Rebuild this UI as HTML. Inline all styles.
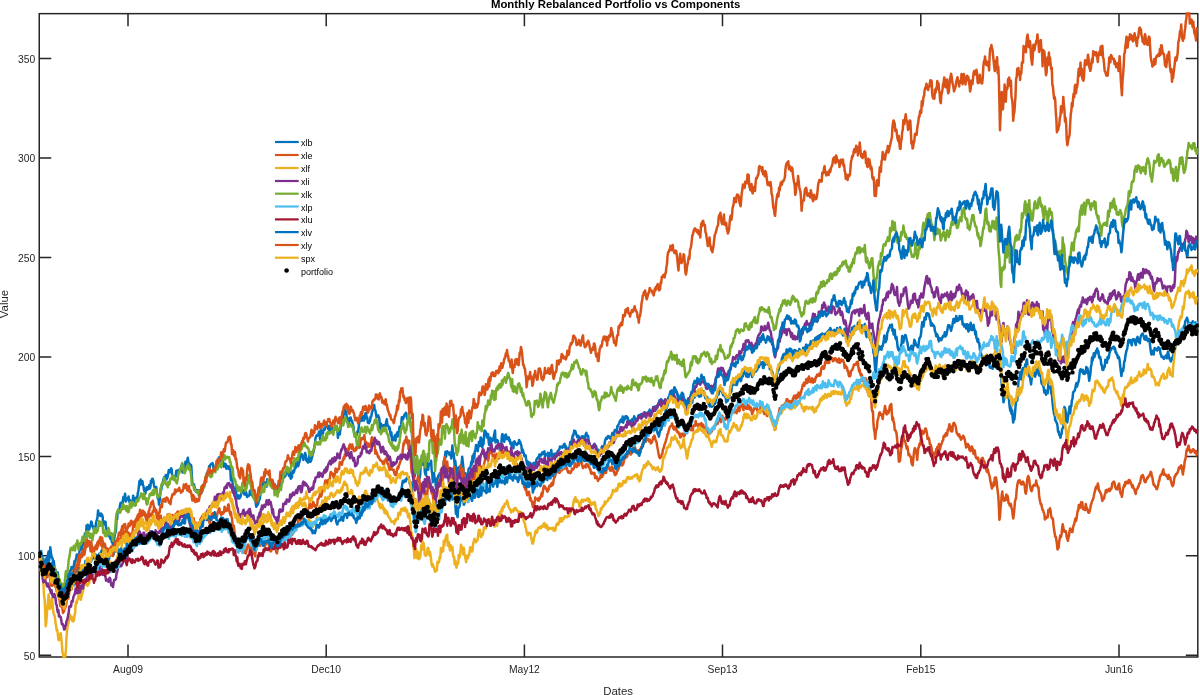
<!DOCTYPE html>
<html><head><meta charset="utf-8"><title>Monthly Rebalanced Portfolio vs Components</title>
<style>
html,body{margin:0;padding:0;background:#fff;}
body{width:1200px;height:695px;overflow:hidden;position:relative;font-family:"Liberation Sans",sans-serif;}
svg{position:absolute;left:0;top:0;}
text{font-family:"Liberation Sans",sans-serif;fill:#262626;}
</style></head><body>
<svg width="1200" height="695" viewBox="0 0 1200 695">
<rect width="1200" height="695" fill="#fff"/>
<defs><clipPath id="c"><rect x="38.3" y="12.3" width="1160.4" height="646.2"/></clipPath></defs>
<!--BOX-->
<rect x="39.25" y="13.65" width="1158.55" height="643.35" fill="none" stroke="#262626" stroke-width="1.5"/>
<path d="M128.0,657v-12.5M128.0,13.65v12.5M326.2,657v-12.5M326.2,13.65v12.5M524.4,657v-12.5M524.4,13.65v12.5M722.5,657v-12.5M722.5,13.65v12.5M920.8,657v-12.5M920.8,13.65v12.5M1119.0,657v-12.5M1119.0,13.65v12.5M39.25,58.4h12M1197.8,58.4h-12M39.25,158.0h12M1197.8,158.0h-12M39.25,257.5h12M1197.8,257.5h-12M39.25,357.0h12M1197.8,357.0h-12M39.25,456.4h12M1197.8,456.4h-12M39.25,555.8h12M1197.8,555.8h-12M39.25,655.2h12M1197.8,655.2h-12" stroke="#262626" stroke-width="1.5" fill="none"/>
<g clip-path="url(#c)">
<path d="M39.4,556.0 40.0,557.9 40.6,558.9 41.1,557.0 41.7,560.4 42.3,562.5 42.9,566.9 43.4,560.4 44.0,565.8 44.6,567.4 45.2,561.6 45.7,563.1 46.3,558.7 46.9,557.6 47.5,557.5 48.0,554.5 48.6,551.5 49.2,560.6 49.8,554.6 50.3,547.3 50.9,552.6 51.5,556.5 52.1,557.6 52.6,558.7 53.2,562.6 53.8,560.9 54.4,567.2 54.9,572.3 55.5,569.8 56.1,575.3 56.7,578.5 57.2,573.2 57.8,572.4 58.4,578.5 59.0,584.8 59.5,584.7 60.1,586.4 60.7,585.6 61.3,586.8 61.8,588.7 62.4,594.4 63.0,590.6 63.6,596.4 64.1,592.7 64.7,592.9 65.3,589.1 65.9,585.5 66.4,584.8 67.0,580.0 67.6,580.7 68.2,580.9 68.7,574.0 69.3,574.1 69.9,571.0 70.5,571.1 71.0,569.2 71.6,566.9 72.2,569.1 72.8,567.2 73.3,569.2 73.9,565.2 74.5,561.2 75.1,562.3 75.6,560.4 76.2,557.7 76.8,554.4 77.4,554.4 77.9,558.3 78.5,559.1 79.1,555.2 79.7,548.8 80.2,547.8 80.8,546.6 81.4,546.0 82.0,550.0 82.5,544.0 83.1,545.1 83.7,538.6 84.3,542.3 84.8,533.5 85.4,535.6 86.0,535.7 86.6,525.4 87.1,526.8 87.7,524.7 88.3,530.3 88.9,529.0 89.4,529.2 90.0,525.4 90.6,525.3 91.2,521.5 91.7,522.2 92.3,526.5 92.9,526.1 93.5,528.8 94.0,527.9 94.6,530.3 95.2,529.5 95.8,524.4 96.3,521.4 96.9,519.9 97.5,517.4 98.1,510.4 98.6,513.5 99.2,515.1 99.8,513.9 100.4,516.0 100.9,513.4 101.5,514.5 102.1,514.9 102.7,517.1 103.2,525.3 103.8,521.3 104.4,521.4 105.0,522.3 105.5,521.8 106.1,528.4 106.7,529.2 107.3,529.3 107.9,532.4 108.4,531.0 109.0,535.1 109.6,536.9 110.2,538.6 110.7,536.1 111.3,538.4 111.9,542.4 112.5,541.8 113.0,545.9 113.6,545.8 114.2,540.0 114.8,533.3 115.3,533.2 115.9,531.0 116.5,519.3 117.1,519.1 117.6,511.9 118.2,509.9 118.8,510.4 119.4,509.5 119.9,506.1 120.5,502.9 121.1,502.7 121.7,504.5 122.2,507.3 122.8,500.9 123.4,496.9 124.0,500.0 124.5,497.7 125.1,493.8 125.7,501.6 126.3,499.8 126.8,499.1 127.4,498.2 128.0,499.2 128.6,496.5 129.1,501.7 129.7,499.9 130.3,501.5 130.9,501.4 131.4,500.9 132.0,501.0 132.6,501.5 133.2,495.7 133.7,503.4 134.3,497.9 134.9,499.7 135.5,504.3 136.0,498.2 136.6,497.0 137.2,498.5 137.8,493.1 138.3,491.3 138.9,486.2 139.5,481.1 140.1,484.8 140.6,479.5 141.2,483.1 141.8,484.2 142.4,481.2 142.9,485.0 143.5,486.1 144.1,490.5 144.7,488.6 145.2,494.0 145.8,490.7 146.4,488.0 147.0,487.1 147.5,489.7 148.1,488.6 148.7,488.8 149.3,485.0 149.8,488.6 150.4,486.8 151.0,480.7 151.6,482.3 152.1,479.0 152.7,478.8 153.3,480.6 153.9,484.8 154.4,487.0 155.0,487.2 155.6,488.6 156.2,487.0 156.7,490.9 157.3,495.2 157.9,498.9 158.5,497.5 159.0,504.7 159.6,500.8 160.2,494.6 160.8,488.7 161.3,489.8 161.9,484.7 162.5,485.2 163.1,480.6 163.6,478.7 164.2,477.2 164.8,476.7 165.4,476.8 165.9,475.0 166.5,479.5 167.1,478.2 167.7,476.6 168.2,473.7 168.8,470.0 169.4,470.9 170.0,472.1 170.5,470.3 171.1,468.3 171.7,469.3 172.3,477.2 172.8,478.4 173.4,479.4 174.0,476.4 174.6,476.2 175.1,477.2 175.7,476.5 176.3,470.7 176.9,472.2 177.5,470.5 178.0,474.2 178.6,471.9 179.2,469.7 179.8,469.3 180.3,469.4 180.9,468.2 181.5,465.4 182.1,471.2 182.6,472.5 183.2,472.4 183.8,470.6 184.4,470.1 184.9,464.5 185.5,461.8 186.1,461.6 186.7,464.2 187.2,460.4 187.8,457.7 188.4,462.1 189.0,463.7 189.5,463.6 190.1,465.5 190.7,464.7 191.3,465.8 191.8,475.2 192.4,483.0 193.0,484.3 193.6,485.4 194.1,484.6 194.7,488.1 195.3,489.5 195.9,491.8 196.4,491.1 197.0,490.1 197.6,492.7 198.2,490.2 198.7,491.8 199.3,491.1 199.9,494.2 200.5,490.0 201.0,493.8 201.6,492.2 202.2,490.6 202.8,489.0 203.3,487.3 203.9,484.7 204.5,483.4 205.1,480.4 205.6,479.1 206.2,477.7 206.8,473.3 207.4,474.8 207.9,471.5 208.5,474.3 209.1,466.2 209.7,467.8 210.2,465.1 210.8,464.5 211.4,463.9 212.0,463.3 212.5,463.1 213.1,464.6 213.7,470.2 214.3,468.7 214.8,467.9 215.4,469.3 216.0,466.6 216.6,468.0 217.1,463.8 217.7,460.5 218.3,461.8 218.9,457.5 219.4,460.8 220.0,457.4 220.6,459.6 221.2,460.5 221.7,462.3 222.3,460.4 222.9,460.2 223.5,464.2 224.0,466.7 224.6,464.4 225.2,463.7 225.8,464.4 226.3,468.7 226.9,466.0 227.5,465.9 228.1,467.0 228.6,468.9 229.2,466.5 229.8,467.5 230.4,470.1 230.9,480.2 231.5,479.2 232.1,478.0 232.7,484.1 233.2,487.7 233.8,491.5 234.4,487.5 235.0,487.8 235.5,488.0 236.1,491.7 236.7,497.9 237.3,498.4 237.8,496.5 238.4,495.4 239.0,498.5 239.6,498.4 240.1,497.1 240.7,496.4 241.3,491.9 241.9,491.0 242.4,490.2 243.0,492.4 243.6,490.3 244.2,494.4 244.8,492.7 245.3,494.7 245.9,491.6 246.5,493.7 247.1,497.0 247.6,496.6 248.2,495.6 248.8,495.7 249.4,495.4 249.9,490.8 250.5,494.6 251.1,490.9 251.7,489.6 252.2,492.0 252.8,496.8 253.4,496.6 254.0,498.1 254.5,497.9 255.1,500.7 255.7,502.7 256.3,506.7 256.8,506.0 257.4,502.4 258.0,504.5 258.6,501.4 259.1,497.0 259.7,499.6 260.3,494.1 260.9,493.1 261.4,487.9 262.0,488.5 262.6,483.6 263.2,482.0 263.7,483.7 264.3,483.7 264.9,482.3 265.5,485.1 266.0,485.1 266.6,486.6 267.2,479.2 267.8,480.6 268.3,482.8 268.9,481.1 269.5,482.6 270.1,482.2 270.6,482.4 271.2,484.3 271.8,484.6 272.4,485.6 272.9,481.3 273.5,485.3 274.1,485.1 274.7,484.2 275.2,486.0 275.8,485.7 276.4,491.6 277.0,490.1 277.5,489.6 278.1,489.3 278.7,489.4 279.3,486.3 279.8,487.8 280.4,484.1 281.0,481.4 281.6,479.0 282.1,474.6 282.7,477.1 283.3,478.2 283.9,477.5 284.4,477.2 285.0,476.0 285.6,475.5 286.2,472.8 286.7,473.5 287.3,471.7 287.9,469.1 288.5,473.5 289.0,475.9 289.6,471.5 290.2,475.5 290.8,478.7 291.3,476.7 291.9,477.3 292.5,471.0 293.1,470.9 293.6,472.6 294.2,471.0 294.8,468.5 295.4,466.4 295.9,467.6 296.5,461.1 297.1,462.7 297.7,463.1 298.2,466.2 298.8,463.7 299.4,462.0 300.0,459.2 300.5,455.0 301.1,454.4 301.7,454.1 302.3,455.5 302.8,457.6 303.4,459.9 304.0,457.1 304.6,456.2 305.1,452.9 305.7,455.1 306.3,460.6 306.9,459.1 307.4,461.9 308.0,462.5 308.6,461.1 309.2,455.8 309.7,459.7 310.3,461.8 310.9,461.2 311.5,459.1 312.1,457.0 312.6,454.3 313.2,452.9 313.8,450.4 314.4,447.2 314.9,443.8 315.5,438.1 316.1,436.6 316.7,435.2 317.2,435.7 317.8,435.2 318.4,434.3 319.0,431.7 319.5,433.8 320.1,439.6 320.7,430.1 321.3,431.4 321.8,433.5 322.4,434.5 323.0,433.4 323.6,428.8 324.1,429.9 324.7,429.7 325.3,427.9 325.9,423.5 326.4,423.0 327.0,425.4 327.6,425.5 328.2,429.1 328.7,426.1 329.3,431.7 329.9,426.5 330.5,430.8 331.0,431.3 331.6,431.3 332.2,431.2 332.8,428.2 333.3,428.3 333.9,428.2 334.5,427.2 335.1,426.0 335.6,428.6 336.2,429.8 336.8,429.1 337.4,431.0 337.9,437.9 338.5,430.8 339.1,429.1 339.7,434.5 340.2,430.9 340.8,426.9 341.4,421.7 342.0,425.0 342.5,417.5 343.1,418.7 343.7,411.9 344.3,410.6 344.8,409.1 345.4,414.0 346.0,411.1 346.6,415.7 347.1,422.0 347.7,422.2 348.3,426.7 348.9,423.8 349.4,417.9 350.0,420.2 350.6,417.4 351.2,420.6 351.7,420.2 352.3,422.0 352.9,424.6 353.5,426.6 354.0,432.1 354.6,433.4 355.2,436.2 355.8,436.9 356.3,436.0 356.9,433.7 357.5,431.3 358.1,431.9 358.6,428.5 359.2,422.4 359.8,420.4 360.4,421.3 360.9,417.3 361.5,418.3 362.1,420.6 362.7,418.0 363.2,416.3 363.8,420.6 364.4,419.5 365.0,415.1 365.5,413.2 366.1,412.9 366.7,418.4 367.3,417.6 367.8,422.7 368.4,422.0 369.0,423.1 369.6,422.0 370.1,420.5 370.7,416.5 371.3,416.6 371.9,412.6 372.4,411.0 373.0,409.9 373.6,408.4 374.2,405.0 374.7,409.6 375.3,410.2 375.9,413.3 376.5,417.2 377.0,417.2 377.6,416.5 378.2,415.3 378.8,417.5 379.3,418.4 379.9,429.0 380.5,426.1 381.1,423.8 381.7,427.0 382.2,425.7 382.8,427.4 383.4,425.3 384.0,427.9 384.5,425.0 385.1,427.0 385.7,424.9 386.3,421.1 386.8,419.2 387.4,425.6 388.0,425.4 388.6,426.4 389.1,428.9 389.7,427.5 390.3,432.3 390.9,435.7 391.4,432.6 392.0,440.2 392.6,437.9 393.2,440.4 393.7,438.2 394.3,437.1 394.9,435.3 395.5,440.7 396.0,435.0 396.6,434.3 397.2,432.4 397.8,436.5 398.3,434.9 398.9,431.6 399.5,426.8 400.1,428.9 400.6,427.6 401.2,424.7 401.8,417.2 402.4,417.5 402.9,419.6 403.5,417.6 404.1,415.6 404.7,414.4 405.2,415.3 405.8,412.8 406.4,414.7 407.0,418.5 407.5,418.7 408.1,418.8 408.7,420.4 409.3,420.5 409.8,418.1 410.4,425.9 411.0,425.4 411.6,430.6 412.1,435.6 412.7,449.2 413.3,452.7 413.9,463.3 414.4,477.1 415.0,475.3 415.6,464.4 416.2,461.6 416.7,460.3 417.3,467.5 417.9,472.6 418.5,475.7 419.0,479.6 419.6,478.2 420.2,475.0 420.8,459.7 421.3,462.7 421.9,455.8 422.5,464.7 423.1,460.1 423.6,460.6 424.2,453.6 424.8,471.9 425.4,474.1 425.9,475.2 426.5,462.3 427.1,463.8 427.7,463.4 428.2,469.7 428.8,464.4 429.4,464.8 430.0,463.2 430.5,464.3 431.1,460.7 431.7,471.0 432.3,474.1 432.8,482.2 433.4,474.6 434.0,473.0 434.6,479.0 435.1,478.2 435.7,485.3 436.3,489.2 436.9,488.1 437.4,478.9 438.0,476.8 438.6,475.2 439.2,474.9 439.7,473.3 440.3,475.2 440.9,473.2 441.5,480.3 442.0,476.3 442.6,471.1 443.2,470.2 443.8,461.3 444.3,459.6 444.9,457.2 445.5,451.7 446.1,456.7 446.6,452.0 447.2,451.2 447.8,453.0 448.4,452.4 449.0,453.3 449.5,455.0 450.1,452.4 450.7,453.6 451.3,458.5 451.8,453.4 452.4,445.4 453.0,453.4 453.6,453.1 454.1,458.0 454.7,465.8 455.3,460.8 455.9,466.9 456.4,475.1 457.0,467.9 457.6,467.9 458.2,472.7 458.7,472.1 459.3,467.0 459.9,467.6 460.5,466.0 461.0,467.0 461.6,463.8 462.2,456.7 462.8,462.2 463.3,467.4 463.9,475.6 464.5,473.4 465.1,478.6 465.6,473.3 466.2,477.6 466.8,478.4 467.4,478.9 467.9,480.2 468.5,469.5 469.1,468.1 469.7,467.9 470.2,467.7 470.8,465.4 471.4,461.4 472.0,463.9 472.5,456.1 473.1,461.9 473.7,453.9 474.3,458.3 474.8,451.1 475.4,450.6 476.0,445.1 476.6,448.2 477.1,448.9 477.7,451.2 478.3,446.8 478.9,442.0 479.4,443.7 480.0,446.0 480.6,437.4 481.2,438.1 481.7,443.2 482.3,447.6 482.9,444.3 483.5,444.1 484.0,436.3 484.6,430.4 485.2,431.5 485.8,431.9 486.3,433.4 486.9,437.5 487.5,433.9 488.1,434.1 488.6,441.1 489.2,445.1 489.8,444.0 490.4,437.8 490.9,442.5 491.5,439.8 492.1,441.3 492.7,438.8 493.2,440.4 493.8,436.4 494.4,433.5 495.0,430.4 495.5,442.4 496.1,440.8 496.7,442.0 497.3,440.1 497.8,440.9 498.4,445.0 499.0,444.5 499.6,449.3 500.1,446.3 500.7,446.0 501.3,444.4 501.9,435.7 502.4,434.1 503.0,435.5 503.6,438.5 504.2,441.8 504.7,435.5 505.3,439.3 505.9,434.6 506.5,437.2 507.0,439.0 507.6,438.8 508.2,439.4 508.8,437.4 509.3,441.0 509.9,439.9 510.5,444.0 511.1,442.9 511.6,445.5 512.2,446.5 512.8,442.7 513.4,448.4 513.9,442.2 514.5,441.3 515.1,443.0 515.7,444.1 516.3,443.8 516.8,445.0 517.4,443.6 518.0,443.8 518.6,443.5 519.1,439.9 519.7,441.5 520.3,442.1 520.9,444.5 521.4,445.8 522.0,452.5 522.6,449.4 523.2,451.8 523.7,452.6 524.3,456.1 524.9,455.4 525.5,455.3 526.0,458.4 526.6,461.6 527.2,464.6 527.8,461.7 528.3,466.4 528.9,462.6 529.5,464.2 530.1,462.9 530.6,463.9 531.2,465.1 531.8,464.6 532.4,465.7 532.9,468.7 533.5,462.9 534.1,464.9 534.7,464.0 535.2,462.6 535.8,464.3 536.4,460.0 537.0,458.4 537.5,458.2 538.1,457.3 538.7,457.9 539.3,454.6 539.8,456.7 540.4,454.6 541.0,455.5 541.6,454.5 542.1,452.7 542.7,452.2 543.3,453.7 543.9,451.8 544.4,451.2 545.0,456.8 545.6,454.2 546.2,454.3 546.7,454.3 547.3,455.5 547.9,452.7 548.5,458.6 549.0,453.4 549.6,456.2 550.2,453.8 550.8,452.4 551.3,450.0 551.9,456.3 552.5,456.9 553.1,457.3 553.6,454.5 554.2,453.9 554.8,454.3 555.4,453.5 555.9,457.2 556.5,456.4 557.1,453.9 557.7,451.2 558.2,451.0 558.8,449.8 559.4,449.2 560.0,446.6 560.5,446.9 561.1,446.6 561.7,446.6 562.3,447.8 562.8,447.5 563.4,446.1 564.0,444.1 564.6,443.9 565.1,447.5 565.7,445.9 566.3,447.2 566.9,451.6 567.4,450.1 568.0,451.6 568.6,448.5 569.2,447.4 569.7,446.6 570.3,441.9 570.9,442.8 571.5,441.2 572.0,439.2 572.6,435.6 573.2,436.1 573.8,433.0 574.3,430.6 574.9,433.2 575.5,431.4 576.1,434.1 576.6,434.7 577.2,437.3 577.8,436.4 578.4,435.8 578.9,437.4 579.5,441.5 580.1,441.7 580.7,442.5 581.2,437.5 581.8,436.4 582.4,436.3 583.0,436.3 583.5,438.1 584.1,439.0 584.7,439.9 585.3,435.8 585.9,433.8 586.4,432.9 587.0,436.1 587.6,435.5 588.2,436.3 588.7,441.4 589.3,443.6 589.9,446.6 590.5,447.0 591.0,447.9 591.6,446.3 592.2,447.9 592.8,448.2 593.3,447.5 593.9,444.7 594.5,443.7 595.1,445.9 595.6,445.5 596.2,446.2 596.8,449.6 597.4,450.9 597.9,450.7 598.5,449.8 599.1,452.8 599.7,455.2 600.2,452.2 600.8,451.5 601.4,448.1 602.0,446.4 602.5,448.5 603.1,446.2 603.7,446.5 604.3,445.5 604.8,442.1 605.4,439.7 606.0,438.1 606.6,437.7 607.1,438.8 607.7,436.4 608.3,436.1 608.9,436.4 609.4,437.4 610.0,438.4 610.6,437.7 611.2,436.6 611.7,435.8 612.3,432.9 612.9,434.7 613.5,432.4 614.0,435.5 614.6,430.5 615.2,429.9 615.8,431.3 616.3,429.9 616.9,430.5 617.5,426.0 618.1,426.0 618.6,424.2 619.2,423.4 619.8,421.2 620.4,421.3 620.9,419.6 621.5,421.7 622.1,420.1 622.7,416.6 623.2,422.7 623.8,419.7 624.4,419.9 625.0,418.3 625.5,416.2 626.1,418.3 626.7,416.4 627.3,418.5 627.8,417.6 628.4,422.9 629.0,421.5 629.6,420.8 630.1,420.6 630.7,422.9 631.3,420.5 631.9,421.1 632.4,418.9 633.0,421.8 633.6,418.8 634.2,416.3 634.7,417.8 635.3,418.5 635.9,419.3 636.5,420.7 637.0,419.4 637.6,418.8 638.2,416.0 638.8,415.1 639.3,416.2 639.9,417.7 640.5,414.6 641.1,414.1 641.6,417.3 642.2,417.2 642.8,416.7 643.4,413.7 643.9,413.8 644.5,412.2 645.1,416.2 645.7,413.6 646.2,413.1 646.8,413.0 647.4,414.3 648.0,413.1 648.5,411.6 649.1,411.4 649.7,409.6 650.3,412.9 650.8,413.4 651.4,412.3 652.0,412.3 652.6,410.3 653.2,407.8 653.7,407.2 654.3,409.0 654.9,406.5 655.5,409.7 656.0,409.6 656.6,406.1 657.2,407.3 657.8,406.4 658.3,403.6 658.9,402.4 659.5,400.3 660.1,401.6 660.6,401.5 661.2,399.1 661.8,404.0 662.4,402.2 662.9,400.7 663.5,404.8 664.1,405.6 664.7,406.8 665.2,404.6 665.8,403.6 666.4,403.9 667.0,405.3 667.5,401.6 668.1,398.7 668.7,396.9 669.3,397.7 669.8,397.1 670.4,391.5 671.0,392.3 671.6,390.5 672.1,391.1 672.7,392.2 673.3,392.4 673.9,389.0 674.4,387.4 675.0,390.2 675.6,392.2 676.2,390.5 676.7,392.7 677.3,393.7 677.9,395.9 678.5,395.8 679.0,397.9 679.6,398.9 680.2,397.7 680.8,398.0 681.3,395.9 681.9,392.8 682.5,397.0 683.1,399.2 683.6,401.9 684.2,399.2 684.8,400.6 685.4,402.2 685.9,403.3 686.5,400.7 687.1,401.5 687.7,402.5 688.2,398.4 688.8,398.3 689.4,398.2 690.0,400.7 690.5,401.0 691.1,403.7 691.7,402.7 692.3,402.7 692.8,398.5 693.4,397.6 694.0,395.8 694.6,397.6 695.1,395.3 695.7,391.9 696.3,393.5 696.9,395.3 697.4,393.4 698.0,393.4 698.6,392.6 699.2,396.7 699.7,395.4 700.3,395.6 700.9,396.3 701.5,391.9 702.0,392.3 702.6,391.8 703.2,393.4 703.8,391.4 704.3,393.6 704.9,396.6 705.5,398.4 706.1,398.9 706.6,398.1 707.2,397.1 707.8,399.7 708.4,403.9 708.9,402.9 709.5,406.3 710.1,406.5 710.7,405.1 711.2,404.4 711.8,406.8 712.4,405.4 713.0,406.1 713.5,405.6 714.1,403.4 714.7,404.1 715.3,403.1 715.8,400.1 716.4,398.0 717.0,396.0 717.6,391.6 718.1,393.2 718.7,394.4 719.3,388.8 719.9,389.5 720.4,388.9 721.0,390.9 721.6,388.2 722.2,392.4 722.8,393.9 723.3,395.2 723.9,394.7 724.5,395.9 725.1,397.0 725.6,396.8 726.2,402.4 726.8,400.8 727.4,401.2 727.9,400.5 728.5,398.1 729.1,395.6 729.7,395.5 730.2,393.3 730.8,390.1 731.4,391.5 732.0,384.8 732.5,384.6 733.1,384.6 733.7,384.9 734.3,382.0 734.8,380.9 735.4,381.6 736.0,385.1 736.6,385.1 737.1,384.2 737.7,381.5 738.3,378.4 738.9,377.2 739.4,378.0 740.0,378.8 740.6,381.3 741.2,380.5 741.7,376.1 742.3,376.6 742.9,376.3 743.5,373.6 744.0,370.5 744.6,370.2 745.2,373.9 745.8,373.0 746.3,376.6 746.9,371.6 747.5,373.8 748.1,376.9 748.6,376.9 749.2,373.0 749.8,373.2 750.4,370.7 750.9,371.7 751.5,374.1 752.1,377.0 752.7,372.6 753.2,375.1 753.8,373.3 754.4,370.4 755.0,371.1 755.5,371.6 756.1,371.6 756.7,368.7 757.3,369.6 757.8,367.3 758.4,367.4 759.0,367.0 759.6,361.3 760.1,364.4 760.7,364.4 761.3,362.8 761.9,362.9 762.4,362.1 763.0,367.9 763.6,368.0 764.2,362.3 764.7,363.8 765.3,364.8 765.9,360.9 766.5,362.7 767.0,361.1 767.6,361.9 768.2,364.6 768.8,365.0 769.3,366.1 769.9,369.3 770.5,368.2 771.1,370.2 771.6,370.5 772.2,371.8 772.8,374.2 773.4,377.9 773.9,384.3 774.5,385.1 775.1,384.4 775.7,382.2 776.2,382.3 776.8,375.0 777.4,373.4 778.0,368.9 778.5,370.6 779.1,367.4 779.7,365.7 780.3,362.9 780.8,362.5 781.4,362.2 782.0,357.6 782.6,358.9 783.1,354.7 783.7,357.1 784.3,353.7 784.9,354.5 785.4,358.0 786.0,355.2 786.6,349.4 787.2,355.8 787.7,353.5 788.3,351.9 788.9,349.5 789.5,348.8 790.1,348.6 790.6,351.5 791.2,349.3 791.8,350.8 792.4,352.5 792.9,356.3 793.5,353.4 794.1,350.6 794.7,350.0 795.2,352.9 795.8,351.5 796.4,350.9 797.0,353.5 797.5,354.6 798.1,352.3 798.7,352.9 799.3,349.0 799.8,350.5 800.4,353.1 801.0,352.0 801.6,354.1 802.1,353.2 802.7,350.3 803.3,347.8 803.9,348.7 804.4,349.9 805.0,351.6 805.6,346.6 806.2,344.6 806.7,348.5 807.3,345.5 807.9,347.7 808.5,345.9 809.0,346.8 809.6,344.5 810.2,344.5 810.8,341.3 811.3,343.2 811.9,342.1 812.5,343.4 813.1,340.5 813.6,343.1 814.2,345.5 814.8,341.0 815.4,337.7 815.9,341.2 816.5,339.8 817.1,337.0 817.7,336.3 818.2,338.2 818.8,339.1 819.4,335.2 820.0,337.4 820.5,335.6 821.1,334.3 821.7,333.9 822.3,333.5 822.8,335.1 823.4,334.7 824.0,336.6 824.6,334.1 825.1,334.9 825.7,333.6 826.3,334.0 826.9,332.2 827.4,332.8 828.0,331.2 828.6,332.5 829.2,329.7 829.7,331.3 830.3,328.1 830.9,329.4 831.5,332.0 832.0,330.8 832.6,331.5 833.2,331.6 833.8,330.5 834.3,329.8 834.9,330.5 835.5,331.4 836.1,331.6 836.6,331.5 837.2,328.0 837.8,330.2 838.4,329.7 838.9,332.2 839.5,330.6 840.1,327.3 840.7,330.7 841.2,331.2 841.8,333.3 842.4,332.5 843.0,335.5 843.5,334.3 844.1,330.4 844.7,328.7 845.3,329.0 845.8,333.0 846.4,336.6 847.0,341.3 847.6,339.8 848.1,338.7 848.7,339.7 849.3,341.0 849.9,336.2 850.4,338.3 851.0,334.4 851.6,330.3 852.2,327.4 852.7,327.4 853.3,330.9 853.9,328.3 854.5,325.9 855.0,328.0 855.6,330.1 856.2,327.3 856.8,327.4 857.4,327.9 857.9,322.8 858.5,322.4 859.1,327.0 859.7,327.7 860.2,329.5 860.8,327.5 861.4,325.3 862.0,327.8 862.5,325.8 863.1,327.6 863.7,331.0 864.3,327.8 864.8,324.1 865.4,329.4 866.0,334.8 866.6,337.0 867.1,335.5 867.7,331.6 868.3,329.7 868.9,332.1 869.4,333.3 870.0,337.1 870.6,340.5 871.2,333.5 871.7,342.6 872.3,345.0 872.9,346.2 873.5,353.5 874.0,352.9 874.6,362.1 875.2,370.1 875.8,372.2 876.3,365.9 876.9,357.4 877.5,352.3 878.1,350.6 878.6,345.7 879.2,349.6 879.8,347.7 880.4,348.6 880.9,346.9 881.5,349.8 882.1,346.0 882.7,346.2 883.2,343.6 883.8,339.9 884.4,335.4 885.0,338.8 885.5,342.3 886.1,340.8 886.7,339.3 887.3,332.8 887.8,331.8 888.4,329.9 889.0,327.7 889.6,327.4 890.1,325.1 890.7,327.3 891.3,327.4 891.9,324.5 892.4,330.9 893.0,328.9 893.6,334.5 894.2,334.3 894.7,330.0 895.3,337.2 895.9,339.2 896.5,337.0 897.0,341.0 897.6,346.8 898.2,349.4 898.8,350.4 899.3,349.0 899.9,351.5 900.5,352.8 901.1,344.7 901.6,344.0 902.2,336.0 902.8,340.0 903.4,342.5 903.9,338.0 904.5,336.7 905.1,335.1 905.7,335.2 906.2,337.3 906.8,340.9 907.4,342.3 908.0,346.3 908.5,349.8 909.1,347.9 909.7,348.2 910.3,350.8 910.8,351.1 911.4,345.8 912.0,347.0 912.6,351.8 913.1,347.2 913.7,345.8 914.3,339.8 914.9,341.1 915.4,342.3 916.0,345.1 916.6,345.5 917.2,345.2 917.7,347.2 918.3,347.2 918.9,341.5 919.5,338.0 920.0,337.6 920.6,336.6 921.2,332.3 921.8,325.6 922.3,322.1 922.9,326.6 923.5,326.6 924.1,322.2 924.6,317.5 925.2,318.4 925.8,319.5 926.4,313.4 927.0,313.3 927.5,313.3 928.1,315.1 928.7,313.8 929.3,316.0 929.8,319.1 930.4,320.5 931.0,325.5 931.6,323.7 932.1,323.4 932.7,325.6 933.3,325.1 933.9,326.0 934.4,327.1 935.0,331.6 935.6,332.3 936.2,336.2 936.7,336.4 937.3,334.5 937.9,337.1 938.5,340.0 939.0,341.4 939.6,338.0 940.2,339.0 940.8,339.7 941.3,340.1 941.9,338.8 942.5,337.3 943.1,335.8 943.6,336.0 944.2,336.4 944.8,332.2 945.4,336.4 945.9,335.8 946.5,334.7 947.1,331.3 947.7,327.9 948.2,325.2 948.8,325.3 949.4,325.2 950.0,326.7 950.5,328.8 951.1,330.8 951.7,327.8 952.3,325.8 952.8,322.6 953.4,319.1 954.0,322.7 954.6,322.6 955.1,318.6 955.7,321.0 956.3,316.0 956.9,318.5 957.4,321.1 958.0,319.9 958.6,320.2 959.2,318.5 959.7,315.9 960.3,318.8 960.9,319.1 961.5,316.7 962.0,316.1 962.6,324.5 963.2,323.6 963.8,325.0 964.3,326.5 964.9,324.5 965.5,324.6 966.1,328.6 966.6,326.7 967.2,324.2 967.8,328.9 968.4,331.5 968.9,330.0 969.5,324.7 970.1,325.3 970.7,322.8 971.2,330.0 971.8,326.7 972.4,329.9 973.0,326.9 973.5,324.7 974.1,328.4 974.7,330.3 975.3,334.6 975.8,331.4 976.4,337.8 977.0,339.3 977.6,341.8 978.1,339.0 978.7,342.9 979.3,343.5 979.9,349.5 980.4,352.6 981.0,353.4 981.6,355.8 982.2,358.3 982.7,362.2 983.3,363.8 983.9,363.3 984.5,362.4 985.0,361.1 985.6,362.4 986.2,365.4 986.8,363.8 987.3,364.5 987.9,361.1 988.5,364.7 989.1,362.9 989.6,367.0 990.2,367.7 990.8,367.2 991.4,367.7 991.9,367.2 992.5,368.8 993.1,367.0 993.7,360.6 994.3,361.4 994.8,359.4 995.4,364.8 996.0,367.5 996.6,360.0 997.1,365.3 997.7,368.5 998.3,366.8 998.9,368.0 999.4,355.0 1000.0,364.3 1000.6,369.4 1001.2,374.2 1001.7,384.5 1002.3,387.8 1002.9,394.5 1003.5,402.3 1004.0,400.3 1004.6,394.7 1005.2,388.6 1005.8,397.0 1006.3,394.3 1006.9,393.1 1007.5,397.2 1008.1,395.4 1008.6,393.7 1009.2,402.2 1009.8,408.1 1010.4,410.9 1010.9,406.3 1011.5,414.0 1012.1,410.3 1012.7,417.9 1013.2,422.5 1013.8,418.1 1014.4,419.5 1015.0,413.4 1015.5,406.8 1016.1,400.3 1016.7,401.1 1017.3,400.6 1017.8,394.2 1018.4,382.4 1019.0,377.9 1019.6,378.9 1020.1,372.2 1020.7,378.4 1021.3,379.5 1021.9,369.4 1022.4,373.4 1023.0,368.0 1023.6,368.6 1024.2,369.5 1024.7,368.1 1025.3,364.3 1025.9,367.7 1026.5,360.0 1027.0,359.4 1027.6,367.6 1028.2,369.7 1028.8,376.1 1029.3,376.3 1029.9,376.8 1030.5,380.5 1031.1,384.4 1031.6,379.6 1032.2,376.6 1032.8,375.3 1033.4,371.3 1033.9,374.7 1034.5,368.9 1035.1,376.7 1035.7,373.8 1036.2,374.3 1036.8,368.6 1037.4,369.0 1038.0,369.8 1038.5,366.8 1039.1,375.4 1039.7,374.1 1040.3,372.8 1040.8,375.1 1041.4,382.5 1042.0,384.2 1042.6,380.1 1043.1,385.7 1043.7,387.9 1044.3,392.5 1044.9,390.8 1045.4,390.3 1046.0,394.7 1046.6,391.8 1047.2,391.5 1047.7,393.2 1048.3,384.6 1048.9,380.4 1049.5,385.0 1050.0,388.3 1050.6,383.6 1051.2,393.3 1051.8,392.4 1052.3,399.6 1052.9,406.1 1053.5,410.0 1054.1,414.6 1054.6,413.1 1055.2,420.4 1055.8,420.4 1056.4,422.4 1056.9,423.0 1057.5,425.8 1058.1,431.8 1058.7,431.4 1059.2,434.9 1059.8,434.5 1060.4,437.7 1061.0,435.0 1061.6,433.5 1062.1,429.1 1062.7,428.2 1063.3,427.3 1063.9,414.0 1064.4,407.1 1065.0,408.1 1065.6,410.8 1066.2,421.6 1066.7,416.8 1067.3,422.4 1067.9,418.1 1068.5,412.9 1069.0,410.7 1069.6,406.4 1070.2,413.5 1070.8,406.5 1071.3,406.5 1071.9,400.2 1072.5,399.0 1073.1,392.5 1073.6,391.7 1074.2,391.4 1074.8,390.2 1075.4,388.2 1075.9,385.0 1076.5,383.0 1077.1,386.4 1077.7,383.4 1078.2,382.6 1078.8,380.6 1079.4,375.5 1080.0,370.2 1080.5,369.2 1081.1,371.8 1081.7,370.8 1082.3,370.7 1082.8,369.9 1083.4,373.7 1084.0,373.7 1084.6,373.9 1085.1,371.3 1085.7,373.0 1086.3,367.0 1086.9,369.9 1087.4,368.1 1088.0,371.3 1088.6,375.5 1089.2,380.8 1089.7,377.5 1090.3,374.8 1090.9,367.1 1091.5,364.4 1092.0,357.6 1092.6,360.4 1093.2,357.6 1093.8,353.2 1094.3,357.3 1094.9,355.3 1095.5,353.5 1096.1,350.7 1096.6,352.3 1097.2,348.4 1097.8,352.6 1098.4,351.2 1098.9,356.2 1099.5,358.2 1100.1,356.9 1100.7,359.2 1101.2,364.5 1101.8,365.0 1102.4,369.6 1103.0,370.0 1103.5,369.5 1104.1,366.5 1104.7,366.9 1105.3,359.7 1105.8,361.0 1106.4,361.0 1107.0,362.6 1107.6,356.9 1108.1,357.0 1108.7,358.4 1109.3,353.9 1109.9,352.0 1110.4,349.7 1111.0,349.8 1111.6,347.9 1112.2,347.8 1112.7,348.0 1113.3,346.7 1113.9,346.7 1114.5,349.4 1115.0,348.1 1115.6,352.5 1116.2,352.2 1116.8,354.6 1117.3,354.6 1117.9,358.1 1118.5,356.6 1119.1,358.0 1119.6,360.1 1120.2,366.0 1120.8,371.0 1121.4,376.0 1121.9,372.2 1122.5,369.3 1123.1,371.1 1123.7,367.1 1124.2,361.5 1124.8,360.9 1125.4,355.9 1126.0,352.7 1126.5,350.6 1127.1,349.1 1127.7,345.6 1128.3,340.4 1128.8,339.9 1129.4,342.4 1130.0,339.9 1130.6,340.4 1131.2,343.0 1131.7,345.3 1132.3,341.0 1132.9,339.2 1133.5,339.2 1134.0,339.4 1134.6,340.6 1135.2,342.8 1135.8,345.1 1136.3,339.8 1136.9,338.2 1137.5,336.9 1138.1,339.0 1138.6,341.7 1139.2,340.7 1139.8,343.3 1140.4,338.2 1140.9,336.2 1141.5,334.8 1142.1,334.1 1142.7,333.5 1143.2,334.9 1143.8,336.3 1144.4,339.2 1145.0,338.2 1145.5,339.7 1146.1,336.0 1146.7,337.7 1147.3,339.6 1147.8,341.1 1148.4,339.4 1149.0,338.7 1149.6,340.9 1150.1,345.7 1150.7,350.6 1151.3,354.4 1151.9,351.8 1152.4,350.8 1153.0,353.8 1153.6,354.5 1154.2,350.5 1154.7,348.1 1155.3,348.6 1155.9,348.7 1156.5,349.5 1157.0,350.5 1157.6,350.3 1158.2,347.3 1158.8,347.6 1159.3,349.0 1159.9,348.5 1160.5,353.9 1161.1,355.0 1161.6,357.0 1162.2,356.2 1162.8,356.9 1163.4,357.8 1163.9,358.9 1164.5,357.2 1165.1,357.1 1165.7,355.6 1166.2,356.2 1166.8,358.3 1167.4,353.9 1168.0,351.6 1168.5,353.9 1169.1,357.4 1169.7,359.4 1170.3,358.5 1170.8,361.5 1171.4,360.4 1172.0,357.7 1172.6,358.9 1173.1,355.1 1173.7,354.5 1174.3,351.7 1174.9,349.3 1175.4,346.6 1176.0,342.8 1176.6,342.0 1177.2,343.6 1177.7,342.3 1178.3,340.8 1178.9,335.7 1179.5,338.1 1180.0,337.1 1180.6,334.9 1181.2,336.9 1181.8,333.4 1182.3,332.7 1182.9,331.2 1183.5,328.2 1184.1,325.8 1184.6,328.1 1185.2,321.7 1185.8,320.1 1186.4,319.9 1186.9,317.8 1187.5,319.4 1188.1,321.4 1188.7,326.6 1189.2,326.1 1189.8,328.0 1190.4,322.9 1191.0,326.6 1191.5,323.9 1192.1,323.7 1192.7,321.2 1193.3,323.8 1193.8,325.9 1194.4,325.0 1195.0,322.5 1195.6,325.1 1196.1,325.8 1196.7,325.2 1197.3,325.7" stroke="#0072BD" stroke-width="2.5" stroke-linejoin="round" fill="none"/>
<path d="M39.4,556.0 40.0,556.1 40.6,559.8 41.1,565.7 41.7,565.6 42.3,562.6 42.9,564.3 43.4,571.3 44.0,564.9 44.6,568.7 45.2,574.0 45.7,570.5 46.3,571.2 46.9,567.7 47.5,564.0 48.0,572.0 48.6,565.4 49.2,569.5 49.8,577.2 50.3,579.1 50.9,577.7 51.5,580.7 52.1,576.8 52.6,573.3 53.2,574.2 53.8,571.8 54.4,574.0 54.9,577.3 55.5,581.0 56.1,581.3 56.7,585.3 57.2,582.5 57.8,586.8 58.4,587.0 59.0,589.6 59.5,593.3 60.1,597.1 60.7,597.7 61.3,596.4 61.8,602.3 62.4,602.8 63.0,602.8 63.6,602.7 64.1,598.5 64.7,598.0 65.3,595.3 65.9,591.6 66.4,589.5 67.0,591.3 67.6,588.0 68.2,583.7 68.7,581.6 69.3,582.6 69.9,582.4 70.5,579.4 71.0,582.2 71.6,575.1 72.2,576.3 72.8,572.3 73.3,575.3 73.9,569.4 74.5,570.3 75.1,570.1 75.6,568.0 76.2,564.6 76.8,567.7 77.4,567.7 77.9,568.3 78.5,566.6 79.1,563.2 79.7,561.5 80.2,557.6 80.8,555.0 81.4,557.2 82.0,556.9 82.5,552.8 83.1,552.5 83.7,555.2 84.3,554.8 84.8,552.2 85.4,548.3 86.0,547.2 86.6,544.8 87.1,546.6 87.7,544.3 88.3,542.1 88.9,541.3 89.4,543.0 90.0,547.3 90.6,546.0 91.2,541.4 91.7,545.5 92.3,550.1 92.9,550.7 93.5,547.8 94.0,552.5 94.6,547.7 95.2,547.2 95.8,548.8 96.3,549.1 96.9,549.2 97.5,546.4 98.1,546.4 98.6,541.2 99.2,543.0 99.8,538.9 100.4,537.0 100.9,540.3 101.5,538.9 102.1,537.7 102.7,541.5 103.2,545.6 103.8,543.2 104.4,545.8 105.0,544.0 105.5,547.6 106.1,551.0 106.7,548.5 107.3,552.2 107.9,548.9 108.4,552.4 109.0,549.0 109.6,554.5 110.2,551.7 110.7,547.4 111.3,546.5 111.9,546.8 112.5,546.4 113.0,546.3 113.6,547.9 114.2,548.7 114.8,549.1 115.3,549.0 115.9,549.1 116.5,549.8 117.1,545.2 117.6,543.4 118.2,539.2 118.8,539.9 119.4,538.9 119.9,540.5 120.5,540.9 121.1,537.5 121.7,536.6 122.2,537.0 122.8,533.5 123.4,532.0 124.0,534.3 124.5,531.6 125.1,535.7 125.7,531.8 126.3,529.3 126.8,531.6 127.4,534.2 128.0,532.3 128.6,532.7 129.1,534.6 129.7,536.7 130.3,534.9 130.9,533.7 131.4,534.8 132.0,534.5 132.6,531.9 133.2,525.6 133.7,524.2 134.3,521.7 134.9,520.8 135.5,520.1 136.0,522.2 136.6,518.1 137.2,517.2 137.8,519.7 138.3,522.3 138.9,518.5 139.5,521.8 140.1,517.2 140.6,515.9 141.2,513.6 141.8,516.0 142.4,512.8 142.9,510.9 143.5,512.6 144.1,515.0 144.7,514.1 145.2,516.3 145.8,516.9 146.4,521.2 147.0,524.8 147.5,522.2 148.1,520.5 148.7,518.7 149.3,516.4 149.8,513.5 150.4,514.9 151.0,514.6 151.6,515.9 152.1,514.5 152.7,511.1 153.3,512.0 153.9,508.7 154.4,508.4 155.0,509.1 155.6,511.1 156.2,512.2 156.7,515.8 157.3,518.5 157.9,514.7 158.5,516.2 159.0,523.5 159.6,520.0 160.2,515.9 160.8,515.5 161.3,521.9 161.9,518.9 162.5,519.7 163.1,520.8 163.6,520.8 164.2,521.2 164.8,519.9 165.4,518.8 165.9,518.0 166.5,520.7 167.1,518.6 167.7,514.4 168.2,517.4 168.8,518.1 169.4,514.0 170.0,519.3 170.5,519.9 171.1,520.8 171.7,518.4 172.3,514.9 172.8,515.4 173.4,517.4 174.0,517.3 174.6,516.8 175.1,517.0 175.7,513.8 176.3,516.0 176.9,514.2 177.5,511.7 178.0,511.5 178.6,513.8 179.2,517.3 179.8,515.3 180.3,514.6 180.9,513.7 181.5,510.7 182.1,515.6 182.6,514.0 183.2,513.8 183.8,511.3 184.4,511.3 184.9,513.8 185.5,514.9 186.1,516.0 186.7,517.9 187.2,516.2 187.8,514.7 188.4,515.9 189.0,516.0 189.5,512.6 190.1,513.1 190.7,515.1 191.3,521.5 191.8,521.0 192.4,519.0 193.0,520.2 193.6,518.1 194.1,521.1 194.7,522.5 195.3,522.5 195.9,524.1 196.4,525.9 197.0,523.9 197.6,525.9 198.2,525.9 198.7,525.5 199.3,524.2 199.9,521.7 200.5,519.4 201.0,518.2 201.6,517.7 202.2,515.9 202.8,515.3 203.3,516.2 203.9,514.5 204.5,516.0 205.1,515.7 205.6,515.3 206.2,514.4 206.8,514.2 207.4,514.5 207.9,514.9 208.5,517.3 209.1,521.7 209.7,523.7 210.2,519.2 210.8,518.5 211.4,515.3 212.0,514.1 212.5,513.6 213.1,513.0 213.7,513.5 214.3,514.6 214.8,513.6 215.4,515.2 216.0,517.9 216.6,517.3 217.1,515.3 217.7,512.3 218.3,510.7 218.9,508.7 219.4,508.4 220.0,512.8 220.6,513.3 221.2,515.0 221.7,512.3 222.3,512.4 222.9,513.7 223.5,513.2 224.0,511.3 224.6,506.7 225.2,508.6 225.8,510.5 226.3,511.1 226.9,508.6 227.5,510.4 228.1,504.8 228.6,504.3 229.2,509.0 229.8,512.7 230.4,514.9 230.9,512.3 231.5,516.2 232.1,519.2 232.7,526.8 233.2,527.9 233.8,525.7 234.4,530.6 235.0,536.2 235.5,538.8 236.1,539.5 236.7,545.9 237.3,546.6 237.8,548.9 238.4,550.2 239.0,547.7 239.6,549.5 240.1,550.6 240.7,547.8 241.3,546.6 241.9,550.5 242.4,550.3 243.0,547.9 243.6,548.4 244.2,552.9 244.8,549.4 245.3,551.5 245.9,553.5 246.5,550.3 247.1,547.8 247.6,545.7 248.2,544.6 248.8,546.4 249.4,546.8 249.9,549.4 250.5,549.1 251.1,548.8 251.7,547.1 252.2,547.4 252.8,550.1 253.4,553.8 254.0,552.5 254.5,553.4 255.1,556.3 255.7,550.1 256.3,549.2 256.8,545.9 257.4,546.0 258.0,545.7 258.6,544.4 259.1,545.5 259.7,543.9 260.3,545.8 260.9,541.8 261.4,543.7 262.0,539.4 262.6,541.5 263.2,545.0 263.7,544.0 264.3,543.9 264.9,546.3 265.5,544.1 266.0,544.2 266.6,541.3 267.2,540.5 267.8,541.2 268.3,543.0 268.9,544.7 269.5,550.0 270.1,547.9 270.6,551.4 271.2,551.0 271.8,549.2 272.4,547.4 272.9,544.6 273.5,545.3 274.1,542.3 274.7,544.8 275.2,549.3 275.8,549.4 276.4,552.4 277.0,553.2 277.5,549.6 278.1,549.1 278.7,545.7 279.3,544.7 279.8,546.0 280.4,547.8 281.0,546.2 281.6,545.4 282.1,543.1 282.7,539.9 283.3,540.8 283.9,540.9 284.4,537.1 285.0,536.8 285.6,537.3 286.2,539.6 286.7,537.2 287.3,536.9 287.9,535.2 288.5,532.2 289.0,535.1 289.6,534.1 290.2,533.9 290.8,532.4 291.3,535.4 291.9,534.9 292.5,534.1 293.1,532.4 293.6,532.5 294.2,531.0 294.8,530.9 295.4,528.3 295.9,526.9 296.5,526.5 297.1,524.9 297.7,524.6 298.2,520.4 298.8,519.4 299.4,517.5 300.0,516.7 300.5,520.5 301.1,518.1 301.7,518.9 302.3,518.0 302.8,515.6 303.4,513.0 304.0,512.3 304.6,511.2 305.1,511.0 305.7,508.2 306.3,510.9 306.9,511.8 307.4,511.3 308.0,508.7 308.6,508.5 309.2,506.9 309.7,502.4 310.3,507.7 310.9,507.3 311.5,504.4 312.1,507.4 312.6,506.0 313.2,501.9 313.8,503.5 314.4,505.1 314.9,506.3 315.5,507.4 316.1,505.8 316.7,505.6 317.2,504.0 317.8,499.0 318.4,498.9 319.0,497.6 319.5,496.0 320.1,493.2 320.7,496.4 321.3,496.4 321.8,493.6 322.4,491.1 323.0,488.6 323.6,489.1 324.1,490.0 324.7,483.9 325.3,480.6 325.9,485.1 326.4,480.7 327.0,481.7 327.6,484.1 328.2,480.0 328.7,480.9 329.3,481.7 329.9,478.0 330.5,472.3 331.0,472.0 331.6,474.1 332.2,473.2 332.8,474.6 333.3,476.2 333.9,478.3 334.5,475.5 335.1,472.2 335.6,468.4 336.2,470.6 336.8,472.2 337.4,470.6 337.9,468.9 338.5,468.9 339.1,469.0 339.7,462.3 340.2,463.1 340.8,462.2 341.4,462.8 342.0,464.7 342.5,460.6 343.1,460.6 343.7,457.3 344.3,458.6 344.8,454.4 345.4,456.2 346.0,455.7 346.6,453.6 347.1,448.7 347.7,449.8 348.3,451.2 348.9,449.5 349.4,445.5 350.0,444.4 350.6,447.1 351.2,446.7 351.7,448.7 352.3,444.4 352.9,448.5 353.5,450.0 354.0,451.1 354.6,450.3 355.2,450.6 355.8,447.6 356.3,449.8 356.9,447.9 357.5,446.4 358.1,441.9 358.6,446.0 359.2,447.9 359.8,447.3 360.4,442.4 360.9,438.2 361.5,439.9 362.1,438.0 362.7,438.6 363.2,437.5 363.8,438.8 364.4,435.1 365.0,442.1 365.5,443.2 366.1,441.8 366.7,443.3 367.3,444.4 367.8,447.1 368.4,443.6 369.0,444.7 369.6,446.5 370.1,446.4 370.7,445.0 371.3,440.3 371.9,437.3 372.4,438.6 373.0,442.6 373.6,439.9 374.2,443.2 374.7,444.6 375.3,453.6 375.9,450.3 376.5,452.6 377.0,453.0 377.6,455.5 378.2,457.4 378.8,456.6 379.3,458.1 379.9,459.7 380.5,460.5 381.1,460.4 381.7,461.3 382.2,461.5 382.8,463.7 383.4,462.0 384.0,464.8 384.5,460.7 385.1,461.4 385.7,459.1 386.3,458.4 386.8,459.2 387.4,463.7 388.0,463.2 388.6,465.6 389.1,468.2 389.7,470.0 390.3,467.3 390.9,467.4 391.4,467.7 392.0,469.6 392.6,470.1 393.2,470.0 393.7,469.8 394.3,473.3 394.9,474.8 395.5,472.5 396.0,475.3 396.6,473.0 397.2,468.8 397.8,466.8 398.3,468.5 398.9,465.5 399.5,464.3 400.1,462.0 400.6,461.1 401.2,455.1 401.8,456.0 402.4,453.5 402.9,449.5 403.5,443.3 404.1,444.7 404.7,440.5 405.2,440.9 405.8,439.5 406.4,436.6 407.0,442.9 407.5,439.9 408.1,443.0 408.7,449.6 409.3,440.7 409.8,451.3 410.4,455.7 411.0,462.4 411.6,472.4 412.1,467.9 412.7,475.9 413.3,478.8 413.9,475.0 414.4,487.4 415.0,490.4 415.6,485.7 416.2,488.7 416.7,485.2 417.3,480.2 417.9,477.0 418.5,475.8 419.0,478.6 419.6,481.8 420.2,491.4 420.8,489.0 421.3,492.8 421.9,484.5 422.5,484.8 423.1,486.2 423.6,483.3 424.2,494.2 424.8,493.7 425.4,494.7 425.9,491.5 426.5,492.9 427.1,496.2 427.7,488.4 428.2,481.4 428.8,483.1 429.4,484.0 430.0,486.0 430.5,486.3 431.1,489.9 431.7,493.5 432.3,487.0 432.8,494.7 433.4,501.0 434.0,503.8 434.6,502.0 435.1,507.2 435.7,497.4 436.3,491.8 436.9,495.9 437.4,493.2 438.0,487.0 438.6,484.2 439.2,483.9 439.7,479.2 440.3,483.2 440.9,469.7 441.5,486.1 442.0,483.7 442.6,479.6 443.2,472.9 443.8,461.0 444.3,462.7 444.9,457.0 445.5,465.0 446.1,469.9 446.6,465.3 447.2,461.7 447.8,468.5 448.4,467.3 449.0,471.3 449.5,469.9 450.1,471.4 450.7,478.9 451.3,475.5 451.8,478.0 452.4,481.5 453.0,475.9 453.6,471.1 454.1,466.8 454.7,471.7 455.3,485.0 455.9,481.4 456.4,487.9 457.0,480.8 457.6,476.3 458.2,477.2 458.7,471.7 459.3,474.9 459.9,470.9 460.5,465.4 461.0,478.7 461.6,468.7 462.2,469.8 462.8,473.7 463.3,468.6 463.9,486.4 464.5,475.0 465.1,483.4 465.6,483.1 466.2,489.5 466.8,484.1 467.4,481.3 467.9,480.6 468.5,490.4 469.1,486.8 469.7,482.6 470.2,472.3 470.8,477.4 471.4,480.1 472.0,481.0 472.5,476.3 473.1,469.7 473.7,471.3 474.3,479.0 474.8,472.9 475.4,477.3 476.0,468.0 476.6,464.3 477.1,472.4 477.7,466.3 478.3,466.5 478.9,463.6 479.4,460.9 480.0,466.4 480.6,466.3 481.2,470.6 481.7,468.4 482.3,467.2 482.9,470.7 483.5,467.5 484.0,464.2 484.6,461.7 485.2,458.6 485.8,453.9 486.3,453.1 486.9,452.3 487.5,458.3 488.1,460.7 488.6,458.4 489.2,453.6 489.8,453.1 490.4,449.1 490.9,452.9 491.5,449.4 492.1,452.4 492.7,455.8 493.2,458.1 493.8,459.0 494.4,460.8 495.0,454.7 495.5,458.7 496.1,456.1 496.7,453.9 497.3,458.6 497.8,458.3 498.4,458.7 499.0,457.8 499.6,454.6 500.1,450.1 500.7,451.8 501.3,448.7 501.9,448.9 502.4,453.1 503.0,452.3 503.6,451.0 504.2,453.4 504.7,454.4 505.3,452.6 505.9,452.8 506.5,455.3 507.0,454.8 507.6,450.7 508.2,453.2 508.8,456.6 509.3,454.5 509.9,455.2 510.5,455.6 511.1,455.0 511.6,458.2 512.2,459.6 512.8,457.9 513.4,457.9 513.9,459.5 514.5,457.0 515.1,458.7 515.7,462.6 516.3,465.7 516.8,463.9 517.4,465.1 518.0,472.1 518.6,473.2 519.1,471.1 519.7,473.3 520.3,476.5 520.9,472.2 521.4,474.0 522.0,476.0 522.6,481.4 523.2,483.8 523.7,483.5 524.3,487.3 524.9,488.1 525.5,489.7 526.0,487.7 526.6,492.3 527.2,495.2 527.8,493.0 528.3,493.5 528.9,491.7 529.5,494.8 530.1,499.9 530.6,498.0 531.2,501.0 531.8,501.3 532.4,504.4 532.9,507.1 533.5,502.3 534.1,504.4 534.7,502.5 535.2,497.5 535.8,499.5 536.4,499.2 537.0,499.1 537.5,498.6 538.1,500.7 538.7,500.7 539.3,497.7 539.8,499.0 540.4,497.2 541.0,495.9 541.6,493.1 542.1,496.3 542.7,493.0 543.3,488.1 543.9,485.7 544.4,488.0 545.0,486.7 545.6,488.7 546.2,488.2 546.7,490.1 547.3,491.6 547.9,491.0 548.5,489.7 549.0,486.8 549.6,485.5 550.2,485.5 550.8,486.2 551.3,483.9 551.9,482.8 552.5,485.3 553.1,484.3 553.6,480.1 554.2,477.9 554.8,477.0 555.4,475.3 555.9,472.2 556.5,471.3 557.1,472.2 557.7,469.6 558.2,468.7 558.8,470.3 559.4,472.9 560.0,472.3 560.5,470.7 561.1,470.1 561.7,469.7 562.3,470.1 562.8,465.6 563.4,465.8 564.0,466.3 564.6,468.7 565.1,466.8 565.7,466.0 566.3,468.2 566.9,467.6 567.4,470.5 568.0,472.3 568.6,471.1 569.2,472.8 569.7,472.7 570.3,473.1 570.9,472.2 571.5,470.6 572.0,468.6 572.6,469.9 573.2,469.3 573.8,468.4 574.3,467.0 574.9,462.9 575.5,465.6 576.1,466.5 576.6,467.0 577.2,466.5 577.8,462.9 578.4,461.8 578.9,465.3 579.5,462.1 580.1,462.2 580.7,462.1 581.2,461.4 581.8,462.8 582.4,466.2 583.0,468.0 583.5,466.5 584.1,466.8 584.7,467.0 585.3,465.3 585.9,467.4 586.4,464.0 587.0,466.1 587.6,464.6 588.2,464.9 588.7,467.3 589.3,466.9 589.9,469.6 590.5,469.7 591.0,473.2 591.6,473.7 592.2,473.1 592.8,472.6 593.3,474.0 593.9,474.1 594.5,473.0 595.1,478.2 595.6,477.9 596.2,476.4 596.8,476.9 597.4,478.5 597.9,481.0 598.5,479.6 599.1,479.4 599.7,478.7 600.2,477.5 600.8,474.8 601.4,476.4 602.0,477.1 602.5,475.1 603.1,475.2 603.7,472.7 604.3,471.4 604.8,471.7 605.4,472.7 606.0,472.9 606.6,469.5 607.1,467.2 607.7,466.6 608.3,466.3 608.9,468.5 609.4,467.8 610.0,470.4 610.6,468.5 611.2,470.6 611.7,466.5 612.3,467.7 612.9,468.7 613.5,471.5 614.0,471.1 614.6,474.5 615.2,475.1 615.8,474.1 616.3,474.1 616.9,471.6 617.5,471.0 618.1,469.3 618.6,469.1 619.2,465.9 619.8,465.6 620.4,463.4 620.9,462.0 621.5,463.4 622.1,465.5 622.7,464.7 623.2,464.3 623.8,461.6 624.4,458.0 625.0,458.6 625.5,457.7 626.1,455.2 626.7,457.3 627.3,456.1 627.8,454.0 628.4,452.3 629.0,453.1 629.6,451.6 630.1,453.1 630.7,454.6 631.3,453.5 631.9,453.0 632.4,449.1 633.0,447.2 633.6,449.5 634.2,447.8 634.7,445.9 635.3,449.3 635.9,450.6 636.5,451.5 637.0,452.0 637.6,452.6 638.2,450.3 638.8,450.2 639.3,451.8 639.9,452.8 640.5,452.5 641.1,446.9 641.6,448.5 642.2,444.7 642.8,442.8 643.4,443.9 643.9,440.3 644.5,440.0 645.1,439.2 645.7,441.8 646.2,439.8 646.8,438.1 647.4,439.3 648.0,440.1 648.5,439.2 649.1,441.5 649.7,439.6 650.3,440.6 650.8,443.5 651.4,442.8 652.0,442.3 652.6,439.7 653.2,437.1 653.7,439.1 654.3,435.6 654.9,437.0 655.5,439.5 656.0,441.2 656.6,442.2 657.2,446.3 657.8,449.4 658.3,452.4 658.9,455.9 659.5,457.7 660.1,458.1 660.6,457.3 661.2,456.8 661.8,454.0 662.4,453.6 662.9,449.6 663.5,448.8 664.1,446.2 664.7,444.2 665.2,443.0 665.8,441.1 666.4,438.8 667.0,436.8 667.5,434.2 668.1,433.6 668.7,430.5 669.3,429.0 669.8,427.0 670.4,426.2 671.0,426.1 671.6,425.6 672.1,423.4 672.7,426.6 673.3,428.2 673.9,429.5 674.4,426.7 675.0,429.4 675.6,428.9 676.2,427.5 676.7,431.1 677.3,432.1 677.9,431.8 678.5,432.3 679.0,434.2 679.6,434.9 680.2,437.6 680.8,433.7 681.3,436.7 681.9,434.5 682.5,433.5 683.1,434.4 683.6,434.7 684.2,436.3 684.8,435.0 685.4,433.1 685.9,431.0 686.5,429.4 687.1,428.7 687.7,426.1 688.2,426.4 688.8,427.7 689.4,427.3 690.0,429.7 690.5,428.8 691.1,430.2 691.7,429.0 692.3,427.5 692.8,430.6 693.4,425.6 694.0,425.2 694.6,425.5 695.1,425.7 695.7,421.1 696.3,424.5 696.9,424.0 697.4,425.5 698.0,425.8 698.6,427.7 699.2,424.1 699.7,427.3 700.3,425.8 700.9,425.1 701.5,423.1 702.0,426.4 702.6,427.0 703.2,424.8 703.8,427.3 704.3,430.0 704.9,429.8 705.5,427.1 706.1,427.7 706.6,428.6 707.2,428.9 707.8,432.2 708.4,433.3 708.9,430.6 709.5,432.7 710.1,433.5 710.7,431.7 711.2,430.6 711.8,431.4 712.4,428.7 713.0,427.6 713.5,427.9 714.1,427.7 714.7,425.3 715.3,424.8 715.8,425.1 716.4,422.4 717.0,424.1 717.6,423.8 718.1,421.9 718.7,420.8 719.3,418.2 719.9,419.2 720.4,420.8 721.0,422.1 721.6,418.9 722.2,415.7 722.8,418.5 723.3,417.6 723.9,418.7 724.5,418.6 725.1,419.7 725.6,418.9 726.2,419.0 726.8,418.4 727.4,418.5 727.9,420.5 728.5,420.7 729.1,416.6 729.7,416.1 730.2,413.7 730.8,415.0 731.4,410.7 732.0,412.4 732.5,411.0 733.1,411.7 733.7,412.4 734.3,412.3 734.8,410.5 735.4,411.4 736.0,412.0 736.6,413.3 737.1,409.8 737.7,410.7 738.3,406.5 738.9,408.2 739.4,411.2 740.0,408.1 740.6,405.9 741.2,405.9 741.7,406.0 742.3,404.4 742.9,407.6 743.5,410.1 744.0,406.3 744.6,404.2 745.2,403.6 745.8,408.1 746.3,408.7 746.9,403.6 747.5,407.0 748.1,408.6 748.6,405.5 749.2,405.5 749.8,409.6 750.4,407.7 750.9,407.5 751.5,410.9 752.1,414.2 752.7,412.4 753.2,411.5 753.8,409.4 754.4,407.7 755.0,407.4 755.5,408.6 756.1,406.8 756.7,407.7 757.3,409.9 757.8,412.1 758.4,410.8 759.0,412.3 759.6,410.6 760.1,408.6 760.7,405.6 761.3,409.0 761.9,408.2 762.4,408.7 763.0,410.8 763.6,411.7 764.2,414.0 764.7,414.1 765.3,413.8 765.9,413.5 766.5,413.7 767.0,416.1 767.6,412.9 768.2,411.9 768.8,409.5 769.3,409.9 769.9,411.0 770.5,412.3 771.1,415.6 771.6,419.9 772.2,421.3 772.8,420.0 773.4,422.8 773.9,425.6 774.5,427.3 775.1,429.7 775.7,427.5 776.2,424.0 776.8,420.7 777.4,419.7 778.0,416.1 778.5,415.6 779.1,412.1 779.7,408.2 780.3,411.1 780.8,408.0 781.4,407.8 782.0,405.5 782.6,407.6 783.1,405.5 783.7,407.4 784.3,408.6 784.9,403.2 785.4,404.3 786.0,402.4 786.6,399.4 787.2,399.0 787.7,400.0 788.3,403.8 788.9,403.6 789.5,401.0 790.1,404.1 790.6,403.3 791.2,403.5 791.8,400.7 792.4,401.7 792.9,399.0 793.5,397.6 794.1,395.7 794.7,397.2 795.2,396.0 795.8,399.2 796.4,395.0 797.0,395.9 797.5,397.9 798.1,394.3 798.7,392.5 799.3,396.4 799.8,397.4 800.4,394.4 801.0,392.7 801.6,389.6 802.1,388.6 802.7,384.7 803.3,385.6 803.9,382.7 804.4,385.8 805.0,382.6 805.6,383.4 806.2,379.2 806.7,380.7 807.3,383.0 807.9,378.3 808.5,381.6 809.0,376.4 809.6,381.1 810.2,381.6 810.8,382.1 811.3,380.8 811.9,378.3 812.5,381.2 813.1,382.7 813.6,381.7 814.2,379.3 814.8,381.7 815.4,379.2 815.9,376.7 816.5,377.1 817.1,374.6 817.7,375.9 818.2,375.6 818.8,374.4 819.4,373.6 820.0,375.6 820.5,374.6 821.1,369.7 821.7,367.2 822.3,368.1 822.8,366.4 823.4,368.7 824.0,368.6 824.6,366.3 825.1,362.1 825.7,361.2 826.3,360.6 826.9,362.3 827.4,363.0 828.0,361.6 828.6,358.0 829.2,363.0 829.7,356.0 830.3,358.1 830.9,358.9 831.5,357.8 832.0,357.9 832.6,360.4 833.2,361.3 833.8,359.7 834.3,358.4 834.9,358.4 835.5,358.3 836.1,360.3 836.6,361.3 837.2,359.7 837.8,362.2 838.4,361.6 838.9,358.6 839.5,362.8 840.1,362.8 840.7,361.3 841.2,359.6 841.8,359.8 842.4,361.0 843.0,360.1 843.5,361.5 844.1,363.0 844.7,368.0 845.3,365.3 845.8,366.2 846.4,367.0 847.0,367.6 847.6,371.3 848.1,370.9 848.7,375.2 849.3,376.3 849.9,376.3 850.4,375.6 851.0,371.1 851.6,370.5 852.2,370.0 852.7,368.5 853.3,366.8 853.9,364.5 854.5,364.6 855.0,364.8 855.6,364.5 856.2,363.9 856.8,362.1 857.4,365.1 857.9,361.8 858.5,367.8 859.1,371.6 859.7,369.5 860.2,373.7 860.8,375.4 861.4,373.9 862.0,375.6 862.5,380.5 863.1,380.9 863.7,379.6 864.3,380.4 864.8,382.2 865.4,377.9 866.0,380.2 866.6,379.8 867.1,387.1 867.7,392.4 868.3,389.4 868.9,389.4 869.4,387.4 870.0,388.2 870.6,397.1 871.2,397.5 871.7,407.6 872.3,411.5 872.9,411.2 873.5,424.2 874.0,429.3 874.6,432.0 875.2,438.9 875.8,431.8 876.3,429.2 876.9,428.4 877.5,420.5 878.1,418.8 878.6,416.4 879.2,413.0 879.8,412.2 880.4,415.0 880.9,413.8 881.5,414.5 882.1,415.7 882.7,419.0 883.2,414.4 883.8,412.6 884.4,409.7 885.0,406.1 885.5,408.4 886.1,413.4 886.7,414.5 887.3,410.9 887.8,412.5 888.4,413.1 889.0,411.1 889.6,407.1 890.1,405.4 890.7,405.8 891.3,404.0 891.9,414.3 892.4,420.0 893.0,417.4 893.6,422.0 894.2,423.4 894.7,429.8 895.3,429.9 895.9,431.5 896.5,433.1 897.0,438.1 897.6,444.3 898.2,451.4 898.8,461.4 899.3,461.7 899.9,461.0 900.5,456.5 901.1,449.1 901.6,447.5 902.2,444.1 902.8,438.5 903.4,435.6 903.9,439.7 904.5,440.7 905.1,440.9 905.7,443.7 906.2,446.2 906.8,448.7 907.4,446.4 908.0,450.1 908.5,455.1 909.1,453.8 909.7,456.0 910.3,456.4 910.8,456.4 911.4,462.1 912.0,464.5 912.6,465.4 913.1,461.7 913.7,454.7 914.3,450.1 914.9,448.1 915.4,448.9 916.0,452.8 916.6,454.0 917.2,460.0 917.7,453.6 918.3,448.0 918.9,447.0 919.5,443.8 920.0,445.1 920.6,441.6 921.2,436.9 921.8,431.8 922.3,430.8 922.9,433.7 923.5,433.7 924.1,432.0 924.6,431.7 925.2,428.7 925.8,428.5 926.4,430.7 927.0,433.7 927.5,438.8 928.1,439.0 928.7,437.9 929.3,439.9 929.8,444.1 930.4,444.4 931.0,445.4 931.6,448.4 932.1,452.5 932.7,452.1 933.3,455.8 933.9,458.4 934.4,454.9 935.0,452.8 935.6,453.5 936.2,449.1 936.7,450.2 937.3,447.1 937.9,447.2 938.5,446.3 939.0,444.0 939.6,449.8 940.2,448.7 940.8,445.4 941.3,444.6 941.9,442.8 942.5,440.9 943.1,440.4 943.6,436.4 944.2,435.8 944.8,434.8 945.4,436.4 945.9,433.3 946.5,434.3 947.1,435.2 947.7,429.7 948.2,430.7 948.8,427.5 949.4,424.2 950.0,427.6 950.5,426.3 951.1,431.2 951.7,431.4 952.3,431.4 952.8,425.6 953.4,423.3 954.0,422.9 954.6,423.8 955.1,424.9 955.7,426.5 956.3,430.5 956.9,433.6 957.4,433.6 958.0,435.2 958.6,435.8 959.2,434.3 959.7,437.2 960.3,436.4 960.9,439.7 961.5,438.2 962.0,438.5 962.6,437.4 963.2,435.7 963.8,436.8 964.3,438.0 964.9,440.2 965.5,443.8 966.1,447.5 966.6,444.5 967.2,446.8 967.8,444.0 968.4,445.0 968.9,445.8 969.5,450.0 970.1,450.5 970.7,451.1 971.2,447.9 971.8,446.5 972.4,448.0 973.0,449.3 973.5,453.9 974.1,453.0 974.7,450.4 975.3,454.4 975.8,457.1 976.4,458.3 977.0,458.7 977.6,458.8 978.1,457.6 978.7,462.1 979.3,461.5 979.9,462.9 980.4,461.9 981.0,461.8 981.6,458.4 982.2,458.9 982.7,457.8 983.3,459.9 983.9,461.2 984.5,461.9 985.0,466.7 985.6,468.6 986.2,469.5 986.8,471.8 987.3,470.9 987.9,469.4 988.5,473.0 989.1,474.6 989.6,476.1 990.2,480.1 990.8,482.9 991.4,486.1 991.9,488.6 992.5,485.2 993.1,486.6 993.7,482.1 994.3,485.5 994.8,477.7 995.4,481.9 996.0,477.4 996.6,481.1 997.1,486.3 997.7,491.1 998.3,496.4 998.9,506.5 999.4,519.8 1000.0,516.4 1000.6,507.6 1001.2,501.9 1001.7,495.2 1002.3,491.6 1002.9,498.1 1003.5,497.6 1004.0,500.8 1004.6,500.6 1005.2,498.1 1005.8,497.1 1006.3,494.4 1006.9,500.1 1007.5,495.7 1008.1,498.8 1008.6,503.4 1009.2,503.7 1009.8,505.6 1010.4,505.1 1010.9,503.8 1011.5,508.2 1012.1,509.3 1012.7,515.4 1013.2,518.6 1013.8,514.8 1014.4,508.6 1015.0,501.2 1015.5,499.7 1016.1,497.7 1016.7,489.7 1017.3,485.3 1017.8,482.7 1018.4,480.7 1019.0,482.4 1019.6,480.1 1020.1,482.7 1020.7,481.8 1021.3,484.6 1021.9,484.1 1022.4,484.1 1023.0,481.6 1023.6,483.0 1024.2,484.7 1024.7,485.8 1025.3,492.5 1025.9,493.6 1026.5,489.9 1027.0,481.5 1027.6,477.7 1028.2,476.0 1028.8,477.6 1029.3,480.3 1029.9,485.2 1030.5,488.1 1031.1,490.2 1031.6,491.2 1032.2,489.3 1032.8,486.3 1033.4,485.8 1033.9,484.9 1034.5,485.4 1035.1,485.6 1035.7,484.3 1036.2,480.6 1036.8,484.5 1037.4,485.5 1038.0,487.6 1038.5,487.4 1039.1,495.6 1039.7,499.6 1040.3,502.3 1040.8,504.5 1041.4,504.1 1042.0,507.9 1042.6,510.1 1043.1,510.2 1043.7,512.6 1044.3,513.9 1044.9,519.5 1045.4,518.8 1046.0,518.3 1046.6,516.7 1047.2,517.5 1047.7,517.5 1048.3,510.0 1048.9,510.0 1049.5,511.6 1050.0,508.2 1050.6,510.9 1051.2,516.3 1051.8,518.2 1052.3,518.0 1052.9,518.7 1053.5,525.2 1054.1,529.8 1054.6,532.7 1055.2,536.6 1055.8,536.7 1056.4,540.0 1056.9,543.5 1057.5,549.4 1058.1,548.6 1058.7,547.4 1059.2,541.8 1059.8,538.0 1060.4,535.3 1061.0,537.0 1061.6,533.9 1062.1,528.5 1062.7,524.2 1063.3,527.2 1063.9,531.2 1064.4,531.8 1065.0,530.9 1065.6,530.9 1066.2,532.5 1066.7,537.2 1067.3,538.7 1067.9,540.8 1068.5,537.0 1069.0,535.8 1069.6,530.7 1070.2,528.5 1070.8,530.1 1071.3,529.6 1071.9,532.0 1072.5,532.1 1073.1,527.3 1073.6,525.3 1074.2,524.1 1074.8,521.2 1075.4,518.5 1075.9,521.1 1076.5,519.2 1077.1,514.6 1077.7,510.6 1078.2,510.7 1078.8,504.9 1079.4,508.1 1080.0,507.8 1080.5,505.7 1081.1,502.3 1081.7,503.7 1082.3,502.4 1082.8,508.9 1083.4,509.3 1084.0,507.8 1084.6,509.6 1085.1,510.1 1085.7,504.1 1086.3,506.9 1086.9,508.0 1087.4,509.2 1088.0,511.8 1088.6,512.7 1089.2,512.5 1089.7,511.1 1090.3,508.2 1090.9,504.7 1091.5,503.1 1092.0,501.2 1092.6,500.2 1093.2,498.8 1093.8,496.2 1094.3,493.3 1094.9,491.5 1095.5,488.5 1096.1,486.5 1096.6,488.4 1097.2,487.7 1097.8,483.6 1098.4,486.3 1098.9,490.6 1099.5,490.6 1100.1,492.4 1100.7,493.4 1101.2,494.6 1101.8,498.0 1102.4,501.0 1103.0,498.8 1103.5,498.3 1104.1,498.5 1104.7,494.8 1105.3,493.5 1105.8,490.4 1106.4,489.8 1107.0,492.0 1107.6,491.1 1108.1,490.2 1108.7,489.0 1109.3,488.7 1109.9,491.1 1110.4,488.8 1111.0,489.4 1111.6,488.2 1112.2,483.5 1112.7,483.0 1113.3,482.0 1113.9,481.6 1114.5,482.6 1115.0,485.9 1115.6,488.0 1116.2,489.0 1116.8,488.2 1117.3,489.4 1117.9,486.5 1118.5,484.6 1119.1,483.5 1119.6,487.4 1120.2,492.0 1120.8,494.1 1121.4,494.5 1121.9,496.9 1122.5,493.0 1123.1,488.6 1123.7,486.6 1124.2,484.8 1124.8,486.2 1125.4,482.0 1126.0,483.1 1126.5,483.4 1127.1,481.6 1127.7,482.9 1128.3,483.3 1128.8,480.0 1129.4,480.2 1130.0,480.5 1130.6,482.6 1131.2,483.6 1131.7,485.6 1132.3,487.2 1132.9,485.5 1133.5,488.3 1134.0,488.4 1134.6,490.1 1135.2,492.6 1135.8,493.9 1136.3,489.9 1136.9,489.2 1137.5,488.8 1138.1,486.4 1138.6,486.6 1139.2,483.7 1139.8,483.6 1140.4,481.3 1140.9,478.4 1141.5,475.9 1142.1,477.0 1142.7,475.0 1143.2,475.8 1143.8,478.2 1144.4,481.0 1145.0,482.1 1145.5,482.3 1146.1,480.2 1146.7,479.3 1147.3,477.6 1147.8,478.1 1148.4,476.5 1149.0,475.4 1149.6,475.4 1150.1,474.0 1150.7,471.9 1151.3,472.5 1151.9,477.0 1152.4,477.2 1153.0,481.2 1153.6,484.9 1154.2,484.3 1154.7,485.8 1155.3,486.7 1155.9,487.2 1156.5,489.1 1157.0,489.2 1157.6,486.9 1158.2,485.1 1158.8,480.8 1159.3,481.0 1159.9,476.9 1160.5,475.5 1161.1,475.3 1161.6,474.1 1162.2,472.7 1162.8,470.9 1163.4,469.4 1163.9,474.8 1164.5,473.7 1165.1,474.4 1165.7,474.7 1166.2,475.8 1166.8,476.6 1167.4,476.6 1168.0,479.0 1168.5,474.8 1169.1,476.9 1169.7,476.9 1170.3,477.7 1170.8,480.7 1171.4,482.7 1172.0,485.0 1172.6,486.2 1173.1,485.4 1173.7,482.9 1174.3,478.4 1174.9,476.1 1175.4,476.2 1176.0,474.1 1176.6,474.3 1177.2,473.0 1177.7,472.5 1178.3,470.1 1178.9,467.4 1179.5,468.6 1180.0,468.3 1180.6,466.0 1181.2,465.3 1181.8,467.0 1182.3,470.9 1182.9,474.5 1183.5,469.8 1184.1,467.4 1184.6,461.8 1185.2,459.7 1185.8,457.0 1186.4,451.6 1186.9,449.2 1187.5,450.7 1188.1,446.3 1188.7,445.7 1189.2,450.3 1189.8,449.6 1190.4,452.4 1191.0,452.4 1191.5,451.0 1192.1,451.2 1192.7,449.5 1193.3,449.3 1193.8,449.9 1194.4,451.7 1195.0,452.9 1195.6,452.6 1196.1,451.0 1196.7,455.2 1197.3,455.1" stroke="#D95319" stroke-width="2.5" stroke-linejoin="round" fill="none"/>
<path d="M39.4,556.0 40.0,560.2 40.6,569.3 41.1,571.8 41.7,572.5 42.3,578.4 42.9,580.1 43.4,583.9 44.0,595.3 44.6,598.7 45.2,612.3 45.7,626.2 46.3,622.1 46.9,613.4 47.5,605.7 48.0,601.6 48.6,594.6 49.2,600.3 49.8,608.9 50.3,606.2 50.9,607.7 51.5,603.3 52.1,597.4 52.6,604.3 53.2,611.0 53.8,614.1 54.4,615.5 54.9,616.8 55.5,623.0 56.1,625.6 56.7,630.5 57.2,629.6 57.8,633.8 58.4,639.6 59.0,640.3 59.5,639.3 60.1,635.1 60.7,633.2 61.3,638.8 61.8,643.1 62.4,651.9 63.0,653.9 63.6,657.6 64.1,656.0 64.7,657.4 65.3,655.8 65.9,650.5 66.4,639.7 67.0,630.7 67.6,626.8 68.2,623.8 68.7,622.4 69.3,616.3 69.9,614.6 70.5,616.2 71.0,619.0 71.6,616.6 72.2,620.9 72.8,618.2 73.3,621.4 73.9,620.0 74.5,615.0 75.1,613.1 75.6,605.0 76.2,601.5 76.8,603.3 77.4,599.4 77.9,599.7 78.5,595.4 79.1,587.7 79.7,591.6 80.2,596.0 80.8,599.8 81.4,596.9 82.0,593.7 82.5,593.5 83.1,590.5 83.7,584.6 84.3,584.8 84.8,584.1 85.4,581.5 86.0,581.9 86.6,585.2 87.1,584.4 87.7,585.7 88.3,584.0 88.9,583.3 89.4,582.0 90.0,577.2 90.6,574.5 91.2,577.1 91.7,571.1 92.3,569.7 92.9,573.8 93.5,570.3 94.0,572.5 94.6,571.6 95.2,565.9 95.8,567.4 96.3,564.7 96.9,562.3 97.5,564.2 98.1,569.2 98.6,565.5 99.2,566.1 99.8,561.9 100.4,563.6 100.9,565.8 101.5,557.3 102.1,557.6 102.7,558.7 103.2,561.2 103.8,557.2 104.4,559.6 105.0,557.1 105.5,556.9 106.1,559.7 106.7,562.1 107.3,563.0 107.9,561.9 108.4,562.3 109.0,564.0 109.6,561.5 110.2,562.1 110.7,562.4 111.3,567.4 111.9,564.6 112.5,568.1 113.0,567.7 113.6,565.2 114.2,563.4 114.8,562.0 115.3,563.2 115.9,563.3 116.5,561.6 117.1,558.2 117.6,555.6 118.2,554.8 118.8,556.0 119.4,556.2 119.9,554.6 120.5,549.0 121.1,549.9 121.7,545.3 122.2,540.5 122.8,538.8 123.4,536.1 124.0,538.2 124.5,540.1 125.1,543.3 125.7,542.0 126.3,541.1 126.8,536.9 127.4,541.8 128.0,538.1 128.6,541.7 129.1,539.5 129.7,542.1 130.3,541.1 130.9,541.7 131.4,542.2 132.0,538.0 132.6,534.2 133.2,535.8 133.7,538.0 134.3,533.8 134.9,531.4 135.5,531.3 136.0,531.7 136.6,528.8 137.2,526.2 137.8,527.0 138.3,530.5 138.9,529.1 139.5,524.8 140.1,524.4 140.6,522.1 141.2,526.1 141.8,522.2 142.4,524.7 142.9,525.3 143.5,526.7 144.1,528.8 144.7,528.3 145.2,527.3 145.8,529.8 146.4,531.0 147.0,530.5 147.5,528.7 148.1,527.0 148.7,529.5 149.3,526.7 149.8,525.3 150.4,524.3 151.0,524.6 151.6,521.1 152.1,519.9 152.7,517.1 153.3,518.5 153.9,520.5 154.4,521.2 155.0,521.8 155.6,525.1 156.2,524.3 156.7,524.7 157.3,525.5 157.9,525.3 158.5,528.4 159.0,528.1 159.6,528.3 160.2,524.2 160.8,523.7 161.3,526.0 161.9,525.2 162.5,519.7 163.1,521.7 163.6,520.2 164.2,523.2 164.8,520.0 165.4,519.3 165.9,518.5 166.5,521.4 167.1,520.6 167.7,520.2 168.2,520.0 168.8,518.7 169.4,519.4 170.0,522.2 170.5,524.5 171.1,523.8 171.7,520.0 172.3,520.9 172.8,521.5 173.4,520.7 174.0,522.2 174.6,520.2 175.1,520.6 175.7,519.0 176.3,516.4 176.9,514.8 177.5,518.3 178.0,515.8 178.6,516.4 179.2,516.0 179.8,512.9 180.3,512.2 180.9,515.9 181.5,514.2 182.1,514.4 182.6,513.8 183.2,512.0 183.8,512.8 184.4,512.9 184.9,509.9 185.5,512.2 186.1,513.2 186.7,511.2 187.2,509.7 187.8,509.0 188.4,509.6 189.0,510.6 189.5,509.3 190.1,513.1 190.7,512.8 191.3,515.6 191.8,516.9 192.4,522.7 193.0,520.5 193.6,523.5 194.1,522.2 194.7,523.2 195.3,524.5 195.9,526.1 196.4,529.8 197.0,530.5 197.6,525.1 198.2,522.9 198.7,522.7 199.3,523.4 199.9,521.9 200.5,522.9 201.0,525.2 201.6,525.5 202.2,522.5 202.8,520.5 203.3,520.7 203.9,517.1 204.5,516.5 205.1,513.4 205.6,512.3 206.2,514.8 206.8,516.7 207.4,515.0 207.9,513.5 208.5,511.4 209.1,508.8 209.7,512.2 210.2,512.6 210.8,509.4 211.4,506.2 212.0,506.7 212.5,507.0 213.1,504.9 213.7,506.0 214.3,506.6 214.8,506.9 215.4,505.3 216.0,506.0 216.6,504.8 217.1,501.6 217.7,504.6 218.3,502.7 218.9,500.2 219.4,500.4 220.0,501.1 220.6,500.3 221.2,499.8 221.7,498.5 222.3,498.9 222.9,496.1 223.5,493.9 224.0,492.9 224.6,493.0 225.2,495.9 225.8,493.3 226.3,495.0 226.9,495.0 227.5,494.7 228.1,494.9 228.6,496.0 229.2,497.5 229.8,497.0 230.4,499.8 230.9,501.6 231.5,501.3 232.1,503.7 232.7,503.3 233.2,507.1 233.8,510.3 234.4,513.7 235.0,512.6 235.5,513.5 236.1,516.7 236.7,517.4 237.3,520.1 237.8,521.9 238.4,519.9 239.0,519.6 239.6,519.4 240.1,523.2 240.7,519.9 241.3,520.8 241.9,524.2 242.4,522.8 243.0,522.3 243.6,520.0 244.2,520.7 244.8,520.4 245.3,524.2 245.9,520.0 246.5,521.6 247.1,521.0 247.6,518.9 248.2,519.2 248.8,517.6 249.4,521.0 249.9,519.1 250.5,521.8 251.1,526.0 251.7,527.2 252.2,526.5 252.8,525.9 253.4,529.2 254.0,528.7 254.5,533.4 255.1,533.3 255.7,527.2 256.3,530.5 256.8,523.7 257.4,527.0 258.0,522.5 258.6,524.2 259.1,527.3 259.7,524.9 260.3,523.8 260.9,520.7 261.4,525.5 262.0,525.3 262.6,524.0 263.2,523.5 263.7,521.9 264.3,518.9 264.9,514.8 265.5,514.9 266.0,520.5 266.6,522.2 267.2,521.8 267.8,521.4 268.3,520.1 268.9,515.5 269.5,514.4 270.1,518.7 270.6,515.6 271.2,523.3 271.8,525.5 272.4,524.4 272.9,523.4 273.5,525.9 274.1,527.5 274.7,525.0 275.2,527.9 275.8,529.1 276.4,528.5 277.0,528.3 277.5,529.8 278.1,528.6 278.7,524.6 279.3,523.9 279.8,525.4 280.4,520.8 281.0,524.6 281.6,520.6 282.1,522.1 282.7,520.0 283.3,517.3 283.9,519.6 284.4,522.7 285.0,521.1 285.6,517.1 286.2,517.1 286.7,515.5 287.3,515.7 287.9,515.6 288.5,515.4 289.0,514.4 289.6,512.4 290.2,516.3 290.8,513.7 291.3,508.6 291.9,510.0 292.5,511.5 293.1,513.1 293.6,507.8 294.2,506.1 294.8,504.7 295.4,506.9 295.9,503.5 296.5,506.5 297.1,506.4 297.7,504.4 298.2,507.7 298.8,505.4 299.4,502.3 300.0,504.8 300.5,502.7 301.1,501.7 301.7,503.0 302.3,505.6 302.8,506.0 303.4,503.4 304.0,505.2 304.6,502.6 305.1,503.0 305.7,505.2 306.3,509.2 306.9,512.1 307.4,513.3 308.0,513.6 308.6,514.1 309.2,520.4 309.7,523.6 310.3,521.1 310.9,522.2 311.5,522.2 312.1,525.2 312.6,527.2 313.2,526.0 313.8,524.1 314.4,521.9 314.9,522.9 315.5,524.2 316.1,522.2 316.7,518.5 317.2,515.6 317.8,513.9 318.4,512.7 319.0,510.3 319.5,506.0 320.1,506.0 320.7,505.7 321.3,505.0 321.8,503.3 322.4,500.6 323.0,504.4 323.6,504.3 324.1,503.3 324.7,500.7 325.3,497.2 325.9,499.1 326.4,501.9 327.0,498.6 327.6,498.9 328.2,496.9 328.7,498.9 329.3,497.8 329.9,496.6 330.5,493.7 331.0,492.9 331.6,493.7 332.2,493.5 332.8,495.9 333.3,497.0 333.9,495.5 334.5,495.0 335.1,495.3 335.6,492.7 336.2,492.9 336.8,491.1 337.4,490.4 337.9,492.3 338.5,490.6 339.1,492.0 339.7,492.8 340.2,491.6 340.8,491.5 341.4,488.1 342.0,490.3 342.5,488.8 343.1,484.7 343.7,483.5 344.3,481.8 344.8,481.7 345.4,485.2 346.0,483.6 346.6,484.3 347.1,485.3 347.7,490.2 348.3,494.0 348.9,492.4 349.4,493.4 350.0,491.7 350.6,493.2 351.2,490.0 351.7,490.4 352.3,491.2 352.9,496.0 353.5,500.2 354.0,496.0 354.6,500.5 355.2,502.8 355.8,500.4 356.3,500.5 356.9,501.0 357.5,502.5 358.1,502.2 358.6,497.9 359.2,496.6 359.8,500.7 360.4,498.1 360.9,497.8 361.5,498.5 362.1,497.8 362.7,496.1 363.2,498.0 363.8,498.0 364.4,494.0 365.0,491.6 365.5,490.7 366.1,490.9 366.7,495.1 367.3,494.0 367.8,496.3 368.4,500.6 369.0,498.2 369.6,497.6 370.1,501.3 370.7,500.8 371.3,503.9 371.9,504.1 372.4,503.2 373.0,502.8 373.6,498.5 374.2,497.5 374.7,497.9 375.3,499.6 375.9,497.7 376.5,498.9 377.0,498.3 377.6,500.3 378.2,502.1 378.8,503.3 379.3,506.4 379.9,503.7 380.5,508.3 381.1,507.4 381.7,506.4 382.2,504.6 382.8,506.8 383.4,509.8 384.0,508.2 384.5,512.9 385.1,509.6 385.7,513.6 386.3,511.9 386.8,511.4 387.4,512.8 388.0,515.9 388.6,516.5 389.1,517.9 389.7,518.2 390.3,518.8 390.9,521.1 391.4,522.0 392.0,522.1 392.6,521.6 393.2,521.1 393.7,522.2 394.3,524.0 394.9,522.2 395.5,519.3 396.0,520.6 396.6,518.6 397.2,518.4 397.8,518.9 398.3,512.9 398.9,512.7 399.5,513.0 400.1,514.9 400.6,512.2 401.2,509.2 401.8,509.0 402.4,510.2 402.9,508.4 403.5,510.7 404.1,511.0 404.7,509.5 405.2,507.6 405.8,509.2 406.4,512.0 407.0,510.3 407.5,513.4 408.1,517.3 408.7,515.8 409.3,513.7 409.8,519.2 410.4,521.7 411.0,532.6 411.6,532.1 412.1,538.0 412.7,536.0 413.3,546.7 413.9,549.8 414.4,558.0 415.0,557.1 415.6,551.9 416.2,549.0 416.7,556.4 417.3,558.3 417.9,551.9 418.5,554.9 419.0,559.2 419.6,558.2 420.2,556.7 420.8,551.6 421.3,545.2 421.9,549.8 422.5,541.3 423.1,543.9 423.6,543.0 424.2,547.1 424.8,555.2 425.4,554.5 425.9,555.9 426.5,554.6 427.1,553.6 427.7,547.9 428.2,547.8 428.8,551.3 429.4,555.2 430.0,552.0 430.5,555.4 431.1,559.2 431.7,564.8 432.3,566.4 432.8,564.3 433.4,566.5 434.0,567.6 434.6,570.5 435.1,571.8 435.7,571.0 436.3,570.3 436.9,570.5 437.4,561.7 438.0,563.5 438.6,562.4 439.2,561.7 439.7,557.0 440.3,557.9 440.9,547.9 441.5,551.1 442.0,552.0 442.6,550.2 443.2,550.8 443.8,540.8 444.3,545.6 444.9,541.8 445.5,538.8 446.1,536.4 446.6,535.2 447.2,534.6 447.8,545.6 448.4,545.5 449.0,542.3 449.5,547.8 450.1,550.5 450.7,545.3 451.3,548.6 451.8,547.4 452.4,547.0 453.0,555.1 453.6,557.1 454.1,556.9 454.7,564.4 455.3,560.4 455.9,562.7 456.4,567.7 457.0,565.3 457.6,564.1 458.2,563.3 458.7,555.1 459.3,557.7 459.9,556.8 460.5,550.9 461.0,544.7 461.6,548.5 462.2,547.2 462.8,550.9 463.3,554.5 463.9,548.0 464.5,554.8 465.1,555.5 465.6,559.5 466.2,562.1 466.8,555.7 467.4,558.5 467.9,558.2 468.5,554.6 469.1,555.5 469.7,550.8 470.2,547.3 470.8,547.4 471.4,550.4 472.0,551.6 472.5,550.4 473.1,544.1 473.7,541.6 474.3,539.1 474.8,538.8 475.4,542.0 476.0,542.2 476.6,541.1 477.1,540.8 477.7,539.7 478.3,533.5 478.9,530.0 479.4,530.6 480.0,530.0 480.6,536.4 481.2,537.1 481.7,535.8 482.3,533.8 482.9,534.6 483.5,530.7 484.0,527.3 484.6,528.4 485.2,528.2 485.8,528.4 486.3,523.5 486.9,522.3 487.5,523.2 488.1,520.8 488.6,521.0 489.2,520.1 489.8,520.8 490.4,519.4 490.9,519.0 491.5,520.6 492.1,523.9 492.7,524.0 493.2,523.3 493.8,523.6 494.4,526.6 495.0,523.8 495.5,526.2 496.1,524.3 496.7,524.2 497.3,525.5 497.8,520.1 498.4,518.0 499.0,514.3 499.6,516.3 500.1,511.7 500.7,512.3 501.3,512.9 501.9,508.3 502.4,510.7 503.0,506.6 503.6,506.8 504.2,507.3 504.7,503.8 505.3,504.0 505.9,503.6 506.5,503.4 507.0,500.6 507.6,502.1 508.2,505.8 508.8,506.8 509.3,508.3 509.9,509.3 510.5,509.7 511.1,512.6 511.6,511.1 512.2,510.0 512.8,510.7 513.4,511.3 513.9,508.7 514.5,509.9 515.1,507.9 515.7,508.3 516.3,509.1 516.8,510.5 517.4,510.5 518.0,511.8 518.6,512.4 519.1,514.3 519.7,511.8 520.3,512.7 520.9,512.0 521.4,514.3 522.0,513.4 522.6,516.3 523.2,517.6 523.7,521.3 524.3,522.3 524.9,523.5 525.5,527.3 526.0,528.4 526.6,532.0 527.2,534.3 527.8,535.5 528.3,532.8 528.9,533.6 529.5,532.7 530.1,534.0 530.6,533.2 531.2,537.7 531.8,540.6 532.4,543.5 532.9,543.6 533.5,541.2 534.1,537.4 534.7,535.9 535.2,532.5 535.8,530.7 536.4,530.8 537.0,532.8 537.5,530.7 538.1,528.1 538.7,528.1 539.3,527.2 539.8,527.4 540.4,526.9 541.0,528.4 541.6,525.8 542.1,526.4 542.7,526.8 543.3,525.9 543.9,523.4 544.4,523.0 545.0,526.7 545.6,527.6 546.2,525.9 546.7,524.8 547.3,527.3 547.9,529.9 548.5,528.2 549.0,527.6 549.6,528.8 550.2,528.6 550.8,528.9 551.3,527.9 551.9,528.0 552.5,528.1 553.1,527.6 553.6,530.8 554.2,530.8 554.8,530.2 555.4,530.2 555.9,526.9 556.5,524.2 557.1,523.8 557.7,523.2 558.2,524.8 558.8,523.2 559.4,521.5 560.0,518.3 560.5,521.8 561.1,519.4 561.7,518.0 562.3,521.3 562.8,518.8 563.4,519.0 564.0,518.5 564.6,516.3 565.1,516.0 565.7,516.3 566.3,517.3 566.9,517.3 567.4,516.9 568.0,515.7 568.6,515.7 569.2,516.2 569.7,513.2 570.3,512.8 570.9,512.0 571.5,510.4 572.0,508.6 572.6,507.8 573.2,503.7 573.8,500.7 574.3,499.3 574.9,498.8 575.5,497.1 576.1,502.0 576.6,500.2 577.2,500.1 577.8,501.1 578.4,502.2 578.9,502.8 579.5,506.9 580.1,506.3 580.7,503.8 581.2,500.8 581.8,500.5 582.4,499.5 583.0,501.8 583.5,501.0 584.1,500.2 584.7,499.8 585.3,499.9 585.9,500.6 586.4,499.5 587.0,499.6 587.6,498.2 588.2,499.3 588.7,501.8 589.3,499.3 589.9,502.2 590.5,504.3 591.0,505.0 591.6,502.6 592.2,502.7 592.8,504.2 593.3,504.2 593.9,503.7 594.5,502.0 595.1,503.2 595.6,507.9 596.2,509.0 596.8,510.6 597.4,512.2 597.9,513.8 598.5,515.9 599.1,515.5 599.7,512.7 600.2,513.2 600.8,508.6 601.4,509.6 602.0,507.3 602.5,507.5 603.1,505.6 603.7,506.0 604.3,505.1 604.8,501.5 605.4,504.1 606.0,502.3 606.6,501.5 607.1,501.4 607.7,501.0 608.3,499.3 608.9,498.1 609.4,498.6 610.0,498.0 610.6,498.0 611.2,495.9 611.7,494.2 612.3,494.3 612.9,489.9 613.5,489.9 614.0,491.5 614.6,491.3 615.2,491.2 615.8,490.5 616.3,488.4 616.9,490.9 617.5,489.3 618.1,486.5 618.6,483.8 619.2,484.6 619.8,483.5 620.4,486.6 620.9,486.1 621.5,484.2 622.1,485.5 622.7,483.6 623.2,480.9 623.8,480.9 624.4,481.8 625.0,482.7 625.5,480.5 626.1,482.0 626.7,479.3 627.3,477.4 627.8,477.1 628.4,476.9 629.0,478.6 629.6,479.2 630.1,477.7 630.7,478.4 631.3,477.2 631.9,478.5 632.4,477.7 633.0,476.7 633.6,476.4 634.2,476.4 634.7,475.2 635.3,474.9 635.9,475.0 636.5,476.0 637.0,474.2 637.6,478.6 638.2,476.0 638.8,480.0 639.3,481.3 639.9,480.6 640.5,478.9 641.1,474.8 641.6,473.0 642.2,470.7 642.8,469.1 643.4,468.4 643.9,465.2 644.5,465.8 645.1,467.6 645.7,465.4 646.2,463.5 646.8,465.3 647.4,463.3 648.0,461.4 648.5,461.7 649.1,464.0 649.7,463.7 650.3,464.8 650.8,464.8 651.4,466.4 652.0,466.8 652.6,469.2 653.2,467.0 653.7,467.1 654.3,468.1 654.9,468.4 655.5,470.2 656.0,468.5 656.6,469.5 657.2,468.4 657.8,467.0 658.3,468.6 658.9,470.7 659.5,469.6 660.1,471.8 660.6,471.1 661.2,470.6 661.8,469.3 662.4,465.3 662.9,460.8 663.5,456.4 664.1,458.0 664.7,455.8 665.2,454.5 665.8,453.6 666.4,451.0 667.0,447.7 667.5,447.1 668.1,447.5 668.7,446.0 669.3,444.5 669.8,446.6 670.4,444.7 671.0,441.3 671.6,437.6 672.1,438.0 672.7,437.7 673.3,439.7 673.9,437.7 674.4,437.9 675.0,435.6 675.6,438.6 676.2,439.8 676.7,438.4 677.3,441.8 677.9,443.1 678.5,441.4 679.0,442.9 679.6,445.8 680.2,446.0 680.8,448.3 681.3,445.7 681.9,447.2 682.5,444.6 683.1,441.9 683.6,438.5 684.2,443.5 684.8,447.9 685.4,448.7 685.9,451.1 686.5,455.8 687.1,458.6 687.7,455.0 688.2,452.1 688.8,447.9 689.4,447.1 690.0,446.2 690.5,444.4 691.1,442.4 691.7,439.5 692.3,439.6 692.8,438.2 693.4,433.2 694.0,433.6 694.6,431.7 695.1,432.3 695.7,432.0 696.3,431.0 696.9,429.9 697.4,431.7 698.0,431.0 698.6,430.4 699.2,426.9 699.7,427.1 700.3,428.2 700.9,430.3 701.5,429.8 702.0,431.2 702.6,431.5 703.2,429.6 703.8,433.0 704.3,429.7 704.9,431.9 705.5,434.5 706.1,436.1 706.6,436.9 707.2,436.8 707.8,434.9 708.4,435.3 708.9,437.9 709.5,440.4 710.1,440.5 710.7,442.6 711.2,444.0 711.8,446.9 712.4,443.4 713.0,442.8 713.5,440.7 714.1,442.3 714.7,440.8 715.3,442.3 715.8,442.2 716.4,441.9 717.0,438.0 717.6,436.2 718.1,435.5 718.7,430.8 719.3,431.6 719.9,430.0 720.4,429.0 721.0,434.2 721.6,435.6 722.2,435.6 722.8,435.8 723.3,437.7 723.9,438.8 724.5,441.1 725.1,441.6 725.6,441.5 726.2,440.8 726.8,440.6 727.4,441.5 727.9,437.2 728.5,434.4 729.1,430.7 729.7,431.6 730.2,432.4 730.8,430.4 731.4,429.7 732.0,426.9 732.5,427.6 733.1,425.7 733.7,423.0 734.3,424.4 734.8,425.5 735.4,426.8 736.0,427.7 736.6,425.3 737.1,426.9 737.7,430.5 738.3,429.8 738.9,430.4 739.4,430.4 740.0,428.9 740.6,427.2 741.2,424.9 741.7,425.7 742.3,422.6 742.9,421.9 743.5,416.8 744.0,415.5 744.6,413.6 745.2,415.4 745.8,418.0 746.3,413.8 746.9,414.9 747.5,417.9 748.1,414.6 748.6,415.9 749.2,415.8 749.8,418.3 750.4,418.2 750.9,420.3 751.5,419.5 752.1,420.1 752.7,416.4 753.2,418.1 753.8,418.3 754.4,415.5 755.0,416.6 755.5,419.1 756.1,417.7 756.7,417.1 757.3,414.5 757.8,412.4 758.4,412.0 759.0,411.3 759.6,410.6 760.1,413.0 760.7,412.4 761.3,410.0 761.9,409.3 762.4,406.4 763.0,406.4 763.6,409.7 764.2,409.8 764.7,409.9 765.3,410.1 765.9,412.2 766.5,411.7 767.0,408.8 767.6,413.8 768.2,411.9 768.8,414.7 769.3,414.1 769.9,417.3 770.5,418.0 771.1,417.3 771.6,417.4 772.2,422.5 772.8,425.0 773.4,422.9 773.9,426.0 774.5,430.1 775.1,429.6 775.7,426.9 776.2,421.2 776.8,421.2 777.4,420.7 778.0,419.1 778.5,416.1 779.1,414.5 779.7,413.1 780.3,413.9 780.8,412.6 781.4,413.5 782.0,412.1 782.6,409.5 783.1,410.2 783.7,407.9 784.3,409.1 784.9,408.3 785.4,405.9 786.0,402.9 786.6,403.5 787.2,404.5 787.7,404.2 788.3,403.8 788.9,408.0 789.5,405.5 790.1,408.9 790.6,409.3 791.2,407.2 791.8,408.8 792.4,405.3 792.9,405.5 793.5,404.7 794.1,406.2 794.7,408.1 795.2,404.0 795.8,405.1 796.4,406.3 797.0,403.8 797.5,401.5 798.1,402.1 798.7,402.7 799.3,401.6 799.8,402.6 800.4,404.1 801.0,404.1 801.6,405.4 802.1,408.1 802.7,407.5 803.3,408.5 803.9,411.5 804.4,411.2 805.0,406.7 805.6,409.5 806.2,407.4 806.7,406.8 807.3,407.7 807.9,407.8 808.5,408.9 809.0,407.6 809.6,407.5 810.2,407.4 810.8,408.5 811.3,408.0 811.9,407.0 812.5,410.3 813.1,407.1 813.6,410.0 814.2,412.5 814.8,409.8 815.4,409.9 815.9,411.3 816.5,407.2 817.1,407.5 817.7,406.9 818.2,405.9 818.8,404.9 819.4,404.3 820.0,400.0 820.5,398.9 821.1,398.4 821.7,400.5 822.3,399.6 822.8,396.2 823.4,397.1 824.0,398.6 824.6,395.8 825.1,394.0 825.7,397.3 826.3,397.4 826.9,397.8 827.4,395.9 828.0,394.1 828.6,393.9 829.2,396.2 829.7,396.4 830.3,394.8 830.9,395.9 831.5,391.7 832.0,393.1 832.6,391.9 833.2,394.0 833.8,391.0 834.3,393.9 834.9,392.1 835.5,391.4 836.1,392.8 836.6,392.1 837.2,393.9 837.8,391.9 838.4,394.0 838.9,392.0 839.5,394.0 840.1,394.1 840.7,393.0 841.2,394.5 841.8,391.1 842.4,389.9 843.0,390.8 843.5,392.5 844.1,396.2 844.7,398.3 845.3,402.4 845.8,402.8 846.4,405.6 847.0,405.4 847.6,403.1 848.1,403.6 848.7,402.0 849.3,403.3 849.9,400.3 850.4,398.3 851.0,399.1 851.6,394.5 852.2,393.7 852.7,390.5 853.3,389.0 853.9,389.1 854.5,387.7 855.0,389.1 855.6,387.1 856.2,389.1 856.8,384.4 857.4,382.6 857.9,385.4 858.5,390.7 859.1,386.8 859.7,386.0 860.2,386.1 860.8,387.5 861.4,385.6 862.0,385.8 862.5,384.5 863.1,384.6 863.7,384.6 864.3,387.0 864.8,383.0 865.4,386.9 866.0,389.4 866.6,385.9 867.1,386.0 867.7,390.7 868.3,395.4 868.9,396.3 869.4,390.9 870.0,392.2 870.6,391.7 871.2,398.3 871.7,397.7 872.3,400.8 872.9,393.8 873.5,396.8 874.0,401.2 874.6,406.4 875.2,407.4 875.8,399.0 876.3,397.4 876.9,393.5 877.5,395.3 878.1,392.7 878.6,386.4 879.2,383.1 879.8,381.1 880.4,376.5 880.9,374.6 881.5,379.3 882.1,376.2 882.7,372.9 883.2,374.2 883.8,369.0 884.4,369.9 885.0,368.1 885.5,372.7 886.1,373.5 886.7,369.7 887.3,369.2 887.8,364.8 888.4,365.2 889.0,366.3 889.6,366.9 890.1,366.5 890.7,366.9 891.3,368.8 891.9,369.2 892.4,371.7 893.0,371.0 893.6,369.5 894.2,366.4 894.7,363.3 895.3,361.2 895.9,366.9 896.5,366.5 897.0,366.3 897.6,370.5 898.2,368.1 898.8,372.4 899.3,368.7 899.9,374.5 900.5,376.5 901.1,369.3 901.6,370.1 902.2,366.3 902.8,365.5 903.4,361.2 903.9,361.6 904.5,361.0 905.1,367.3 905.7,367.0 906.2,365.7 906.8,367.2 907.4,367.2 908.0,367.4 908.5,370.7 909.1,370.7 909.7,374.1 910.3,373.7 910.8,375.2 911.4,380.0 912.0,378.0 912.6,380.5 913.1,381.5 913.7,386.0 914.3,384.9 914.9,386.0 915.4,384.0 916.0,385.0 916.6,386.1 917.2,388.7 917.7,388.3 918.3,387.4 918.9,389.9 919.5,384.2 920.0,379.4 920.6,381.3 921.2,380.2 921.8,376.3 922.3,375.3 922.9,377.1 923.5,373.4 924.1,369.2 924.6,371.0 925.2,371.8 925.8,368.5 926.4,370.3 927.0,366.4 927.5,365.9 928.1,367.3 928.7,366.5 929.3,368.5 929.8,369.9 930.4,369.1 931.0,368.8 931.6,371.2 932.1,369.8 932.7,370.4 933.3,372.6 933.9,373.1 934.4,369.7 935.0,370.7 935.6,365.5 936.2,366.6 936.7,368.7 937.3,371.5 937.9,369.1 938.5,366.6 939.0,368.0 939.6,364.4 940.2,366.4 940.8,369.5 941.3,372.6 941.9,368.4 942.5,369.3 943.1,366.5 943.6,371.1 944.2,369.1 944.8,368.3 945.4,364.9 945.9,368.0 946.5,368.9 947.1,367.1 947.7,368.7 948.2,366.2 948.8,365.5 949.4,370.3 950.0,367.5 950.5,365.7 951.1,366.9 951.7,369.9 952.3,365.5 952.8,369.4 953.4,369.8 954.0,369.7 954.6,369.0 955.1,367.0 955.7,369.1 956.3,369.5 956.9,364.8 957.4,365.8 958.0,363.8 958.6,362.9 959.2,362.1 959.7,364.4 960.3,361.1 960.9,362.6 961.5,360.3 962.0,362.2 962.6,366.8 963.2,367.5 963.8,365.2 964.3,364.2 964.9,366.3 965.5,365.5 966.1,368.0 966.6,370.5 967.2,366.8 967.8,368.9 968.4,368.8 968.9,366.2 969.5,370.6 970.1,364.5 970.7,366.1 971.2,361.8 971.8,361.6 972.4,361.5 973.0,361.1 973.5,363.5 974.1,363.5 974.7,365.1 975.3,366.4 975.8,366.2 976.4,365.9 977.0,369.4 977.6,370.7 978.1,369.7 978.7,366.2 979.3,365.9 979.9,364.4 980.4,364.5 981.0,367.5 981.6,365.4 982.2,361.3 982.7,361.6 983.3,358.3 983.9,356.3 984.5,357.6 985.0,357.2 985.6,355.7 986.2,356.6 986.8,354.5 987.3,360.1 987.9,359.7 988.5,356.3 989.1,358.6 989.6,360.5 990.2,356.4 990.8,357.6 991.4,358.2 991.9,357.5 992.5,355.1 993.1,355.6 993.7,354.1 994.3,353.7 994.8,353.8 995.4,349.4 996.0,361.0 996.6,354.3 997.1,356.0 997.7,353.7 998.3,354.9 998.9,359.4 999.4,354.8 1000.0,349.4 1000.6,364.9 1001.2,368.0 1001.7,375.9 1002.3,381.1 1002.9,386.1 1003.5,381.8 1004.0,390.5 1004.6,386.9 1005.2,391.3 1005.8,398.2 1006.3,397.4 1006.9,392.7 1007.5,383.1 1008.1,391.0 1008.6,392.8 1009.2,394.3 1009.8,398.3 1010.4,398.3 1010.9,399.6 1011.5,396.5 1012.1,406.0 1012.7,404.2 1013.2,399.4 1013.8,403.0 1014.4,401.3 1015.0,399.8 1015.5,398.6 1016.1,400.3 1016.7,393.8 1017.3,390.9 1017.8,388.2 1018.4,388.8 1019.0,395.7 1019.6,394.7 1020.1,387.9 1020.7,392.5 1021.3,392.0 1021.9,386.7 1022.4,388.1 1023.0,380.1 1023.6,378.2 1024.2,373.6 1024.7,371.4 1025.3,368.6 1025.9,370.7 1026.5,372.7 1027.0,374.8 1027.6,368.3 1028.2,366.2 1028.8,369.4 1029.3,367.0 1029.9,373.0 1030.5,372.9 1031.1,374.6 1031.6,375.4 1032.2,376.6 1032.8,368.2 1033.4,366.9 1033.9,368.4 1034.5,370.6 1035.1,367.3 1035.7,364.6 1036.2,361.5 1036.8,367.7 1037.4,362.8 1038.0,365.0 1038.5,364.0 1039.1,361.4 1039.7,369.2 1040.3,368.4 1040.8,371.6 1041.4,373.4 1042.0,372.6 1042.6,379.6 1043.1,378.6 1043.7,384.7 1044.3,384.8 1044.9,385.1 1045.4,382.8 1046.0,379.2 1046.6,382.4 1047.2,375.6 1047.7,373.2 1048.3,369.9 1048.9,370.2 1049.5,379.5 1050.0,384.6 1050.6,379.3 1051.2,381.4 1051.8,381.7 1052.3,384.5 1052.9,387.2 1053.5,395.1 1054.1,399.8 1054.6,402.9 1055.2,410.7 1055.8,415.3 1056.4,409.8 1056.9,412.7 1057.5,414.6 1058.1,418.0 1058.7,418.7 1059.2,416.2 1059.8,414.5 1060.4,422.2 1061.0,423.6 1061.6,421.6 1062.1,423.0 1062.7,418.7 1063.3,409.4 1063.9,422.0 1064.4,424.8 1065.0,422.6 1065.6,428.1 1066.2,432.7 1066.7,441.7 1067.3,445.6 1067.9,436.2 1068.5,431.8 1069.0,428.3 1069.6,426.0 1070.2,425.8 1070.8,422.7 1071.3,420.7 1071.9,415.7 1072.5,414.9 1073.1,414.7 1073.6,414.1 1074.2,409.9 1074.8,407.0 1075.4,405.8 1075.9,404.0 1076.5,408.6 1077.1,402.1 1077.7,402.7 1078.2,403.5 1078.8,401.0 1079.4,399.8 1080.0,400.9 1080.5,400.6 1081.1,399.1 1081.7,395.1 1082.3,394.3 1082.8,396.8 1083.4,395.1 1084.0,400.8 1084.6,399.6 1085.1,398.5 1085.7,396.8 1086.3,395.5 1086.9,396.5 1087.4,400.2 1088.0,397.8 1088.6,401.0 1089.2,405.9 1089.7,402.9 1090.3,403.4 1090.9,402.5 1091.5,397.6 1092.0,393.3 1092.6,389.8 1093.2,390.1 1093.8,391.4 1094.3,390.4 1094.9,387.8 1095.5,381.2 1096.1,382.6 1096.6,382.4 1097.2,380.6 1097.8,382.3 1098.4,383.6 1098.9,382.9 1099.5,385.7 1100.1,384.7 1100.7,386.7 1101.2,388.2 1101.8,388.0 1102.4,387.3 1103.0,391.0 1103.5,391.3 1104.1,392.5 1104.7,392.9 1105.3,390.2 1105.8,388.2 1106.4,388.6 1107.0,386.5 1107.6,386.1 1108.1,386.4 1108.7,380.4 1109.3,379.7 1109.9,380.9 1110.4,379.8 1111.0,378.6 1111.6,379.6 1112.2,377.5 1112.7,380.4 1113.3,380.6 1113.9,385.8 1114.5,389.6 1115.0,389.6 1115.6,391.0 1116.2,392.5 1116.8,393.2 1117.3,391.4 1117.9,395.7 1118.5,395.7 1119.1,398.7 1119.6,398.9 1120.2,397.9 1120.8,403.6 1121.4,405.7 1121.9,404.2 1122.5,399.5 1123.1,394.5 1123.7,397.5 1124.2,391.5 1124.8,388.7 1125.4,387.1 1126.0,386.8 1126.5,387.8 1127.1,386.7 1127.7,386.3 1128.3,383.6 1128.8,385.4 1129.4,384.9 1130.0,380.8 1130.6,380.3 1131.2,377.5 1131.7,383.3 1132.3,383.2 1132.9,381.2 1133.5,382.4 1134.0,381.4 1134.6,379.8 1135.2,378.0 1135.8,381.3 1136.3,379.4 1136.9,380.1 1137.5,375.9 1138.1,375.2 1138.6,374.7 1139.2,371.7 1139.8,374.0 1140.4,376.7 1140.9,376.3 1141.5,374.7 1142.1,375.4 1142.7,373.4 1143.2,375.1 1143.8,369.5 1144.4,371.3 1145.0,373.3 1145.5,372.6 1146.1,373.0 1146.7,369.0 1147.3,367.8 1147.8,363.9 1148.4,369.7 1149.0,370.0 1149.6,368.5 1150.1,368.4 1150.7,369.4 1151.3,370.4 1151.9,376.7 1152.4,374.6 1153.0,377.0 1153.6,377.1 1154.2,378.2 1154.7,380.0 1155.3,381.5 1155.9,385.3 1156.5,383.9 1157.0,383.9 1157.6,383.1 1158.2,383.2 1158.8,385.4 1159.3,382.7 1159.9,380.9 1160.5,379.2 1161.1,379.0 1161.6,375.9 1162.2,375.9 1162.8,374.7 1163.4,373.6 1163.9,376.3 1164.5,378.9 1165.1,377.9 1165.7,378.2 1166.2,376.6 1166.8,377.9 1167.4,373.0 1168.0,369.9 1168.5,370.1 1169.1,367.9 1169.7,369.6 1170.3,375.1 1170.8,373.2 1171.4,372.7 1172.0,375.1 1172.6,376.6 1173.1,367.3 1173.7,362.5 1174.3,356.5 1174.9,351.7 1175.4,344.2 1176.0,337.8 1176.6,336.2 1177.2,333.7 1177.7,331.5 1178.3,326.7 1178.9,323.4 1179.5,319.9 1180.0,320.2 1180.6,316.4 1181.2,318.4 1181.8,316.4 1182.3,311.7 1182.9,306.4 1183.5,309.3 1184.1,305.1 1184.6,300.4 1185.2,295.6 1185.8,292.4 1186.4,293.2 1186.9,292.1 1187.5,291.5 1188.1,293.5 1188.7,290.7 1189.2,294.3 1189.8,297.7 1190.4,293.3 1191.0,294.8 1191.5,294.7 1192.1,294.4 1192.7,297.3 1193.3,292.3 1193.8,293.7 1194.4,298.3 1195.0,300.1 1195.6,303.6 1196.1,301.5 1196.7,297.1 1197.3,296.7" stroke="#EDB120" stroke-width="2.5" stroke-linejoin="round" fill="none"/>
<path d="M39.4,556.0 40.0,558.8 40.6,560.4 41.1,564.6 41.7,568.0 42.3,571.6 42.9,578.5 43.4,582.3 44.0,577.4 44.6,577.3 45.2,580.0 45.7,582.0 46.3,583.1 46.9,586.0 47.5,586.5 48.0,583.6 48.6,585.3 49.2,587.5 49.8,589.3 50.3,590.4 50.9,592.9 51.5,590.2 52.1,594.3 52.6,595.6 53.2,597.1 53.8,597.0 54.4,594.0 54.9,596.0 55.5,598.2 56.1,604.5 56.7,604.8 57.2,609.2 57.8,612.2 58.4,610.0 59.0,616.6 59.5,615.4 60.1,616.8 60.7,616.9 61.3,620.2 61.8,624.2 62.4,624.1 63.0,624.2 63.6,626.7 64.1,629.5 64.7,629.3 65.3,626.1 65.9,625.4 66.4,621.6 67.0,620.4 67.6,618.5 68.2,614.8 68.7,612.6 69.3,606.6 69.9,606.8 70.5,605.9 71.0,606.6 71.6,601.3 72.2,602.2 72.8,601.2 73.3,597.2 73.9,595.9 74.5,594.6 75.1,592.6 75.6,588.6 76.2,589.2 76.8,593.3 77.4,590.4 77.9,592.2 78.5,592.8 79.1,591.0 79.7,585.4 80.2,592.3 80.8,588.7 81.4,588.0 82.0,585.3 82.5,588.2 83.1,588.5 83.7,582.4 84.3,579.7 84.8,579.6 85.4,581.6 86.0,581.3 86.6,578.2 87.1,576.3 87.7,579.2 88.3,578.8 88.9,578.1 89.4,576.1 90.0,576.6 90.6,573.5 91.2,570.7 91.7,574.5 92.3,576.6 92.9,572.0 93.5,572.8 94.0,567.8 94.6,567.8 95.2,566.1 95.8,568.9 96.3,570.6 96.9,566.6 97.5,564.8 98.1,565.4 98.6,564.2 99.2,570.3 99.8,572.9 100.4,568.4 100.9,566.8 101.5,568.9 102.1,569.3 102.7,574.9 103.2,574.2 103.8,574.0 104.4,572.9 105.0,575.4 105.5,576.7 106.1,580.8 106.7,580.1 107.3,580.2 107.9,579.6 108.4,581.8 109.0,580.4 109.6,577.8 110.2,578.4 110.7,581.9 111.3,585.5 111.9,583.5 112.5,584.8 113.0,587.1 113.6,582.4 114.2,579.7 114.8,580.0 115.3,579.8 115.9,579.0 116.5,573.8 117.1,572.2 117.6,570.0 118.2,567.0 118.8,565.5 119.4,563.9 119.9,565.3 120.5,566.2 121.1,566.3 121.7,565.3 122.2,564.2 122.8,563.2 123.4,561.0 124.0,560.8 124.5,556.0 125.1,559.6 125.7,558.1 126.3,556.5 126.8,559.6 127.4,558.1 128.0,551.6 128.6,551.6 129.1,552.7 129.7,551.5 130.3,547.9 130.9,550.1 131.4,549.2 132.0,547.2 132.6,547.8 133.2,548.2 133.7,546.5 134.3,546.7 134.9,543.7 135.5,539.9 136.0,542.2 136.6,543.9 137.2,542.0 137.8,536.7 138.3,532.8 138.9,533.9 139.5,531.4 140.1,532.6 140.6,533.9 141.2,534.8 141.8,538.2 142.4,538.7 142.9,536.1 143.5,532.8 144.1,532.7 144.7,536.8 145.2,535.4 145.8,539.9 146.4,538.5 147.0,534.4 147.5,535.8 148.1,538.1 148.7,532.9 149.3,534.5 149.8,535.1 150.4,531.3 151.0,534.4 151.6,533.3 152.1,532.5 152.7,533.0 153.3,534.1 153.9,532.7 154.4,532.3 155.0,533.6 155.6,530.3 156.2,532.5 156.7,534.1 157.3,532.2 157.9,533.4 158.5,532.3 159.0,533.0 159.6,530.9 160.2,532.3 160.8,531.2 161.3,529.3 161.9,528.5 162.5,529.1 163.1,527.7 163.6,527.7 164.2,527.1 164.8,526.7 165.4,523.7 165.9,522.7 166.5,525.0 167.1,523.9 167.7,523.7 168.2,524.9 168.8,528.0 169.4,527.8 170.0,526.6 170.5,527.4 171.1,527.1 171.7,526.9 172.3,526.5 172.8,526.5 173.4,526.2 174.0,524.1 174.6,522.2 175.1,519.3 175.7,522.6 176.3,518.3 176.9,520.7 177.5,516.5 178.0,522.3 178.6,520.3 179.2,520.6 179.8,517.7 180.3,517.1 180.9,515.1 181.5,516.5 182.1,515.7 182.6,514.5 183.2,516.8 183.8,517.8 184.4,515.3 184.9,516.1 185.5,514.3 186.1,511.1 186.7,510.9 187.2,513.9 187.8,513.2 188.4,514.0 189.0,516.4 189.5,522.8 190.1,524.6 190.7,526.9 191.3,530.1 191.8,531.2 192.4,528.3 193.0,527.8 193.6,529.3 194.1,529.5 194.7,528.4 195.3,530.4 195.9,532.5 196.4,532.7 197.0,530.6 197.6,534.5 198.2,532.7 198.7,532.9 199.3,531.1 199.9,532.3 200.5,527.2 201.0,524.4 201.6,526.6 202.2,523.6 202.8,519.2 203.3,517.5 203.9,519.4 204.5,519.7 205.1,518.1 205.6,518.2 206.2,516.6 206.8,515.9 207.4,510.2 207.9,511.2 208.5,509.8 209.1,509.3 209.7,506.5 210.2,507.5 210.8,506.8 211.4,505.5 212.0,504.7 212.5,504.8 213.1,503.0 213.7,501.4 214.3,501.4 214.8,496.8 215.4,499.4 216.0,499.9 216.6,499.3 217.1,494.9 217.7,494.3 218.3,496.8 218.9,493.9 219.4,495.8 220.0,497.6 220.6,494.4 221.2,498.0 221.7,494.8 222.3,496.0 222.9,492.5 223.5,493.3 224.0,490.9 224.6,487.4 225.2,488.3 225.8,486.2 226.3,485.6 226.9,487.8 227.5,483.4 228.1,484.3 228.6,483.2 229.2,483.1 229.8,484.8 230.4,486.7 230.9,487.5 231.5,485.0 232.1,488.9 232.7,492.6 233.2,489.7 233.8,493.1 234.4,495.7 235.0,497.0 235.5,498.7 236.1,500.7 236.7,505.9 237.3,508.0 237.8,508.5 238.4,513.8 239.0,515.5 239.6,517.8 240.1,516.1 240.7,514.2 241.3,514.4 241.9,515.0 242.4,513.8 243.0,510.8 243.6,509.7 244.2,512.5 244.8,515.7 245.3,515.1 245.9,513.7 246.5,512.4 247.1,513.0 247.6,512.8 248.2,510.5 248.8,515.6 249.4,509.1 249.9,509.0 250.5,512.7 251.1,514.8 251.7,519.1 252.2,518.8 252.8,516.7 253.4,515.3 254.0,519.8 254.5,520.4 255.1,523.4 255.7,522.3 256.3,522.3 256.8,521.3 257.4,522.3 258.0,517.0 258.6,517.9 259.1,515.1 259.7,512.6 260.3,516.8 260.9,509.3 261.4,510.0 262.0,505.5 262.6,508.9 263.2,506.2 263.7,506.3 264.3,504.9 264.9,507.0 265.5,505.5 266.0,503.8 266.6,500.2 267.2,501.7 267.8,502.6 268.3,504.7 268.9,499.9 269.5,501.4 270.1,504.1 270.6,501.9 271.2,504.7 271.8,508.7 272.4,513.4 272.9,509.2 273.5,514.2 274.1,516.8 274.7,517.0 275.2,518.1 275.8,519.2 276.4,519.9 277.0,523.4 277.5,516.9 278.1,520.7 278.7,517.1 279.3,510.7 279.8,509.5 280.4,509.4 281.0,511.6 281.6,510.3 282.1,511.3 282.7,511.0 283.3,503.7 283.9,504.6 284.4,504.2 285.0,503.9 285.6,501.7 286.2,503.7 286.7,499.4 287.3,500.9 287.9,499.9 288.5,500.6 289.0,501.7 289.6,500.4 290.2,494.4 290.8,497.7 291.3,496.6 291.9,496.1 292.5,493.5 293.1,492.5 293.6,494.3 294.2,495.0 294.8,492.6 295.4,493.2 295.9,491.0 296.5,489.7 297.1,493.1 297.7,490.5 298.2,487.0 298.8,486.3 299.4,488.3 300.0,486.0 300.5,490.1 301.1,492.3 301.7,491.5 302.3,487.5 302.8,483.2 303.4,481.6 304.0,482.5 304.6,485.3 305.1,482.8 305.7,484.0 306.3,483.9 306.9,485.8 307.4,486.0 308.0,486.6 308.6,489.8 309.2,491.9 309.7,491.7 310.3,488.8 310.9,489.8 311.5,488.1 312.1,489.7 312.6,487.1 313.2,488.5 313.8,483.1 314.4,480.7 314.9,482.1 315.5,477.6 316.1,477.3 316.7,477.4 317.2,476.5 317.8,475.8 318.4,472.8 319.0,476.9 319.5,472.6 320.1,475.9 320.7,473.6 321.3,473.5 321.8,474.5 322.4,477.0 323.0,475.0 323.6,472.1 324.1,470.9 324.7,469.5 325.3,472.5 325.9,471.7 326.4,467.2 327.0,470.6 327.6,467.2 328.2,464.7 328.7,463.4 329.3,463.1 329.9,460.8 330.5,462.8 331.0,464.4 331.6,462.0 332.2,458.5 332.8,460.0 333.3,462.4 333.9,459.1 334.5,457.3 335.1,460.9 335.6,460.2 336.2,459.0 336.8,458.3 337.4,453.4 337.9,455.4 338.5,455.4 339.1,457.7 339.7,458.4 340.2,453.9 340.8,451.9 341.4,449.3 342.0,449.8 342.5,447.8 343.1,445.6 343.7,444.3 344.3,446.5 344.8,447.2 345.4,450.5 346.0,453.9 346.6,455.4 347.1,454.9 347.7,455.0 348.3,452.6 348.9,455.5 349.4,456.4 350.0,458.1 350.6,452.9 351.2,452.0 351.7,455.6 352.3,457.0 352.9,459.5 353.5,460.9 354.0,458.0 354.6,460.8 355.2,466.3 355.8,465.0 356.3,465.6 356.9,463.3 357.5,463.5 358.1,457.0 358.6,456.4 359.2,457.0 359.8,456.6 360.4,455.7 360.9,452.8 361.5,454.3 362.1,450.4 362.7,447.3 363.2,446.3 363.8,447.4 364.4,448.5 365.0,443.7 365.5,447.1 366.1,446.9 366.7,452.3 367.3,451.2 367.8,451.3 368.4,452.6 369.0,453.3 369.6,452.9 370.1,450.4 370.7,449.8 371.3,450.9 371.9,446.6 372.4,442.9 373.0,445.8 373.6,444.2 374.2,441.2 374.7,437.8 375.3,440.8 375.9,442.3 376.5,440.4 377.0,444.0 377.6,444.3 378.2,443.5 378.8,441.9 379.3,443.3 379.9,445.9 380.5,448.7 381.1,452.4 381.7,451.8 382.2,447.6 382.8,446.8 383.4,448.3 384.0,451.4 384.5,454.1 385.1,451.2 385.7,451.7 386.3,452.0 386.8,455.6 387.4,456.3 388.0,455.1 388.6,459.9 389.1,458.5 389.7,456.7 390.3,458.6 390.9,463.9 391.4,465.8 392.0,464.8 392.6,466.2 393.2,462.2 393.7,462.9 394.3,464.7 394.9,462.9 395.5,463.9 396.0,462.5 396.6,462.4 397.2,459.2 397.8,457.8 398.3,456.8 398.9,458.6 399.5,457.9 400.1,456.7 400.6,454.8 401.2,457.7 401.8,459.0 402.4,455.5 402.9,456.2 403.5,454.6 404.1,457.1 404.7,455.2 405.2,454.6 405.8,458.1 406.4,459.3 407.0,455.5 407.5,459.5 408.1,453.0 408.7,457.0 409.3,449.9 409.8,453.1 410.4,448.9 411.0,446.3 411.6,457.7 412.1,461.7 412.7,467.3 413.3,479.4 413.9,484.2 414.4,484.8 415.0,490.0 415.6,481.1 416.2,487.9 416.7,485.4 417.3,485.0 417.9,490.4 418.5,494.1 419.0,501.7 419.6,500.3 420.2,493.3 420.8,499.4 421.3,493.6 421.9,491.9 422.5,483.4 423.1,482.2 423.6,486.3 424.2,492.0 424.8,479.2 425.4,486.4 425.9,485.5 426.5,486.4 427.1,476.8 427.7,480.6 428.2,480.7 428.8,477.3 429.4,479.9 430.0,488.0 430.5,483.2 431.1,490.5 431.7,491.1 432.3,487.2 432.8,491.6 433.4,491.5 434.0,489.7 434.6,498.3 435.1,499.7 435.7,502.0 436.3,496.4 436.9,491.5 437.4,486.3 438.0,483.3 438.6,485.1 439.2,486.5 439.7,485.3 440.3,482.5 440.9,478.9 441.5,470.5 442.0,467.9 442.6,467.8 443.2,470.1 443.8,473.1 444.3,466.5 444.9,477.3 445.5,474.3 446.1,474.7 446.6,469.2 447.2,477.4 447.8,478.1 448.4,478.0 449.0,484.0 449.5,476.1 450.1,468.1 450.7,468.3 451.3,469.8 451.8,473.7 452.4,469.1 453.0,470.8 453.6,477.9 454.1,488.6 454.7,487.7 455.3,484.2 455.9,486.0 456.4,491.0 457.0,489.4 457.6,474.8 458.2,473.0 458.7,474.0 459.3,471.9 459.9,478.3 460.5,478.7 461.0,477.9 461.6,481.9 462.2,485.5 462.8,486.4 463.3,482.3 463.9,478.2 464.5,478.0 465.1,482.5 465.6,482.0 466.2,487.7 466.8,480.8 467.4,482.0 467.9,474.7 468.5,475.7 469.1,480.6 469.7,477.2 470.2,472.9 470.8,471.8 471.4,469.1 472.0,474.0 472.5,476.8 473.1,470.2 473.7,466.0 474.3,468.2 474.8,466.3 475.4,471.1 476.0,460.5 476.6,460.5 477.1,458.7 477.7,462.8 478.3,462.0 478.9,456.5 479.4,464.8 480.0,461.2 480.6,455.9 481.2,453.9 481.7,454.2 482.3,451.5 482.9,449.3 483.5,449.6 484.0,452.5 484.6,457.2 485.2,457.0 485.8,458.7 486.3,456.1 486.9,451.9 487.5,452.6 488.1,448.3 488.6,448.8 489.2,450.0 489.8,448.4 490.4,447.9 490.9,446.0 491.5,444.0 492.1,451.0 492.7,449.3 493.2,450.0 493.8,451.4 494.4,451.6 495.0,449.1 495.5,448.2 496.1,446.7 496.7,445.6 497.3,448.5 497.8,445.5 498.4,443.4 499.0,446.3 499.6,445.4 500.1,445.3 500.7,444.3 501.3,450.0 501.9,447.6 502.4,444.4 503.0,447.5 503.6,448.0 504.2,447.8 504.7,447.7 505.3,449.2 505.9,451.7 506.5,446.9 507.0,452.7 507.6,451.3 508.2,453.9 508.8,453.0 509.3,452.2 509.9,455.4 510.5,455.6 511.1,447.6 511.6,450.6 512.2,456.2 512.8,455.4 513.4,456.8 513.9,454.8 514.5,453.6 515.1,452.9 515.7,452.0 516.3,454.5 516.8,452.7 517.4,451.2 518.0,455.9 518.6,452.9 519.1,452.2 519.7,453.0 520.3,457.1 520.9,457.3 521.4,457.8 522.0,461.6 522.6,461.7 523.2,463.5 523.7,467.4 524.3,467.9 524.9,470.0 525.5,467.0 526.0,468.9 526.6,470.3 527.2,469.7 527.8,468.3 528.3,469.0 528.9,467.3 529.5,469.6 530.1,468.3 530.6,464.4 531.2,467.7 531.8,465.7 532.4,468.2 532.9,469.8 533.5,468.9 534.1,469.9 534.7,467.1 535.2,468.1 535.8,465.6 536.4,467.9 537.0,467.3 537.5,462.3 538.1,464.2 538.7,465.5 539.3,461.5 539.8,459.4 540.4,459.2 541.0,460.5 541.6,458.9 542.1,462.6 542.7,462.5 543.3,461.0 543.9,462.8 544.4,458.2 545.0,458.1 545.6,464.0 546.2,461.8 546.7,463.3 547.3,464.0 547.9,465.8 548.5,458.2 549.0,460.5 549.6,460.6 550.2,458.8 550.8,459.0 551.3,462.3 551.9,458.4 552.5,458.5 553.1,458.0 553.6,457.9 554.2,456.8 554.8,459.4 555.4,455.9 555.9,456.3 556.5,455.1 557.1,455.7 557.7,454.4 558.2,452.6 558.8,452.5 559.4,455.2 560.0,452.6 560.5,452.7 561.1,452.0 561.7,453.2 562.3,454.6 562.8,453.5 563.4,452.7 564.0,452.6 564.6,452.7 565.1,451.1 565.7,450.1 566.3,450.0 566.9,451.5 567.4,452.3 568.0,450.3 568.6,451.3 569.2,452.0 569.7,450.1 570.3,446.7 570.9,446.4 571.5,446.5 572.0,445.2 572.6,442.4 573.2,444.1 573.8,439.5 574.3,441.4 574.9,442.5 575.5,443.0 576.1,444.0 576.6,442.9 577.2,442.3 577.8,440.4 578.4,443.3 578.9,442.3 579.5,441.3 580.1,440.1 580.7,438.5 581.2,439.6 581.8,439.7 582.4,439.8 583.0,442.1 583.5,439.7 584.1,445.6 584.7,445.8 585.3,444.9 585.9,439.4 586.4,440.3 587.0,440.0 587.6,440.3 588.2,440.6 588.7,444.4 589.3,443.0 589.9,446.1 590.5,446.7 591.0,446.6 591.6,446.7 592.2,447.3 592.8,448.0 593.3,445.5 593.9,446.9 594.5,444.6 595.1,445.5 595.6,447.5 596.2,452.0 596.8,451.6 597.4,453.5 597.9,453.2 598.5,454.2 599.1,455.6 599.7,455.5 600.2,454.2 600.8,453.6 601.4,453.7 602.0,451.3 602.5,453.0 603.1,450.4 603.7,447.9 604.3,446.4 604.8,448.1 605.4,445.9 606.0,446.1 606.6,448.4 607.1,449.4 607.7,445.4 608.3,446.9 608.9,445.6 609.4,442.4 610.0,442.7 610.6,443.4 611.2,443.0 611.7,439.3 612.3,439.0 612.9,439.7 613.5,442.9 614.0,442.4 614.6,439.1 615.2,439.0 615.8,435.6 616.3,437.1 616.9,434.5 617.5,432.4 618.1,432.0 618.6,433.1 619.2,433.4 619.8,431.6 620.4,427.2 620.9,430.1 621.5,427.2 622.1,430.9 622.7,427.7 623.2,430.1 623.8,428.4 624.4,427.3 625.0,426.7 625.5,427.1 626.1,424.7 626.7,427.4 627.3,421.4 627.8,422.1 628.4,424.4 629.0,424.4 629.6,422.1 630.1,423.6 630.7,424.6 631.3,425.0 631.9,426.8 632.4,427.7 633.0,423.6 633.6,425.0 634.2,424.7 634.7,422.2 635.3,423.4 635.9,419.7 636.5,421.2 637.0,420.6 637.6,420.3 638.2,418.6 638.8,416.9 639.3,417.1 639.9,416.7 640.5,416.7 641.1,418.5 641.6,418.5 642.2,413.9 642.8,414.5 643.4,414.5 643.9,413.0 644.5,412.5 645.1,413.3 645.7,417.1 646.2,417.6 646.8,415.0 647.4,413.4 648.0,412.9 648.5,414.3 649.1,414.1 649.7,416.8 650.3,416.4 650.8,416.1 651.4,414.9 652.0,410.9 652.6,412.2 653.2,407.0 653.7,409.0 654.3,410.6 654.9,410.9 655.5,408.4 656.0,407.7 656.6,406.5 657.2,407.9 657.8,404.8 658.3,405.1 658.9,404.7 659.5,404.7 660.1,400.2 660.6,403.4 661.2,405.6 661.8,407.2 662.4,404.6 662.9,401.9 663.5,402.2 664.1,404.7 664.7,405.3 665.2,399.2 665.8,403.0 666.4,402.7 667.0,402.5 667.5,400.2 668.1,403.2 668.7,400.5 669.3,397.3 669.8,396.6 670.4,395.8 671.0,393.1 671.6,391.3 672.1,396.9 672.7,393.8 673.3,395.6 673.9,394.1 674.4,395.9 675.0,397.7 675.6,398.3 676.2,400.3 676.7,400.7 677.3,399.2 677.9,402.8 678.5,400.9 679.0,400.7 679.6,399.1 680.2,398.6 680.8,397.9 681.3,401.0 681.9,403.0 682.5,402.7 683.1,398.8 683.6,401.0 684.2,400.3 684.8,405.1 685.4,406.1 685.9,410.3 686.5,405.6 687.1,404.8 687.7,405.1 688.2,401.9 688.8,398.5 689.4,400.4 690.0,397.8 690.5,396.8 691.1,395.0 691.7,396.1 692.3,396.0 692.8,394.1 693.4,392.9 694.0,394.9 694.6,389.0 695.1,387.4 695.7,385.9 696.3,386.9 696.9,383.9 697.4,382.1 698.0,383.7 698.6,381.0 699.2,381.5 699.7,383.4 700.3,384.6 700.9,382.3 701.5,382.8 702.0,381.7 702.6,380.6 703.2,379.2 703.8,381.7 704.3,383.0 704.9,384.6 705.5,384.2 706.1,388.6 706.6,388.5 707.2,388.9 707.8,385.6 708.4,385.0 708.9,385.0 709.5,388.7 710.1,387.4 710.7,386.0 711.2,385.7 711.8,386.2 712.4,388.7 713.0,387.9 713.5,389.0 714.1,384.8 714.7,383.9 715.3,381.6 715.8,378.2 716.4,378.1 717.0,376.1 717.6,371.4 718.1,368.6 718.7,370.3 719.3,368.6 719.9,369.0 720.4,369.1 721.0,367.7 721.6,371.0 722.2,369.7 722.8,368.1 723.3,369.8 723.9,371.0 724.5,376.8 725.1,377.4 725.6,373.6 726.2,376.9 726.8,376.1 727.4,378.9 727.9,377.0 728.5,371.2 729.1,372.9 729.7,369.9 730.2,368.9 730.8,369.4 731.4,363.8 732.0,365.0 732.5,360.8 733.1,357.1 733.7,357.5 734.3,359.0 734.8,358.1 735.4,359.4 736.0,356.4 736.6,355.5 737.1,355.1 737.7,355.2 738.3,356.3 738.9,355.7 739.4,351.2 740.0,354.3 740.6,352.1 741.2,353.2 741.7,350.8 742.3,349.1 742.9,348.9 743.5,344.1 744.0,349.9 744.6,345.8 745.2,345.7 745.8,340.6 746.3,340.4 746.9,340.8 747.5,341.5 748.1,340.2 748.6,340.7 749.2,343.0 749.8,344.1 750.4,345.7 750.9,344.6 751.5,342.8 752.1,347.6 752.7,345.2 753.2,346.0 753.8,347.6 754.4,349.5 755.0,347.0 755.5,343.6 756.1,345.3 756.7,342.3 757.3,339.3 757.8,337.3 758.4,335.4 759.0,334.9 759.6,333.6 760.1,333.5 760.7,332.2 761.3,326.5 761.9,326.9 762.4,330.0 763.0,330.3 763.6,329.5 764.2,330.2 764.7,326.0 765.3,329.9 765.9,329.9 766.5,328.4 767.0,328.6 767.6,325.4 768.2,322.7 768.8,325.7 769.3,328.2 769.9,330.7 770.5,331.0 771.1,334.0 771.6,339.0 772.2,338.4 772.8,344.0 773.4,347.6 773.9,349.4 774.5,354.4 775.1,357.3 775.7,354.1 776.2,350.5 776.8,350.6 777.4,347.3 778.0,348.4 778.5,342.6 779.1,338.9 779.7,341.7 780.3,336.6 780.8,337.6 781.4,334.7 782.0,334.0 782.6,330.5 783.1,329.8 783.7,329.3 784.3,329.2 784.9,332.8 785.4,331.4 786.0,329.2 786.6,335.0 787.2,330.6 787.7,329.5 788.3,329.7 788.9,328.9 789.5,330.6 790.1,331.6 790.6,334.2 791.2,336.9 791.8,333.0 792.4,334.2 792.9,339.1 793.5,337.7 794.1,339.0 794.7,335.9 795.2,339.4 795.8,338.6 796.4,336.9 797.0,336.9 797.5,339.0 798.1,336.4 798.7,331.1 799.3,332.1 799.8,334.6 800.4,335.1 801.0,333.5 801.6,334.7 802.1,333.4 802.7,333.5 803.3,327.5 803.9,328.1 804.4,326.0 805.0,323.6 805.6,325.9 806.2,322.9 806.7,321.0 807.3,323.7 807.9,323.9 808.5,325.2 809.0,323.9 809.6,323.6 810.2,325.2 810.8,324.4 811.3,321.9 811.9,319.4 812.5,317.5 813.1,313.7 813.6,318.2 814.2,316.9 814.8,314.2 815.4,318.8 815.9,316.8 816.5,319.2 817.1,321.5 817.7,320.5 818.2,318.6 818.8,311.7 819.4,312.3 820.0,311.5 820.5,315.8 821.1,314.7 821.7,310.5 822.3,305.0 822.8,307.4 823.4,307.5 824.0,302.4 824.6,304.3 825.1,304.9 825.7,307.7 826.3,311.1 826.9,310.7 827.4,310.7 828.0,309.8 828.6,306.6 829.2,307.1 829.7,312.4 830.3,312.1 830.9,311.7 831.5,313.0 832.0,308.9 832.6,306.1 833.2,306.8 833.8,307.7 834.3,307.5 834.9,311.8 835.5,314.7 836.1,312.8 836.6,313.2 837.2,313.3 837.8,311.7 838.4,310.4 838.9,309.0 839.5,308.1 840.1,311.1 840.7,315.0 841.2,311.5 841.8,311.8 842.4,313.5 843.0,318.2 843.5,320.9 844.1,323.6 844.7,324.1 845.3,320.5 845.8,322.7 846.4,326.1 847.0,332.3 847.6,335.8 848.1,332.9 848.7,331.9 849.3,327.2 849.9,324.2 850.4,323.1 851.0,319.7 851.6,314.9 852.2,312.7 852.7,311.7 853.3,311.5 853.9,312.2 854.5,310.3 855.0,313.5 855.6,311.6 856.2,311.8 856.8,309.8 857.4,310.4 857.9,309.7 858.5,310.0 859.1,315.7 859.7,312.8 860.2,308.8 860.8,310.7 861.4,309.1 862.0,313.3 862.5,311.6 863.1,312.1 863.7,309.1 864.3,305.1 864.8,311.3 865.4,316.0 866.0,313.6 866.6,319.2 867.1,314.5 867.7,314.9 868.3,312.7 868.9,317.6 869.4,328.1 870.0,323.5 870.6,327.9 871.2,327.4 871.7,324.3 872.3,323.6 872.9,330.0 873.5,332.4 874.0,335.4 874.6,339.2 875.2,343.9 875.8,346.6 876.3,346.4 876.9,338.0 877.5,332.2 878.1,324.9 878.6,321.9 879.2,318.9 879.8,317.4 880.4,314.6 880.9,310.8 881.5,311.3 882.1,305.2 882.7,305.0 883.2,299.8 883.8,299.8 884.4,300.0 885.0,298.4 885.5,300.3 886.1,297.5 886.7,293.4 887.3,292.6 887.8,297.3 888.4,291.5 889.0,292.3 889.6,291.8 890.1,293.0 890.7,291.5 891.3,287.7 891.9,284.1 892.4,288.2 893.0,285.4 893.6,289.3 894.2,293.3 894.7,295.0 895.3,295.1 895.9,294.8 896.5,290.9 897.0,287.0 897.6,298.1 898.2,302.7 898.8,303.4 899.3,305.8 899.9,301.7 900.5,302.5 901.1,294.3 901.6,294.7 902.2,296.4 902.8,295.3 903.4,294.1 903.9,288.8 904.5,289.0 905.1,291.1 905.7,287.3 906.2,289.2 906.8,295.5 907.4,300.1 908.0,305.4 908.5,308.8 909.1,308.1 909.7,305.6 910.3,304.8 910.8,300.8 911.4,301.6 912.0,301.8 912.6,302.8 913.1,295.9 913.7,294.0 914.3,299.1 914.9,293.8 915.4,299.7 916.0,300.6 916.6,301.6 917.2,304.0 917.7,300.1 918.3,307.4 918.9,303.9 919.5,299.1 920.0,296.0 920.6,297.7 921.2,293.6 921.8,295.5 922.3,294.3 922.9,297.5 923.5,294.5 924.1,289.2 924.6,286.0 925.2,283.6 925.8,280.1 926.4,277.0 927.0,276.0 927.5,279.6 928.1,283.5 928.7,280.9 929.3,278.7 929.8,281.6 930.4,285.4 931.0,287.2 931.6,288.2 932.1,292.3 932.7,292.9 933.3,292.3 933.9,297.4 934.4,296.6 935.0,296.5 935.6,291.1 936.2,291.5 936.7,287.3 937.3,287.7 937.9,290.9 938.5,296.2 939.0,298.1 939.6,300.1 940.2,301.0 940.8,303.1 941.3,296.9 941.9,294.4 942.5,295.1 943.1,297.2 943.6,295.3 944.2,296.1 944.8,293.9 945.4,294.8 945.9,294.4 946.5,295.6 947.1,292.6 947.7,297.7 948.2,295.0 948.8,300.7 949.4,299.4 950.0,294.6 950.5,293.5 951.1,291.6 951.7,300.3 952.3,293.9 952.8,297.1 953.4,298.3 954.0,293.9 954.6,294.9 955.1,296.6 955.7,292.8 956.3,291.9 956.9,287.1 957.4,287.0 958.0,289.9 958.6,289.9 959.2,284.7 959.7,287.3 960.3,288.2 960.9,288.1 961.5,291.1 962.0,294.6 962.6,296.2 963.2,294.0 963.8,293.7 964.3,295.6 964.9,299.3 965.5,293.0 966.1,290.4 966.6,293.6 967.2,295.0 967.8,292.1 968.4,301.8 968.9,296.7 969.5,300.2 970.1,296.8 970.7,297.4 971.2,298.6 971.8,295.9 972.4,295.2 973.0,294.3 973.5,296.2 974.1,301.7 974.7,301.6 975.3,305.4 975.8,301.1 976.4,305.2 977.0,301.0 977.6,310.7 978.1,308.7 978.7,310.6 979.3,310.9 979.9,310.3 980.4,310.6 981.0,310.1 981.6,315.9 982.2,309.8 982.7,310.4 983.3,308.8 983.9,305.4 984.5,310.7 985.0,308.8 985.6,309.6 986.2,311.0 986.8,316.3 987.3,317.3 987.9,325.7 988.5,323.7 989.1,323.2 989.6,317.6 990.2,316.2 990.8,309.7 991.4,310.4 991.9,315.4 992.5,311.6 993.1,313.3 993.7,313.3 994.3,311.0 994.8,307.8 995.4,316.1 996.0,310.0 996.6,319.4 997.1,315.5 997.7,312.3 998.3,319.2 998.9,320.5 999.4,324.8 1000.0,331.4 1000.6,330.7 1001.2,332.6 1001.7,341.9 1002.3,329.8 1002.9,324.9 1003.5,323.0 1004.0,334.9 1004.6,334.1 1005.2,329.4 1005.8,332.4 1006.3,329.8 1006.9,332.7 1007.5,326.5 1008.1,333.0 1008.6,331.7 1009.2,338.4 1009.8,340.6 1010.4,342.0 1010.9,345.1 1011.5,347.8 1012.1,352.1 1012.7,352.8 1013.2,351.7 1013.8,346.1 1014.4,339.0 1015.0,335.1 1015.5,336.9 1016.1,324.3 1016.7,328.7 1017.3,321.8 1017.8,322.6 1018.4,311.8 1019.0,315.0 1019.6,317.2 1020.1,319.0 1020.7,318.0 1021.3,315.2 1021.9,311.2 1022.4,311.9 1023.0,308.7 1023.6,303.0 1024.2,302.6 1024.7,311.9 1025.3,313.5 1025.9,309.0 1026.5,308.1 1027.0,300.3 1027.6,306.3 1028.2,314.4 1028.8,309.1 1029.3,314.5 1029.9,314.7 1030.5,308.0 1031.1,305.2 1031.6,304.8 1032.2,302.4 1032.8,305.6 1033.4,303.5 1033.9,309.4 1034.5,305.0 1035.1,305.5 1035.7,307.9 1036.2,305.8 1036.8,302.1 1037.4,305.6 1038.0,306.3 1038.5,303.9 1039.1,310.9 1039.7,310.9 1040.3,313.8 1040.8,313.0 1041.4,317.0 1042.0,318.2 1042.6,311.5 1043.1,329.0 1043.7,330.2 1044.3,327.6 1044.9,334.4 1045.4,332.8 1046.0,327.4 1046.6,325.1 1047.2,331.4 1047.7,322.2 1048.3,319.3 1048.9,320.5 1049.5,317.1 1050.0,319.4 1050.6,318.0 1051.2,315.6 1051.8,327.5 1052.3,331.4 1052.9,332.6 1053.5,338.8 1054.1,342.4 1054.6,336.8 1055.2,343.6 1055.8,341.3 1056.4,354.8 1056.9,354.6 1057.5,348.9 1058.1,352.7 1058.7,360.6 1059.2,355.8 1059.8,357.1 1060.4,361.1 1061.0,363.3 1061.6,357.7 1062.1,356.9 1062.7,362.1 1063.3,362.0 1063.9,358.3 1064.4,356.0 1065.0,362.5 1065.6,361.1 1066.2,360.3 1066.7,359.5 1067.3,352.0 1067.9,348.6 1068.5,349.0 1069.0,342.9 1069.6,342.0 1070.2,334.4 1070.8,342.3 1071.3,335.2 1071.9,330.3 1072.5,324.8 1073.1,322.0 1073.6,322.5 1074.2,327.1 1074.8,324.5 1075.4,319.2 1075.9,318.4 1076.5,316.5 1077.1,313.1 1077.7,311.0 1078.2,309.3 1078.8,313.4 1079.4,308.0 1080.0,306.1 1080.5,305.0 1081.1,306.6 1081.7,301.4 1082.3,302.3 1082.8,297.5 1083.4,302.2 1084.0,302.4 1084.6,300.0 1085.1,300.4 1085.7,299.6 1086.3,303.3 1086.9,304.1 1087.4,302.2 1088.0,298.3 1088.6,299.6 1089.2,300.0 1089.7,297.1 1090.3,299.1 1090.9,296.9 1091.5,299.5 1092.0,302.4 1092.6,300.6 1093.2,297.0 1093.8,294.0 1094.3,296.8 1094.9,292.2 1095.5,290.4 1096.1,289.2 1096.6,288.6 1097.2,291.0 1097.8,291.2 1098.4,299.2 1098.9,298.7 1099.5,300.3 1100.1,300.7 1100.7,299.1 1101.2,297.2 1101.8,298.4 1102.4,294.3 1103.0,295.3 1103.5,298.4 1104.1,301.2 1104.7,300.1 1105.3,302.4 1105.8,302.2 1106.4,302.1 1107.0,302.4 1107.6,304.3 1108.1,301.3 1108.7,297.2 1109.3,300.4 1109.9,293.8 1110.4,298.8 1111.0,298.5 1111.6,293.1 1112.2,295.9 1112.7,294.5 1113.3,291.2 1113.9,291.1 1114.5,290.2 1115.0,294.8 1115.6,295.2 1116.2,299.4 1116.8,298.7 1117.3,297.3 1117.9,295.5 1118.5,292.3 1119.1,295.1 1119.6,295.7 1120.2,294.1 1120.8,299.2 1121.4,301.6 1121.9,297.5 1122.5,297.9 1123.1,300.8 1123.7,295.9 1124.2,296.6 1124.8,294.7 1125.4,286.8 1126.0,283.2 1126.5,282.7 1127.1,279.2 1127.7,279.7 1128.3,279.8 1128.8,279.2 1129.4,272.3 1130.0,272.4 1130.6,273.5 1131.2,280.7 1131.7,277.1 1132.3,277.4 1132.9,280.9 1133.5,281.5 1134.0,280.9 1134.6,282.9 1135.2,288.2 1135.8,283.9 1136.3,282.2 1136.9,280.6 1137.5,277.1 1138.1,274.3 1138.6,276.6 1139.2,279.8 1139.8,274.1 1140.4,273.7 1140.9,272.9 1141.5,277.6 1142.1,277.3 1142.7,277.5 1143.2,268.9 1143.8,269.8 1144.4,272.6 1145.0,273.3 1145.5,270.7 1146.1,269.5 1146.7,270.3 1147.3,272.6 1147.8,271.1 1148.4,273.5 1149.0,271.4 1149.6,274.9 1150.1,273.1 1150.7,277.7 1151.3,279.1 1151.9,276.6 1152.4,279.4 1153.0,284.9 1153.6,288.6 1154.2,291.2 1154.7,286.0 1155.3,282.8 1155.9,282.9 1156.5,283.1 1157.0,280.4 1157.6,278.2 1158.2,279.0 1158.8,280.9 1159.3,279.2 1159.9,279.5 1160.5,278.7 1161.1,280.9 1161.6,281.8 1162.2,284.9 1162.8,288.6 1163.4,286.1 1163.9,286.1 1164.5,285.8 1165.1,286.9 1165.7,288.7 1166.2,289.3 1166.8,292.7 1167.4,286.6 1168.0,286.8 1168.5,286.6 1169.1,286.4 1169.7,286.2 1170.3,286.5 1170.8,291.3 1171.4,290.9 1172.0,290.3 1172.6,287.2 1173.1,285.4 1173.7,287.8 1174.3,286.4 1174.9,279.6 1175.4,266.5 1176.0,257.3 1176.6,261.2 1177.2,259.7 1177.7,255.5 1178.3,251.7 1178.9,252.1 1179.5,249.3 1180.0,247.8 1180.6,248.1 1181.2,247.2 1181.8,244.0 1182.3,244.4 1182.9,247.4 1183.5,244.9 1184.1,242.7 1184.6,244.2 1185.2,239.5 1185.8,237.9 1186.4,230.8 1186.9,231.3 1187.5,234.0 1188.1,237.3 1188.7,242.3 1189.2,236.0 1189.8,240.1 1190.4,238.0 1191.0,236.5 1191.5,240.3 1192.1,243.0 1192.7,237.7 1193.3,240.6 1193.8,238.9 1194.4,243.3 1195.0,246.3 1195.6,244.4 1196.1,236.7 1196.7,240.8 1197.3,241.2" stroke="#7E2F8E" stroke-width="2.5" stroke-linejoin="round" fill="none"/>
<path d="M39.4,556.0 40.0,553.4 40.6,554.0 41.1,556.7 41.7,560.6 42.3,558.7 42.9,569.9 43.4,568.4 44.0,566.5 44.6,567.4 45.2,570.3 45.7,570.4 46.3,564.3 46.9,565.7 47.5,567.7 48.0,570.1 48.6,569.7 49.2,567.4 49.8,569.4 50.3,569.3 50.9,574.6 51.5,577.0 52.1,574.8 52.6,576.1 53.2,574.3 53.8,568.6 54.4,567.7 54.9,567.3 55.5,572.2 56.1,573.3 56.7,573.1 57.2,574.4 57.8,576.8 58.4,579.5 59.0,578.7 59.5,579.0 60.1,581.6 60.7,584.5 61.3,585.0 61.8,583.6 62.4,585.3 63.0,586.5 63.6,587.0 64.1,584.8 64.7,583.0 65.3,576.3 65.9,571.2 66.4,576.9 67.0,571.3 67.6,570.8 68.2,566.0 68.7,560.0 69.3,557.6 69.9,553.8 70.5,549.2 71.0,548.0 71.6,548.2 72.2,547.7 72.8,550.2 73.3,548.2 73.9,545.9 74.5,547.7 75.1,550.5 75.6,545.2 76.2,543.8 76.8,543.4 77.4,540.5 77.9,545.2 78.5,549.4 79.1,547.0 79.7,543.4 80.2,545.3 80.8,542.6 81.4,543.4 82.0,540.3 82.5,536.7 83.1,539.7 83.7,539.6 84.3,541.1 84.8,541.1 85.4,537.7 86.0,532.0 86.6,539.0 87.1,535.4 87.7,531.2 88.3,534.6 88.9,532.8 89.4,536.2 90.0,537.8 90.6,535.2 91.2,533.9 91.7,537.5 92.3,540.4 92.9,537.6 93.5,533.6 94.0,528.3 94.6,532.8 95.2,528.6 95.8,531.5 96.3,533.0 96.9,530.3 97.5,531.5 98.1,528.0 98.6,524.5 99.2,521.0 99.8,525.6 100.4,525.8 100.9,525.0 101.5,521.9 102.1,525.1 102.7,525.3 103.2,532.8 103.8,530.0 104.4,532.4 105.0,535.9 105.5,534.9 106.1,531.6 106.7,536.3 107.3,535.0 107.9,532.6 108.4,527.8 109.0,529.7 109.6,533.3 110.2,534.7 110.7,535.0 111.3,533.2 111.9,533.8 112.5,536.1 113.0,540.9 113.6,534.4 114.2,533.5 114.8,532.8 115.3,528.6 115.9,519.3 116.5,513.8 117.1,512.5 117.6,511.1 118.2,509.7 118.8,510.9 119.4,511.3 119.9,512.8 120.5,511.9 121.1,508.8 121.7,509.7 122.2,506.9 122.8,504.4 123.4,504.5 124.0,508.8 124.5,506.7 125.1,506.4 125.7,508.8 126.3,510.7 126.8,506.0 127.4,509.2 128.0,512.3 128.6,512.0 129.1,510.1 129.7,504.2 130.3,502.2 130.9,504.1 131.4,507.5 132.0,501.9 132.6,503.8 133.2,502.4 133.7,505.6 134.3,503.7 134.9,505.4 135.5,505.7 136.0,503.9 136.6,499.9 137.2,501.6 137.8,500.8 138.3,501.1 138.9,498.8 139.5,497.9 140.1,496.7 140.6,495.4 141.2,493.4 141.8,494.3 142.4,495.7 142.9,498.9 143.5,495.3 144.1,493.3 144.7,499.1 145.2,498.0 145.8,498.0 146.4,503.2 147.0,504.6 147.5,503.6 148.1,499.8 148.7,498.3 149.3,496.6 149.8,493.9 150.4,495.2 151.0,494.9 151.6,492.4 152.1,495.1 152.7,490.7 153.3,490.1 153.9,494.7 154.4,489.4 155.0,492.4 155.6,491.2 156.2,489.7 156.7,492.4 157.3,495.3 157.9,497.5 158.5,494.9 159.0,495.2 159.6,496.3 160.2,494.6 160.8,487.8 161.3,485.4 161.9,483.7 162.5,482.7 163.1,483.9 163.6,481.3 164.2,478.1 164.8,481.1 165.4,481.9 165.9,484.3 166.5,484.8 167.1,484.6 167.7,487.3 168.2,481.9 168.8,483.3 169.4,484.4 170.0,481.0 170.5,478.5 171.1,478.2 171.7,478.6 172.3,475.8 172.8,477.8 173.4,479.3 174.0,479.0 174.6,476.8 175.1,480.7 175.7,481.0 176.3,482.3 176.9,483.4 177.5,480.1 178.0,476.1 178.6,471.9 179.2,473.2 179.8,470.2 180.3,468.6 180.9,468.0 181.5,469.2 182.1,463.1 182.6,464.3 183.2,464.9 183.8,471.9 184.4,472.5 184.9,473.1 185.5,470.9 186.1,469.5 186.7,467.6 187.2,466.5 187.8,466.6 188.4,464.4 189.0,469.5 189.5,466.6 190.1,469.4 190.7,471.9 191.3,476.7 191.8,485.1 192.4,484.3 193.0,485.0 193.6,485.9 194.1,489.8 194.7,488.6 195.3,490.1 195.9,490.9 196.4,492.0 197.0,492.4 197.6,491.9 198.2,490.7 198.7,495.6 199.3,495.0 199.9,491.9 200.5,491.7 201.0,489.6 201.6,486.8 202.2,486.2 202.8,486.7 203.3,484.4 203.9,487.7 204.5,486.3 205.1,479.3 205.6,476.8 206.2,474.9 206.8,477.3 207.4,475.4 207.9,472.8 208.5,471.1 209.1,475.0 209.7,475.7 210.2,474.5 210.8,477.2 211.4,476.6 212.0,476.0 212.5,472.5 213.1,472.3 213.7,471.0 214.3,470.2 214.8,471.0 215.4,472.3 216.0,464.7 216.6,466.8 217.1,469.6 217.7,468.9 218.3,465.6 218.9,464.9 219.4,466.4 220.0,463.9 220.6,463.6 221.2,467.4 221.7,465.9 222.3,461.4 222.9,458.8 223.5,459.4 224.0,456.4 224.6,455.1 225.2,459.4 225.8,456.6 226.3,457.2 226.9,457.6 227.5,456.9 228.1,458.0 228.6,457.3 229.2,457.0 229.8,461.9 230.4,461.7 230.9,464.9 231.5,467.5 232.1,466.7 232.7,468.6 233.2,474.7 233.8,479.5 234.4,480.8 235.0,479.5 235.5,481.7 236.1,486.1 236.7,486.5 237.3,485.3 237.8,490.7 238.4,490.8 239.0,487.5 239.6,487.3 240.1,489.8 240.7,491.4 241.3,492.4 241.9,486.8 242.4,483.0 243.0,485.9 243.6,482.4 244.2,482.1 244.8,489.1 245.3,491.0 245.9,490.1 246.5,488.1 247.1,484.4 247.6,481.1 248.2,480.0 248.8,475.1 249.4,475.1 249.9,483.8 250.5,484.2 251.1,487.1 251.7,489.7 252.2,492.9 252.8,493.0 253.4,496.9 254.0,499.0 254.5,496.3 255.1,500.6 255.7,498.0 256.3,500.7 256.8,499.1 257.4,500.8 258.0,499.6 258.6,492.6 259.1,495.4 259.7,493.6 260.3,489.4 260.9,494.3 261.4,486.4 262.0,489.4 262.6,491.8 263.2,492.0 263.7,490.4 264.3,491.6 264.9,484.4 265.5,485.8 266.0,484.7 266.6,485.2 267.2,486.1 267.8,483.1 268.3,479.9 268.9,481.0 269.5,479.9 270.1,483.0 270.6,486.2 271.2,485.5 271.8,487.8 272.4,488.0 272.9,486.1 273.5,489.1 274.1,488.7 274.7,495.3 275.2,488.6 275.8,489.8 276.4,490.9 277.0,492.4 277.5,496.5 278.1,491.4 278.7,492.5 279.3,488.9 279.8,487.5 280.4,489.6 281.0,489.9 281.6,484.7 282.1,480.4 282.7,482.4 283.3,476.4 283.9,472.4 284.4,473.9 285.0,474.1 285.6,469.8 286.2,470.1 286.7,466.8 287.3,470.5 287.9,467.5 288.5,472.6 289.0,471.4 289.6,470.4 290.2,468.3 290.8,468.9 291.3,463.1 291.9,463.5 292.5,462.3 293.1,464.4 293.6,466.1 294.2,458.3 294.8,461.2 295.4,459.8 295.9,461.5 296.5,458.9 297.1,458.0 297.7,457.9 298.2,459.7 298.8,451.4 299.4,454.8 300.0,452.4 300.5,450.2 301.1,447.6 301.7,449.3 302.3,445.3 302.8,445.4 303.4,446.1 304.0,444.3 304.6,442.8 305.1,446.1 305.7,446.0 306.3,445.7 306.9,447.5 307.4,447.4 308.0,447.6 308.6,449.2 309.2,453.4 309.7,454.2 310.3,455.9 310.9,451.8 311.5,452.6 312.1,454.7 312.6,451.8 313.2,451.1 313.8,448.9 314.4,447.5 314.9,446.2 315.5,441.6 316.1,442.1 316.7,443.7 317.2,443.3 317.8,444.6 318.4,442.1 319.0,443.3 319.5,443.3 320.1,444.5 320.7,441.5 321.3,439.8 321.8,440.6 322.4,440.5 323.0,435.5 323.6,438.1 324.1,439.6 324.7,440.4 325.3,437.8 325.9,439.8 326.4,433.4 327.0,437.9 327.6,432.3 328.2,431.8 328.7,432.0 329.3,433.8 329.9,433.1 330.5,433.0 331.0,432.8 331.6,431.6 332.2,430.6 332.8,431.9 333.3,434.7 333.9,430.6 334.5,426.5 335.1,428.9 335.6,427.6 336.2,426.1 336.8,425.7 337.4,431.4 337.9,429.8 338.5,430.4 339.1,428.6 339.7,428.5 340.2,427.1 340.8,422.6 341.4,419.9 342.0,419.8 342.5,421.6 343.1,425.4 343.7,424.0 344.3,420.6 344.8,418.3 345.4,417.4 346.0,419.1 346.6,421.1 347.1,421.3 347.7,423.0 348.3,426.9 348.9,425.8 349.4,425.2 350.0,424.3 350.6,424.1 351.2,425.2 351.7,426.9 352.3,425.6 352.9,428.0 353.5,429.9 354.0,433.2 354.6,436.7 355.2,434.1 355.8,433.3 356.3,439.4 356.9,444.8 357.5,443.1 358.1,445.6 358.6,443.3 359.2,436.9 359.8,435.0 360.4,431.7 360.9,430.6 361.5,427.5 362.1,429.4 362.7,430.5 363.2,432.0 363.8,431.1 364.4,429.6 365.0,426.9 365.5,430.1 366.1,432.9 366.7,429.5 367.3,426.7 367.8,429.5 368.4,429.8 369.0,431.4 369.6,432.6 370.1,433.7 370.7,428.8 371.3,430.3 371.9,424.9 372.4,429.7 373.0,425.3 373.6,424.3 374.2,423.6 374.7,420.3 375.3,422.8 375.9,419.0 376.5,419.8 377.0,421.0 377.6,425.7 378.2,430.2 378.8,429.1 379.3,432.1 379.9,430.9 380.5,431.9 381.1,434.1 381.7,432.4 382.2,429.9 382.8,427.9 383.4,431.1 384.0,431.2 384.5,430.0 385.1,427.4 385.7,428.6 386.3,429.7 386.8,433.6 387.4,433.8 388.0,435.2 388.6,437.7 389.1,441.5 389.7,442.8 390.3,442.6 390.9,444.7 391.4,445.6 392.0,442.5 392.6,447.9 393.2,446.0 393.7,449.1 394.3,446.1 394.9,449.7 395.5,450.8 396.0,447.7 396.6,449.1 397.2,450.2 397.8,445.8 398.3,448.3 398.9,443.7 399.5,442.2 400.1,436.9 400.6,433.4 401.2,428.6 401.8,428.8 402.4,424.5 402.9,422.8 403.5,425.6 404.1,428.8 404.7,432.2 405.2,433.1 405.8,429.2 406.4,430.2 407.0,423.6 407.5,422.3 408.1,417.9 408.7,412.9 409.3,416.4 409.8,425.3 410.4,423.2 411.0,431.6 411.6,422.9 412.1,430.5 412.7,448.1 413.3,453.2 413.9,462.3 414.4,468.6 415.0,470.1 415.6,472.7 416.2,460.3 416.7,455.4 417.3,457.3 417.9,466.5 418.5,474.2 419.0,469.7 419.6,464.7 420.2,460.0 420.8,467.5 421.3,463.2 421.9,454.9 422.5,460.9 423.1,451.5 423.6,450.7 424.2,455.3 424.8,463.3 425.4,467.5 425.9,457.9 426.5,459.3 427.1,460.4 427.7,453.9 428.2,461.0 428.8,459.0 429.4,441.7 430.0,440.2 430.5,441.0 431.1,441.0 431.7,441.8 432.3,442.2 432.8,453.2 433.4,450.3 434.0,445.3 434.6,455.8 435.1,471.1 435.7,459.9 436.3,460.7 436.9,452.0 437.4,454.2 438.0,451.5 438.6,444.5 439.2,439.3 439.7,442.4 440.3,441.0 440.9,444.8 441.5,443.2 442.0,429.4 442.6,426.1 443.2,433.1 443.8,430.9 444.3,426.2 444.9,438.6 445.5,426.4 446.1,424.6 446.6,424.1 447.2,425.9 447.8,427.1 448.4,430.2 449.0,433.4 449.5,430.5 450.1,431.8 450.7,427.6 451.3,426.6 451.8,425.9 452.4,419.6 453.0,428.4 453.6,424.4 454.1,431.6 454.7,443.1 455.3,445.0 455.9,448.4 456.4,453.3 457.0,454.9 457.6,448.6 458.2,451.7 458.7,444.6 459.3,436.1 459.9,434.4 460.5,443.0 461.0,435.7 461.6,429.8 462.2,436.9 462.8,434.7 463.3,443.2 463.9,443.6 464.5,435.8 465.1,436.9 465.6,432.1 466.2,445.6 466.8,445.6 467.4,438.4 467.9,442.4 468.5,446.5 469.1,436.3 469.7,433.1 470.2,439.0 470.8,435.7 471.4,431.6 472.0,441.1 472.5,436.8 473.1,431.0 473.7,435.9 474.3,434.3 474.8,435.1 475.4,438.2 476.0,433.7 476.6,433.5 477.1,431.0 477.7,422.3 478.3,427.5 478.9,427.2 479.4,426.1 480.0,429.6 480.6,428.8 481.2,428.1 481.7,431.2 482.3,420.5 482.9,423.9 483.5,426.3 484.0,420.9 484.6,413.8 485.2,412.5 485.8,406.1 486.3,410.1 486.9,407.1 487.5,406.5 488.1,400.6 488.6,404.4 489.2,404.4 489.8,404.5 490.4,400.8 490.9,395.3 491.5,399.1 492.1,390.7 492.7,392.9 493.2,395.9 493.8,391.3 494.4,399.9 495.0,397.7 495.5,399.4 496.1,389.8 496.7,387.9 497.3,390.2 497.8,386.2 498.4,389.0 499.0,384.6 499.6,386.2 500.1,384.3 500.7,387.6 501.3,386.3 501.9,380.6 502.4,385.0 503.0,381.5 503.6,379.3 504.2,378.7 504.7,377.3 505.3,379.2 505.9,382.7 506.5,379.9 507.0,378.9 507.6,375.0 508.2,372.9 508.8,374.7 509.3,377.9 509.9,378.0 510.5,380.3 511.1,385.8 511.6,387.4 512.2,379.3 512.8,391.0 513.4,388.7 513.9,391.8 514.5,386.2 515.1,387.5 515.7,388.0 516.3,392.4 516.8,393.3 517.4,388.7 518.0,384.1 518.6,383.9 519.1,383.4 519.7,385.3 520.3,388.1 520.9,392.0 521.4,387.9 522.0,391.6 522.6,395.7 523.2,393.4 523.7,397.4 524.3,398.7 524.9,400.6 525.5,402.1 526.0,404.7 526.6,405.5 527.2,405.3 527.8,403.1 528.3,400.9 528.9,401.2 529.5,402.7 530.1,406.7 530.6,409.0 531.2,416.0 531.8,416.9 532.4,413.9 532.9,414.7 533.5,414.7 534.1,412.5 534.7,401.0 535.2,404.5 535.8,402.2 536.4,401.7 537.0,400.6 537.5,402.9 538.1,407.1 538.7,405.8 539.3,404.8 539.8,399.6 540.4,393.7 541.0,397.4 541.6,399.1 542.1,403.2 542.7,407.5 543.3,401.5 543.9,400.0 544.4,394.7 545.0,392.1 545.6,393.2 546.2,393.5 546.7,399.5 547.3,402.7 547.9,407.3 548.5,402.3 549.0,400.4 549.6,396.2 550.2,394.9 550.8,392.9 551.3,395.0 551.9,399.0 552.5,399.8 553.1,402.2 553.6,402.8 554.2,400.2 554.8,397.8 555.4,394.2 555.9,392.8 556.5,390.5 557.1,384.5 557.7,385.9 558.2,383.1 558.8,383.3 559.4,383.3 560.0,381.0 560.5,378.0 561.1,376.3 561.7,373.3 562.3,374.0 562.8,372.5 563.4,374.5 564.0,373.7 564.6,376.6 565.1,373.0 565.7,375.5 566.3,373.4 566.9,377.6 567.4,375.4 568.0,373.8 568.6,376.5 569.2,374.5 569.7,371.8 570.3,371.4 570.9,370.6 571.5,367.4 572.0,364.8 572.6,369.1 573.2,368.5 573.8,365.3 574.3,362.0 574.9,362.5 575.5,362.8 576.1,361.2 576.6,360.1 577.2,361.8 577.8,364.1 578.4,365.5 578.9,368.0 579.5,368.3 580.1,370.5 580.7,373.5 581.2,374.6 581.8,374.4 582.4,372.8 583.0,369.2 583.5,370.5 584.1,370.4 584.7,371.0 585.3,370.7 585.9,375.5 586.4,370.9 587.0,376.2 587.6,381.9 588.2,383.1 588.7,388.6 589.3,388.2 589.9,389.4 590.5,389.2 591.0,391.5 591.6,391.3 592.2,393.1 592.8,397.0 593.3,396.3 593.9,395.1 594.5,391.1 595.1,394.1 595.6,392.3 596.2,395.3 596.8,399.8 597.4,399.6 597.9,402.7 598.5,407.3 599.1,410.3 599.7,407.7 600.2,403.4 600.8,400.2 601.4,400.2 602.0,396.8 602.5,397.1 603.1,396.2 603.7,396.6 604.3,398.1 604.8,392.4 605.4,395.7 606.0,396.6 606.6,393.1 607.1,395.2 607.7,396.2 608.3,395.9 608.9,396.1 609.4,394.8 610.0,394.4 610.6,391.5 611.2,387.1 611.7,390.7 612.3,392.4 612.9,392.9 613.5,395.3 614.0,396.3 614.6,397.9 615.2,398.9 615.8,400.8 616.3,396.8 616.9,392.9 617.5,389.4 618.1,389.4 618.6,387.7 619.2,390.6 619.8,388.2 620.4,385.4 620.9,390.6 621.5,390.7 622.1,387.0 622.7,389.5 623.2,392.8 623.8,390.1 624.4,388.4 625.0,387.9 625.5,388.6 626.1,387.5 626.7,389.7 627.3,387.1 627.8,385.8 628.4,388.4 629.0,387.9 629.6,388.3 630.1,387.9 630.7,389.0 631.3,389.7 631.9,383.8 632.4,380.2 633.0,379.6 633.6,384.1 634.2,385.2 634.7,384.8 635.3,384.0 635.9,382.6 636.5,385.0 637.0,387.1 637.6,384.3 638.2,390.4 638.8,389.7 639.3,386.5 639.9,384.0 640.5,384.3 641.1,383.9 641.6,383.0 642.2,382.0 642.8,377.3 643.4,377.5 643.9,379.3 644.5,377.8 645.1,377.2 645.7,376.5 646.2,380.6 646.8,381.4 647.4,377.9 648.0,378.2 648.5,379.8 649.1,381.1 649.7,379.0 650.3,379.2 650.8,382.0 651.4,378.0 652.0,382.0 652.6,380.8 653.2,382.4 653.7,385.5 654.3,381.1 654.9,380.5 655.5,380.3 656.0,376.4 656.6,376.9 657.2,376.2 657.8,380.4 658.3,381.4 658.9,383.5 659.5,386.9 660.1,388.0 660.6,388.0 661.2,383.7 661.8,378.6 662.4,380.7 662.9,379.6 663.5,375.4 664.1,372.9 664.7,370.2 665.2,373.4 665.8,371.1 666.4,365.7 667.0,361.5 667.5,360.9 668.1,362.0 668.7,359.6 669.3,357.1 669.8,357.4 670.4,356.0 671.0,351.8 671.6,353.3 672.1,359.6 672.7,359.4 673.3,357.4 673.9,355.1 674.4,358.0 675.0,359.7 675.6,356.8 676.2,355.5 676.7,355.0 677.3,363.7 677.9,362.5 678.5,361.0 679.0,359.9 679.6,362.0 680.2,364.4 680.8,363.7 681.3,362.2 681.9,366.0 682.5,361.5 683.1,360.9 683.6,359.5 684.2,365.2 684.8,370.3 685.4,376.7 685.9,377.3 686.5,375.9 687.1,375.4 687.7,373.6 688.2,373.5 688.8,372.0 689.4,371.5 690.0,369.6 690.5,364.6 691.1,362.0 691.7,365.2 692.3,362.4 692.8,357.3 693.4,356.2 694.0,357.4 694.6,356.7 695.1,358.4 695.7,356.2 696.3,361.4 696.9,362.2 697.4,358.5 698.0,363.4 698.6,361.5 699.2,362.3 699.7,361.0 700.3,358.9 700.9,355.6 701.5,354.1 702.0,355.7 702.6,353.6 703.2,353.6 703.8,353.4 704.3,351.9 704.9,353.3 705.5,355.8 706.1,356.5 706.6,355.4 707.2,352.2 707.8,353.9 708.4,354.9 708.9,354.0 709.5,358.9 710.1,361.7 710.7,360.4 711.2,358.8 711.8,364.0 712.4,362.4 713.0,362.3 713.5,361.8 714.1,361.6 714.7,361.9 715.3,360.9 715.8,355.8 716.4,357.8 717.0,359.0 717.6,355.4 718.1,350.9 718.7,349.5 719.3,348.8 719.9,348.5 720.4,345.1 721.0,351.5 721.6,349.0 722.2,350.1 722.8,350.9 723.3,352.9 723.9,353.6 724.5,356.4 725.1,358.9 725.6,358.4 726.2,358.3 726.8,357.9 727.4,357.8 727.9,355.3 728.5,357.1 729.1,355.6 729.7,354.4 730.2,348.6 730.8,345.6 731.4,347.4 732.0,343.6 732.5,343.7 733.1,342.8 733.7,337.9 734.3,338.3 734.8,336.6 735.4,334.0 736.0,330.7 736.6,330.2 737.1,329.8 737.7,329.0 738.3,331.2 738.9,331.3 739.4,333.0 740.0,331.9 740.6,329.6 741.2,329.4 741.7,330.1 742.3,330.3 742.9,331.1 743.5,330.5 744.0,330.1 744.6,324.1 745.2,325.1 745.8,323.3 746.3,326.3 746.9,325.7 747.5,326.6 748.1,329.1 748.6,327.9 749.2,329.8 749.8,324.1 750.4,327.5 750.9,322.7 751.5,327.1 752.1,322.4 752.7,322.0 753.2,320.2 753.8,321.5 754.4,317.8 755.0,317.0 755.5,323.1 756.1,320.5 756.7,322.5 757.3,323.0 757.8,320.3 758.4,315.2 759.0,313.6 759.6,310.8 760.1,308.0 760.7,310.6 761.3,307.4 761.9,307.2 762.4,309.4 763.0,309.5 763.6,308.7 764.2,309.1 764.7,311.6 765.3,310.2 765.9,311.4 766.5,311.4 767.0,310.1 767.6,310.0 768.2,312.7 768.8,307.3 769.3,309.9 769.9,314.6 770.5,317.2 771.1,317.9 771.6,317.3 772.2,321.5 772.8,323.2 773.4,324.5 773.9,330.1 774.5,328.3 775.1,327.4 775.7,328.5 776.2,325.6 776.8,321.3 777.4,317.7 778.0,315.4 778.5,313.7 779.1,311.5 779.7,308.7 780.3,311.2 780.8,308.4 781.4,304.8 782.0,305.9 782.6,302.5 783.1,300.6 783.7,303.0 784.3,303.2 784.9,299.9 785.4,304.0 786.0,302.8 786.6,305.6 787.2,301.4 787.7,302.4 788.3,300.6 788.9,303.6 789.5,303.2 790.1,304.9 790.6,302.2 791.2,302.7 791.8,298.2 792.4,296.8 792.9,295.9 793.5,299.3 794.1,297.4 794.7,299.4 795.2,301.6 795.8,299.8 796.4,299.8 797.0,300.0 797.5,301.4 798.1,301.4 798.7,307.3 799.3,306.7 799.8,310.8 800.4,312.3 801.0,314.0 801.6,316.4 802.1,315.9 802.7,312.4 803.3,314.3 803.9,313.7 804.4,307.9 805.0,305.2 805.6,301.2 806.2,300.8 806.7,301.9 807.3,303.0 807.9,303.6 808.5,302.3 809.0,303.4 809.6,300.2 810.2,300.8 810.8,298.9 811.3,302.1 811.9,299.6 812.5,302.5 813.1,298.3 813.6,301.5 814.2,301.1 814.8,301.5 815.4,300.7 815.9,296.5 816.5,292.5 817.1,294.4 817.7,291.1 818.2,292.9 818.8,287.6 819.4,286.3 820.0,288.5 820.5,286.6 821.1,281.9 821.7,286.7 822.3,286.2 822.8,283.3 823.4,281.0 824.0,282.1 824.6,286.0 825.1,283.3 825.7,283.5 826.3,282.5 826.9,283.1 827.4,280.1 828.0,279.8 828.6,281.3 829.2,280.6 829.7,275.2 830.3,274.0 830.9,273.5 831.5,274.5 832.0,279.1 832.6,276.1 833.2,275.5 833.8,273.1 834.3,275.2 834.9,272.2 835.5,271.8 836.1,275.0 836.6,272.9 837.2,273.5 837.8,268.2 838.4,268.3 838.9,271.0 839.5,269.6 840.1,266.0 840.7,266.7 841.2,265.6 841.8,265.8 842.4,262.9 843.0,261.7 843.5,264.5 844.1,262.9 844.7,263.0 845.3,261.1 845.8,260.6 846.4,264.6 847.0,267.0 847.6,267.9 848.1,266.6 848.7,271.5 849.3,270.8 849.9,271.5 850.4,268.3 851.0,264.8 851.6,266.9 852.2,262.2 852.7,263.2 853.3,259.1 853.9,263.3 854.5,257.9 855.0,255.6 855.6,252.8 856.2,252.9 856.8,253.4 857.4,248.1 857.9,251.3 858.5,247.3 859.1,251.0 859.7,253.2 860.2,247.6 860.8,251.9 861.4,249.7 862.0,249.3 862.5,249.8 863.1,248.5 863.7,252.1 864.3,250.3 864.8,245.1 865.4,253.7 866.0,261.5 866.6,262.5 867.1,257.8 867.7,260.9 868.3,262.1 868.9,266.1 869.4,268.3 870.0,267.4 870.6,262.5 871.2,260.3 871.7,258.3 872.3,258.2 872.9,265.8 873.5,274.8 874.0,281.0 874.6,288.1 875.2,291.8 875.8,289.4 876.3,278.1 876.9,278.2 877.5,272.2 878.1,265.6 878.6,265.4 879.2,261.6 879.8,263.4 880.4,264.5 880.9,253.3 881.5,256.3 882.1,255.4 882.7,250.0 883.2,246.8 883.8,244.3 884.4,244.8 885.0,244.4 885.5,245.4 886.1,241.7 886.7,241.5 887.3,240.3 887.8,237.2 888.4,237.4 889.0,241.0 889.6,238.7 890.1,228.1 890.7,231.7 891.3,231.2 891.9,226.7 892.4,221.1 893.0,226.3 893.6,229.8 894.2,227.6 894.7,222.6 895.3,229.6 895.9,231.2 896.5,237.8 897.0,239.2 897.6,242.8 898.2,241.5 898.8,237.2 899.3,238.8 899.9,237.0 900.5,240.7 901.1,232.3 901.6,235.6 902.2,232.6 902.8,231.9 903.4,225.6 903.9,230.1 904.5,231.4 905.1,236.8 905.7,234.2 906.2,236.2 906.8,239.0 907.4,237.6 908.0,239.5 908.5,242.0 909.1,240.4 909.7,244.3 910.3,249.6 910.8,251.9 911.4,253.9 912.0,256.7 912.6,255.5 913.1,255.6 913.7,256.9 914.3,255.3 914.9,252.2 915.4,242.7 916.0,249.1 916.6,251.3 917.2,258.6 917.7,256.3 918.3,253.7 918.9,246.7 919.5,244.5 920.0,248.9 920.6,244.6 921.2,239.9 921.8,234.3 922.3,233.4 922.9,226.3 923.5,222.7 924.1,226.5 924.6,229.9 925.2,228.6 925.8,224.5 926.4,218.5 927.0,222.1 927.5,214.5 928.1,219.9 928.7,213.2 929.3,215.8 929.8,212.9 930.4,218.0 931.0,220.9 931.6,227.6 932.1,224.6 932.7,229.8 933.3,231.3 933.9,234.3 934.4,240.2 935.0,234.0 935.6,232.4 936.2,233.4 936.7,234.0 937.3,228.4 937.9,229.2 938.5,233.4 939.0,231.3 939.6,229.9 940.2,236.6 940.8,240.5 941.3,239.0 941.9,234.3 942.5,236.5 943.1,232.7 943.6,231.7 944.2,233.1 944.8,233.2 945.4,240.6 945.9,238.3 946.5,233.1 947.1,230.3 947.7,234.7 948.2,232.8 948.8,237.1 949.4,230.9 950.0,234.1 950.5,227.6 951.1,226.2 951.7,221.8 952.3,224.1 952.8,224.8 953.4,219.5 954.0,219.5 954.6,218.4 955.1,219.8 955.7,224.8 956.3,224.0 956.9,228.1 957.4,220.5 958.0,227.4 958.6,223.7 959.2,221.0 959.7,219.4 960.3,217.3 960.9,219.1 961.5,221.2 962.0,210.8 962.6,213.1 963.2,211.5 963.8,207.9 964.3,210.5 964.9,217.6 965.5,217.6 966.1,219.6 966.6,218.7 967.2,219.5 967.8,228.1 968.4,227.4 968.9,225.9 969.5,229.9 970.1,227.9 970.7,223.6 971.2,221.8 971.8,218.3 972.4,215.0 973.0,215.7 973.5,215.1 974.1,220.5 974.7,223.0 975.3,226.2 975.8,226.0 976.4,226.8 977.0,231.4 977.6,235.8 978.1,233.2 978.7,238.4 979.3,236.6 979.9,239.2 980.4,246.1 981.0,244.0 981.6,239.8 982.2,235.9 982.7,232.0 983.3,227.6 983.9,228.3 984.5,221.8 985.0,217.4 985.6,209.4 986.2,208.6 986.8,217.0 987.3,223.9 987.9,221.8 988.5,222.6 989.1,229.6 989.6,231.2 990.2,228.1 990.8,231.5 991.4,225.6 991.9,226.3 992.5,221.0 993.1,227.2 993.7,223.3 994.3,228.4 994.8,221.4 995.4,229.2 996.0,225.9 996.6,217.5 997.1,223.8 997.7,232.2 998.3,246.6 998.9,254.0 999.4,258.7 1000.0,273.0 1000.6,283.8 1001.2,286.9 1001.7,270.8 1002.3,267.7 1002.9,270.2 1003.5,269.9 1004.0,266.1 1004.6,268.4 1005.2,253.5 1005.8,251.3 1006.3,246.5 1006.9,257.5 1007.5,250.9 1008.1,242.6 1008.6,246.4 1009.2,242.4 1009.8,262.4 1010.4,252.4 1010.9,260.5 1011.5,262.0 1012.1,261.2 1012.7,253.4 1013.2,255.4 1013.8,249.7 1014.4,244.2 1015.0,239.9 1015.5,236.7 1016.1,240.5 1016.7,235.0 1017.3,238.8 1017.8,238.4 1018.4,239.6 1019.0,239.4 1019.6,235.0 1020.1,229.5 1020.7,232.0 1021.3,227.3 1021.9,213.5 1022.4,218.3 1023.0,216.1 1023.6,213.6 1024.2,210.2 1024.7,203.6 1025.3,201.4 1025.9,206.7 1026.5,215.4 1027.0,211.3 1027.6,213.9 1028.2,203.9 1028.8,206.9 1029.3,200.2 1029.9,213.2 1030.5,210.3 1031.1,219.7 1031.6,218.6 1032.2,220.7 1032.8,218.1 1033.4,211.3 1033.9,209.1 1034.5,202.7 1035.1,201.4 1035.7,203.5 1036.2,208.2 1036.8,205.1 1037.4,208.2 1038.0,207.4 1038.5,199.3 1039.1,201.4 1039.7,197.4 1040.3,201.2 1040.8,205.2 1041.4,206.7 1042.0,205.0 1042.6,211.5 1043.1,214.0 1043.7,218.2 1044.3,218.7 1044.9,206.6 1045.4,210.0 1046.0,213.6 1046.6,211.2 1047.2,216.2 1047.7,224.3 1048.3,218.1 1048.9,215.3 1049.5,208.4 1050.0,210.3 1050.6,212.4 1051.2,214.6 1051.8,212.4 1052.3,219.2 1052.9,233.9 1053.5,234.5 1054.1,241.3 1054.6,238.7 1055.2,251.1 1055.8,244.6 1056.4,249.1 1056.9,254.9 1057.5,250.9 1058.1,253.1 1058.7,258.0 1059.2,255.3 1059.8,256.5 1060.4,250.8 1061.0,251.2 1061.6,251.3 1062.1,257.0 1062.7,237.6 1063.3,248.1 1063.9,244.2 1064.4,248.5 1065.0,260.3 1065.6,263.5 1066.2,270.1 1066.7,272.0 1067.3,271.1 1067.9,275.4 1068.5,268.0 1069.0,264.9 1069.6,256.5 1070.2,263.3 1070.8,253.2 1071.3,247.9 1071.9,242.8 1072.5,248.1 1073.1,243.6 1073.6,250.6 1074.2,242.0 1074.8,238.5 1075.4,237.4 1075.9,232.0 1076.5,230.5 1077.1,228.9 1077.7,231.4 1078.2,226.9 1078.8,231.3 1079.4,221.2 1080.0,212.6 1080.5,209.9 1081.1,208.3 1081.7,205.3 1082.3,214.7 1082.8,210.1 1083.4,207.2 1084.0,202.7 1084.6,204.5 1085.1,214.6 1085.7,206.2 1086.3,206.2 1086.9,200.2 1087.4,201.4 1088.0,199.8 1088.6,200.0 1089.2,203.7 1089.7,204.5 1090.3,207.9 1090.9,209.8 1091.5,203.6 1092.0,206.4 1092.6,205.3 1093.2,204.6 1093.8,202.3 1094.3,201.4 1094.9,208.8 1095.5,202.2 1096.1,211.8 1096.6,214.6 1097.2,215.4 1097.8,218.6 1098.4,215.9 1098.9,222.7 1099.5,222.3 1100.1,227.6 1100.7,231.4 1101.2,235.6 1101.8,229.5 1102.4,225.6 1103.0,224.2 1103.5,224.6 1104.1,223.3 1104.7,224.2 1105.3,224.9 1105.8,222.4 1106.4,224.1 1107.0,225.8 1107.6,217.8 1108.1,211.0 1108.7,216.7 1109.3,210.2 1109.9,211.7 1110.4,203.0 1111.0,206.8 1111.6,203.3 1112.2,207.6 1112.7,201.1 1113.3,201.8 1113.9,198.7 1114.5,204.0 1115.0,209.3 1115.6,205.7 1116.2,207.8 1116.8,214.5 1117.3,214.1 1117.9,214.6 1118.5,214.9 1119.1,211.9 1119.6,212.9 1120.2,210.1 1120.8,211.9 1121.4,213.3 1121.9,222.1 1122.5,225.7 1123.1,227.6 1123.7,220.6 1124.2,216.7 1124.8,215.4 1125.4,212.2 1126.0,208.5 1126.5,207.8 1127.1,205.4 1127.7,204.6 1128.3,197.5 1128.8,191.6 1129.4,196.3 1130.0,190.8 1130.6,192.9 1131.2,188.2 1131.7,183.0 1132.3,181.2 1132.9,182.0 1133.5,181.0 1134.0,177.8 1134.6,169.8 1135.2,169.4 1135.8,166.3 1136.3,170.2 1136.9,171.7 1137.5,167.9 1138.1,165.2 1138.6,168.3 1139.2,166.8 1139.8,166.6 1140.4,171.8 1140.9,173.1 1141.5,167.8 1142.1,170.3 1142.7,169.4 1143.2,167.1 1143.8,171.2 1144.4,169.2 1145.0,167.6 1145.5,174.1 1146.1,164.5 1146.7,163.5 1147.3,159.5 1147.8,158.3 1148.4,160.2 1149.0,162.3 1149.6,165.8 1150.1,171.8 1150.7,176.7 1151.3,176.6 1151.9,181.7 1152.4,177.2 1153.0,172.2 1153.6,166.6 1154.2,160.7 1154.7,163.2 1155.3,162.3 1155.9,162.2 1156.5,161.0 1157.0,160.3 1157.6,156.2 1158.2,154.6 1158.8,154.6 1159.3,165.8 1159.9,163.0 1160.5,158.2 1161.1,160.8 1161.6,158.0 1162.2,161.5 1162.8,162.3 1163.4,160.5 1163.9,165.7 1164.5,166.9 1165.1,164.7 1165.7,164.5 1166.2,164.6 1166.8,162.9 1167.4,161.6 1168.0,163.0 1168.5,159.9 1169.1,159.7 1169.7,160.9 1170.3,162.4 1170.8,168.5 1171.4,172.9 1172.0,169.9 1172.6,168.9 1173.1,179.0 1173.7,180.7 1174.3,174.3 1174.9,178.3 1175.4,169.5 1176.0,167.0 1176.6,171.7 1177.2,181.1 1177.7,179.0 1178.3,172.3 1178.9,168.7 1179.5,163.2 1180.0,158.0 1180.6,160.8 1181.2,163.6 1181.8,157.2 1182.3,157.6 1182.9,162.7 1183.5,170.4 1184.1,172.9 1184.6,171.5 1185.2,169.7 1185.8,166.4 1186.4,161.2 1186.9,156.6 1187.5,150.7 1188.1,148.3 1188.7,143.0 1189.2,146.9 1189.8,145.9 1190.4,145.6 1191.0,147.1 1191.5,148.3 1192.1,149.1 1192.7,144.3 1193.3,143.2 1193.8,144.7 1194.4,143.2 1195.0,148.9 1195.6,151.1 1196.1,148.3 1196.7,153.9 1197.3,148.0" stroke="#77AC30" stroke-width="2.5" stroke-linejoin="round" fill="none"/>
<path d="M39.4,556.0 40.0,560.1 40.6,555.7 41.1,560.1 41.7,566.6 42.3,564.8 42.9,565.5 43.4,568.9 44.0,570.5 44.6,570.2 45.2,571.5 45.7,574.9 46.3,571.9 46.9,570.8 47.5,567.8 48.0,573.2 48.6,567.6 49.2,567.9 49.8,568.1 50.3,568.6 50.9,567.4 51.5,571.7 52.1,574.5 52.6,569.7 53.2,571.1 53.8,572.4 54.4,575.4 54.9,583.2 55.5,582.2 56.1,581.7 56.7,581.6 57.2,585.9 57.8,583.0 58.4,589.1 59.0,589.9 59.5,592.8 60.1,593.4 60.7,595.6 61.3,599.5 61.8,598.7 62.4,600.8 63.0,601.7 63.6,604.3 64.1,601.0 64.7,605.8 65.3,603.8 65.9,601.7 66.4,601.3 67.0,597.0 67.6,593.0 68.2,594.3 68.7,588.1 69.3,588.5 69.9,584.4 70.5,589.6 71.0,581.4 71.6,579.3 72.2,583.0 72.8,583.7 73.3,580.4 73.9,584.7 74.5,585.6 75.1,583.5 75.6,582.3 76.2,583.7 76.8,582.0 77.4,575.4 77.9,579.8 78.5,580.4 79.1,579.4 79.7,577.6 80.2,577.4 80.8,574.5 81.4,573.4 82.0,573.0 82.5,573.6 83.1,576.5 83.7,575.5 84.3,571.9 84.8,571.2 85.4,570.8 86.0,572.6 86.6,575.1 87.1,573.8 87.7,574.4 88.3,572.2 88.9,571.4 89.4,569.7 90.0,572.0 90.6,565.8 91.2,568.2 91.7,568.5 92.3,570.0 92.9,568.7 93.5,572.8 94.0,569.1 94.6,568.5 95.2,565.3 95.8,565.3 96.3,568.0 96.9,569.4 97.5,569.9 98.1,564.9 98.6,564.4 99.2,560.9 99.8,565.1 100.4,563.1 100.9,563.4 101.5,564.2 102.1,567.1 102.7,564.3 103.2,564.7 103.8,563.9 104.4,566.3 105.0,566.5 105.5,566.7 106.1,566.5 106.7,562.7 107.3,565.4 107.9,567.8 108.4,567.4 109.0,569.5 109.6,563.8 110.2,567.4 110.7,572.1 111.3,569.7 111.9,566.3 112.5,566.5 113.0,566.6 113.6,570.3 114.2,571.6 114.8,571.2 115.3,567.6 115.9,567.1 116.5,568.2 117.1,565.2 117.6,564.4 118.2,567.4 118.8,565.2 119.4,561.8 119.9,559.5 120.5,559.5 121.1,561.2 121.7,558.5 122.2,556.7 122.8,558.4 123.4,554.5 124.0,555.7 124.5,554.8 125.1,555.5 125.7,556.2 126.3,555.3 126.8,550.4 127.4,548.7 128.0,548.3 128.6,548.0 129.1,550.8 129.7,551.0 130.3,552.1 130.9,550.5 131.4,547.4 132.0,549.4 132.6,551.2 133.2,548.1 133.7,547.2 134.3,545.4 134.9,544.2 135.5,545.9 136.0,544.3 136.6,543.7 137.2,544.9 137.8,544.0 138.3,541.3 138.9,542.9 139.5,543.9 140.1,541.8 140.6,541.8 141.2,541.5 141.8,541.0 142.4,541.1 142.9,543.6 143.5,539.1 144.1,540.1 144.7,542.7 145.2,543.4 145.8,542.5 146.4,543.3 147.0,543.5 147.5,542.8 148.1,542.1 148.7,541.3 149.3,540.7 149.8,537.3 150.4,539.4 151.0,536.9 151.6,534.2 152.1,536.6 152.7,537.8 153.3,536.6 153.9,533.1 154.4,537.0 155.0,540.5 155.6,539.5 156.2,541.1 156.7,542.6 157.3,544.5 157.9,542.5 158.5,545.0 159.0,542.7 159.6,545.7 160.2,544.7 160.8,542.3 161.3,543.6 161.9,540.2 162.5,536.9 163.1,537.6 163.6,536.5 164.2,537.8 164.8,534.9 165.4,532.7 165.9,535.1 166.5,533.9 167.1,535.9 167.7,536.1 168.2,536.0 168.8,538.8 169.4,537.1 170.0,535.6 170.5,533.8 171.1,536.0 171.7,535.0 172.3,532.9 172.8,533.4 173.4,536.2 174.0,534.0 174.6,531.4 175.1,534.7 175.7,536.9 176.3,534.5 176.9,531.1 177.5,533.0 178.0,533.8 178.6,534.5 179.2,533.1 179.8,534.9 180.3,534.3 180.9,531.3 181.5,535.4 182.1,535.7 182.6,534.2 183.2,535.2 183.8,532.1 184.4,532.8 184.9,536.8 185.5,533.1 186.1,533.7 186.7,533.1 187.2,536.9 187.8,534.9 188.4,533.5 189.0,534.4 189.5,534.9 190.1,537.4 190.7,535.9 191.3,536.9 191.8,538.5 192.4,537.7 193.0,536.7 193.6,542.3 194.1,540.4 194.7,540.6 195.3,541.6 195.9,543.6 196.4,545.0 197.0,546.1 197.6,541.5 198.2,542.4 198.7,541.9 199.3,542.0 199.9,543.8 200.5,541.1 201.0,541.7 201.6,541.5 202.2,539.5 202.8,535.5 203.3,534.2 203.9,537.5 204.5,534.7 205.1,536.2 205.6,533.8 206.2,531.5 206.8,534.4 207.4,530.2 207.9,531.5 208.5,531.1 209.1,532.7 209.7,531.5 210.2,532.9 210.8,529.9 211.4,531.4 212.0,528.3 212.5,527.8 213.1,529.5 213.7,529.8 214.3,531.0 214.8,530.2 215.4,528.5 216.0,526.5 216.6,528.5 217.1,529.7 217.7,527.5 218.3,528.6 218.9,529.4 219.4,528.1 220.0,529.6 220.6,528.9 221.2,530.4 221.7,531.9 222.3,525.5 222.9,528.7 223.5,529.7 224.0,528.0 224.6,527.9 225.2,528.7 225.8,527.9 226.3,529.2 226.9,528.5 227.5,528.5 228.1,529.4 228.6,532.9 229.2,529.8 229.8,531.0 230.4,532.6 230.9,536.3 231.5,535.9 232.1,541.3 232.7,542.2 233.2,542.7 233.8,541.2 234.4,542.5 235.0,544.3 235.5,542.2 236.1,545.3 236.7,543.8 237.3,547.3 237.8,552.1 238.4,552.6 239.0,549.8 239.6,548.6 240.1,550.0 240.7,549.3 241.3,549.4 241.9,550.6 242.4,553.0 243.0,550.5 243.6,545.3 244.2,544.8 244.8,548.4 245.3,542.8 245.9,540.5 246.5,537.9 247.1,537.7 247.6,539.3 248.2,536.6 248.8,533.8 249.4,536.7 249.9,540.3 250.5,540.9 251.1,545.5 251.7,543.3 252.2,545.6 252.8,544.1 253.4,546.5 254.0,550.6 254.5,546.4 255.1,547.1 255.7,546.0 256.3,550.2 256.8,548.5 257.4,544.5 258.0,545.8 258.6,543.9 259.1,544.5 259.7,543.5 260.3,541.2 260.9,541.7 261.4,539.9 262.0,541.2 262.6,539.1 263.2,537.1 263.7,536.4 264.3,539.6 264.9,539.4 265.5,536.4 266.0,535.3 266.6,536.9 267.2,534.2 267.8,538.3 268.3,537.1 268.9,539.3 269.5,539.2 270.1,542.2 270.6,541.9 271.2,541.4 271.8,547.0 272.4,545.6 272.9,544.3 273.5,544.1 274.1,544.0 274.7,547.2 275.2,545.2 275.8,547.5 276.4,548.8 277.0,549.1 277.5,547.3 278.1,547.1 278.7,545.4 279.3,546.3 279.8,541.1 280.4,541.3 281.0,541.6 281.6,543.2 282.1,541.2 282.7,542.2 283.3,538.9 283.9,540.0 284.4,538.5 285.0,538.9 285.6,538.0 286.2,539.0 286.7,536.7 287.3,540.2 287.9,538.5 288.5,535.5 289.0,538.3 289.6,539.1 290.2,535.8 290.8,536.5 291.3,533.2 291.9,532.0 292.5,531.8 293.1,533.5 293.6,528.3 294.2,529.6 294.8,528.7 295.4,530.9 295.9,526.2 296.5,530.1 297.1,526.9 297.7,526.3 298.2,526.0 298.8,525.3 299.4,524.5 300.0,522.9 300.5,523.5 301.1,523.4 301.7,525.0 302.3,525.5 302.8,525.2 303.4,523.5 304.0,524.2 304.6,523.9 305.1,522.3 305.7,519.6 306.3,521.3 306.9,520.3 307.4,523.1 308.0,524.7 308.6,522.3 309.2,525.3 309.7,522.8 310.3,525.0 310.9,527.1 311.5,526.9 312.1,524.1 312.6,522.7 313.2,524.1 313.8,521.9 314.4,521.9 314.9,521.7 315.5,524.2 316.1,522.9 316.7,519.7 317.2,519.0 317.8,520.0 318.4,519.6 319.0,519.6 319.5,518.2 320.1,517.9 320.7,517.7 321.3,518.2 321.8,520.0 322.4,520.0 323.0,520.3 323.6,516.3 324.1,515.1 324.7,516.6 325.3,517.6 325.9,516.1 326.4,520.0 327.0,518.2 327.6,518.4 328.2,520.2 328.7,519.0 329.3,518.2 329.9,515.7 330.5,514.1 331.0,517.1 331.6,514.9 332.2,513.5 332.8,516.5 333.3,517.1 333.9,511.4 334.5,511.6 335.1,513.0 335.6,514.7 336.2,516.6 336.8,516.1 337.4,515.2 337.9,517.2 338.5,513.5 339.1,512.6 339.7,513.3 340.2,515.1 340.8,516.8 341.4,514.2 342.0,511.7 342.5,512.7 343.1,508.7 343.7,505.9 344.3,506.9 344.8,507.7 345.4,505.6 346.0,508.5 346.6,510.0 347.1,507.1 347.7,509.0 348.3,510.7 348.9,514.7 349.4,514.0 350.0,511.2 350.6,511.0 351.2,510.6 351.7,510.0 352.3,509.5 352.9,512.2 353.5,508.0 354.0,509.3 354.6,512.4 355.2,511.1 355.8,511.3 356.3,509.8 356.9,514.5 357.5,514.5 358.1,515.3 358.6,513.0 359.2,511.6 359.8,509.7 360.4,508.0 360.9,510.5 361.5,509.6 362.1,506.7 362.7,507.3 363.2,507.1 363.8,503.3 364.4,506.8 365.0,504.4 365.5,503.9 366.1,503.5 366.7,503.6 367.3,508.5 367.8,507.9 368.4,506.2 369.0,506.9 369.6,508.4 370.1,504.0 370.7,503.8 371.3,501.7 371.9,500.7 372.4,499.3 373.0,498.1 373.6,497.5 374.2,498.7 374.7,501.6 375.3,499.9 375.9,497.4 376.5,498.4 377.0,498.4 377.6,496.4 378.2,492.6 378.8,493.2 379.3,494.0 379.9,495.3 380.5,494.2 381.1,497.0 381.7,495.9 382.2,499.1 382.8,500.3 383.4,499.3 384.0,499.2 384.5,498.1 385.1,497.9 385.7,496.9 386.3,496.2 386.8,497.2 387.4,494.8 388.0,498.7 388.6,500.0 389.1,497.8 389.7,499.3 390.3,500.6 390.9,505.5 391.4,505.9 392.0,503.9 392.6,506.6 393.2,507.0 393.7,504.7 394.3,502.4 394.9,503.9 395.5,504.0 396.0,501.4 396.6,498.0 397.2,497.9 397.8,496.8 398.3,497.1 398.9,499.5 399.5,499.0 400.1,497.8 400.6,498.1 401.2,500.8 401.8,495.5 402.4,494.6 402.9,494.0 403.5,492.9 404.1,495.9 404.7,496.8 405.2,494.7 405.8,497.3 406.4,491.3 407.0,493.1 407.5,491.6 408.1,492.5 408.7,496.1 409.3,498.0 409.8,496.7 410.4,503.5 411.0,495.7 411.6,506.9 412.1,507.6 412.7,510.5 413.3,515.8 413.9,522.0 414.4,521.0 415.0,522.6 415.6,532.1 416.2,531.6 416.7,525.7 417.3,519.2 417.9,512.8 418.5,516.6 419.0,519.7 419.6,515.8 420.2,516.6 420.8,513.3 421.3,518.3 421.9,518.4 422.5,513.3 423.1,520.3 423.6,520.9 424.2,523.0 424.8,523.8 425.4,519.3 425.9,511.0 426.5,508.7 427.1,506.2 427.7,505.0 428.2,505.7 428.8,506.9 429.4,509.6 430.0,517.7 430.5,523.0 431.1,518.6 431.7,520.5 432.3,521.6 432.8,525.8 433.4,524.2 434.0,525.0 434.6,529.0 435.1,527.7 435.7,529.5 436.3,517.5 436.9,518.0 437.4,517.6 438.0,517.3 438.6,514.8 439.2,519.1 439.7,509.1 440.3,504.5 440.9,511.2 441.5,512.5 442.0,508.6 442.6,501.4 443.2,494.6 443.8,503.2 444.3,497.9 444.9,503.1 445.5,500.8 446.1,494.9 446.6,490.2 447.2,492.7 447.8,498.3 448.4,494.3 449.0,494.6 449.5,492.2 450.1,486.0 450.7,486.9 451.3,491.4 451.8,488.3 452.4,485.5 453.0,484.5 453.6,491.4 454.1,494.8 454.7,498.6 455.3,498.1 455.9,506.9 456.4,502.8 457.0,501.0 457.6,496.9 458.2,499.8 458.7,497.4 459.3,496.2 459.9,497.3 460.5,496.9 461.0,492.0 461.6,495.2 462.2,497.6 462.8,491.8 463.3,498.2 463.9,497.1 464.5,489.4 465.1,492.2 465.6,493.1 466.2,497.3 466.8,495.6 467.4,501.1 467.9,502.3 468.5,501.8 469.1,497.3 469.7,494.1 470.2,486.3 470.8,485.6 471.4,484.9 472.0,484.5 472.5,491.1 473.1,490.5 473.7,485.1 474.3,489.0 474.8,481.3 475.4,486.2 476.0,484.3 476.6,486.3 477.1,485.4 477.7,492.4 478.3,492.1 478.9,491.8 479.4,491.5 480.0,491.2 480.6,489.5 481.2,483.4 481.7,485.7 482.3,488.4 482.9,482.8 483.5,484.1 484.0,487.5 484.6,485.9 485.2,486.3 485.8,487.3 486.3,484.2 486.9,478.3 487.5,477.3 488.1,478.4 488.6,479.4 489.2,478.9 489.8,478.1 490.4,483.7 490.9,482.1 491.5,476.7 492.1,479.1 492.7,476.2 493.2,480.0 493.8,482.8 494.4,482.7 495.0,482.9 495.5,482.1 496.1,480.6 496.7,477.5 497.3,483.1 497.8,480.2 498.4,480.0 499.0,480.1 499.6,472.6 500.1,474.6 500.7,476.7 501.3,476.7 501.9,476.7 502.4,476.8 503.0,477.8 503.6,472.3 504.2,472.4 504.7,475.3 505.3,472.9 505.9,467.4 506.5,467.1 507.0,466.7 507.6,470.2 508.2,473.3 508.8,471.8 509.3,469.1 509.9,476.7 510.5,478.0 511.1,473.8 511.6,472.9 512.2,470.4 512.8,470.2 513.4,469.9 513.9,472.3 514.5,470.2 515.1,475.2 515.7,471.3 516.3,473.7 516.8,468.1 517.4,468.9 518.0,472.2 518.6,469.8 519.1,473.6 519.7,473.1 520.3,466.3 520.9,470.0 521.4,471.5 522.0,468.6 522.6,469.3 523.2,472.7 523.7,477.7 524.3,475.7 524.9,476.8 525.5,480.8 526.0,480.4 526.6,479.8 527.2,479.9 527.8,478.6 528.3,479.1 528.9,480.1 529.5,478.2 530.1,479.4 530.6,482.9 531.2,483.4 531.8,486.9 532.4,486.6 532.9,486.9 533.5,482.0 534.1,482.0 534.7,481.3 535.2,481.5 535.8,481.4 536.4,481.3 537.0,480.6 537.5,480.2 538.1,476.1 538.7,478.5 539.3,478.3 539.8,482.5 540.4,480.9 541.0,482.0 541.6,480.1 542.1,477.9 542.7,478.9 543.3,476.8 543.9,479.0 544.4,475.2 545.0,478.0 545.6,475.8 546.2,477.9 546.7,474.2 547.3,473.6 547.9,475.5 548.5,475.2 549.0,476.2 549.6,475.7 550.2,474.2 550.8,478.6 551.3,471.9 551.9,474.1 552.5,473.1 553.1,474.5 553.6,472.7 554.2,472.9 554.8,471.7 555.4,470.1 555.9,467.8 556.5,468.3 557.1,469.0 557.7,469.7 558.2,469.0 558.8,470.4 559.4,467.9 560.0,465.3 560.5,467.9 561.1,467.0 561.7,468.5 562.3,464.5 562.8,465.3 563.4,467.6 564.0,466.6 564.6,465.7 565.1,462.6 565.7,462.8 566.3,464.3 566.9,460.7 567.4,462.0 568.0,463.4 568.6,460.6 569.2,458.6 569.7,459.7 570.3,459.9 570.9,462.6 571.5,459.4 572.0,460.3 572.6,460.9 573.2,462.9 573.8,460.6 574.3,460.2 574.9,459.4 575.5,459.8 576.1,458.4 576.6,457.4 577.2,458.0 577.8,456.2 578.4,459.4 578.9,456.2 579.5,460.8 580.1,457.8 580.7,454.5 581.2,458.7 581.8,455.3 582.4,455.9 583.0,455.9 583.5,455.5 584.1,457.5 584.7,457.9 585.3,460.0 585.9,459.4 586.4,460.8 587.0,458.3 587.6,458.7 588.2,459.8 588.7,460.5 589.3,462.8 589.9,463.0 590.5,464.5 591.0,461.9 591.6,463.2 592.2,463.5 592.8,463.5 593.3,463.2 593.9,463.2 594.5,460.8 595.1,463.0 595.6,465.1 596.2,464.1 596.8,465.1 597.4,466.7 597.9,469.0 598.5,469.0 599.1,472.9 599.7,471.1 600.2,469.8 600.8,467.1 601.4,468.2 602.0,465.6 602.5,464.3 603.1,464.9 603.7,465.2 604.3,460.3 604.8,462.4 605.4,461.7 606.0,460.0 606.6,459.2 607.1,458.7 607.7,459.6 608.3,457.2 608.9,455.9 609.4,455.7 610.0,457.7 610.6,458.4 611.2,458.9 611.7,459.3 612.3,458.8 612.9,458.2 613.5,457.1 614.0,459.1 614.6,460.2 615.2,461.8 615.8,463.9 616.3,464.2 616.9,462.2 617.5,463.6 618.1,462.1 618.6,459.6 619.2,459.1 619.8,454.6 620.4,457.2 620.9,457.0 621.5,457.3 622.1,456.2 622.7,455.4 623.2,452.1 623.8,451.3 624.4,450.6 625.0,450.1 625.5,449.6 626.1,445.1 626.7,446.0 627.3,443.2 627.8,444.5 628.4,444.1 629.0,446.4 629.6,444.8 630.1,445.7 630.7,442.3 631.3,442.6 631.9,444.4 632.4,445.0 633.0,445.9 633.6,445.6 634.2,444.9 634.7,445.4 635.3,442.7 635.9,442.6 636.5,443.2 637.0,442.6 637.6,441.9 638.2,442.5 638.8,439.8 639.3,441.5 639.9,438.4 640.5,437.0 641.1,435.4 641.6,435.9 642.2,434.1 642.8,436.9 643.4,436.9 643.9,435.7 644.5,435.8 645.1,434.8 645.7,432.7 646.2,435.8 646.8,434.3 647.4,434.2 648.0,433.7 648.5,436.1 649.1,433.7 649.7,431.8 650.3,432.6 650.8,431.5 651.4,428.3 652.0,429.4 652.6,428.5 653.2,427.4 653.7,431.5 654.3,426.3 654.9,426.4 655.5,424.2 656.0,424.1 656.6,426.3 657.2,425.2 657.8,424.7 658.3,424.9 658.9,428.3 659.5,428.2 660.1,424.7 660.6,426.9 661.2,427.6 661.8,426.4 662.4,424.6 662.9,423.9 663.5,425.4 664.1,424.1 664.7,425.7 665.2,424.4 665.8,421.9 666.4,418.1 667.0,419.9 667.5,417.8 668.1,420.3 668.7,420.5 669.3,418.0 669.8,415.5 670.4,415.7 671.0,416.8 671.6,417.8 672.1,415.7 672.7,411.7 673.3,413.8 673.9,414.4 674.4,418.0 675.0,417.1 675.6,418.9 676.2,423.1 676.7,422.5 677.3,421.2 677.9,424.5 678.5,427.9 679.0,426.1 679.6,426.8 680.2,425.5 680.8,425.3 681.3,422.8 681.9,422.3 682.5,422.5 683.1,423.4 683.6,426.2 684.2,430.0 684.8,432.1 685.4,432.7 685.9,432.0 686.5,433.2 687.1,433.3 687.7,431.3 688.2,428.8 688.8,429.9 689.4,426.7 690.0,424.8 690.5,424.8 691.1,422.9 691.7,423.3 692.3,421.6 692.8,418.3 693.4,416.6 694.0,416.2 694.6,417.3 695.1,416.3 695.7,414.7 696.3,415.2 696.9,416.8 697.4,415.0 698.0,417.3 698.6,416.8 699.2,413.8 699.7,414.4 700.3,412.4 700.9,414.6 701.5,416.4 702.0,413.3 702.6,414.1 703.2,415.9 703.8,415.0 704.3,417.2 704.9,420.4 705.5,418.8 706.1,423.6 706.6,427.9 707.2,429.3 707.8,428.8 708.4,428.4 708.9,431.1 709.5,432.2 710.1,433.2 710.7,431.4 711.2,429.6 711.8,429.9 712.4,427.9 713.0,428.9 713.5,427.0 714.1,429.3 714.7,428.3 715.3,424.4 715.8,422.3 716.4,421.5 717.0,418.6 717.6,420.9 718.1,415.9 718.7,415.1 719.3,412.5 719.9,413.9 720.4,414.5 721.0,416.5 721.6,416.7 722.2,417.6 722.8,418.9 723.3,420.8 723.9,421.4 724.5,426.9 725.1,424.0 725.6,425.4 726.2,429.0 726.8,429.0 727.4,428.7 727.9,426.1 728.5,422.2 729.1,418.9 729.7,418.3 730.2,420.5 730.8,417.1 731.4,414.5 732.0,412.9 732.5,413.5 733.1,410.6 733.7,410.7 734.3,410.5 734.8,408.3 735.4,406.5 736.0,405.4 736.6,406.3 737.1,406.1 737.7,403.5 738.3,400.6 738.9,402.0 739.4,401.6 740.0,402.1 740.6,403.9 741.2,400.9 741.7,401.8 742.3,400.6 742.9,399.0 743.5,400.7 744.0,399.4 744.6,402.7 745.2,404.2 745.8,404.8 746.3,402.3 746.9,400.5 747.5,402.0 748.1,402.3 748.6,401.7 749.2,398.0 749.8,401.5 750.4,402.9 750.9,400.2 751.5,401.3 752.1,402.8 752.7,404.7 753.2,400.4 753.8,403.2 754.4,404.5 755.0,405.1 755.5,407.1 756.1,405.0 756.7,403.3 757.3,404.7 757.8,405.8 758.4,405.1 759.0,405.9 759.6,404.8 760.1,401.1 760.7,404.4 761.3,405.1 761.9,402.5 762.4,402.3 763.0,406.0 763.6,406.9 764.2,409.4 764.7,408.0 765.3,406.8 765.9,407.3 766.5,406.7 767.0,404.5 767.6,406.2 768.2,405.3 768.8,407.7 769.3,409.3 769.9,410.5 770.5,413.2 771.1,414.4 771.6,418.3 772.2,416.8 772.8,421.6 773.4,420.2 773.9,420.3 774.5,421.9 775.1,426.0 775.7,424.0 776.2,421.1 776.8,419.7 777.4,418.6 778.0,415.8 778.5,413.7 779.1,415.6 779.7,413.3 780.3,410.5 780.8,413.2 781.4,406.8 782.0,406.3 782.6,406.6 783.1,408.1 783.7,407.9 784.3,407.7 784.9,404.5 785.4,407.1 786.0,406.7 786.6,403.0 787.2,405.2 787.7,406.3 788.3,407.5 788.9,405.0 789.5,404.0 790.1,406.0 790.6,407.5 791.2,408.1 791.8,406.5 792.4,407.6 792.9,403.8 793.5,404.3 794.1,403.7 794.7,403.6 795.2,400.6 795.8,401.8 796.4,404.1 797.0,405.3 797.5,404.8 798.1,401.2 798.7,402.3 799.3,400.6 799.8,401.3 800.4,398.6 801.0,397.6 801.6,398.1 802.1,398.3 802.7,397.6 803.3,397.6 803.9,396.3 804.4,398.4 805.0,393.8 805.6,392.5 806.2,394.1 806.7,390.9 807.3,391.3 807.9,394.4 808.5,389.0 809.0,395.0 809.6,394.1 810.2,392.1 810.8,393.4 811.3,392.4 811.9,390.6 812.5,392.7 813.1,388.1 813.6,391.9 814.2,390.5 814.8,389.1 815.4,386.3 815.9,388.8 816.5,390.4 817.1,385.0 817.7,386.7 818.2,385.6 818.8,387.7 819.4,387.3 820.0,388.2 820.5,386.0 821.1,384.8 821.7,388.3 822.3,385.7 822.8,381.2 823.4,385.4 824.0,386.8 824.6,385.8 825.1,382.9 825.7,387.4 826.3,387.2 826.9,384.4 827.4,387.0 828.0,386.2 828.6,380.2 829.2,382.8 829.7,383.3 830.3,383.5 830.9,385.7 831.5,385.4 832.0,385.7 832.6,385.0 833.2,386.0 833.8,386.2 834.3,382.7 834.9,380.1 835.5,380.4 836.1,381.5 836.6,381.4 837.2,384.3 837.8,385.9 838.4,386.8 838.9,384.7 839.5,381.8 840.1,383.3 840.7,382.9 841.2,384.0 841.8,387.8 842.4,385.8 843.0,386.9 843.5,388.7 844.1,390.9 844.7,391.8 845.3,395.1 845.8,400.5 846.4,398.1 847.0,399.3 847.6,396.1 848.1,394.9 848.7,396.7 849.3,392.5 849.9,391.5 850.4,391.2 851.0,388.8 851.6,388.3 852.2,385.3 852.7,385.6 853.3,385.9 853.9,383.1 854.5,383.7 855.0,383.6 855.6,383.2 856.2,381.7 856.8,379.9 857.4,384.5 857.9,380.5 858.5,382.3 859.1,379.9 859.7,383.7 860.2,382.3 860.8,380.9 861.4,378.6 862.0,377.2 862.5,378.8 863.1,378.2 863.7,380.1 864.3,383.4 864.8,378.5 865.4,383.8 866.0,386.2 866.6,385.9 867.1,386.1 867.7,381.7 868.3,384.6 868.9,382.4 869.4,386.8 870.0,387.3 870.6,388.4 871.2,385.2 871.7,379.4 872.3,377.8 872.9,376.0 873.5,372.4 874.0,378.5 874.6,376.3 875.2,376.0 875.8,377.7 876.3,374.1 876.9,376.1 877.5,382.0 878.1,376.1 878.6,369.7 879.2,369.4 879.8,371.0 880.4,370.4 880.9,370.4 881.5,366.7 882.1,368.8 882.7,364.4 883.2,362.3 883.8,362.3 884.4,356.2 885.0,358.7 885.5,358.5 886.1,356.8 886.7,354.5 887.3,354.7 887.8,351.7 888.4,355.2 889.0,357.6 889.6,352.8 890.1,354.1 890.7,352.0 891.3,356.1 891.9,354.2 892.4,352.2 893.0,355.5 893.6,359.3 894.2,357.2 894.7,361.9 895.3,362.7 895.9,360.6 896.5,356.7 897.0,364.7 897.6,363.9 898.2,364.0 898.8,363.3 899.3,356.2 899.9,352.6 900.5,351.1 901.1,352.9 901.6,347.5 902.2,351.5 902.8,349.6 903.4,346.2 903.9,350.4 904.5,349.3 905.1,350.3 905.7,352.6 906.2,355.7 906.8,355.1 907.4,354.5 908.0,355.0 908.5,355.7 909.1,361.1 909.7,358.6 910.3,356.0 910.8,351.2 911.4,353.9 912.0,353.1 912.6,353.4 913.1,351.9 913.7,353.3 914.3,355.6 914.9,354.0 915.4,353.3 916.0,355.8 916.6,361.3 917.2,363.5 917.7,360.3 918.3,358.7 918.9,353.2 919.5,352.6 920.0,348.8 920.6,346.6 921.2,353.3 921.8,349.8 922.3,349.4 922.9,347.2 923.5,345.9 924.1,348.3 924.6,350.9 925.2,350.7 925.8,349.7 926.4,346.0 927.0,349.3 927.5,348.6 928.1,347.3 928.7,347.7 929.3,342.9 929.8,340.9 930.4,343.4 931.0,341.0 931.6,347.4 932.1,351.2 932.7,351.3 933.3,352.3 933.9,351.9 934.4,354.9 935.0,357.7 935.6,354.4 936.2,352.3 936.7,353.7 937.3,352.7 937.9,351.9 938.5,353.4 939.0,354.0 939.6,353.8 940.2,355.8 940.8,355.5 941.3,357.1 941.9,351.8 942.5,352.9 943.1,354.6 943.6,352.1 944.2,350.9 944.8,347.9 945.4,349.0 945.9,352.8 946.5,349.0 947.1,352.2 947.7,352.2 948.2,351.7 948.8,349.4 949.4,349.2 950.0,354.6 950.5,352.2 951.1,351.2 951.7,355.5 952.3,351.8 952.8,355.9 953.4,357.6 954.0,354.1 954.6,357.7 955.1,354.1 955.7,350.9 956.3,349.3 956.9,355.5 957.4,348.1 958.0,348.6 958.6,348.4 959.2,347.2 959.7,347.4 960.3,345.9 960.9,348.7 961.5,349.2 962.0,349.6 962.6,347.9 963.2,353.8 963.8,353.9 964.3,354.5 964.9,351.1 965.5,353.7 966.1,358.5 966.6,355.6 967.2,358.4 967.8,351.9 968.4,354.1 968.9,356.2 969.5,357.1 970.1,356.2 970.7,358.5 971.2,357.1 971.8,358.2 972.4,358.0 973.0,356.4 973.5,353.3 974.1,353.5 974.7,355.5 975.3,355.9 975.8,359.4 976.4,360.7 977.0,362.0 977.6,358.7 978.1,357.5 978.7,359.2 979.3,355.6 979.9,353.2 980.4,351.7 981.0,348.7 981.6,349.8 982.2,348.1 982.7,345.1 983.3,348.1 983.9,342.6 984.5,345.7 985.0,345.9 985.6,345.7 986.2,346.1 986.8,344.7 987.3,343.6 987.9,345.8 988.5,345.8 989.1,343.2 989.6,340.9 990.2,339.6 990.8,339.4 991.4,335.9 991.9,339.9 992.5,336.9 993.1,337.7 993.7,339.6 994.3,343.4 994.8,348.6 995.4,346.5 996.0,345.5 996.6,336.3 997.1,351.6 997.7,340.2 998.3,342.1 998.9,344.0 999.4,341.2 1000.0,343.2 1000.6,346.3 1001.2,347.1 1001.7,345.3 1002.3,348.9 1002.9,352.5 1003.5,367.1 1004.0,357.6 1004.6,364.6 1005.2,358.1 1005.8,364.5 1006.3,358.9 1006.9,360.8 1007.5,365.2 1008.1,365.4 1008.6,366.1 1009.2,365.9 1009.8,366.5 1010.4,366.0 1010.9,362.4 1011.5,356.0 1012.1,361.6 1012.7,359.8 1013.2,357.2 1013.8,360.9 1014.4,360.8 1015.0,351.1 1015.5,353.9 1016.1,347.3 1016.7,341.7 1017.3,344.1 1017.8,343.4 1018.4,345.8 1019.0,342.9 1019.6,340.8 1020.1,342.3 1020.7,342.6 1021.3,344.8 1021.9,341.5 1022.4,341.9 1023.0,332.4 1023.6,331.3 1024.2,337.5 1024.7,336.3 1025.3,337.2 1025.9,342.4 1026.5,342.7 1027.0,344.6 1027.6,343.8 1028.2,347.6 1028.8,345.8 1029.3,345.9 1029.9,344.5 1030.5,348.7 1031.1,345.1 1031.6,343.0 1032.2,341.4 1032.8,340.2 1033.4,341.9 1033.9,343.0 1034.5,342.8 1035.1,344.1 1035.7,345.2 1036.2,343.4 1036.8,341.5 1037.4,340.6 1038.0,343.4 1038.5,344.9 1039.1,347.4 1039.7,343.2 1040.3,341.4 1040.8,340.8 1041.4,341.1 1042.0,337.9 1042.6,338.0 1043.1,339.6 1043.7,339.2 1044.3,338.6 1044.9,333.8 1045.4,336.4 1046.0,330.2 1046.6,332.3 1047.2,337.5 1047.7,341.8 1048.3,334.2 1048.9,331.6 1049.5,334.5 1050.0,333.0 1050.6,340.9 1051.2,347.8 1051.8,345.9 1052.3,337.5 1052.9,340.1 1053.5,342.6 1054.1,341.2 1054.6,339.5 1055.2,340.7 1055.8,354.9 1056.4,352.1 1056.9,355.5 1057.5,353.9 1058.1,353.9 1058.7,356.0 1059.2,352.5 1059.8,349.7 1060.4,343.5 1061.0,341.3 1061.6,341.3 1062.1,334.7 1062.7,337.5 1063.3,338.2 1063.9,341.0 1064.4,345.6 1065.0,348.6 1065.6,353.2 1066.2,355.3 1066.7,341.7 1067.3,347.5 1067.9,346.0 1068.5,341.2 1069.0,342.2 1069.6,338.2 1070.2,333.8 1070.8,331.7 1071.3,326.9 1071.9,328.8 1072.5,325.3 1073.1,325.7 1073.6,330.6 1074.2,332.4 1074.8,329.8 1075.4,328.2 1075.9,328.0 1076.5,328.1 1077.1,325.8 1077.7,324.2 1078.2,320.7 1078.8,316.7 1079.4,316.4 1080.0,322.5 1080.5,315.4 1081.1,320.7 1081.7,322.4 1082.3,324.7 1082.8,326.2 1083.4,320.6 1084.0,325.0 1084.6,320.7 1085.1,319.7 1085.7,323.3 1086.3,318.9 1086.9,318.1 1087.4,318.2 1088.0,317.3 1088.6,319.2 1089.2,321.1 1089.7,316.8 1090.3,317.8 1090.9,317.4 1091.5,319.5 1092.0,321.0 1092.6,322.7 1093.2,323.0 1093.8,322.4 1094.3,324.7 1094.9,325.9 1095.5,326.4 1096.1,325.5 1096.6,326.6 1097.2,324.4 1097.8,324.8 1098.4,325.4 1098.9,321.7 1099.5,323.0 1100.1,320.0 1100.7,317.4 1101.2,324.4 1101.8,319.1 1102.4,322.2 1103.0,319.1 1103.5,321.4 1104.1,323.1 1104.7,322.6 1105.3,324.9 1105.8,325.4 1106.4,323.6 1107.0,319.8 1107.6,318.9 1108.1,320.9 1108.7,325.5 1109.3,323.0 1109.9,318.8 1110.4,322.1 1111.0,315.1 1111.6,312.3 1112.2,309.7 1112.7,308.2 1113.3,311.4 1113.9,311.7 1114.5,309.1 1115.0,309.6 1115.6,307.2 1116.2,309.8 1116.8,308.6 1117.3,311.0 1117.9,311.3 1118.5,311.5 1119.1,315.3 1119.6,314.2 1120.2,310.5 1120.8,309.3 1121.4,306.3 1121.9,304.7 1122.5,303.5 1123.1,306.2 1123.7,298.2 1124.2,301.0 1124.8,298.3 1125.4,301.0 1126.0,301.3 1126.5,301.1 1127.1,298.6 1127.7,301.2 1128.3,297.2 1128.8,301.1 1129.4,299.6 1130.0,299.9 1130.6,303.3 1131.2,301.4 1131.7,300.8 1132.3,301.8 1132.9,304.8 1133.5,304.0 1134.0,308.5 1134.6,311.2 1135.2,308.3 1135.8,310.2 1136.3,307.1 1136.9,306.5 1137.5,310.1 1138.1,306.0 1138.6,304.3 1139.2,306.0 1139.8,303.6 1140.4,303.6 1140.9,304.3 1141.5,305.0 1142.1,303.4 1142.7,307.8 1143.2,305.6 1143.8,307.1 1144.4,302.1 1145.0,306.4 1145.5,309.0 1146.1,304.4 1146.7,305.0 1147.3,304.5 1147.8,303.8 1148.4,306.0 1149.0,306.5 1149.6,310.6 1150.1,312.4 1150.7,315.2 1151.3,312.9 1151.9,313.3 1152.4,312.9 1153.0,315.2 1153.6,319.3 1154.2,315.3 1154.7,316.7 1155.3,316.6 1155.9,316.4 1156.5,316.0 1157.0,319.4 1157.6,316.1 1158.2,320.2 1158.8,319.4 1159.3,317.1 1159.9,315.5 1160.5,316.5 1161.1,317.4 1161.6,319.8 1162.2,317.7 1162.8,319.2 1163.4,319.8 1163.9,318.3 1164.5,322.4 1165.1,320.0 1165.7,321.9 1166.2,320.5 1166.8,321.1 1167.4,323.7 1168.0,322.9 1168.5,321.3 1169.1,319.0 1169.7,319.7 1170.3,320.8 1170.8,319.5 1171.4,322.3 1172.0,326.4 1172.6,325.6 1173.1,324.7 1173.7,327.2 1174.3,328.8 1174.9,330.3 1175.4,331.7 1176.0,336.7 1176.6,336.7 1177.2,334.9 1177.7,334.5 1178.3,336.1 1178.9,331.2 1179.5,330.6 1180.0,333.0 1180.6,331.1 1181.2,333.1 1181.8,328.8 1182.3,332.6 1182.9,329.7 1183.5,332.8 1184.1,330.3 1184.6,329.6 1185.2,329.7 1185.8,328.6 1186.4,328.9 1186.9,329.6 1187.5,327.3 1188.1,326.9 1188.7,325.9 1189.2,323.6 1189.8,327.5 1190.4,327.1 1191.0,325.8 1191.5,325.6 1192.1,326.2 1192.7,324.8 1193.3,327.0 1193.8,323.7 1194.4,326.7 1195.0,327.7 1195.6,324.6 1196.1,327.0 1196.7,325.1 1197.3,321.3" stroke="#4DBEEE" stroke-width="2.5" stroke-linejoin="round" fill="none"/>
<path d="M39.4,556.0 40.0,562.5 40.6,559.1 41.1,558.9 41.7,561.1 42.3,562.6 42.9,559.7 43.4,566.0 44.0,567.6 44.6,567.4 45.2,565.8 45.7,568.4 46.3,572.9 46.9,567.0 47.5,572.5 48.0,565.3 48.6,571.8 49.2,573.6 49.8,574.4 50.3,575.2 50.9,573.5 51.5,569.4 52.1,570.0 52.6,572.6 53.2,575.1 53.8,573.0 54.4,577.6 54.9,578.8 55.5,578.1 56.1,579.9 56.7,582.3 57.2,584.9 57.8,585.8 58.4,590.3 59.0,589.1 59.5,586.2 60.1,589.2 60.7,592.4 61.3,592.4 61.8,593.5 62.4,599.8 63.0,599.8 63.6,603.4 64.1,599.1 64.7,597.8 65.3,592.9 65.9,592.1 66.4,592.5 67.0,590.3 67.6,587.7 68.2,585.0 68.7,587.7 69.3,584.9 69.9,585.4 70.5,582.5 71.0,587.3 71.6,583.9 72.2,583.9 72.8,581.6 73.3,579.0 73.9,583.4 74.5,582.3 75.1,582.9 75.6,581.2 76.2,581.6 76.8,583.8 77.4,588.3 77.9,586.6 78.5,584.1 79.1,581.4 79.7,582.4 80.2,582.9 80.8,582.3 81.4,580.4 82.0,580.5 82.5,582.5 83.1,580.6 83.7,581.8 84.3,583.5 84.8,581.8 85.4,582.0 86.0,579.7 86.6,580.9 87.1,580.4 87.7,580.8 88.3,580.3 88.9,579.6 89.4,573.5 90.0,576.9 90.6,576.7 91.2,578.5 91.7,575.1 92.3,578.0 92.9,578.6 93.5,579.9 94.0,582.8 94.6,579.6 95.2,580.2 95.8,575.4 96.3,572.4 96.9,574.2 97.5,575.8 98.1,571.9 98.6,573.8 99.2,573.6 99.8,575.2 100.4,571.8 100.9,574.4 101.5,572.9 102.1,571.1 102.7,572.6 103.2,572.8 103.8,570.0 104.4,573.1 105.0,575.6 105.5,572.6 106.1,570.1 106.7,569.8 107.3,573.3 107.9,573.2 108.4,572.7 109.0,572.0 109.6,570.9 110.2,570.4 110.7,567.4 111.3,568.8 111.9,567.9 112.5,566.8 113.0,565.6 113.6,567.4 114.2,564.4 114.8,564.3 115.3,563.9 115.9,560.5 116.5,563.0 117.1,561.1 117.6,562.4 118.2,558.4 118.8,561.0 119.4,561.5 119.9,561.4 120.5,558.3 121.1,558.8 121.7,558.8 122.2,560.8 122.8,560.6 123.4,561.3 124.0,559.7 124.5,558.4 125.1,559.4 125.7,561.1 126.3,563.4 126.8,565.1 127.4,561.2 128.0,560.9 128.6,559.1 129.1,558.5 129.7,559.0 130.3,559.6 130.9,562.0 131.4,559.8 132.0,563.1 132.6,559.6 133.2,561.0 133.7,561.2 134.3,562.3 134.9,562.2 135.5,560.8 136.0,559.2 136.6,559.3 137.2,559.8 137.8,558.7 138.3,560.9 138.9,559.6 139.5,559.9 140.1,559.9 140.6,558.7 141.2,558.0 141.8,556.7 142.4,559.3 142.9,557.6 143.5,562.0 144.1,563.5 144.7,564.3 145.2,561.8 145.8,560.5 146.4,563.5 147.0,562.9 147.5,565.4 148.1,565.7 148.7,561.9 149.3,561.7 149.8,561.4 150.4,560.4 151.0,561.6 151.6,560.0 152.1,560.1 152.7,559.6 153.3,560.1 153.9,561.0 154.4,561.8 155.0,563.9 155.6,564.6 156.2,562.8 156.7,563.8 157.3,560.4 157.9,561.0 158.5,567.7 159.0,565.6 159.6,566.4 160.2,567.1 160.8,564.1 161.3,559.6 161.9,561.4 162.5,560.6 163.1,561.3 163.6,562.9 164.2,561.1 164.8,561.2 165.4,559.1 165.9,557.4 166.5,557.6 167.1,558.1 167.7,555.6 168.2,556.6 168.8,553.9 169.4,549.3 170.0,545.9 170.5,546.8 171.1,546.3 171.7,542.8 172.3,546.9 172.8,545.4 173.4,544.6 174.0,543.9 174.6,541.0 175.1,542.4 175.7,539.3 176.3,540.4 176.9,539.1 177.5,543.9 178.0,539.5 178.6,543.3 179.2,544.9 179.8,542.3 180.3,543.2 180.9,544.0 181.5,543.1 182.1,545.4 182.6,546.0 183.2,546.4 183.8,546.1 184.4,544.2 184.9,546.5 185.5,546.9 186.1,545.8 186.7,545.7 187.2,547.2 187.8,545.5 188.4,546.4 189.0,546.6 189.5,545.5 190.1,546.9 190.7,546.6 191.3,548.5 191.8,551.1 192.4,549.7 193.0,551.5 193.6,550.2 194.1,553.6 194.7,552.4 195.3,554.6 195.9,553.5 196.4,552.9 197.0,556.1 197.6,556.1 198.2,559.8 198.7,557.5 199.3,558.2 199.9,556.8 200.5,557.9 201.0,554.3 201.6,555.3 202.2,554.0 202.8,553.5 203.3,557.2 203.9,556.4 204.5,556.1 205.1,555.1 205.6,553.1 206.2,554.2 206.8,554.8 207.4,551.5 207.9,553.0 208.5,552.6 209.1,554.0 209.7,552.8 210.2,554.9 210.8,554.0 211.4,555.4 212.0,553.0 212.5,551.9 213.1,550.9 213.7,550.9 214.3,555.5 214.8,552.3 215.4,554.7 216.0,554.9 216.6,556.0 217.1,554.4 217.7,553.3 218.3,554.1 218.9,555.7 219.4,552.5 220.0,551.4 220.6,551.7 221.2,555.0 221.7,552.8 222.3,552.5 222.9,552.6 223.5,552.7 224.0,549.6 224.6,549.1 225.2,551.6 225.8,548.2 226.3,549.6 226.9,551.0 227.5,552.2 228.1,550.4 228.6,552.2 229.2,548.9 229.8,549.6 230.4,550.2 230.9,549.6 231.5,548.8 232.1,548.9 232.7,548.6 233.2,549.4 233.8,555.1 234.4,554.6 235.0,550.4 235.5,556.0 236.1,556.1 236.7,561.4 237.3,557.5 237.8,563.6 238.4,565.9 239.0,565.6 239.6,563.7 240.1,564.8 240.7,568.2 241.3,567.2 241.9,568.9 242.4,563.7 243.0,564.9 243.6,564.3 244.2,564.4 244.8,561.3 245.3,562.6 245.9,564.3 246.5,561.0 247.1,559.2 247.6,556.7 248.2,555.4 248.8,555.6 249.4,554.8 249.9,550.2 250.5,551.5 251.1,551.1 251.7,554.7 252.2,558.3 252.8,561.6 253.4,564.7 254.0,566.4 254.5,568.4 255.1,567.4 255.7,564.5 256.3,561.8 256.8,561.4 257.4,560.9 258.0,555.4 258.6,556.7 259.1,553.2 259.7,555.5 260.3,553.5 260.9,555.5 261.4,555.0 262.0,553.3 262.6,556.0 263.2,552.8 263.7,549.4 264.3,551.5 264.9,548.4 265.5,549.1 266.0,548.3 266.6,549.7 267.2,549.6 267.8,548.6 268.3,550.0 268.9,549.1 269.5,548.5 270.1,547.2 270.6,547.5 271.2,543.4 271.8,546.0 272.4,547.7 272.9,548.4 273.5,549.1 274.1,548.9 274.7,548.5 275.2,545.9 275.8,543.3 276.4,546.1 277.0,547.2 277.5,548.8 278.1,545.2 278.7,547.1 279.3,544.3 279.8,547.4 280.4,546.4 281.0,544.2 281.6,545.5 282.1,546.2 282.7,544.3 283.3,546.4 283.9,549.2 284.4,548.6 285.0,542.4 285.6,547.0 286.2,546.9 286.7,547.7 287.3,547.4 287.9,545.1 288.5,539.9 289.0,541.7 289.6,542.6 290.2,541.4 290.8,539.4 291.3,541.5 291.9,544.0 292.5,538.8 293.1,540.8 293.6,539.3 294.2,540.5 294.8,539.1 295.4,541.2 295.9,543.3 296.5,543.8 297.1,543.6 297.7,541.2 298.2,540.2 298.8,543.6 299.4,540.3 300.0,540.3 300.5,544.0 301.1,541.2 301.7,543.9 302.3,542.6 302.8,539.7 303.4,541.8 304.0,543.0 304.6,543.8 305.1,542.1 305.7,543.9 306.3,542.4 306.9,540.8 307.4,540.9 308.0,543.3 308.6,546.5 309.2,545.6 309.7,546.3 310.3,546.8 310.9,546.6 311.5,546.3 312.1,547.9 312.6,548.2 313.2,547.7 313.8,549.1 314.4,549.2 314.9,549.7 315.5,550.2 316.1,548.6 316.7,547.6 317.2,546.9 317.8,545.6 318.4,545.8 319.0,544.8 319.5,545.0 320.1,543.7 320.7,543.8 321.3,542.9 321.8,544.7 322.4,545.2 323.0,544.0 323.6,545.1 324.1,545.6 324.7,543.5 325.3,545.4 325.9,540.8 326.4,543.1 327.0,544.1 327.6,543.8 328.2,544.1 328.7,541.5 329.3,539.7 329.9,542.0 330.5,543.3 331.0,540.2 331.6,540.4 332.2,540.1 332.8,541.5 333.3,541.3 333.9,539.6 334.5,543.7 335.1,540.8 335.6,540.3 336.2,539.7 336.8,541.1 337.4,539.8 337.9,537.7 338.5,538.5 339.1,540.5 339.7,540.3 340.2,537.9 340.8,541.0 341.4,541.4 342.0,542.7 342.5,544.0 343.1,541.6 343.7,542.1 344.3,540.7 344.8,540.4 345.4,540.5 346.0,540.8 346.6,542.4 347.1,539.2 347.7,538.4 348.3,541.8 348.9,540.2 349.4,539.6 350.0,541.4 350.6,541.9 351.2,538.7 351.7,539.8 352.3,538.3 352.9,536.7 353.5,536.5 354.0,538.9 354.6,540.7 355.2,538.6 355.8,541.6 356.3,545.4 356.9,545.8 357.5,546.8 358.1,547.7 358.6,544.7 359.2,543.9 359.8,543.1 360.4,541.6 360.9,541.5 361.5,543.1 362.1,538.7 362.7,541.6 363.2,539.8 363.8,543.6 364.4,544.8 365.0,541.7 365.5,544.9 366.1,543.2 366.7,541.2 367.3,541.2 367.8,538.4 368.4,537.7 369.0,539.7 369.6,539.0 370.1,540.0 370.7,541.3 371.3,539.9 371.9,538.8 372.4,536.6 373.0,536.8 373.6,533.9 374.2,532.0 374.7,534.5 375.3,534.9 375.9,534.4 376.5,532.5 377.0,533.4 377.6,532.5 378.2,529.5 378.8,527.2 379.3,528.3 379.9,526.8 380.5,526.0 381.1,524.5 381.7,527.5 382.2,526.2 382.8,528.4 383.4,525.8 384.0,528.3 384.5,527.4 385.1,528.9 385.7,530.0 386.3,529.5 386.8,530.2 387.4,533.2 388.0,534.2 388.6,530.8 389.1,531.2 389.7,530.0 390.3,534.6 390.9,535.0 391.4,533.8 392.0,534.0 392.6,535.3 393.2,536.4 393.7,534.5 394.3,535.2 394.9,534.7 395.5,532.7 396.0,535.3 396.6,531.3 397.2,529.1 397.8,527.7 398.3,529.7 398.9,527.7 399.5,530.0 400.1,528.7 400.6,529.6 401.2,528.6 401.8,527.9 402.4,528.7 402.9,529.8 403.5,530.3 404.1,528.1 404.7,528.3 405.2,530.7 405.8,529.7 406.4,527.5 407.0,529.1 407.5,533.1 408.1,526.2 408.7,527.8 409.3,534.9 409.8,532.0 410.4,533.0 411.0,536.3 411.6,538.4 412.1,537.7 412.7,539.7 413.3,540.9 413.9,546.3 414.4,544.9 415.0,549.1 415.6,540.2 416.2,538.1 416.7,541.7 417.3,538.7 417.9,534.2 418.5,536.4 419.0,536.1 419.6,534.7 420.2,540.3 420.8,541.2 421.3,535.5 421.9,539.2 422.5,528.7 423.1,530.9 423.6,530.5 424.2,529.6 424.8,532.6 425.4,528.3 425.9,532.5 426.5,533.5 427.1,535.1 427.7,533.0 428.2,536.6 428.8,535.5 429.4,524.3 430.0,526.2 430.5,529.0 431.1,524.3 431.7,530.4 432.3,536.7 432.8,535.2 433.4,529.7 434.0,528.4 434.6,530.6 435.1,531.8 435.7,529.0 436.3,529.2 436.9,530.9 437.4,531.5 438.0,535.8 438.6,526.2 439.2,530.7 439.7,525.7 440.3,532.2 440.9,525.7 441.5,527.1 442.0,526.7 442.6,525.1 443.2,526.0 443.8,523.9 444.3,520.9 444.9,519.6 445.5,514.2 446.1,516.2 446.6,521.4 447.2,525.7 447.8,518.9 448.4,517.8 449.0,522.5 449.5,520.7 450.1,522.2 450.7,525.8 451.3,524.0 451.8,518.1 452.4,523.0 453.0,519.4 453.6,518.3 454.1,523.6 454.7,524.4 455.3,522.5 455.9,525.7 456.4,532.4 457.0,531.6 457.6,525.9 458.2,534.0 458.7,525.3 459.3,525.1 459.9,529.3 460.5,529.5 461.0,525.4 461.6,529.4 462.2,520.0 462.8,522.7 463.3,518.8 463.9,518.2 464.5,523.8 465.1,527.0 465.6,518.8 466.2,519.0 466.8,523.0 467.4,514.0 467.9,516.5 468.5,514.5 469.1,516.2 469.7,516.0 470.2,520.5 470.8,516.2 471.4,516.4 472.0,520.1 472.5,521.3 473.1,514.6 473.7,513.8 474.3,516.5 474.8,515.6 475.4,523.2 476.0,521.5 476.6,521.0 477.1,521.6 477.7,520.1 478.3,515.8 478.9,515.7 479.4,519.7 480.0,521.6 480.6,518.7 481.2,524.2 481.7,522.2 482.3,524.1 482.9,521.9 483.5,522.2 484.0,518.5 484.6,519.2 485.2,519.6 485.8,521.4 486.3,520.4 486.9,526.0 487.5,521.0 488.1,519.7 488.6,519.3 489.2,522.9 489.8,521.6 490.4,525.8 490.9,525.7 491.5,524.4 492.1,516.7 492.7,519.9 493.2,520.4 493.8,525.1 494.4,523.0 495.0,521.4 495.5,520.0 496.1,521.9 496.7,518.9 497.3,517.3 497.8,516.8 498.4,519.4 499.0,517.5 499.6,521.3 500.1,519.4 500.7,520.8 501.3,520.5 501.9,515.4 502.4,515.9 503.0,518.0 503.6,516.7 504.2,516.7 504.7,516.4 505.3,517.0 505.9,519.1 506.5,522.1 507.0,518.5 507.6,521.4 508.2,520.0 508.8,518.0 509.3,521.6 509.9,519.1 510.5,519.7 511.1,526.6 511.6,525.5 512.2,526.3 512.8,521.1 513.4,522.9 513.9,521.0 514.5,522.8 515.1,519.9 515.7,521.9 516.3,521.3 516.8,521.6 517.4,519.8 518.0,521.7 518.6,521.2 519.1,514.5 519.7,514.6 520.3,513.9 520.9,515.6 521.4,517.0 522.0,513.6 522.6,515.1 523.2,513.6 523.7,515.2 524.3,516.5 524.9,517.5 525.5,517.3 526.0,519.2 526.6,518.2 527.2,517.2 527.8,517.6 528.3,516.5 528.9,516.6 529.5,516.2 530.1,514.5 530.6,513.1 531.2,516.3 531.8,517.4 532.4,515.7 532.9,515.3 533.5,513.2 534.1,511.7 534.7,508.0 535.2,505.9 535.8,508.4 536.4,510.2 537.0,508.3 537.5,506.3 538.1,508.3 538.7,509.2 539.3,509.5 539.8,509.2 540.4,506.7 541.0,508.3 541.6,506.9 542.1,506.9 542.7,508.6 543.3,509.0 543.9,506.3 544.4,505.8 545.0,507.5 545.6,508.4 546.2,508.8 546.7,508.9 547.3,508.6 547.9,505.2 548.5,503.7 549.0,505.3 549.6,503.8 550.2,504.6 550.8,502.7 551.3,502.0 551.9,504.7 552.5,503.1 553.1,500.5 553.6,500.1 554.2,500.3 554.8,498.3 555.4,502.4 555.9,500.5 556.5,498.7 557.1,499.8 557.7,500.8 558.2,502.2 558.8,504.0 559.4,507.2 560.0,506.6 560.5,505.5 561.1,505.2 561.7,506.5 562.3,506.4 562.8,505.8 563.4,507.9 564.0,508.8 564.6,508.5 565.1,509.3 565.7,509.1 566.3,508.3 566.9,508.2 567.4,508.8 568.0,513.3 568.6,509.2 569.2,508.5 569.7,508.3 570.3,511.3 570.9,510.1 571.5,509.4 572.0,508.7 572.6,508.5 573.2,509.8 573.8,509.7 574.3,513.1 574.9,514.2 575.5,512.2 576.1,512.3 576.6,509.9 577.2,510.7 577.8,511.9 578.4,510.9 578.9,510.4 579.5,510.7 580.1,509.9 580.7,510.4 581.2,511.1 581.8,507.8 582.4,508.2 583.0,510.8 583.5,508.9 584.1,508.9 584.7,507.8 585.3,506.5 585.9,508.0 586.4,506.6 587.0,506.4 587.6,506.4 588.2,505.4 588.7,505.3 589.3,508.8 589.9,509.7 590.5,508.5 591.0,511.1 591.6,511.9 592.2,513.9 592.8,513.1 593.3,514.5 593.9,513.5 594.5,514.7 595.1,517.1 595.6,518.4 596.2,520.3 596.8,523.4 597.4,521.4 597.9,525.2 598.5,525.5 599.1,524.6 599.7,526.2 600.2,526.6 600.8,527.0 601.4,526.8 602.0,526.1 602.5,525.3 603.1,524.1 603.7,523.7 604.3,521.4 604.8,521.3 605.4,519.4 606.0,518.5 606.6,517.5 607.1,517.1 607.7,516.9 608.3,516.9 608.9,517.6 609.4,516.8 610.0,515.6 610.6,517.5 611.2,514.1 611.7,514.7 612.3,514.7 612.9,516.3 613.5,520.4 614.0,519.5 614.6,520.5 615.2,521.7 615.8,522.6 616.3,521.4 616.9,521.1 617.5,520.9 618.1,518.8 618.6,518.5 619.2,517.2 619.8,518.1 620.4,517.9 620.9,516.6 621.5,516.1 622.1,518.4 622.7,517.5 623.2,517.8 623.8,515.5 624.4,514.3 625.0,513.8 625.5,514.0 626.1,515.7 626.7,514.7 627.3,513.1 627.8,512.5 628.4,511.6 629.0,509.7 629.6,511.0 630.1,510.3 630.7,511.6 631.3,509.2 631.9,508.1 632.4,506.2 633.0,506.3 633.6,505.8 634.2,508.8 634.7,510.1 635.3,508.6 635.9,510.0 636.5,509.5 637.0,508.5 637.6,504.6 638.2,506.1 638.8,504.7 639.3,506.2 639.9,504.0 640.5,504.4 641.1,503.5 641.6,505.0 642.2,502.6 642.8,502.1 643.4,500.8 643.9,499.6 644.5,501.5 645.1,498.6 645.7,500.3 646.2,499.1 646.8,498.7 647.4,501.2 648.0,499.5 648.5,499.5 649.1,500.5 649.7,499.5 650.3,499.1 650.8,496.8 651.4,497.8 652.0,496.6 652.6,496.2 653.2,493.6 653.7,493.1 654.3,491.5 654.9,488.2 655.5,488.1 656.0,485.8 656.6,487.5 657.2,485.4 657.8,486.6 658.3,486.7 658.9,484.5 659.5,482.7 660.1,482.3 660.6,481.6 661.2,484.4 661.8,483.5 662.4,480.5 662.9,480.9 663.5,476.8 664.1,477.5 664.7,480.6 665.2,480.4 665.8,482.7 666.4,481.7 667.0,483.9 667.5,482.9 668.1,484.9 668.7,485.7 669.3,487.3 669.8,486.5 670.4,488.6 671.0,485.9 671.6,485.5 672.1,485.4 672.7,484.6 673.3,487.4 673.9,488.2 674.4,491.9 675.0,493.5 675.6,496.2 676.2,498.3 676.7,497.9 677.3,498.1 677.9,501.8 678.5,500.7 679.0,502.1 679.6,502.2 680.2,501.0 680.8,501.2 681.3,503.7 681.9,502.5 682.5,501.3 683.1,503.8 683.6,504.8 684.2,508.0 684.8,507.8 685.4,508.2 685.9,509.1 686.5,508.4 687.1,508.8 687.7,504.5 688.2,504.6 688.8,502.2 689.4,501.9 690.0,498.4 690.5,496.1 691.1,495.1 691.7,493.6 692.3,493.5 692.8,493.3 693.4,490.2 694.0,489.3 694.6,489.0 695.1,491.4 695.7,489.4 696.3,490.6 696.9,489.7 697.4,489.8 698.0,490.9 698.6,490.0 699.2,489.2 699.7,490.8 700.3,490.7 700.9,492.1 701.5,493.1 702.0,493.2 702.6,493.4 703.2,493.0 703.8,492.5 704.3,490.5 704.9,492.1 705.5,494.3 706.1,494.3 706.6,498.0 707.2,497.6 707.8,497.9 708.4,501.9 708.9,502.7 709.5,501.8 710.1,504.2 710.7,503.8 711.2,504.7 711.8,506.4 712.4,503.7 713.0,504.4 713.5,503.3 714.1,503.3 714.7,503.7 715.3,504.3 715.8,505.4 716.4,505.7 717.0,506.5 717.6,507.4 718.1,503.0 718.7,500.3 719.3,497.1 719.9,496.1 720.4,497.1 721.0,499.9 721.6,503.1 722.2,503.7 722.8,503.6 723.3,501.5 723.9,503.3 724.5,504.3 725.1,502.3 725.6,501.0 726.2,504.0 726.8,505.2 727.4,506.1 727.9,507.7 728.5,505.8 729.1,504.9 729.7,505.6 730.2,501.7 730.8,500.2 731.4,498.2 732.0,497.5 732.5,497.0 733.1,498.4 733.7,494.0 734.3,492.7 734.8,491.5 735.4,494.6 736.0,496.2 736.6,496.1 737.1,492.6 737.7,492.4 738.3,492.8 738.9,493.7 739.4,494.2 740.0,491.6 740.6,490.8 741.2,493.3 741.7,490.6 742.3,492.8 742.9,491.5 743.5,493.5 744.0,492.3 744.6,492.7 745.2,494.1 745.8,494.0 746.3,498.1 746.9,496.2 747.5,497.7 748.1,499.0 748.6,499.5 749.2,502.0 749.8,501.9 750.4,501.2 750.9,499.1 751.5,501.9 752.1,499.0 752.7,497.4 753.2,500.0 753.8,500.9 754.4,503.2 755.0,503.3 755.5,503.1 756.1,503.3 756.7,501.7 757.3,499.8 757.8,500.9 758.4,499.2 759.0,500.2 759.6,499.9 760.1,500.6 760.7,501.0 761.3,500.4 761.9,502.1 762.4,503.0 763.0,506.0 763.6,506.0 764.2,502.3 764.7,499.0 765.3,501.1 765.9,499.5 766.5,499.3 767.0,497.6 767.6,497.5 768.2,497.2 768.8,500.5 769.3,497.2 769.9,497.0 770.5,498.6 771.1,498.2 771.6,497.1 772.2,494.2 772.8,496.6 773.4,495.5 773.9,495.8 774.5,493.6 775.1,493.4 775.7,495.6 776.2,495.5 776.8,495.9 777.4,495.0 778.0,494.6 778.5,491.6 779.1,489.2 779.7,487.1 780.3,485.6 780.8,485.1 781.4,486.8 782.0,486.6 782.6,485.8 783.1,485.5 783.7,486.9 784.3,485.0 784.9,485.7 785.4,484.6 786.0,484.6 786.6,485.8 787.2,486.7 787.7,486.6 788.3,488.6 788.9,488.1 789.5,484.6 790.1,486.1 790.6,484.0 791.2,481.0 791.8,480.4 792.4,481.5 792.9,481.3 793.5,479.1 794.1,484.6 794.7,483.7 795.2,481.6 795.8,480.1 796.4,480.2 797.0,477.8 797.5,475.3 798.1,475.7 798.7,474.7 799.3,473.3 799.8,473.7 800.4,474.0 801.0,475.2 801.6,471.6 802.1,473.0 802.7,471.2 803.3,468.2 803.9,471.6 804.4,470.7 805.0,470.2 805.6,470.4 806.2,472.0 806.7,467.9 807.3,465.5 807.9,464.7 808.5,464.1 809.0,465.9 809.6,464.1 810.2,463.9 810.8,464.5 811.3,464.8 811.9,465.1 812.5,468.1 813.1,469.6 813.6,473.1 814.2,471.6 814.8,471.0 815.4,475.1 815.9,476.7 816.5,477.5 817.1,475.8 817.7,476.9 818.2,474.0 818.8,474.5 819.4,471.1 820.0,471.2 820.5,470.0 821.1,468.5 821.7,469.5 822.3,468.1 822.8,468.6 823.4,467.2 824.0,470.5 824.6,468.2 825.1,470.6 825.7,470.0 826.3,467.7 826.9,466.4 827.4,465.7 828.0,461.5 828.6,463.7 829.2,460.1 829.7,462.0 830.3,463.7 830.9,461.9 831.5,462.9 832.0,462.3 832.6,461.7 833.2,459.2 833.8,463.0 834.3,466.4 834.9,466.7 835.5,468.8 836.1,468.8 836.6,467.0 837.2,468.7 837.8,466.4 838.4,469.7 838.9,469.6 839.5,471.2 840.1,470.9 840.7,468.7 841.2,471.1 841.8,467.6 842.4,467.7 843.0,469.9 843.5,469.9 844.1,467.4 844.7,467.8 845.3,472.7 845.8,475.9 846.4,478.0 847.0,479.3 847.6,483.3 848.1,484.8 848.7,482.6 849.3,483.2 849.9,480.1 850.4,477.8 851.0,475.8 851.6,473.6 852.2,472.7 852.7,473.9 853.3,474.0 853.9,472.3 854.5,470.3 855.0,470.0 855.6,469.9 856.2,465.8 856.8,465.1 857.4,465.3 857.9,467.3 858.5,468.7 859.1,467.6 859.7,462.7 860.2,464.9 860.8,467.3 861.4,465.6 862.0,468.6 862.5,468.0 863.1,467.3 863.7,467.7 864.3,468.0 864.8,470.1 865.4,472.2 866.0,471.7 866.6,472.5 867.1,476.4 867.7,475.6 868.3,476.7 868.9,471.9 869.4,468.8 870.0,467.8 870.6,470.9 871.2,468.3 871.7,468.9 872.3,468.3 872.9,465.2 873.5,466.6 874.0,465.5 874.6,467.7 875.2,467.6 875.8,469.6 876.3,465.6 876.9,467.7 877.5,466.0 878.1,463.2 878.6,461.2 879.2,459.4 879.8,457.0 880.4,454.6 880.9,455.3 881.5,453.0 882.1,452.3 882.7,448.0 883.2,446.3 883.8,442.7 884.4,444.0 885.0,444.1 885.5,448.4 886.1,448.6 886.7,449.5 887.3,449.1 887.8,448.2 888.4,450.9 889.0,448.8 889.6,451.3 890.1,455.2 890.7,455.1 891.3,453.5 891.9,453.3 892.4,447.0 893.0,447.6 893.6,447.4 894.2,446.9 894.7,447.2 895.3,445.6 895.9,446.8 896.5,447.6 897.0,446.4 897.6,443.9 898.2,446.6 898.8,445.1 899.3,445.6 899.9,445.4 900.5,446.5 901.1,443.3 901.6,439.0 902.2,435.8 902.8,436.7 903.4,431.7 903.9,427.5 904.5,429.0 905.1,425.5 905.7,432.4 906.2,431.4 906.8,433.2 907.4,439.1 908.0,440.8 908.5,439.7 909.1,434.8 909.7,437.8 910.3,437.0 910.8,434.8 911.4,432.5 912.0,433.0 912.6,431.1 913.1,428.4 913.7,431.3 914.3,425.9 914.9,427.4 915.4,429.1 916.0,424.9 916.6,422.1 917.2,424.2 917.7,425.3 918.3,425.9 918.9,424.5 919.5,428.6 920.0,429.2 920.6,435.2 921.2,437.9 921.8,440.3 922.3,443.2 922.9,445.7 923.5,445.2 924.1,449.2 924.6,453.0 925.2,452.7 925.8,449.2 926.4,449.1 927.0,450.1 927.5,450.4 928.1,447.6 928.7,448.7 929.3,447.1 929.8,452.8 930.4,453.8 931.0,455.9 931.6,454.7 932.1,459.1 932.7,460.4 933.3,462.7 933.9,465.9 934.4,462.7 935.0,462.6 935.6,462.9 936.2,456.7 936.7,456.1 937.3,455.9 937.9,452.8 938.5,450.9 939.0,451.4 939.6,455.1 940.2,454.2 940.8,459.5 941.3,455.8 941.9,456.4 942.5,454.2 943.1,454.3 943.6,453.9 944.2,452.6 944.8,451.5 945.4,451.5 945.9,455.2 946.5,457.8 947.1,457.6 947.7,459.8 948.2,455.3 948.8,453.5 949.4,454.1 950.0,454.1 950.5,452.1 951.1,455.7 951.7,455.0 952.3,452.2 952.8,456.5 953.4,452.7 954.0,457.0 954.6,455.9 955.1,457.8 955.7,459.0 956.3,458.6 956.9,459.6 957.4,459.3 958.0,455.6 958.6,456.4 959.2,458.3 959.7,457.0 960.3,456.7 960.9,456.8 961.5,457.4 962.0,456.5 962.6,456.6 963.2,457.6 963.8,458.6 964.3,458.5 964.9,458.6 965.5,460.4 966.1,457.2 966.6,461.0 967.2,462.2 967.8,467.8 968.4,467.7 968.9,467.0 969.5,464.4 970.1,465.2 970.7,463.0 971.2,465.5 971.8,464.8 972.4,466.7 973.0,470.3 973.5,472.8 974.1,474.2 974.7,475.5 975.3,474.5 975.8,477.7 976.4,478.0 977.0,478.0 977.6,474.6 978.1,472.9 978.7,473.1 979.3,470.9 979.9,470.3 980.4,468.5 981.0,465.8 981.6,460.6 982.2,465.3 982.7,464.5 983.3,465.8 983.9,467.7 984.5,465.6 985.0,465.7 985.6,467.0 986.2,465.9 986.8,467.2 987.3,465.9 987.9,463.4 988.5,460.8 989.1,460.2 989.6,459.3 990.2,459.1 990.8,457.3 991.4,455.3 991.9,457.7 992.5,460.6 993.1,455.2 993.7,451.9 994.3,449.1 994.8,449.4 995.4,452.8 996.0,447.8 996.6,451.2 997.1,451.0 997.7,447.6 998.3,449.3 998.9,452.4 999.4,458.9 1000.0,463.4 1000.6,463.4 1001.2,464.6 1001.7,467.5 1002.3,467.3 1002.9,477.9 1003.5,474.1 1004.0,479.6 1004.6,479.5 1005.2,481.9 1005.8,477.1 1006.3,477.3 1006.9,471.4 1007.5,468.4 1008.1,474.3 1008.6,477.1 1009.2,474.2 1009.8,472.8 1010.4,476.4 1010.9,475.4 1011.5,467.4 1012.1,465.7 1012.7,464.5 1013.2,463.4 1013.8,464.1 1014.4,467.2 1015.0,470.6 1015.5,469.6 1016.1,464.4 1016.7,464.5 1017.3,463.6 1017.8,463.6 1018.4,460.7 1019.0,454.6 1019.6,453.8 1020.1,459.3 1020.7,460.2 1021.3,458.6 1021.9,453.5 1022.4,451.1 1023.0,452.0 1023.6,456.3 1024.2,454.5 1024.7,457.5 1025.3,457.8 1025.9,461.9 1026.5,458.5 1027.0,458.1 1027.6,457.0 1028.2,461.3 1028.8,463.7 1029.3,466.0 1029.9,465.7 1030.5,469.6 1031.1,470.8 1031.6,470.0 1032.2,466.5 1032.8,467.4 1033.4,464.2 1033.9,461.1 1034.5,461.2 1035.1,460.8 1035.7,462.7 1036.2,464.4 1036.8,465.0 1037.4,465.4 1038.0,465.9 1038.5,469.0 1039.1,474.7 1039.7,474.5 1040.3,477.1 1040.8,478.1 1041.4,477.6 1042.0,477.0 1042.6,471.7 1043.1,471.8 1043.7,470.3 1044.3,465.6 1044.9,466.9 1045.4,465.5 1046.0,466.4 1046.6,464.9 1047.2,465.2 1047.7,469.8 1048.3,468.5 1048.9,469.0 1049.5,467.9 1050.0,463.2 1050.6,459.5 1051.2,460.7 1051.8,460.2 1052.3,461.9 1052.9,464.1 1053.5,465.8 1054.1,461.1 1054.6,458.7 1055.2,461.6 1055.8,461.5 1056.4,468.1 1056.9,470.0 1057.5,461.6 1058.1,462.7 1058.7,463.9 1059.2,462.3 1059.8,464.9 1060.4,464.4 1061.0,458.4 1061.6,460.2 1062.1,452.1 1062.7,448.0 1063.3,445.8 1063.9,445.2 1064.4,447.0 1065.0,443.1 1065.6,447.0 1066.2,440.0 1066.7,449.1 1067.3,445.7 1067.9,453.0 1068.5,451.7 1069.0,448.1 1069.6,449.2 1070.2,445.9 1070.8,446.7 1071.3,441.1 1071.9,443.6 1072.5,443.4 1073.1,441.1 1073.6,437.3 1074.2,446.2 1074.8,442.0 1075.4,443.9 1075.9,443.7 1076.5,438.8 1077.1,439.0 1077.7,436.8 1078.2,433.5 1078.8,437.2 1079.4,434.0 1080.0,432.3 1080.5,429.8 1081.1,426.1 1081.7,427.7 1082.3,425.1 1082.8,428.2 1083.4,429.6 1084.0,430.5 1084.6,428.6 1085.1,429.9 1085.7,426.1 1086.3,424.8 1086.9,426.1 1087.4,421.2 1088.0,423.5 1088.6,423.7 1089.2,424.1 1089.7,428.3 1090.3,428.9 1090.9,428.9 1091.5,426.6 1092.0,426.5 1092.6,426.5 1093.2,429.8 1093.8,431.5 1094.3,434.1 1094.9,438.1 1095.5,438.8 1096.1,438.5 1096.6,435.1 1097.2,434.8 1097.8,431.4 1098.4,430.6 1098.9,428.8 1099.5,427.4 1100.1,425.0 1100.7,425.8 1101.2,427.6 1101.8,427.7 1102.4,425.2 1103.0,423.9 1103.5,425.1 1104.1,427.6 1104.7,429.3 1105.3,431.3 1105.8,432.4 1106.4,434.9 1107.0,434.1 1107.6,435.2 1108.1,433.3 1108.7,431.3 1109.3,428.9 1109.9,429.4 1110.4,426.3 1111.0,425.8 1111.6,424.5 1112.2,423.0 1112.7,421.8 1113.3,420.1 1113.9,422.6 1114.5,419.5 1115.0,420.8 1115.6,419.4 1116.2,418.3 1116.8,414.9 1117.3,417.1 1117.9,416.5 1118.5,415.3 1119.1,413.8 1119.6,414.4 1120.2,414.5 1120.8,413.4 1121.4,410.5 1121.9,411.6 1122.5,409.0 1123.1,405.1 1123.7,404.6 1124.2,403.9 1124.8,404.4 1125.4,398.5 1126.0,404.9 1126.5,405.9 1127.1,407.0 1127.7,405.7 1128.3,403.5 1128.8,406.5 1129.4,402.9 1130.0,403.9 1130.6,403.1 1131.2,402.9 1131.7,403.7 1132.3,403.0 1132.9,402.4 1133.5,407.1 1134.0,406.5 1134.6,408.4 1135.2,407.7 1135.8,410.8 1136.3,408.5 1136.9,412.1 1137.5,413.7 1138.1,412.3 1138.6,417.5 1139.2,413.9 1139.8,416.3 1140.4,416.0 1140.9,415.4 1141.5,415.1 1142.1,415.0 1142.7,414.2 1143.2,413.6 1143.8,416.2 1144.4,419.6 1145.0,420.4 1145.5,418.9 1146.1,418.9 1146.7,422.2 1147.3,421.2 1147.8,421.0 1148.4,422.7 1149.0,425.7 1149.6,426.5 1150.1,429.0 1150.7,429.5 1151.3,428.1 1151.9,427.8 1152.4,429.9 1153.0,427.2 1153.6,426.1 1154.2,422.5 1154.7,422.5 1155.3,419.5 1155.9,418.4 1156.5,415.6 1157.0,416.7 1157.6,418.7 1158.2,418.4 1158.8,419.7 1159.3,426.6 1159.9,424.2 1160.5,427.9 1161.1,433.0 1161.6,433.5 1162.2,438.2 1162.8,438.7 1163.4,438.5 1163.9,439.1 1164.5,438.0 1165.1,435.8 1165.7,435.5 1166.2,432.8 1166.8,434.4 1167.4,434.6 1168.0,434.2 1168.5,429.9 1169.1,430.4 1169.7,428.9 1170.3,424.6 1170.8,427.2 1171.4,423.6 1172.0,423.8 1172.6,426.5 1173.1,426.5 1173.7,429.1 1174.3,430.1 1174.9,433.7 1175.4,435.4 1176.0,440.1 1176.6,443.9 1177.2,447.1 1177.7,444.1 1178.3,443.7 1178.9,442.7 1179.5,444.8 1180.0,443.1 1180.6,441.0 1181.2,437.1 1181.8,434.6 1182.3,432.9 1182.9,434.1 1183.5,436.0 1184.1,437.3 1184.6,441.1 1185.2,444.6 1185.8,441.4 1186.4,438.3 1186.9,438.3 1187.5,433.5 1188.1,432.5 1188.7,433.4 1189.2,432.7 1189.8,429.3 1190.4,430.0 1191.0,428.3 1191.5,428.4 1192.1,426.6 1192.7,427.0 1193.3,428.5 1193.8,428.7 1194.4,430.6 1195.0,429.9 1195.6,429.7 1196.1,432.3 1196.7,432.6 1197.3,429.6" stroke="#A2142F" stroke-width="2.5" stroke-linejoin="round" fill="none"/>
<path d="M39.4,556.0 40.0,556.3 40.6,555.7 41.1,551.0 41.7,554.7 42.3,558.6 42.9,558.4 43.4,558.6 44.0,566.2 44.6,565.0 45.2,565.1 45.7,568.3 46.3,559.3 46.9,562.2 47.5,559.3 48.0,561.6 48.6,562.1 49.2,565.1 49.8,564.2 50.3,565.7 50.9,566.3 51.5,564.2 52.1,563.1 52.6,564.9 53.2,569.3 53.8,572.8 54.4,574.7 54.9,575.7 55.5,579.8 56.1,581.4 56.7,583.0 57.2,579.3 57.8,585.6 58.4,583.8 59.0,585.4 59.5,585.7 60.1,586.8 60.7,584.8 61.3,591.1 61.8,591.8 62.4,591.5 63.0,591.3 63.6,589.6 64.1,588.3 64.7,591.9 65.3,589.0 65.9,586.3 66.4,583.8 67.0,583.5 67.6,582.2 68.2,577.5 68.7,574.8 69.3,576.3 69.9,575.3 70.5,574.4 71.0,574.2 71.6,573.4 72.2,573.3 72.8,573.6 73.3,573.3 73.9,572.7 74.5,570.2 75.1,569.8 75.6,569.7 76.2,572.9 76.8,574.7 77.4,575.2 77.9,572.7 78.5,568.7 79.1,568.4 79.7,568.3 80.2,568.1 80.8,571.7 81.4,573.8 82.0,570.2 82.5,565.6 83.1,569.7 83.7,567.1 84.3,566.4 84.8,565.6 85.4,560.9 86.0,566.3 86.6,560.8 87.1,560.7 87.7,558.3 88.3,567.0 88.9,566.3 89.4,565.6 90.0,563.0 90.6,561.6 91.2,561.2 91.7,558.2 92.3,557.0 92.9,556.6 93.5,557.5 94.0,558.0 94.6,559.3 95.2,556.5 95.8,554.6 96.3,557.0 96.9,557.4 97.5,557.6 98.1,555.3 98.6,555.5 99.2,553.8 99.8,555.6 100.4,556.5 100.9,552.9 101.5,550.7 102.1,549.9 102.7,550.7 103.2,549.7 103.8,549.1 104.4,547.7 105.0,551.2 105.5,548.9 106.1,551.1 106.7,552.4 107.3,552.7 107.9,551.1 108.4,552.2 109.0,559.7 109.6,555.1 110.2,553.5 110.7,551.9 111.3,552.9 111.9,553.2 112.5,552.3 113.0,552.7 113.6,554.6 114.2,547.9 114.8,550.6 115.3,551.4 115.9,547.9 116.5,547.7 117.1,547.3 117.6,550.6 118.2,553.0 118.8,552.8 119.4,550.7 119.9,550.4 120.5,548.9 121.1,548.8 121.7,551.4 122.2,552.2 122.8,553.8 123.4,553.2 124.0,550.2 124.5,548.5 125.1,550.4 125.7,551.7 126.3,549.9 126.8,544.0 127.4,544.2 128.0,546.1 128.6,546.5 129.1,545.2 129.7,544.4 130.3,546.2 130.9,542.3 131.4,541.6 132.0,542.1 132.6,540.7 133.2,543.4 133.7,539.9 134.3,542.4 134.9,540.4 135.5,538.1 136.0,537.7 136.6,537.3 137.2,537.0 137.8,537.5 138.3,539.6 138.9,540.3 139.5,543.4 140.1,542.0 140.6,542.0 141.2,542.2 141.8,543.5 142.4,542.1 142.9,543.6 143.5,542.2 144.1,538.5 144.7,539.4 145.2,539.8 145.8,540.0 146.4,539.5 147.0,538.9 147.5,537.2 148.1,538.0 148.7,539.1 149.3,537.1 149.8,535.5 150.4,535.7 151.0,535.4 151.6,535.2 152.1,531.3 152.7,532.4 153.3,533.6 153.9,536.7 154.4,536.6 155.0,538.1 155.6,536.8 156.2,538.0 156.7,537.5 157.3,536.6 157.9,538.8 158.5,539.4 159.0,539.3 159.6,540.8 160.2,540.0 160.8,538.6 161.3,538.9 161.9,535.4 162.5,530.0 163.1,531.8 163.6,529.8 164.2,528.5 164.8,528.5 165.4,528.2 165.9,525.9 166.5,526.1 167.1,524.8 167.7,527.6 168.2,529.3 168.8,530.0 169.4,530.1 170.0,529.2 170.5,530.9 171.1,530.4 171.7,528.9 172.3,527.8 172.8,525.6 173.4,526.0 174.0,525.8 174.6,522.5 175.1,522.8 175.7,523.9 176.3,520.4 176.9,520.1 177.5,522.3 178.0,524.9 178.6,525.3 179.2,524.2 179.8,525.0 180.3,523.2 180.9,524.9 181.5,522.8 182.1,523.1 182.6,519.9 183.2,523.1 183.8,523.2 184.4,518.7 184.9,523.4 185.5,515.7 186.1,515.4 186.7,516.4 187.2,514.6 187.8,514.4 188.4,518.3 189.0,520.9 189.5,517.6 190.1,520.8 190.7,523.8 191.3,524.5 191.8,524.9 192.4,524.7 193.0,526.4 193.6,528.3 194.1,531.4 194.7,531.7 195.3,531.3 195.9,530.5 196.4,531.2 197.0,531.4 197.6,532.7 198.2,532.0 198.7,532.1 199.3,531.9 199.9,532.0 200.5,526.3 201.0,524.4 201.6,522.5 202.2,524.6 202.8,526.5 203.3,520.6 203.9,519.0 204.5,519.0 205.1,516.8 205.6,518.3 206.2,517.4 206.8,520.1 207.4,519.7 207.9,515.7 208.5,515.9 209.1,517.3 209.7,517.1 210.2,518.4 210.8,518.1 211.4,520.1 212.0,516.6 212.5,516.4 213.1,516.8 213.7,515.9 214.3,517.8 214.8,512.2 215.4,516.5 216.0,517.0 216.6,520.0 217.1,520.1 217.7,520.7 218.3,521.1 218.9,521.5 219.4,521.8 220.0,519.2 220.6,519.1 221.2,517.6 221.7,518.6 222.3,519.2 222.9,517.8 223.5,519.0 224.0,519.4 224.6,522.0 225.2,519.9 225.8,519.8 226.3,520.0 226.9,519.1 227.5,519.3 228.1,522.5 228.6,523.7 229.2,522.9 229.8,523.5 230.4,525.3 230.9,526.1 231.5,530.8 232.1,535.2 232.7,533.7 233.2,532.5 233.8,533.7 234.4,539.5 235.0,535.7 235.5,538.2 236.1,539.8 236.7,538.9 237.3,539.5 237.8,540.3 238.4,545.0 239.0,540.1 239.6,541.4 240.1,545.9 240.7,547.3 241.3,546.8 241.9,543.1 242.4,545.2 243.0,540.9 243.6,538.4 244.2,542.1 244.8,539.6 245.3,540.7 245.9,539.4 246.5,537.6 247.1,536.4 247.6,532.8 248.2,537.8 248.8,532.2 249.4,535.2 249.9,536.8 250.5,540.5 251.1,538.8 251.7,539.6 252.2,540.6 252.8,541.0 253.4,542.6 254.0,548.3 254.5,549.7 255.1,543.9 255.7,545.1 256.3,546.1 256.8,543.1 257.4,545.6 258.0,543.7 258.6,544.9 259.1,543.3 259.7,539.2 260.3,539.2 260.9,538.8 261.4,540.8 262.0,542.4 262.6,544.1 263.2,545.9 263.7,545.3 264.3,541.4 264.9,542.9 265.5,541.5 266.0,542.3 266.6,540.9 267.2,540.9 267.8,541.3 268.3,541.2 268.9,539.7 269.5,544.5 270.1,544.3 270.6,543.7 271.2,547.7 271.8,545.9 272.4,545.1 272.9,543.5 273.5,541.6 274.1,539.0 274.7,539.9 275.2,540.9 275.8,541.8 276.4,542.8 277.0,543.7 277.5,546.5 278.1,545.6 278.7,544.4 279.3,545.8 279.8,542.5 280.4,540.7 281.0,534.7 281.6,533.8 282.1,533.9 282.7,538.0 283.3,535.7 283.9,536.3 284.4,534.4 285.0,535.0 285.6,533.7 286.2,534.4 286.7,531.8 287.3,533.6 287.9,534.5 288.5,531.7 289.0,530.7 289.6,530.8 290.2,527.7 290.8,525.0 291.3,529.6 291.9,528.4 292.5,529.8 293.1,525.9 293.6,527.6 294.2,524.1 294.8,524.7 295.4,527.5 295.9,526.6 296.5,525.2 297.1,526.1 297.7,526.4 298.2,524.5 298.8,524.6 299.4,526.3 300.0,525.0 300.5,525.6 301.1,522.8 301.7,522.4 302.3,523.8 302.8,523.0 303.4,521.9 304.0,518.8 304.6,520.7 305.1,520.3 305.7,521.3 306.3,524.9 306.9,525.3 307.4,526.4 308.0,526.9 308.6,527.8 309.2,527.8 309.7,528.0 310.3,529.0 310.9,528.6 311.5,530.5 312.1,529.9 312.6,533.2 313.2,532.1 313.8,531.0 314.4,532.2 314.9,533.3 315.5,530.9 316.1,528.9 316.7,525.0 317.2,526.2 317.8,525.0 318.4,527.0 319.0,527.6 319.5,526.4 320.1,523.1 320.7,523.2 321.3,519.6 321.8,520.7 322.4,524.4 323.0,523.2 323.6,521.0 324.1,523.3 324.7,519.9 325.3,523.5 325.9,520.0 326.4,522.0 327.0,520.3 327.6,520.7 328.2,518.7 328.7,518.8 329.3,517.6 329.9,519.0 330.5,519.1 331.0,521.0 331.6,520.2 332.2,518.6 332.8,518.2 333.3,517.9 333.9,517.3 334.5,516.0 335.1,516.4 335.6,517.7 336.2,521.2 336.8,523.5 337.4,524.5 337.9,522.1 338.5,521.6 339.1,520.3 339.7,520.1 340.2,520.3 340.8,518.2 341.4,517.5 342.0,519.9 342.5,517.0 343.1,520.7 343.7,516.7 344.3,515.3 344.8,514.0 345.4,514.1 346.0,513.9 346.6,515.4 347.1,517.9 347.7,514.2 348.3,512.8 348.9,512.5 349.4,515.1 350.0,514.9 350.6,514.6 351.2,515.0 351.7,513.5 352.3,515.3 352.9,516.4 353.5,515.3 354.0,518.2 354.6,518.1 355.2,518.6 355.8,520.9 356.3,522.9 356.9,520.0 357.5,517.2 358.1,519.2 358.6,517.4 359.2,517.8 359.8,518.2 360.4,512.4 360.9,514.7 361.5,515.5 362.1,510.4 362.7,512.5 363.2,507.3 363.8,508.3 364.4,510.3 365.0,508.1 365.5,503.1 366.1,503.8 366.7,507.0 367.3,505.0 367.8,505.5 368.4,506.3 369.0,499.0 369.6,498.5 370.1,503.6 370.7,502.8 371.3,504.0 371.9,503.5 372.4,500.3 373.0,501.2 373.6,497.6 374.2,494.8 374.7,496.0 375.3,496.0 375.9,493.4 376.5,493.3 377.0,493.3 377.6,488.6 378.2,489.2 378.8,489.0 379.3,489.6 379.9,491.3 380.5,489.8 381.1,489.4 381.7,491.6 382.2,488.5 382.8,491.2 383.4,490.9 384.0,493.4 384.5,490.5 385.1,491.0 385.7,494.9 386.3,494.9 386.8,495.8 387.4,497.7 388.0,500.5 388.6,498.4 389.1,499.1 389.7,496.4 390.3,500.8 390.9,497.5 391.4,496.8 392.0,498.3 392.6,498.2 393.2,501.7 393.7,497.8 394.3,499.3 394.9,497.0 395.5,498.0 396.0,499.1 396.6,498.6 397.2,497.7 397.8,498.4 398.3,497.8 398.9,494.5 399.5,495.0 400.1,493.2 400.6,493.4 401.2,492.9 401.8,487.3 402.4,482.8 402.9,480.8 403.5,482.4 404.1,482.1 404.7,480.7 405.2,479.9 405.8,481.4 406.4,479.0 407.0,477.7 407.5,478.6 408.1,477.3 408.7,477.0 409.3,481.7 409.8,483.7 410.4,483.5 411.0,487.4 411.6,482.5 412.1,490.4 412.7,499.0 413.3,505.9 413.9,512.0 414.4,519.1 415.0,512.5 415.6,514.3 416.2,517.3 416.7,512.8 417.3,517.4 417.9,519.8 418.5,517.1 419.0,513.5 419.6,514.7 420.2,517.8 420.8,513.3 421.3,508.3 421.9,503.4 422.5,508.7 423.1,506.2 423.6,511.6 424.2,516.5 424.8,507.1 425.4,506.7 425.9,506.4 426.5,500.8 427.1,496.6 427.7,504.8 428.2,506.8 428.8,508.4 429.4,502.3 430.0,504.7 430.5,510.8 431.1,510.3 431.7,509.2 432.3,508.5 432.8,506.1 433.4,508.0 434.0,514.9 434.6,512.9 435.1,510.1 435.7,503.0 436.3,509.3 436.9,506.4 437.4,504.3 438.0,509.3 438.6,505.0 439.2,505.2 439.7,505.1 440.3,497.7 440.9,498.2 441.5,502.7 442.0,506.1 442.6,497.5 443.2,496.0 443.8,497.4 444.3,495.1 444.9,502.3 445.5,497.3 446.1,496.9 446.6,493.2 447.2,493.7 447.8,497.6 448.4,496.2 449.0,496.3 449.5,500.7 450.1,489.6 450.7,488.9 451.3,484.7 451.8,487.0 452.4,499.4 453.0,498.2 453.6,492.4 454.1,499.2 454.7,495.5 455.3,503.8 455.9,513.7 456.4,506.0 457.0,514.8 457.6,517.1 458.2,507.9 458.7,508.0 459.3,506.7 459.9,505.1 460.5,499.7 461.0,494.6 461.6,495.3 462.2,497.1 462.8,500.8 463.3,500.8 463.9,504.8 464.5,503.2 465.1,500.7 465.6,499.2 466.2,498.3 466.8,495.4 467.4,491.0 467.9,493.1 468.5,497.4 469.1,491.7 469.7,494.7 470.2,497.2 470.8,497.5 471.4,499.2 472.0,500.9 472.5,498.8 473.1,486.7 473.7,493.5 474.3,493.1 474.8,497.8 475.4,496.0 476.0,489.9 476.6,490.0 477.1,491.4 477.7,489.9 478.3,497.1 478.9,496.9 479.4,490.9 480.0,491.2 480.6,486.7 481.2,495.6 481.7,491.6 482.3,487.5 482.9,488.0 483.5,490.1 484.0,490.5 484.6,491.3 485.2,490.9 485.8,491.6 486.3,493.0 486.9,482.9 487.5,492.0 488.1,489.0 488.6,489.9 489.2,491.2 489.8,491.5 490.4,481.8 490.9,480.8 491.5,480.5 492.1,482.6 492.7,485.0 493.2,486.6 493.8,483.7 494.4,483.9 495.0,483.2 495.5,482.7 496.1,478.7 496.7,482.9 497.3,486.9 497.8,482.2 498.4,479.7 499.0,482.5 499.6,481.4 500.1,479.0 500.7,482.3 501.3,481.5 501.9,482.6 502.4,480.5 503.0,481.0 503.6,481.9 504.2,482.1 504.7,484.0 505.3,478.1 505.9,479.4 506.5,477.1 507.0,482.6 507.6,478.7 508.2,478.5 508.8,474.9 509.3,473.0 509.9,473.9 510.5,478.1 511.1,478.5 511.6,477.5 512.2,477.3 512.8,480.5 513.4,478.7 513.9,475.3 514.5,477.8 515.1,477.3 515.7,478.3 516.3,476.8 516.8,479.2 517.4,477.8 518.0,482.0 518.6,480.4 519.1,476.7 519.7,475.4 520.3,476.8 520.9,478.2 521.4,477.2 522.0,479.3 522.6,483.6 523.2,482.3 523.7,481.9 524.3,484.1 524.9,484.5 525.5,483.3 526.0,486.9 526.6,487.3 527.2,484.3 527.8,482.2 528.3,484.8 528.9,486.9 529.5,483.1 530.1,485.2 530.6,483.9 531.2,484.2 531.8,485.7 532.4,487.0 532.9,492.6 533.5,488.0 534.1,489.1 534.7,487.6 535.2,484.8 535.8,483.9 536.4,485.9 537.0,486.1 537.5,482.2 538.1,484.5 538.7,484.3 539.3,484.6 539.8,484.8 540.4,486.2 541.0,484.4 541.6,483.1 542.1,480.4 542.7,481.7 543.3,482.2 543.9,478.9 544.4,480.1 545.0,474.7 545.6,474.1 546.2,478.3 546.7,478.7 547.3,480.1 547.9,474.4 548.5,474.5 549.0,476.1 549.6,478.2 550.2,477.9 550.8,473.4 551.3,475.7 551.9,475.1 552.5,475.1 553.1,476.0 553.6,473.8 554.2,472.1 554.8,472.6 555.4,469.1 555.9,472.4 556.5,471.8 557.1,471.5 557.7,469.1 558.2,467.5 558.8,470.1 559.4,466.9 560.0,467.1 560.5,467.2 561.1,467.6 561.7,463.9 562.3,464.4 562.8,463.9 563.4,465.1 564.0,462.8 564.6,464.5 565.1,464.0 565.7,463.9 566.3,465.4 566.9,462.7 567.4,462.8 568.0,461.5 568.6,463.0 569.2,465.7 569.7,463.9 570.3,466.2 570.9,464.6 571.5,463.4 572.0,463.8 572.6,462.2 573.2,460.8 573.8,461.1 574.3,458.5 574.9,455.9 575.5,456.8 576.1,457.2 576.6,457.8 577.2,460.6 577.8,461.6 578.4,458.9 578.9,459.2 579.5,456.6 580.1,457.7 580.7,461.2 581.2,461.1 581.8,457.0 582.4,455.5 583.0,456.5 583.5,458.7 584.1,461.0 584.7,460.2 585.3,461.0 585.9,460.1 586.4,460.2 587.0,460.0 587.6,459.8 588.2,461.3 588.7,460.9 589.3,460.9 589.9,461.4 590.5,463.0 591.0,464.1 591.6,463.2 592.2,462.1 592.8,464.3 593.3,464.9 593.9,467.8 594.5,466.7 595.1,464.9 595.6,465.8 596.2,467.1 596.8,468.6 597.4,465.9 597.9,468.6 598.5,470.3 599.1,470.2 599.7,470.9 600.2,470.9 600.8,471.5 601.4,472.5 602.0,472.2 602.5,472.9 603.1,468.6 603.7,470.5 604.3,467.9 604.8,468.2 605.4,470.7 606.0,468.9 606.6,466.9 607.1,464.4 607.7,466.3 608.3,463.4 608.9,460.5 609.4,461.6 610.0,461.4 610.6,459.8 611.2,460.5 611.7,461.1 612.3,463.9 612.9,460.3 613.5,462.8 614.0,462.8 614.6,464.2 615.2,468.1 615.8,469.0 616.3,469.2 616.9,467.6 617.5,464.6 618.1,465.9 618.6,466.2 619.2,461.7 619.8,464.7 620.4,459.7 620.9,460.7 621.5,460.5 622.1,459.5 622.7,458.4 623.2,457.3 623.8,458.2 624.4,456.9 625.0,457.1 625.5,454.5 626.1,454.2 626.7,453.7 627.3,451.5 627.8,451.7 628.4,453.2 629.0,451.2 629.6,448.2 630.1,448.3 630.7,449.4 631.3,449.2 631.9,449.1 632.4,452.0 633.0,449.3 633.6,451.6 634.2,448.3 634.7,449.9 635.3,449.2 635.9,452.4 636.5,451.8 637.0,451.9 637.6,453.4 638.2,452.1 638.8,455.0 639.3,455.8 639.9,452.8 640.5,449.1 641.1,448.6 641.6,448.2 642.2,447.5 642.8,446.4 643.4,443.9 643.9,439.8 644.5,439.4 645.1,441.5 645.7,437.4 646.2,433.5 646.8,435.0 647.4,434.2 648.0,433.4 648.5,431.1 649.1,432.2 649.7,430.0 650.3,432.0 650.8,430.2 651.4,429.1 652.0,429.6 652.6,429.3 653.2,429.6 653.7,428.5 654.3,427.9 654.9,429.8 655.5,427.8 656.0,427.4 656.6,428.9 657.2,432.0 657.8,433.9 658.3,434.7 658.9,436.6 659.5,433.0 660.1,430.7 660.6,429.9 661.2,429.8 661.8,427.1 662.4,422.0 662.9,424.4 663.5,421.4 664.1,418.7 664.7,416.2 665.2,412.7 665.8,410.1 666.4,408.9 667.0,407.3 667.5,404.5 668.1,401.6 668.7,398.7 669.3,397.6 669.8,393.6 670.4,391.8 671.0,396.1 671.6,393.0 672.1,395.5 672.7,391.7 673.3,392.9 673.9,391.7 674.4,390.6 675.0,387.9 675.6,391.3 676.2,391.4 676.7,391.7 677.3,394.0 677.9,397.0 678.5,397.1 679.0,396.1 679.6,398.9 680.2,398.8 680.8,397.8 681.3,395.4 681.9,394.4 682.5,394.8 683.1,393.9 683.6,396.5 684.2,398.9 684.8,403.4 685.4,402.4 685.9,403.5 686.5,401.6 687.1,403.3 687.7,407.3 688.2,407.6 688.8,405.1 689.4,400.8 690.0,399.4 690.5,397.1 691.1,393.3 691.7,391.5 692.3,391.6 692.8,390.4 693.4,384.5 694.0,383.0 694.6,380.9 695.1,381.4 695.7,382.8 696.3,381.8 696.9,380.2 697.4,378.0 698.0,381.4 698.6,380.5 699.2,379.8 699.7,382.6 700.3,380.2 700.9,378.0 701.5,374.8 702.0,377.5 702.6,378.2 703.2,379.2 703.8,377.1 704.3,379.3 704.9,382.2 705.5,382.7 706.1,384.5 706.6,383.6 707.2,384.4 707.8,386.4 708.4,383.9 708.9,387.5 709.5,387.0 710.1,389.0 710.7,391.2 711.2,388.8 711.8,393.3 712.4,390.0 713.0,393.3 713.5,389.4 714.1,387.8 714.7,390.4 715.3,388.4 715.8,379.4 716.4,376.7 717.0,376.9 717.6,375.4 718.1,375.1 718.7,376.7 719.3,371.9 719.9,374.5 720.4,371.0 721.0,372.0 721.6,375.4 722.2,375.1 722.8,375.6 723.3,376.8 723.9,379.9 724.5,385.0 725.1,381.9 725.6,380.0 726.2,380.7 726.8,377.6 727.4,378.2 727.9,379.9 728.5,377.4 729.1,375.7 729.7,371.4 730.2,368.0 730.8,367.2 731.4,364.7 732.0,364.3 732.5,365.0 733.1,364.3 733.7,363.4 734.3,366.1 734.8,366.0 735.4,366.6 736.0,362.3 736.6,363.5 737.1,362.0 737.7,363.0 738.3,358.3 738.9,357.8 739.4,358.5 740.0,357.9 740.6,355.6 741.2,359.4 741.7,360.3 742.3,359.7 742.9,359.2 743.5,355.8 744.0,356.2 744.6,352.3 745.2,351.0 745.8,349.7 746.3,346.4 746.9,346.6 747.5,349.6 748.1,347.1 748.6,346.4 749.2,345.1 749.8,346.1 750.4,348.9 750.9,347.5 751.5,349.7 752.1,352.8 752.7,350.9 753.2,348.8 753.8,351.2 754.4,346.9 755.0,347.1 755.5,345.8 756.1,347.1 756.7,348.1 757.3,345.6 757.8,343.8 758.4,343.3 759.0,344.2 759.6,338.1 760.1,337.7 760.7,341.7 761.3,339.0 761.9,336.0 762.4,339.7 763.0,334.2 763.6,337.0 764.2,339.8 764.7,339.4 765.3,340.4 765.9,342.6 766.5,340.4 767.0,338.8 767.6,336.2 768.2,339.4 768.8,336.9 769.3,339.4 769.9,341.2 770.5,339.5 771.1,340.7 771.6,342.2 772.2,344.6 772.8,343.1 773.4,347.7 773.9,352.6 774.5,355.3 775.1,353.7 775.7,349.3 776.2,350.2 776.8,349.0 777.4,346.9 778.0,340.8 778.5,339.5 779.1,339.7 779.7,335.9 780.3,330.6 780.8,330.2 781.4,327.2 782.0,326.8 782.6,322.5 783.1,325.4 783.7,328.6 784.3,324.3 784.9,319.5 785.4,319.2 786.0,318.5 786.6,317.1 787.2,315.4 787.7,318.9 788.3,317.4 788.9,316.4 789.5,318.8 790.1,320.3 790.6,318.1 791.2,323.6 791.8,321.2 792.4,321.5 792.9,322.9 793.5,321.2 794.1,323.5 794.7,319.4 795.2,320.3 795.8,320.3 796.4,324.0 797.0,326.1 797.5,325.5 798.1,325.7 798.7,327.9 799.3,330.1 799.8,341.4 800.4,340.6 801.0,337.1 801.6,331.5 802.1,328.7 802.7,329.4 803.3,327.4 803.9,329.8 804.4,327.4 805.0,327.8 805.6,327.1 806.2,328.3 806.7,330.6 807.3,332.1 807.9,329.3 808.5,330.5 809.0,331.0 809.6,326.3 810.2,325.8 810.8,329.8 811.3,328.8 811.9,322.4 812.5,325.3 813.1,319.3 813.6,322.0 814.2,320.4 814.8,321.5 815.4,318.6 815.9,317.2 816.5,321.3 817.1,321.5 817.7,318.8 818.2,317.1 818.8,314.6 819.4,314.7 820.0,317.2 820.5,313.3 821.1,314.0 821.7,311.1 822.3,315.0 822.8,315.9 823.4,314.9 824.0,311.5 824.6,311.5 825.1,312.5 825.7,314.0 826.3,316.3 826.9,314.2 827.4,313.7 828.0,314.2 828.6,311.7 829.2,309.9 829.7,308.3 830.3,307.4 830.9,308.0 831.5,303.5 832.0,299.7 832.6,300.7 833.2,299.3 833.8,295.5 834.3,295.3 834.9,298.7 835.5,301.2 836.1,302.0 836.6,306.0 837.2,306.6 837.8,306.5 838.4,306.0 838.9,300.9 839.5,301.0 840.1,301.5 840.7,301.1 841.2,304.6 841.8,304.9 842.4,303.1 843.0,302.2 843.5,300.5 844.1,298.1 844.7,303.0 845.3,301.5 845.8,306.3 846.4,305.8 847.0,311.4 847.6,310.0 848.1,311.9 848.7,312.4 849.3,307.3 849.9,307.6 850.4,305.0 851.0,300.6 851.6,303.8 852.2,300.2 852.7,293.8 853.3,295.2 853.9,295.6 854.5,291.3 855.0,293.2 855.6,289.3 856.2,286.9 856.8,289.1 857.4,289.0 857.9,286.4 858.5,284.9 859.1,282.7 859.7,283.2 860.2,282.5 860.8,281.5 861.4,283.1 862.0,287.5 862.5,287.6 863.1,281.8 863.7,281.6 864.3,284.9 864.8,280.3 865.4,281.6 866.0,277.3 866.6,280.1 867.1,272.9 867.7,274.1 868.3,278.7 868.9,285.5 869.4,282.8 870.0,286.0 870.6,290.0 871.2,293.1 871.7,290.6 872.3,289.6 872.9,285.0 873.5,280.5 874.0,286.9 874.6,298.0 875.2,302.1 875.8,306.1 876.3,310.4 876.9,310.4 877.5,301.1 878.1,295.0 878.6,289.7 879.2,288.0 879.8,277.7 880.4,270.2 880.9,271.9 881.5,271.2 882.1,269.1 882.7,264.1 883.2,262.7 883.8,259.3 884.4,257.1 885.0,258.3 885.5,260.6 886.1,260.6 886.7,256.2 887.3,258.3 887.8,255.2 888.4,255.1 889.0,256.6 889.6,256.3 890.1,251.8 890.7,249.9 891.3,249.3 891.9,248.5 892.4,240.7 893.0,239.1 893.6,237.6 894.2,241.6 894.7,236.4 895.3,234.6 895.9,235.5 896.5,232.4 897.0,234.0 897.6,237.6 898.2,238.5 898.8,241.8 899.3,249.7 899.9,251.4 900.5,253.0 901.1,256.9 901.6,258.7 902.2,251.4 902.8,248.6 903.4,246.4 903.9,254.8 904.5,257.9 905.1,250.0 905.7,250.3 906.2,252.1 906.8,255.4 907.4,250.6 908.0,251.6 908.5,245.3 909.1,238.7 909.7,238.6 910.3,238.0 910.8,241.1 911.4,243.9 912.0,245.6 912.6,243.6 913.1,240.5 913.7,240.7 914.3,236.8 914.9,231.7 915.4,234.6 916.0,236.3 916.6,236.9 917.2,241.0 917.7,244.9 918.3,243.2 918.9,243.3 919.5,241.1 920.0,239.0 920.6,239.9 921.2,241.2 921.8,246.8 922.3,247.1 922.9,242.1 923.5,238.3 924.1,237.6 924.6,240.2 925.2,231.6 925.8,229.2 926.4,229.6 927.0,226.2 927.5,226.6 928.1,219.4 928.7,224.0 929.3,220.5 929.8,226.3 930.4,224.9 931.0,230.7 931.6,228.8 932.1,227.7 932.7,226.9 933.3,230.8 933.9,227.2 934.4,227.5 935.0,234.5 935.6,226.2 936.2,217.9 936.7,218.3 937.3,212.7 937.9,208.3 938.5,210.8 939.0,211.4 939.6,214.6 940.2,218.0 940.8,220.5 941.3,217.2 941.9,222.3 942.5,218.8 943.1,228.8 943.6,229.1 944.2,218.2 944.8,220.6 945.4,217.0 945.9,213.3 946.5,217.0 947.1,212.8 947.7,211.0 948.2,214.6 948.8,215.9 949.4,211.7 950.0,212.0 950.5,213.4 951.1,210.2 951.7,208.7 952.3,213.2 952.8,219.8 953.4,216.4 954.0,218.0 954.6,219.7 955.1,218.2 955.7,222.9 956.3,214.8 956.9,213.0 957.4,210.5 958.0,207.4 958.6,209.1 959.2,210.0 959.7,201.5 960.3,208.7 960.9,205.4 961.5,204.9 962.0,204.5 962.6,202.7 963.2,203.5 963.8,201.8 964.3,201.7 964.9,201.2 965.5,207.0 966.1,208.6 966.6,205.9 967.2,200.7 967.8,201.7 968.4,203.3 968.9,205.1 969.5,209.1 970.1,203.9 970.7,203.6 971.2,206.0 971.8,202.8 972.4,198.9 973.0,200.6 973.5,195.4 974.1,194.7 974.7,192.6 975.3,191.9 975.8,192.8 976.4,195.6 977.0,195.3 977.6,199.9 978.1,204.4 978.7,199.8 979.3,209.3 979.9,209.4 980.4,212.8 981.0,206.7 981.6,203.6 982.2,198.3 982.7,198.1 983.3,198.4 983.9,191.3 984.5,195.2 985.0,188.5 985.6,183.9 986.2,193.2 986.8,196.3 987.3,204.3 987.9,200.8 988.5,197.9 989.1,197.5 989.6,198.8 990.2,195.4 990.8,192.0 991.4,188.4 991.9,188.5 992.5,188.6 993.1,206.9 993.7,207.4 994.3,209.7 994.8,206.1 995.4,200.6 996.0,195.3 996.6,191.2 997.1,191.9 997.7,192.4 998.3,199.5 998.9,224.9 999.4,229.5 1000.0,241.4 1000.6,226.5 1001.2,224.8 1001.7,229.6 1002.3,239.6 1002.9,243.7 1003.5,252.4 1004.0,244.8 1004.6,245.3 1005.2,239.1 1005.8,239.3 1006.3,240.5 1006.9,244.4 1007.5,242.9 1008.1,233.9 1008.6,230.6 1009.2,226.8 1009.8,233.8 1010.4,243.6 1010.9,245.5 1011.5,246.8 1012.1,269.8 1012.7,273.2 1013.2,272.3 1013.8,282.2 1014.4,268.5 1015.0,263.7 1015.5,250.2 1016.1,251.3 1016.7,250.8 1017.3,262.0 1017.8,259.6 1018.4,259.6 1019.0,263.7 1019.6,264.2 1020.1,250.8 1020.7,250.4 1021.3,247.8 1021.9,248.7 1022.4,240.9 1023.0,240.2 1023.6,245.9 1024.2,238.1 1024.7,236.6 1025.3,239.8 1025.9,227.2 1026.5,219.8 1027.0,220.5 1027.6,217.1 1028.2,214.2 1028.8,216.3 1029.3,225.8 1029.9,228.7 1030.5,239.4 1031.1,243.6 1031.6,249.2 1032.2,238.0 1032.8,235.9 1033.4,235.3 1033.9,232.6 1034.5,227.2 1035.1,229.8 1035.7,228.7 1036.2,231.0 1036.8,225.8 1037.4,233.9 1038.0,235.1 1038.5,225.0 1039.1,227.4 1039.7,222.7 1040.3,225.4 1040.8,233.7 1041.4,230.8 1042.0,231.5 1042.6,228.4 1043.1,220.1 1043.7,228.0 1044.3,227.2 1044.9,225.8 1045.4,231.2 1046.0,229.5 1046.6,228.9 1047.2,223.0 1047.7,225.3 1048.3,230.2 1048.9,230.9 1049.5,227.9 1050.0,224.7 1050.6,223.9 1051.2,220.5 1051.8,222.6 1052.3,230.5 1052.9,229.5 1053.5,238.4 1054.1,248.8 1054.6,254.1 1055.2,241.2 1055.8,251.9 1056.4,254.0 1056.9,251.9 1057.5,255.3 1058.1,260.6 1058.7,256.0 1059.2,256.3 1059.8,264.5 1060.4,269.7 1061.0,267.6 1061.6,260.6 1062.1,255.0 1062.7,268.8 1063.3,269.1 1063.9,266.2 1064.4,274.5 1065.0,282.6 1065.6,283.0 1066.2,282.5 1066.7,286.2 1067.3,278.7 1067.9,279.7 1068.5,270.8 1069.0,266.9 1069.6,265.8 1070.2,257.1 1070.8,258.7 1071.3,257.3 1071.9,261.6 1072.5,257.8 1073.1,257.8 1073.6,263.0 1074.2,260.7 1074.8,257.4 1075.4,259.8 1075.9,259.2 1076.5,259.1 1077.1,261.5 1077.7,263.3 1078.2,253.4 1078.8,255.3 1079.4,252.6 1080.0,258.7 1080.5,262.8 1081.1,263.0 1081.7,266.6 1082.3,265.1 1082.8,262.0 1083.4,258.9 1084.0,256.6 1084.6,256.0 1085.1,259.4 1085.7,253.8 1086.3,255.0 1086.9,250.1 1087.4,247.2 1088.0,247.0 1088.6,241.3 1089.2,237.5 1089.7,239.1 1090.3,240.8 1090.9,239.2 1091.5,236.7 1092.0,242.6 1092.6,242.7 1093.2,236.4 1093.8,234.6 1094.3,233.3 1094.9,229.8 1095.5,228.9 1096.1,225.6 1096.6,227.8 1097.2,227.6 1097.8,233.1 1098.4,232.6 1098.9,235.2 1099.5,237.4 1100.1,243.5 1100.7,241.2 1101.2,246.9 1101.8,244.5 1102.4,241.2 1103.0,242.9 1103.5,241.4 1104.1,240.5 1104.7,238.5 1105.3,242.5 1105.8,247.2 1106.4,244.2 1107.0,245.4 1107.6,244.3 1108.1,239.1 1108.7,234.1 1109.3,233.5 1109.9,233.2 1110.4,225.9 1111.0,224.8 1111.6,222.2 1112.2,223.2 1112.7,227.0 1113.3,220.0 1113.9,224.8 1114.5,224.5 1115.0,220.7 1115.6,228.3 1116.2,231.3 1116.8,231.0 1117.3,232.4 1117.9,232.3 1118.5,242.8 1119.1,240.3 1119.6,242.6 1120.2,243.7 1120.8,246.7 1121.4,252.3 1121.9,248.7 1122.5,240.3 1123.1,233.7 1123.7,227.7 1124.2,223.1 1124.8,219.3 1125.4,222.4 1126.0,219.1 1126.5,221.5 1127.1,220.3 1127.7,219.5 1128.3,216.9 1128.8,208.3 1129.4,205.2 1130.0,204.1 1130.6,200.6 1131.2,209.6 1131.7,202.2 1132.3,200.6 1132.9,201.2 1133.5,199.4 1134.0,202.6 1134.6,200.2 1135.2,200.7 1135.8,199.0 1136.3,197.3 1136.9,202.7 1137.5,201.2 1138.1,207.0 1138.6,201.9 1139.2,204.8 1139.8,207.9 1140.4,209.1 1140.9,208.1 1141.5,206.9 1142.1,203.4 1142.7,201.4 1143.2,202.7 1143.8,209.9 1144.4,205.8 1145.0,212.2 1145.5,217.6 1146.1,214.1 1146.7,219.3 1147.3,218.9 1147.8,222.4 1148.4,223.8 1149.0,221.0 1149.6,219.7 1150.1,222.1 1150.7,225.1 1151.3,224.7 1151.9,229.2 1152.4,230.0 1153.0,226.8 1153.6,229.0 1154.2,225.0 1154.7,223.0 1155.3,216.7 1155.9,220.2 1156.5,219.6 1157.0,219.7 1157.6,221.7 1158.2,219.5 1158.8,230.4 1159.3,223.5 1159.9,226.4 1160.5,232.6 1161.1,229.8 1161.6,226.3 1162.2,222.9 1162.8,229.7 1163.4,230.9 1163.9,232.6 1164.5,239.2 1165.1,244.7 1165.7,240.7 1166.2,241.6 1166.8,243.3 1167.4,249.3 1168.0,243.6 1168.5,242.1 1169.1,242.7 1169.7,244.8 1170.3,248.2 1170.8,249.2 1171.4,254.3 1172.0,260.9 1172.6,262.4 1173.1,269.9 1173.7,266.0 1174.3,258.3 1174.9,241.1 1175.4,233.5 1176.0,233.7 1176.6,237.0 1177.2,240.0 1177.7,241.3 1178.3,244.2 1178.9,239.8 1179.5,235.9 1180.0,236.3 1180.6,244.3 1181.2,244.3 1181.8,250.8 1182.3,249.0 1182.9,247.2 1183.5,245.8 1184.1,244.5 1184.6,242.6 1185.2,250.5 1185.8,250.6 1186.4,252.7 1186.9,256.0 1187.5,255.9 1188.1,248.3 1188.7,245.2 1189.2,245.8 1189.8,244.3 1190.4,244.4 1191.0,248.3 1191.5,250.0 1192.1,248.0 1192.7,247.7 1193.3,248.7 1193.8,244.4 1194.4,248.4 1195.0,249.4 1195.6,247.1 1196.1,245.1 1196.7,241.0 1197.3,240.5" stroke="#0072BD" stroke-width="2.5" stroke-linejoin="round" fill="none"/>
<path d="M39.4,556.0 40.0,554.8 40.6,562.2 41.1,565.9 41.7,566.0 42.3,564.5 42.9,569.3 43.4,563.9 44.0,568.3 44.6,570.8 45.2,573.1 45.7,578.8 46.3,575.6 46.9,577.1 47.5,571.3 48.0,568.4 48.6,569.4 49.2,573.1 49.8,575.9 50.3,580.4 50.9,585.6 51.5,585.2 52.1,585.8 52.6,585.0 53.2,584.9 53.8,583.9 54.4,578.2 54.9,582.7 55.5,587.0 56.1,587.3 56.7,591.3 57.2,588.8 57.8,593.8 58.4,594.2 59.0,599.2 59.5,598.6 60.1,605.2 60.7,606.3 61.3,603.5 61.8,606.5 62.4,608.1 63.0,612.9 63.6,611.8 64.1,611.0 64.7,607.7 65.3,607.9 65.9,605.7 66.4,603.2 67.0,598.3 67.6,598.3 68.2,598.9 68.7,597.3 69.3,591.5 69.9,587.2 70.5,585.2 71.0,586.3 71.6,589.4 72.2,585.0 72.8,581.2 73.3,578.5 73.9,577.5 74.5,574.1 75.1,574.3 75.6,569.0 76.2,568.0 76.8,567.2 77.4,569.0 77.9,559.6 78.5,558.4 79.1,555.6 79.7,554.3 80.2,555.6 80.8,556.4 81.4,556.1 82.0,553.3 82.5,551.5 83.1,550.2 83.7,550.3 84.3,548.2 84.8,547.8 85.4,543.2 86.0,543.3 86.6,542.6 87.1,540.0 87.7,543.4 88.3,542.5 88.9,541.0 89.4,542.7 90.0,545.7 90.6,551.3 91.2,546.8 91.7,550.8 92.3,550.6 92.9,555.4 93.5,554.0 94.0,549.5 94.6,548.5 95.2,548.4 95.8,545.5 96.3,546.9 96.9,544.7 97.5,542.2 98.1,542.8 98.6,541.0 99.2,540.6 99.8,541.0 100.4,541.5 100.9,545.0 101.5,545.6 102.1,545.5 102.7,548.9 103.2,546.3 103.8,550.3 104.4,548.8 105.0,552.1 105.5,550.8 106.1,550.0 106.7,550.7 107.3,548.8 107.9,553.2 108.4,554.5 109.0,549.9 109.6,551.4 110.2,550.8 110.7,555.5 111.3,553.0 111.9,554.9 112.5,555.5 113.0,555.9 113.6,550.1 114.2,550.0 114.8,546.1 115.3,542.3 115.9,541.1 116.5,541.9 117.1,541.9 117.6,538.1 118.2,537.1 118.8,533.0 119.4,532.5 119.9,532.9 120.5,535.3 121.1,530.4 121.7,529.4 122.2,526.2 122.8,530.2 123.4,525.5 124.0,524.5 124.5,524.4 125.1,524.1 125.7,529.0 126.3,527.9 126.8,528.2 127.4,528.7 128.0,527.2 128.6,523.6 129.1,525.3 129.7,526.0 130.3,524.5 130.9,521.0 131.4,520.8 132.0,522.3 132.6,524.6 133.2,522.3 133.7,522.6 134.3,524.8 134.9,526.8 135.5,521.4 136.0,520.3 136.6,519.9 137.2,517.3 137.8,515.0 138.3,514.4 138.9,516.3 139.5,514.3 140.1,509.7 140.6,511.4 141.2,511.9 141.8,511.4 142.4,511.6 142.9,510.8 143.5,512.8 144.1,511.8 144.7,512.7 145.2,513.8 145.8,514.2 146.4,521.7 147.0,520.7 147.5,516.2 148.1,515.5 148.7,511.0 149.3,510.6 149.8,507.6 150.4,507.3 151.0,502.8 151.6,503.1 152.1,503.6 152.7,500.7 153.3,503.4 153.9,507.4 154.4,507.4 155.0,511.3 155.6,511.4 156.2,509.8 156.7,512.8 157.3,516.8 157.9,515.0 158.5,514.5 159.0,512.5 159.6,512.5 160.2,507.4 160.8,505.2 161.3,505.3 161.9,507.1 162.5,499.6 163.1,500.9 163.6,501.0 164.2,498.7 164.8,501.4 165.4,501.8 165.9,499.0 166.5,497.6 167.1,497.7 167.7,498.7 168.2,499.9 168.8,502.4 169.4,501.6 170.0,503.4 170.5,504.2 171.1,499.1 171.7,497.4 172.3,494.5 172.8,494.9 173.4,494.1 174.0,493.0 174.6,494.2 175.1,489.5 175.7,490.6 176.3,491.9 176.9,490.4 177.5,489.5 178.0,490.2 178.6,490.6 179.2,487.8 179.8,490.2 180.3,490.5 180.9,492.7 181.5,490.9 182.1,490.2 182.6,491.4 183.2,489.0 183.8,484.6 184.4,486.2 184.9,487.9 185.5,487.5 186.1,484.0 186.7,486.2 187.2,490.3 187.8,490.4 188.4,487.3 189.0,486.0 189.5,492.1 190.1,490.4 190.7,491.0 191.3,493.3 191.8,497.0 192.4,500.5 193.0,494.9 193.6,496.0 194.1,496.4 194.7,501.2 195.3,502.0 195.9,501.7 196.4,498.7 197.0,501.4 197.6,501.3 198.2,499.4 198.7,501.0 199.3,498.6 199.9,494.9 200.5,493.0 201.0,489.8 201.6,486.6 202.2,491.6 202.8,484.9 203.3,486.2 203.9,485.6 204.5,484.1 205.1,481.1 205.6,476.9 206.2,482.1 206.8,474.8 207.4,475.8 207.9,470.6 208.5,470.6 209.1,468.2 209.7,469.6 210.2,473.1 210.8,471.8 211.4,473.1 212.0,470.5 212.5,471.1 213.1,470.8 213.7,468.7 214.3,469.3 214.8,470.8 215.4,467.9 216.0,466.3 216.6,461.0 217.1,461.5 217.7,459.2 218.3,463.1 218.9,459.7 219.4,460.8 220.0,459.2 220.6,456.0 221.2,452.2 221.7,453.3 222.3,456.7 222.9,452.8 223.5,451.0 224.0,448.9 224.6,451.5 225.2,448.0 225.8,443.6 226.3,442.2 226.9,442.4 227.5,442.3 228.1,439.5 228.6,437.2 229.2,437.2 229.8,436.5 230.4,438.6 230.9,444.4 231.5,444.2 232.1,454.0 232.7,453.0 233.2,450.3 233.8,454.9 234.4,456.3 235.0,452.0 235.5,459.4 236.1,458.3 236.7,462.9 237.3,468.1 237.8,468.6 238.4,471.2 239.0,476.4 239.6,475.2 240.1,478.3 240.7,474.4 241.3,467.9 241.9,469.1 242.4,469.4 243.0,470.8 243.6,482.3 244.2,479.9 244.8,485.2 245.3,477.8 245.9,478.4 246.5,479.9 247.1,470.5 247.6,466.4 248.2,464.2 248.8,466.3 249.4,465.3 249.9,470.8 250.5,473.5 251.1,478.9 251.7,482.0 252.2,481.9 252.8,487.1 253.4,490.7 254.0,491.1 254.5,490.2 255.1,493.8 255.7,495.8 256.3,502.4 256.8,498.3 257.4,496.9 258.0,493.0 258.6,487.7 259.1,492.4 259.7,488.3 260.3,485.0 260.9,478.9 261.4,477.5 262.0,480.8 262.6,479.0 263.2,481.6 263.7,478.5 264.3,472.1 264.9,476.3 265.5,469.3 266.0,471.2 266.6,473.0 267.2,473.0 267.8,471.8 268.3,474.3 268.9,475.1 269.5,470.5 270.1,479.9 270.6,480.8 271.2,480.0 271.8,479.7 272.4,479.8 272.9,486.5 273.5,483.5 274.1,488.4 274.7,484.7 275.2,488.5 275.8,488.1 276.4,486.9 277.0,487.5 277.5,486.3 278.1,486.0 278.7,481.0 279.3,483.1 279.8,480.5 280.4,471.8 281.0,472.8 281.6,471.9 282.1,471.9 282.7,469.6 283.3,468.0 283.9,468.0 284.4,467.2 285.0,463.8 285.6,461.3 286.2,461.5 286.7,460.7 287.3,459.5 287.9,455.2 288.5,457.5 289.0,458.9 289.6,458.4 290.2,459.9 290.8,463.2 291.3,459.5 291.9,458.1 292.5,453.9 293.1,451.5 293.6,453.6 294.2,454.9 294.8,450.8 295.4,447.0 295.9,448.2 296.5,451.9 297.1,448.3 297.7,448.8 298.2,446.1 298.8,445.2 299.4,450.5 300.0,447.3 300.5,446.4 301.1,444.2 301.7,442.8 302.3,440.8 302.8,442.4 303.4,437.7 304.0,438.8 304.6,437.2 305.1,433.5 305.7,433.0 306.3,434.0 306.9,436.8 307.4,438.4 308.0,441.6 308.6,438.0 309.2,438.1 309.7,437.7 310.3,437.0 310.9,433.6 311.5,429.8 312.1,431.8 312.6,435.5 313.2,430.9 313.8,432.4 314.4,432.7 314.9,425.2 315.5,426.7 316.1,428.4 316.7,426.7 317.2,429.2 317.8,426.4 318.4,421.9 319.0,421.8 319.5,426.5 320.1,427.9 320.7,428.3 321.3,423.9 321.8,426.9 322.4,426.2 323.0,425.4 323.6,423.2 324.1,420.5 324.7,424.2 325.3,422.3 325.9,425.3 326.4,426.1 327.0,422.0 327.6,421.6 328.2,419.0 328.7,419.4 329.3,419.0 329.9,421.8 330.5,423.0 331.0,425.0 331.6,427.0 332.2,424.1 332.8,422.7 333.3,420.6 333.9,421.0 334.5,424.2 335.1,418.3 335.6,416.9 336.2,420.2 336.8,420.4 337.4,419.6 337.9,423.2 338.5,422.7 339.1,417.9 339.7,417.4 340.2,422.1 340.8,423.4 341.4,418.0 342.0,415.6 342.5,411.6 343.1,412.1 343.7,406.7 344.3,406.7 344.8,405.0 345.4,407.0 346.0,405.2 346.6,403.8 347.1,408.7 347.7,405.4 348.3,412.5 348.9,413.1 349.4,413.9 350.0,411.9 350.6,406.4 351.2,407.8 351.7,410.9 352.3,411.4 352.9,410.4 353.5,412.2 354.0,413.5 354.6,416.8 355.2,420.3 355.8,419.7 356.3,418.7 356.9,417.8 357.5,421.0 358.1,423.1 358.6,421.4 359.2,420.8 359.8,415.6 360.4,416.2 360.9,412.3 361.5,413.9 362.1,414.5 362.7,409.5 363.2,406.8 363.8,409.0 364.4,409.4 365.0,409.8 365.5,406.0 366.1,407.4 366.7,410.6 367.3,410.5 367.8,412.8 368.4,411.6 369.0,405.4 369.6,408.0 370.1,409.3 370.7,406.9 371.3,406.3 371.9,408.1 372.4,401.6 373.0,400.9 373.6,399.8 374.2,400.1 374.7,399.0 375.3,399.1 375.9,394.4 376.5,395.6 377.0,394.7 377.6,398.2 378.2,399.2 378.8,399.4 379.3,395.2 379.9,393.4 380.5,397.2 381.1,396.3 381.7,398.7 382.2,402.7 382.8,401.5 383.4,400.8 384.0,402.9 384.5,404.2 385.1,401.7 385.7,399.2 386.3,405.3 386.8,404.1 387.4,408.1 388.0,410.5 388.6,411.9 389.1,413.7 389.7,415.6 390.3,414.8 390.9,418.8 391.4,419.6 392.0,419.6 392.6,420.5 393.2,421.2 393.7,423.1 394.3,421.4 394.9,416.2 395.5,416.1 396.0,413.5 396.6,411.3 397.2,405.7 397.8,409.6 398.3,406.5 398.9,400.3 399.5,401.7 400.1,392.1 400.6,392.5 401.2,388.5 401.8,390.1 402.4,388.2 402.9,393.4 403.5,397.4 404.1,396.4 404.7,400.2 405.2,398.7 405.8,403.1 406.4,402.0 407.0,398.9 407.5,398.1 408.1,397.9 408.7,403.7 409.3,413.1 409.8,408.9 410.4,397.2 411.0,398.9 411.6,412.5 412.1,418.1 412.7,413.8 413.3,435.4 413.9,445.3 414.4,440.3 415.0,455.1 415.6,452.3 416.2,438.6 416.7,442.4 417.3,438.7 417.9,436.7 418.5,436.8 419.0,442.6 419.6,436.5 420.2,430.3 420.8,427.7 421.3,421.7 421.9,424.4 422.5,414.8 423.1,415.7 423.6,425.4 424.2,426.2 424.8,423.1 425.4,432.3 425.9,434.9 426.5,435.4 427.1,431.6 427.7,431.1 428.2,423.0 428.8,416.6 429.4,424.5 430.0,418.1 430.5,423.4 431.1,435.0 431.7,438.1 432.3,439.8 432.8,432.4 433.4,430.1 434.0,441.7 434.6,436.1 435.1,443.9 435.7,448.8 436.3,456.6 436.9,452.7 437.4,434.3 438.0,440.0 438.6,424.3 439.2,427.9 439.7,425.8 440.3,424.1 440.9,411.4 441.5,415.5 442.0,422.4 442.6,409.1 443.2,408.7 443.8,415.3 444.3,408.0 444.9,409.3 445.5,406.4 446.1,414.8 446.6,403.6 447.2,406.9 447.8,414.5 448.4,414.9 449.0,416.6 449.5,408.1 450.1,401.3 450.7,406.1 451.3,400.8 451.8,404.8 452.4,404.9 453.0,404.7 453.6,411.5 454.1,417.8 454.7,426.0 455.3,427.2 455.9,415.6 456.4,427.2 457.0,433.0 457.6,431.3 458.2,422.8 458.7,418.9 459.3,417.4 459.9,417.3 460.5,415.8 461.0,409.3 461.6,411.3 462.2,407.1 462.8,411.6 463.3,412.9 463.9,415.8 464.5,416.4 465.1,422.8 465.6,423.7 466.2,420.5 466.8,427.3 467.4,413.0 467.9,413.4 468.5,422.8 469.1,410.6 469.7,416.2 470.2,412.1 470.8,418.3 471.4,413.6 472.0,409.5 472.5,406.9 473.1,407.1 473.7,398.9 474.3,401.6 474.8,407.9 475.4,408.0 476.0,404.1 476.6,404.5 477.1,407.2 477.7,404.6 478.3,403.3 478.9,395.1 479.4,392.5 480.0,394.9 480.6,395.3 481.2,394.8 481.7,393.6 482.3,387.5 482.9,386.3 483.5,390.4 484.0,389.2 484.6,395.0 485.2,392.2 485.8,384.3 486.3,386.7 486.9,387.3 487.5,389.5 488.1,383.0 488.6,379.3 489.2,386.6 489.8,377.0 490.4,380.6 490.9,376.0 491.5,373.2 492.1,375.6 492.7,372.3 493.2,372.6 493.8,376.1 494.4,373.8 495.0,376.0 495.5,374.7 496.1,371.1 496.7,371.9 497.3,370.7 497.8,371.5 498.4,373.3 499.0,371.0 499.6,366.4 500.1,370.8 500.7,366.5 501.3,363.2 501.9,365.5 502.4,367.7 503.0,364.7 503.6,363.0 504.2,358.7 504.7,358.7 505.3,356.2 505.9,353.2 506.5,356.1 507.0,350.1 507.6,354.7 508.2,355.9 508.8,361.0 509.3,361.3 509.9,362.2 510.5,367.2 511.1,364.9 511.6,359.4 512.2,368.4 512.8,373.1 513.4,365.6 513.9,365.6 514.5,367.1 515.1,360.0 515.7,359.6 516.3,363.4 516.8,359.1 517.4,364.5 518.0,364.2 518.6,365.1 519.1,360.6 519.7,352.7 520.3,354.0 520.9,347.1 521.4,348.7 522.0,352.7 522.6,359.2 523.2,365.0 523.7,365.0 524.3,368.0 524.9,368.4 525.5,374.0 526.0,376.9 526.6,387.2 527.2,382.4 527.8,376.5 528.3,377.5 528.9,379.3 529.5,376.2 530.1,372.1 530.6,377.9 531.2,376.4 531.8,379.8 532.4,385.9 532.9,384.6 533.5,380.1 534.1,374.7 534.7,374.2 535.2,371.0 535.8,377.1 536.4,376.7 537.0,379.7 537.5,379.6 538.1,374.7 538.7,368.8 539.3,368.6 539.8,368.5 540.4,370.3 541.0,373.1 541.6,378.8 542.1,377.0 542.7,380.2 543.3,379.2 543.9,377.5 544.4,372.9 545.0,367.9 545.6,373.5 546.2,372.4 546.7,371.6 547.3,372.6 547.9,373.0 548.5,368.2 549.0,373.2 549.6,373.8 550.2,373.6 550.8,369.4 551.3,366.9 551.9,365.0 552.5,369.3 553.1,375.7 553.6,378.9 554.2,377.2 554.8,374.4 555.4,372.1 555.9,372.0 556.5,370.1 557.1,360.8 557.7,362.5 558.2,363.7 558.8,364.2 559.4,360.2 560.0,361.8 560.5,361.9 561.1,358.5 561.7,354.1 562.3,356.6 562.8,355.3 563.4,358.3 564.0,356.9 564.6,358.4 565.1,357.4 565.7,359.4 566.3,358.0 566.9,355.4 567.4,350.7 568.0,352.5 568.6,354.9 569.2,352.5 569.7,346.5 570.3,345.8 570.9,342.9 571.5,344.2 572.0,342.3 572.6,342.0 573.2,336.2 573.8,335.6 574.3,336.3 574.9,337.8 575.5,338.2 576.1,341.5 576.6,345.1 577.2,344.9 577.8,343.3 578.4,344.3 578.9,340.1 579.5,342.0 580.1,343.2 580.7,345.7 581.2,341.9 581.8,340.2 582.4,337.0 583.0,335.4 583.5,342.4 584.1,343.4 584.7,347.0 585.3,347.2 585.9,344.8 586.4,345.8 587.0,342.4 587.6,342.2 588.2,340.7 588.7,342.2 589.3,344.6 589.9,348.0 590.5,350.6 591.0,352.8 591.6,349.7 592.2,349.4 592.8,347.6 593.3,349.7 593.9,343.6 594.5,343.7 595.1,346.3 595.6,352.4 596.2,356.4 596.8,354.7 597.4,353.5 597.9,360.9 598.5,361.1 599.1,354.3 599.7,349.1 600.2,347.7 600.8,345.8 601.4,347.0 602.0,344.4 602.5,341.0 603.1,339.0 603.7,336.7 604.3,337.3 604.8,336.5 605.4,340.2 606.0,340.8 606.6,337.0 607.1,345.5 607.7,337.7 608.3,340.0 608.9,336.2 609.4,335.4 610.0,336.6 610.6,334.6 611.2,328.0 611.7,331.0 612.3,331.9 612.9,336.2 613.5,337.9 614.0,342.7 614.6,343.0 615.2,342.1 615.8,345.5 616.3,342.6 616.9,337.0 617.5,335.0 618.1,335.1 618.6,326.5 619.2,328.1 619.8,325.1 620.4,325.9 620.9,322.9 621.5,324.9 622.1,325.0 622.7,319.8 623.2,315.0 623.8,315.2 624.4,316.3 625.0,315.3 625.5,309.9 626.1,309.3 626.7,310.9 627.3,312.3 627.8,308.0 628.4,311.8 629.0,313.8 629.6,313.7 630.1,316.5 630.7,313.3 631.3,312.5 631.9,310.1 632.4,311.9 633.0,311.8 633.6,309.5 634.2,307.5 634.7,306.2 635.3,310.2 635.9,310.1 636.5,311.9 637.0,312.5 637.6,317.3 638.2,317.1 638.8,322.7 639.3,317.1 639.9,316.4 640.5,313.1 641.1,308.3 641.6,302.9 642.2,300.1 642.8,295.5 643.4,295.0 643.9,292.0 644.5,293.8 645.1,290.5 645.7,294.0 646.2,297.7 646.8,299.3 647.4,296.9 648.0,294.7 648.5,292.7 649.1,292.5 649.7,287.9 650.3,289.5 650.8,290.5 651.4,290.4 652.0,291.0 652.6,293.1 653.2,293.8 653.7,295.4 654.3,292.2 654.9,288.4 655.5,290.4 656.0,286.9 656.6,287.2 657.2,285.1 657.8,284.1 658.3,288.9 658.9,290.4 659.5,289.8 660.1,289.4 660.6,282.5 661.2,283.1 661.8,276.8 662.4,277.3 662.9,276.4 663.5,274.8 664.1,275.7 664.7,277.4 665.2,273.5 665.8,272.9 666.4,267.0 667.0,264.2 667.5,256.4 668.1,252.3 668.7,252.1 669.3,249.9 669.8,250.3 670.4,245.8 671.0,250.0 671.6,250.2 672.1,248.1 672.7,245.0 673.3,250.3 673.9,251.3 674.4,252.9 675.0,253.2 675.6,250.6 676.2,251.0 676.7,254.2 677.3,258.6 677.9,265.7 678.5,270.5 679.0,259.6 679.6,260.0 680.2,253.8 680.8,259.2 681.3,263.2 681.9,262.6 682.5,258.7 683.1,260.2 683.6,254.2 684.2,255.5 684.8,263.5 685.4,272.0 685.9,274.6 686.5,271.6 687.1,265.9 687.7,263.6 688.2,260.2 688.8,256.8 689.4,258.8 690.0,249.7 690.5,248.7 691.1,246.3 691.7,241.1 692.3,235.6 692.8,234.9 693.4,232.3 694.0,229.6 694.6,228.9 695.1,228.4 695.7,230.5 696.3,229.6 696.9,232.1 697.4,232.5 698.0,230.2 698.6,234.3 699.2,233.8 699.7,232.8 700.3,237.6 700.9,226.6 701.5,222.9 702.0,226.2 702.6,221.2 703.2,220.9 703.8,224.6 704.3,225.0 704.9,225.1 705.5,232.5 706.1,233.4 706.6,237.5 707.2,241.3 707.8,246.1 708.4,245.6 708.9,241.6 709.5,237.4 710.1,245.1 710.7,246.2 711.2,250.0 711.8,248.0 712.4,252.2 713.0,248.9 713.5,246.3 714.1,240.5 714.7,235.5 715.3,233.5 715.8,232.4 716.4,230.2 717.0,227.4 717.6,226.1 718.1,225.0 718.7,217.2 719.3,215.1 719.9,215.2 720.4,212.7 721.0,218.1 721.6,222.5 722.2,224.1 722.8,220.4 723.3,219.8 723.9,214.6 724.5,224.8 725.1,223.2 725.6,222.5 726.2,223.0 726.8,228.6 727.4,231.0 727.9,233.6 728.5,231.6 729.1,229.4 729.7,222.0 730.2,217.5 730.8,215.6 731.4,219.9 732.0,215.8 732.5,208.5 733.1,206.1 733.7,203.5 734.3,198.1 734.8,200.1 735.4,201.0 736.0,202.2 736.6,196.4 737.1,194.6 737.7,194.7 738.3,195.2 738.9,197.0 739.4,202.1 740.0,204.2 740.6,206.2 741.2,199.9 741.7,193.3 742.3,190.1 742.9,184.6 743.5,187.1 744.0,186.0 744.6,187.9 745.2,181.8 745.8,182.8 746.3,181.5 746.9,183.3 747.5,174.6 748.1,178.5 748.6,174.9 749.2,185.5 749.8,188.0 750.4,190.3 750.9,188.4 751.5,184.1 752.1,191.7 752.7,193.4 753.2,188.6 753.8,187.7 754.4,186.6 755.0,190.9 755.5,184.2 756.1,178.0 756.7,178.5 757.3,177.3 757.8,175.4 758.4,174.5 759.0,167.2 759.6,166.0 760.1,167.2 760.7,167.2 761.3,167.6 761.9,171.2 762.4,167.2 763.0,174.2 763.6,174.4 764.2,172.8 764.7,176.3 765.3,171.0 765.9,172.2 766.5,175.8 767.0,180.6 767.6,184.9 768.2,182.3 768.8,183.3 769.3,185.0 769.9,185.7 770.5,182.1 771.1,186.6 771.6,193.8 772.2,195.5 772.8,201.9 773.4,208.1 773.9,208.3 774.5,213.8 775.1,215.8 775.7,207.9 776.2,202.2 776.8,197.7 777.4,194.5 778.0,193.3 778.5,196.5 779.1,187.5 779.7,190.3 780.3,185.4 780.8,182.5 781.4,185.1 782.0,184.4 782.6,181.1 783.1,181.3 783.7,180.7 784.3,179.1 784.9,176.9 785.4,169.8 786.0,165.3 786.6,163.3 787.2,162.5 787.7,163.9 788.3,161.3 788.9,169.3 789.5,165.7 790.1,167.2 790.6,167.9 791.2,170.9 791.8,167.4 792.4,168.7 792.9,174.8 793.5,178.9 794.1,182.6 794.7,185.4 795.2,194.8 795.8,192.6 796.4,184.7 797.0,183.0 797.5,184.4 798.1,176.0 798.7,182.0 799.3,186.9 799.8,189.7 800.4,191.2 801.0,198.0 801.6,210.8 802.1,204.5 802.7,200.9 803.3,200.6 803.9,200.6 804.4,194.9 805.0,189.2 805.6,188.7 806.2,187.7 806.7,191.4 807.3,195.3 807.9,196.0 808.5,195.7 809.0,195.3 809.6,192.9 810.2,197.4 810.8,190.2 811.3,192.9 811.9,195.1 812.5,199.1 813.1,201.1 813.6,198.3 814.2,194.8 814.8,198.4 815.4,199.2 815.9,199.2 816.5,198.5 817.1,195.3 817.7,189.4 818.2,184.4 818.8,182.2 819.4,179.9 820.0,180.5 820.5,181.5 821.1,180.8 821.7,181.5 822.3,172.7 822.8,173.7 823.4,173.0 824.0,168.5 824.6,166.1 825.1,172.2 825.7,172.5 826.3,175.5 826.9,173.4 827.4,172.0 828.0,173.4 828.6,175.0 829.2,172.6 829.7,169.7 830.3,171.9 830.9,168.2 831.5,166.6 832.0,165.6 832.6,163.2 833.2,158.6 833.8,160.4 834.3,157.3 834.9,161.0 835.5,163.1 836.1,155.6 836.6,157.2 837.2,160.5 837.8,161.5 838.4,160.3 838.9,162.2 839.5,167.0 840.1,163.4 840.7,160.5 841.2,159.5 841.8,163.3 842.4,161.6 843.0,159.6 843.5,166.1 844.1,164.9 844.7,170.8 845.3,173.2 845.8,178.8 846.4,174.4 847.0,176.5 847.6,180.0 848.1,175.9 848.7,175.0 849.3,176.1 849.9,174.8 850.4,169.6 851.0,161.9 851.6,159.5 852.2,155.8 852.7,156.8 853.3,154.5 853.9,150.5 854.5,149.1 855.0,152.3 855.6,151.2 856.2,145.7 856.8,149.7 857.4,147.3 857.9,155.5 858.5,148.9 859.1,150.8 859.7,142.5 860.2,147.4 860.8,154.0 861.4,156.9 862.0,154.2 862.5,158.1 863.1,155.8 863.7,156.8 864.3,151.7 864.8,151.3 865.4,152.4 866.0,163.0 866.6,161.2 867.1,166.0 867.7,167.0 868.3,158.8 868.9,160.2 869.4,159.5 870.0,163.1 870.6,169.2 871.2,166.5 871.7,168.7 872.3,177.4 872.9,179.1 873.5,177.3 874.0,181.4 874.6,195.8 875.2,192.8 875.8,196.1 876.3,190.4 876.9,180.6 877.5,180.8 878.1,179.9 878.6,185.7 879.2,174.5 879.8,167.2 880.4,171.1 880.9,171.8 881.5,161.5 882.1,159.9 882.7,152.1 883.2,153.9 883.8,158.3 884.4,159.3 885.0,159.5 885.5,155.9 886.1,153.0 886.7,150.4 887.3,151.7 887.8,145.9 888.4,152.4 889.0,150.3 889.6,147.0 890.1,145.1 890.7,142.5 891.3,139.8 891.9,137.2 892.4,128.2 893.0,122.8 893.6,120.4 894.2,122.4 894.7,123.6 895.3,130.9 895.9,129.4 896.5,130.1 897.0,135.4 897.6,138.7 898.2,141.0 898.8,136.1 899.3,143.1 899.9,148.5 900.5,149.0 901.1,140.8 901.6,139.5 902.2,131.6 902.8,129.9 903.4,120.2 903.9,122.0 904.5,124.0 905.1,118.8 905.7,114.3 906.2,118.5 906.8,121.3 907.4,121.7 908.0,129.9 908.5,126.3 909.1,128.3 909.7,120.4 910.3,120.6 910.8,130.2 911.4,143.5 912.0,141.3 912.6,148.6 913.1,147.4 913.7,142.9 914.3,141.4 914.9,134.1 915.4,134.0 916.0,133.3 916.6,134.9 917.2,128.6 917.7,125.1 918.3,122.2 918.9,116.4 919.5,116.6 920.0,111.6 920.6,110.4 921.2,113.0 921.8,101.2 922.3,106.3 922.9,103.0 923.5,96.9 924.1,95.6 924.6,90.5 925.2,87.8 925.8,88.6 926.4,83.7 927.0,85.8 927.5,87.8 928.1,90.0 928.7,86.5 929.3,86.7 929.8,83.2 930.4,80.3 931.0,80.3 931.6,81.0 932.1,92.9 932.7,97.0 933.3,98.5 933.9,95.5 934.4,98.7 935.0,89.4 935.6,92.7 936.2,88.0 936.7,89.1 937.3,81.1 937.9,86.1 938.5,83.3 939.0,89.6 939.6,93.0 940.2,101.1 940.8,103.1 941.3,95.5 941.9,92.8 942.5,89.4 943.1,84.1 943.6,83.1 944.2,77.4 944.8,80.0 945.4,87.2 945.9,83.9 946.5,83.9 947.1,79.6 947.7,89.7 948.2,93.3 948.8,92.0 949.4,85.8 950.0,79.4 950.5,76.6 951.1,73.8 951.7,76.7 952.3,82.1 952.8,84.3 953.4,86.8 954.0,91.4 954.6,89.6 955.1,88.1 955.7,86.0 956.3,81.3 956.9,79.4 957.4,77.2 958.0,79.4 958.6,82.8 959.2,86.4 959.7,81.4 960.3,81.5 960.9,82.5 961.5,73.9 962.0,75.1 962.6,84.2 963.2,78.5 963.8,74.0 964.3,75.8 964.9,79.6 965.5,84.5 966.1,78.2 966.6,80.2 967.2,75.7 967.8,80.1 968.4,77.3 968.9,82.0 969.5,85.2 970.1,91.4 970.7,89.0 971.2,80.5 971.8,81.6 972.4,84.2 973.0,79.2 973.5,73.6 974.1,71.0 974.7,74.5 975.3,74.6 975.8,72.4 976.4,69.8 977.0,72.4 977.6,82.1 978.1,83.1 978.7,82.9 979.3,77.5 979.9,74.8 980.4,81.0 981.0,79.9 981.6,83.6 982.2,83.2 982.7,78.1 983.3,67.2 983.9,61.3 984.5,61.9 985.0,56.4 985.6,62.0 986.2,64.7 986.8,61.6 987.3,65.6 987.9,65.6 988.5,62.1 989.1,70.5 989.6,56.5 990.2,48.2 990.8,49.2 991.4,45.0 991.9,47.6 992.5,49.7 993.1,55.8 993.7,61.9 994.3,67.4 994.8,71.1 995.4,65.8 996.0,60.5 996.6,68.5 997.1,57.3 997.7,72.9 998.3,66.7 998.9,80.5 999.4,101.9 1000.0,130.2 1000.6,115.2 1001.2,105.4 1001.7,91.9 1002.3,105.6 1002.9,109.3 1003.5,101.6 1004.0,98.4 1004.6,84.5 1005.2,93.1 1005.8,101.7 1006.3,91.7 1006.9,87.5 1007.5,88.5 1008.1,79.1 1008.6,84.9 1009.2,77.5 1009.8,85.4 1010.4,86.2 1010.9,80.7 1011.5,96.8 1012.1,99.7 1012.7,105.4 1013.2,120.8 1013.8,114.0 1014.4,112.2 1015.0,102.9 1015.5,96.1 1016.1,79.0 1016.7,76.9 1017.3,68.7 1017.8,74.1 1018.4,67.9 1019.0,74.8 1019.6,72.4 1020.1,79.9 1020.7,71.7 1021.3,73.5 1021.9,62.8 1022.4,61.9 1023.0,62.6 1023.6,45.9 1024.2,48.1 1024.7,46.8 1025.3,47.0 1025.9,52.3 1026.5,42.5 1027.0,37.4 1027.6,34.6 1028.2,40.2 1028.8,47.2 1029.3,40.8 1029.9,41.2 1030.5,45.2 1031.1,57.2 1031.6,61.2 1032.2,64.7 1032.8,55.4 1033.4,44.7 1033.9,45.6 1034.5,50.2 1035.1,45.9 1035.7,44.0 1036.2,41.0 1036.8,41.1 1037.4,34.4 1038.0,40.0 1038.5,43.5 1039.1,52.0 1039.7,47.8 1040.3,40.7 1040.8,40.2 1041.4,48.8 1042.0,51.2 1042.6,66.3 1043.1,50.0 1043.7,53.5 1044.3,51.3 1044.9,57.6 1045.4,67.3 1046.0,75.2 1046.6,72.8 1047.2,59.1 1047.7,57.4 1048.3,65.0 1048.9,52.6 1049.5,61.1 1050.0,57.5 1050.6,64.1 1051.2,69.3 1051.8,67.6 1052.3,84.5 1052.9,86.4 1053.5,93.2 1054.1,98.9 1054.6,96.7 1055.2,99.8 1055.8,112.1 1056.4,120.1 1056.9,132.3 1057.5,128.8 1058.1,130.0 1058.7,126.5 1059.2,125.7 1059.8,117.9 1060.4,116.4 1061.0,106.3 1061.6,113.0 1062.1,106.2 1062.7,108.8 1063.3,96.9 1063.9,105.6 1064.4,109.4 1065.0,121.4 1065.6,117.7 1066.2,125.2 1066.7,138.4 1067.3,145.2 1067.9,142.6 1068.5,138.2 1069.0,137.1 1069.6,134.8 1070.2,123.2 1070.8,114.0 1071.3,111.1 1071.9,102.9 1072.5,106.6 1073.1,98.1 1073.6,93.7 1074.2,97.2 1074.8,86.5 1075.4,84.7 1075.9,93.3 1076.5,88.5 1077.1,87.0 1077.7,82.6 1078.2,74.2 1078.8,68.7 1079.4,76.0 1080.0,73.2 1080.5,62.6 1081.1,72.4 1081.7,68.8 1082.3,78.2 1082.8,79.6 1083.4,80.8 1084.0,76.7 1084.6,64.9 1085.1,60.2 1085.7,62.7 1086.3,64.9 1086.9,64.3 1087.4,60.4 1088.0,54.7 1088.6,59.5 1089.2,66.9 1089.7,68.2 1090.3,70.9 1090.9,68.2 1091.5,62.6 1092.0,58.8 1092.6,62.4 1093.2,51.3 1093.8,55.1 1094.3,54.7 1094.9,52.2 1095.5,54.5 1096.1,52.2 1096.6,56.5 1097.2,56.2 1097.8,62.0 1098.4,53.4 1098.9,55.2 1099.5,51.6 1100.1,52.8 1100.7,46.6 1101.2,55.0 1101.8,46.6 1102.4,45.7 1103.0,57.5 1103.5,58.4 1104.1,64.3 1104.7,71.0 1105.3,71.7 1105.8,73.6 1106.4,75.5 1107.0,74.7 1107.6,75.6 1108.1,70.5 1108.7,65.8 1109.3,57.4 1109.9,60.1 1110.4,62.2 1111.0,54.9 1111.6,56.0 1112.2,58.1 1112.7,58.3 1113.3,59.4 1113.9,58.9 1114.5,64.1 1115.0,61.0 1115.6,63.8 1116.2,67.3 1116.8,65.0 1117.3,63.5 1117.9,63.2 1118.5,71.1 1119.1,67.1 1119.6,56.3 1120.2,65.1 1120.8,79.8 1121.4,87.8 1121.9,95.2 1122.5,80.7 1123.1,74.7 1123.7,65.7 1124.2,54.0 1124.8,52.8 1125.4,46.2 1126.0,41.8 1126.5,36.7 1127.1,47.6 1127.7,47.5 1128.3,40.2 1128.8,37.2 1129.4,39.9 1130.0,34.3 1130.6,34.6 1131.2,37.8 1131.7,39.5 1132.3,36.1 1132.9,41.4 1133.5,40.6 1134.0,37.8 1134.6,33.3 1135.2,37.8 1135.8,37.1 1136.3,42.8 1136.9,45.9 1137.5,38.4 1138.1,38.1 1138.6,34.0 1139.2,28.4 1139.8,27.5 1140.4,32.6 1140.9,29.3 1141.5,35.7 1142.1,36.7 1142.7,41.9 1143.2,39.1 1143.8,43.1 1144.4,44.1 1145.0,34.2 1145.5,35.9 1146.1,43.6 1146.7,43.4 1147.3,44.9 1147.8,44.5 1148.4,39.1 1149.0,36.6 1149.6,37.8 1150.1,47.2 1150.7,56.6 1151.3,61.0 1151.9,62.7 1152.4,66.6 1153.0,62.1 1153.6,65.3 1154.2,59.0 1154.7,64.3 1155.3,64.2 1155.9,58.2 1156.5,56.4 1157.0,55.6 1157.6,56.4 1158.2,54.6 1158.8,53.8 1159.3,55.8 1159.9,49.1 1160.5,54.8 1161.1,45.3 1161.6,45.5 1162.2,49.0 1162.8,53.3 1163.4,54.1 1163.9,53.9 1164.5,59.1 1165.1,65.7 1165.7,62.7 1166.2,67.0 1166.8,62.3 1167.4,55.0 1168.0,56.2 1168.5,53.4 1169.1,51.8 1169.7,64.5 1170.3,69.9 1170.8,72.3 1171.4,68.9 1172.0,81.7 1172.6,76.3 1173.1,77.9 1173.7,72.1 1174.3,67.8 1174.9,62.1 1175.4,57.6 1176.0,60.8 1176.6,60.1 1177.2,56.2 1177.7,52.7 1178.3,42.1 1178.9,40.5 1179.5,36.2 1180.0,31.2 1180.6,32.1 1181.2,24.4 1181.8,34.1 1182.3,38.5 1182.9,40.8 1183.5,37.2 1184.1,38.4 1184.6,31.7 1185.2,28.4 1185.8,21.6 1186.4,18.1 1186.9,12.5 1187.5,11.2 1188.1,11.4 1188.7,14.1 1189.2,11.7 1189.8,23.5 1190.4,19.6 1191.0,22.4 1191.5,19.5 1192.1,23.6 1192.7,27.1 1193.3,21.7 1193.8,27.8 1194.4,33.3 1195.0,34.5 1195.6,36.7 1196.1,40.6 1196.7,28.3 1197.3,28.9" stroke="#D95319" stroke-width="2.5" stroke-linejoin="round" fill="none"/>
<path d="M39.4,556.0 40.0,560.2 40.6,555.3 41.1,558.0 41.7,568.5 42.3,568.5 42.9,569.0 43.4,572.8 44.0,573.2 44.6,578.1 45.2,574.2 45.7,572.4 46.3,574.0 46.9,572.1 47.5,573.6 48.0,570.1 48.6,568.7 49.2,569.2 49.8,571.5 50.3,574.0 50.9,580.1 51.5,582.3 52.1,578.8 52.6,578.0 53.2,578.9 53.8,575.6 54.4,578.4 54.9,583.1 55.5,581.8 56.1,583.6 56.7,585.3 57.2,592.4 57.8,595.6 58.4,593.9 59.0,598.0 59.5,597.1 60.1,597.0 60.7,599.9 61.3,602.2 61.8,605.8 62.4,604.8 63.0,605.7 63.6,606.6 64.1,608.5 64.7,607.6 65.3,604.1 65.9,598.3 66.4,599.9 67.0,599.0 67.6,594.4 68.2,595.4 68.7,590.0 69.3,591.1 69.9,589.8 70.5,589.2 71.0,589.7 71.6,585.9 72.2,586.2 72.8,581.6 73.3,582.1 73.9,582.6 74.5,580.7 75.1,579.8 75.6,577.9 76.2,578.8 76.8,577.6 77.4,574.3 77.9,573.2 78.5,573.1 79.1,573.6 79.7,570.6 80.2,574.0 80.8,568.9 81.4,565.0 82.0,568.1 82.5,565.8 83.1,565.4 83.7,567.5 84.3,565.3 84.8,567.6 85.4,565.7 86.0,564.2 86.6,560.1 87.1,559.5 87.7,557.7 88.3,557.7 88.9,564.1 89.4,561.4 90.0,562.3 90.6,561.7 91.2,558.9 91.7,557.1 92.3,554.9 92.9,554.0 93.5,553.6 94.0,553.2 94.6,555.0 95.2,556.8 95.8,561.5 96.3,558.8 96.9,562.2 97.5,562.1 98.1,558.4 98.6,556.7 99.2,559.1 99.8,556.4 100.4,553.9 100.9,554.3 101.5,554.2 102.1,556.1 102.7,557.1 103.2,556.5 103.8,548.7 104.4,552.0 105.0,550.2 105.5,550.6 106.1,555.3 106.7,555.6 107.3,555.7 107.9,554.7 108.4,553.6 109.0,556.4 109.6,552.7 110.2,549.8 110.7,554.3 111.3,552.6 111.9,549.9 112.5,549.6 113.0,547.8 113.6,550.5 114.2,548.3 114.8,547.2 115.3,548.1 115.9,547.5 116.5,551.5 117.1,546.9 117.6,543.3 118.2,543.2 118.8,545.4 119.4,543.6 119.9,541.8 120.5,540.2 121.1,540.7 121.7,543.8 122.2,543.2 122.8,537.9 123.4,538.6 124.0,539.5 124.5,535.6 125.1,534.7 125.7,534.5 126.3,533.7 126.8,535.8 127.4,535.3 128.0,537.8 128.6,538.3 129.1,539.7 129.7,538.5 130.3,538.4 130.9,538.4 131.4,540.9 132.0,535.9 132.6,536.4 133.2,535.9 133.7,531.9 134.3,532.4 134.9,530.6 135.5,533.1 136.0,532.0 136.6,526.8 137.2,525.9 137.8,522.6 138.3,522.2 138.9,525.0 139.5,524.0 140.1,520.4 140.6,520.0 141.2,518.5 141.8,518.5 142.4,518.8 142.9,519.8 143.5,525.1 144.1,524.0 144.7,522.9 145.2,523.7 145.8,521.9 146.4,522.6 147.0,524.8 147.5,526.3 148.1,524.7 148.7,524.5 149.3,519.3 149.8,519.7 150.4,523.4 151.0,521.8 151.6,521.6 152.1,521.9 152.7,520.7 153.3,517.2 153.9,515.4 154.4,517.3 155.0,523.2 155.6,523.2 156.2,521.0 156.7,522.9 157.3,524.3 157.9,524.3 158.5,521.7 159.0,524.9 159.6,526.6 160.2,524.4 160.8,520.1 161.3,521.9 161.9,521.8 162.5,522.1 163.1,523.0 163.6,522.5 164.2,516.9 164.8,520.1 165.4,518.3 165.9,517.5 166.5,517.5 167.1,519.5 167.7,515.5 168.2,517.4 168.8,516.5 169.4,514.3 170.0,516.5 170.5,515.6 171.1,516.0 171.7,519.0 172.3,518.9 172.8,517.9 173.4,517.1 174.0,518.7 174.6,517.6 175.1,515.6 175.7,515.5 176.3,515.1 176.9,514.1 177.5,519.0 178.0,513.9 178.6,514.4 179.2,514.7 179.8,512.6 180.3,511.2 180.9,513.7 181.5,511.8 182.1,513.8 182.6,511.8 183.2,513.2 183.8,509.7 184.4,509.8 184.9,510.1 185.5,512.9 186.1,508.7 186.7,509.5 187.2,509.0 187.8,511.7 188.4,510.2 189.0,510.4 189.5,508.6 190.1,508.8 190.7,510.7 191.3,511.2 191.8,516.2 192.4,518.7 193.0,522.6 193.6,522.1 194.1,524.3 194.7,524.0 195.3,528.5 195.9,528.3 196.4,526.9 197.0,527.0 197.6,526.5 198.2,522.6 198.7,523.3 199.3,525.6 199.9,523.2 200.5,520.9 201.0,520.3 201.6,519.4 202.2,519.4 202.8,517.5 203.3,514.2 203.9,516.9 204.5,517.6 205.1,517.2 205.6,518.9 206.2,516.9 206.8,517.4 207.4,512.6 207.9,511.9 208.5,509.6 209.1,508.8 209.7,511.0 210.2,509.4 210.8,507.1 211.4,506.3 212.0,503.3 212.5,505.0 213.1,502.2 213.7,501.8 214.3,503.6 214.8,503.0 215.4,505.0 216.0,506.8 216.6,507.5 217.1,505.2 217.7,506.3 218.3,503.1 218.9,501.9 219.4,497.4 220.0,495.8 220.6,495.8 221.2,496.6 221.7,495.9 222.3,495.4 222.9,498.7 223.5,500.4 224.0,498.3 224.6,496.5 225.2,498.3 225.8,497.8 226.3,494.1 226.9,492.7 227.5,496.1 228.1,495.7 228.6,493.8 229.2,494.9 229.8,492.1 230.4,497.9 230.9,499.1 231.5,498.6 232.1,499.9 232.7,507.2 233.2,505.2 233.8,509.5 234.4,508.6 235.0,515.6 235.5,517.7 236.1,515.2 236.7,517.8 237.3,514.0 237.8,519.6 238.4,516.6 239.0,518.7 239.6,522.9 240.1,522.2 240.7,520.0 241.3,519.8 241.9,518.8 242.4,515.9 243.0,522.0 243.6,520.1 244.2,520.6 244.8,521.4 245.3,522.5 245.9,523.2 246.5,521.5 247.1,517.0 247.6,515.4 248.2,519.9 248.8,517.6 249.4,520.8 249.9,519.7 250.5,525.8 251.1,518.9 251.7,524.5 252.2,525.5 252.8,524.2 253.4,525.9 254.0,530.0 254.5,534.1 255.1,528.2 255.7,527.9 256.3,524.9 256.8,528.2 257.4,524.3 258.0,524.9 258.6,526.1 259.1,526.3 259.7,520.1 260.3,523.6 260.9,522.1 261.4,517.5 262.0,518.9 262.6,519.0 263.2,514.1 263.7,515.1 264.3,516.8 264.9,518.3 265.5,517.6 266.0,518.3 266.6,515.6 267.2,515.3 267.8,516.3 268.3,512.3 268.9,514.5 269.5,518.3 270.1,519.8 270.6,520.3 271.2,519.2 271.8,521.1 272.4,524.0 272.9,526.0 273.5,527.2 274.1,529.0 274.7,525.6 275.2,523.1 275.8,528.6 276.4,529.8 277.0,531.9 277.5,528.9 278.1,526.3 278.7,525.5 279.3,525.3 279.8,524.2 280.4,521.6 281.0,521.9 281.6,525.0 282.1,524.5 282.7,523.0 283.3,520.3 283.9,519.1 284.4,519.4 285.0,517.9 285.6,518.2 286.2,514.5 286.7,512.7 287.3,513.5 287.9,515.3 288.5,515.2 289.0,516.1 289.6,515.5 290.2,511.6 290.8,511.3 291.3,511.7 291.9,511.3 292.5,506.2 293.1,510.2 293.6,509.0 294.2,508.8 294.8,505.8 295.4,507.5 295.9,508.2 296.5,503.6 297.1,502.9 297.7,506.1 298.2,502.8 298.8,501.3 299.4,501.9 300.0,498.3 300.5,501.2 301.1,500.8 301.7,499.5 302.3,499.4 302.8,500.1 303.4,500.1 304.0,497.5 304.6,499.3 305.1,499.1 305.7,497.5 306.3,491.8 306.9,494.5 307.4,497.4 308.0,498.5 308.6,497.8 309.2,500.2 309.7,502.1 310.3,499.7 310.9,498.4 311.5,500.5 312.1,498.3 312.6,495.6 313.2,494.2 313.8,493.1 314.4,492.2 314.9,495.2 315.5,494.4 316.1,491.6 316.7,492.0 317.2,492.5 317.8,491.7 318.4,491.3 319.0,487.8 319.5,488.9 320.1,492.2 320.7,487.3 321.3,488.3 321.8,488.5 322.4,487.0 323.0,487.2 323.6,487.7 324.1,486.7 324.7,491.3 325.3,486.4 325.9,484.5 326.4,485.4 327.0,487.0 327.6,488.2 328.2,485.7 328.7,487.3 329.3,484.5 329.9,480.3 330.5,484.9 331.0,483.4 331.6,482.7 332.2,486.3 332.8,485.9 333.3,480.9 333.9,480.0 334.5,480.9 335.1,478.2 335.6,482.1 336.2,482.1 336.8,476.7 337.4,476.2 337.9,477.1 338.5,481.1 339.1,479.3 339.7,482.8 340.2,479.6 340.8,476.9 341.4,472.5 342.0,471.2 342.5,472.2 343.1,474.4 343.7,473.8 344.3,471.6 344.8,468.6 345.4,468.7 346.0,470.7 346.6,468.5 347.1,472.4 347.7,471.3 348.3,471.7 348.9,473.3 349.4,471.1 350.0,469.6 350.6,472.8 351.2,469.4 351.7,470.5 352.3,472.9 352.9,470.5 353.5,476.4 354.0,476.4 354.6,477.4 355.2,479.0 355.8,483.3 356.3,481.0 356.9,483.8 357.5,485.9 358.1,483.2 358.6,482.6 359.2,483.2 359.8,477.6 360.4,474.5 360.9,472.8 361.5,474.0 362.1,473.7 362.7,473.8 363.2,473.5 363.8,470.7 364.4,472.6 365.0,470.2 365.5,467.9 366.1,467.8 366.7,470.1 367.3,472.5 367.8,472.7 368.4,474.2 369.0,475.3 369.6,475.5 370.1,470.3 370.7,472.7 371.3,470.7 371.9,472.5 372.4,470.8 373.0,466.7 373.6,465.0 374.2,465.3 374.7,466.8 375.3,465.4 375.9,464.6 376.5,462.8 377.0,463.8 377.6,466.6 378.2,468.8 378.8,467.9 379.3,470.4 379.9,467.2 380.5,468.2 381.1,470.0 381.7,470.3 382.2,468.3 382.8,468.7 383.4,469.4 384.0,465.7 384.5,468.5 385.1,468.0 385.7,471.3 386.3,476.3 386.8,470.7 387.4,472.4 388.0,473.7 388.6,477.0 389.1,476.1 389.7,478.3 390.3,475.6 390.9,483.1 391.4,482.4 392.0,480.7 392.6,481.2 393.2,478.1 393.7,480.7 394.3,480.8 394.9,481.7 395.5,482.9 396.0,481.0 396.6,477.7 397.2,478.2 397.8,476.7 398.3,475.2 398.9,474.2 399.5,474.9 400.1,478.0 400.6,474.8 401.2,472.4 401.8,472.2 402.4,471.8 402.9,471.7 403.5,474.4 404.1,473.3 404.7,473.9 405.2,473.1 405.8,473.5 406.4,474.2 407.0,473.3 407.5,476.0 408.1,477.5 408.7,478.2 409.3,481.7 409.8,481.5 410.4,482.4 411.0,487.8 411.6,493.0 412.1,496.3 412.7,493.0 413.3,494.3 413.9,507.3 414.4,509.4 415.0,509.1 415.6,499.1 416.2,505.7 416.7,500.2 417.3,506.4 417.9,514.4 418.5,509.0 419.0,507.2 419.6,503.6 420.2,504.6 420.8,501.5 421.3,509.0 421.9,510.2 422.5,498.7 423.1,501.9 423.6,509.9 424.2,502.8 424.8,496.2 425.4,500.3 425.9,503.9 426.5,503.0 427.1,495.9 427.7,505.4 428.2,502.7 428.8,499.5 429.4,501.9 430.0,508.1 430.5,510.4 431.1,511.9 431.7,513.3 432.3,504.1 432.8,509.3 433.4,500.6 434.0,501.5 434.6,506.3 435.1,509.6 435.7,510.0 436.3,515.8 436.9,510.1 437.4,509.2 438.0,503.6 438.6,510.5 439.2,502.1 439.7,497.6 440.3,494.3 440.9,490.4 441.5,495.1 442.0,496.4 442.6,496.9 443.2,482.0 443.8,487.4 444.3,487.3 444.9,495.7 445.5,494.1 446.1,487.5 446.6,495.7 447.2,492.1 447.8,493.4 448.4,487.3 449.0,487.4 449.5,483.1 450.1,486.8 450.7,479.5 451.3,479.9 451.8,481.3 452.4,480.8 453.0,485.5 453.6,491.1 454.1,494.3 454.7,497.9 455.3,495.1 455.9,503.9 456.4,503.6 457.0,494.0 457.6,500.0 458.2,494.0 458.7,494.6 459.3,486.9 459.9,493.3 460.5,494.0 461.0,489.4 461.6,492.7 462.2,496.9 462.8,495.1 463.3,496.5 463.9,501.9 464.5,499.5 465.1,498.7 465.6,500.8 466.2,500.7 466.8,493.6 467.4,495.2 467.9,497.2 468.5,497.8 469.1,494.2 469.7,487.4 470.2,490.0 470.8,488.7 471.4,486.9 472.0,482.2 472.5,481.9 473.1,481.3 473.7,487.2 474.3,486.9 474.8,487.8 475.4,484.0 476.0,480.2 476.6,481.0 477.1,473.6 477.7,473.9 478.3,480.6 478.9,476.3 479.4,467.5 480.0,473.2 480.6,473.2 481.2,477.4 481.7,470.2 482.3,469.0 482.9,470.2 483.5,465.6 484.0,468.3 484.6,474.8 485.2,474.1 485.8,471.4 486.3,470.3 486.9,467.0 487.5,466.9 488.1,463.2 488.6,467.4 489.2,464.1 489.8,464.7 490.4,466.4 490.9,465.7 491.5,461.6 492.1,459.7 492.7,458.2 493.2,460.9 493.8,461.3 494.4,461.3 495.0,466.3 495.5,462.8 496.1,460.0 496.7,461.8 497.3,458.3 497.8,456.9 498.4,454.5 499.0,453.5 499.6,452.4 500.1,457.6 500.7,456.1 501.3,457.4 501.9,455.4 502.4,458.1 503.0,455.6 503.6,457.4 504.2,456.6 504.7,454.8 505.3,452.9 505.9,452.3 506.5,454.2 507.0,453.6 507.6,459.1 508.2,452.7 508.8,454.3 509.3,456.3 509.9,460.8 510.5,458.0 511.1,457.4 511.6,458.8 512.2,461.2 512.8,458.0 513.4,464.1 513.9,461.2 514.5,459.9 515.1,464.5 515.7,464.6 516.3,457.6 516.8,459.3 517.4,458.5 518.0,459.5 518.6,458.1 519.1,457.7 519.7,457.3 520.3,456.1 520.9,455.3 521.4,462.9 522.0,464.9 522.6,468.5 523.2,465.2 523.7,470.2 524.3,469.8 524.9,469.3 525.5,473.8 526.0,470.7 526.6,473.8 527.2,473.6 527.8,474.2 528.3,472.9 528.9,470.2 529.5,472.6 530.1,474.0 530.6,473.9 531.2,472.8 531.8,472.2 532.4,477.5 532.9,479.6 533.5,477.3 534.1,473.3 534.7,472.9 535.2,474.5 535.8,475.0 536.4,474.0 537.0,475.0 537.5,474.1 538.1,474.6 538.7,469.9 539.3,472.0 539.8,470.8 540.4,468.5 541.0,466.1 541.6,470.3 542.1,470.5 542.7,471.2 543.3,468.3 543.9,465.6 544.4,469.0 545.0,468.7 545.6,469.1 546.2,466.7 546.7,468.8 547.3,467.5 547.9,466.7 548.5,468.8 549.0,470.9 549.6,468.2 550.2,467.5 550.8,462.5 551.3,465.6 551.9,463.5 552.5,467.8 553.1,465.7 553.6,465.3 554.2,464.1 554.8,462.2 555.4,463.8 555.9,461.2 556.5,462.9 557.1,463.5 557.7,463.5 558.2,459.4 558.8,459.7 559.4,458.4 560.0,457.3 560.5,458.9 561.1,458.8 561.7,457.0 562.3,457.8 562.8,457.3 563.4,453.7 564.0,455.7 564.6,451.3 565.1,452.2 565.7,453.4 566.3,450.9 566.9,451.3 567.4,455.9 568.0,451.1 568.6,453.2 569.2,453.1 569.7,454.0 570.3,452.0 570.9,446.4 571.5,447.7 572.0,447.4 572.6,448.5 573.2,448.0 573.8,445.7 574.3,444.3 574.9,443.8 575.5,445.9 576.1,446.3 576.6,446.7 577.2,446.7 577.8,444.6 578.4,445.3 578.9,443.2 579.5,445.9 580.1,442.7 580.7,444.1 581.2,441.0 581.8,442.6 582.4,439.9 583.0,444.4 583.5,442.0 584.1,442.8 584.7,445.0 585.3,447.5 585.9,449.4 586.4,446.3 587.0,446.2 587.6,448.2 588.2,448.6 588.7,447.3 589.3,445.8 589.9,448.1 590.5,449.7 591.0,451.9 591.6,453.2 592.2,451.9 592.8,451.9 593.3,451.4 593.9,452.7 594.5,451.0 595.1,451.2 595.6,452.5 596.2,455.1 596.8,456.2 597.4,454.9 597.9,455.8 598.5,457.4 599.1,453.9 599.7,452.2 600.2,452.6 600.8,449.6 601.4,449.9 602.0,451.5 602.5,452.1 603.1,453.0 603.7,452.4 604.3,448.2 604.8,449.4 605.4,445.9 606.0,446.6 606.6,448.6 607.1,448.7 607.7,446.7 608.3,445.3 608.9,443.5 609.4,442.7 610.0,443.4 610.6,443.6 611.2,445.2 611.7,442.0 612.3,441.7 612.9,436.9 613.5,438.8 614.0,439.2 614.6,439.9 615.2,437.5 615.8,437.3 616.3,435.0 616.9,435.7 617.5,435.0 618.1,435.0 618.6,436.1 619.2,436.1 619.8,435.7 620.4,434.5 620.9,435.8 621.5,435.9 622.1,435.4 622.7,434.5 623.2,436.6 623.8,434.8 624.4,435.7 625.0,431.0 625.5,435.8 626.1,434.4 626.7,433.1 627.3,432.4 627.8,432.1 628.4,431.4 629.0,432.4 629.6,431.1 630.1,433.2 630.7,431.5 631.3,433.0 631.9,431.0 632.4,428.4 633.0,430.0 633.6,427.6 634.2,431.3 634.7,432.3 635.3,430.4 635.9,429.6 636.5,429.0 637.0,429.9 637.6,429.2 638.2,427.6 638.8,424.5 639.3,425.0 639.9,430.2 640.5,429.7 641.1,428.6 641.6,424.7 642.2,421.3 642.8,425.4 643.4,423.5 643.9,422.7 644.5,421.9 645.1,420.4 645.7,423.2 646.2,425.4 646.8,423.9 647.4,421.8 648.0,422.4 648.5,422.3 649.1,418.2 649.7,418.5 650.3,421.0 650.8,419.3 651.4,419.6 652.0,420.7 652.6,419.2 653.2,421.0 653.7,419.6 654.3,414.8 654.9,414.3 655.5,414.6 656.0,415.8 656.6,413.8 657.2,412.8 657.8,411.7 658.3,410.6 658.9,412.8 659.5,411.0 660.1,410.2 660.6,413.9 661.2,411.8 661.8,408.3 662.4,410.3 662.9,409.2 663.5,405.7 664.1,409.0 664.7,406.2 665.2,407.8 665.8,407.8 666.4,407.3 667.0,404.6 667.5,402.2 668.1,400.6 668.7,400.7 669.3,402.6 669.8,399.8 670.4,396.3 671.0,397.2 671.6,396.9 672.1,398.6 672.7,400.4 673.3,402.9 673.9,400.3 674.4,398.9 675.0,399.6 675.6,400.0 676.2,404.5 676.7,406.9 677.3,406.1 677.9,403.1 678.5,407.7 679.0,404.8 679.6,404.6 680.2,401.5 680.8,402.1 681.3,402.6 681.9,402.4 682.5,404.2 683.1,403.1 683.6,406.7 684.2,405.7 684.8,407.7 685.4,412.9 685.9,414.5 686.5,413.7 687.1,414.4 687.7,413.3 688.2,408.3 688.8,405.4 689.4,407.1 690.0,406.0 690.5,404.8 691.1,401.9 691.7,397.8 692.3,396.6 692.8,398.3 693.4,394.8 694.0,393.9 694.6,394.8 695.1,393.8 695.7,395.8 696.3,393.3 696.9,394.1 697.4,391.0 698.0,392.2 698.6,389.4 699.2,393.8 699.7,393.5 700.3,391.5 700.9,388.7 701.5,388.3 702.0,390.6 702.6,393.9 703.2,394.2 703.8,394.2 704.3,392.3 704.9,392.7 705.5,396.4 706.1,396.7 706.6,398.8 707.2,401.4 707.8,402.6 708.4,399.8 708.9,400.4 709.5,400.0 710.1,399.0 710.7,401.6 711.2,400.6 711.8,402.7 712.4,404.5 713.0,402.0 713.5,399.4 714.1,401.5 714.7,399.4 715.3,398.6 715.8,397.5 716.4,395.7 717.0,394.5 717.6,390.5 718.1,390.5 718.7,388.0 719.3,387.2 719.9,387.1 720.4,385.3 721.0,389.0 721.6,390.2 722.2,391.1 722.8,388.7 723.3,392.9 723.9,393.1 724.5,393.1 725.1,395.1 725.6,394.0 726.2,397.1 726.8,397.4 727.4,397.8 727.9,396.4 728.5,397.4 729.1,395.3 729.7,394.6 730.2,386.0 730.8,387.3 731.4,381.6 732.0,381.1 732.5,381.1 733.1,378.0 733.7,381.4 734.3,383.2 734.8,380.0 735.4,379.2 736.0,376.8 736.6,376.9 737.1,378.6 737.7,376.4 738.3,374.6 738.9,376.6 739.4,375.1 740.0,376.3 740.6,373.8 741.2,374.6 741.7,372.0 742.3,369.3 742.9,370.8 743.5,369.0 744.0,368.2 744.6,367.5 745.2,366.8 745.8,368.2 746.3,371.0 746.9,371.1 747.5,368.3 748.1,370.5 748.6,372.0 749.2,371.6 749.8,368.0 750.4,369.0 750.9,368.0 751.5,369.5 752.1,372.0 752.7,373.9 753.2,375.7 753.8,371.3 754.4,369.2 755.0,370.4 755.5,365.0 756.1,369.1 756.7,365.4 757.3,363.6 757.8,360.4 758.4,360.0 759.0,363.4 759.6,359.7 760.1,357.5 760.7,357.3 761.3,358.4 761.9,357.7 762.4,357.3 763.0,358.4 763.6,358.8 764.2,359.8 764.7,360.7 765.3,357.6 765.9,362.1 766.5,362.2 767.0,363.1 767.6,357.7 768.2,358.3 768.8,361.8 769.3,366.9 769.9,366.4 770.5,365.7 771.1,366.8 771.6,373.8 772.2,374.5 772.8,375.1 773.4,377.4 773.9,377.1 774.5,380.5 775.1,382.6 775.7,375.1 776.2,375.1 776.8,372.7 777.4,368.2 778.0,367.9 778.5,364.4 779.1,365.6 779.7,365.0 780.3,364.4 780.8,362.4 781.4,361.8 782.0,362.7 782.6,362.6 783.1,360.8 783.7,360.8 784.3,360.2 784.9,359.7 785.4,356.7 786.0,360.0 786.6,356.6 787.2,355.5 787.7,357.5 788.3,355.6 788.9,356.0 789.5,353.8 790.1,354.9 790.6,358.4 791.2,357.9 791.8,357.8 792.4,361.3 792.9,359.2 793.5,359.0 794.1,356.2 794.7,357.7 795.2,355.8 795.8,353.8 796.4,352.8 797.0,353.0 797.5,358.1 798.1,353.3 798.7,354.8 799.3,356.5 799.8,351.3 800.4,352.9 801.0,352.7 801.6,354.1 802.1,350.2 802.7,350.3 803.3,353.9 803.9,352.4 804.4,354.5 805.0,353.9 805.6,355.0 806.2,355.9 806.7,353.3 807.3,354.6 807.9,351.1 808.5,351.8 809.0,350.9 809.6,347.3 810.2,347.7 810.8,346.9 811.3,348.7 811.9,348.9 812.5,347.7 813.1,341.7 813.6,342.7 814.2,343.4 814.8,346.0 815.4,344.8 815.9,342.0 816.5,346.6 817.1,343.3 817.7,344.6 818.2,342.4 818.8,341.4 819.4,342.2 820.0,340.7 820.5,340.1 821.1,341.3 821.7,340.3 822.3,337.0 822.8,336.5 823.4,335.9 824.0,337.8 824.6,337.6 825.1,338.4 825.7,340.3 826.3,336.0 826.9,335.2 827.4,332.7 828.0,339.2 828.6,336.4 829.2,331.8 829.7,332.0 830.3,333.1 830.9,335.2 831.5,336.4 832.0,332.0 832.6,332.2 833.2,332.5 833.8,336.0 834.3,336.3 834.9,334.0 835.5,334.8 836.1,334.2 836.6,332.8 837.2,333.6 837.8,331.0 838.4,329.4 838.9,329.5 839.5,329.7 840.1,332.3 840.7,331.0 841.2,332.5 841.8,332.6 842.4,333.3 843.0,330.7 843.5,332.6 844.1,333.5 844.7,334.9 845.3,335.9 845.8,338.6 846.4,342.0 847.0,341.1 847.6,343.7 848.1,346.1 848.7,341.7 849.3,338.8 849.9,339.9 850.4,337.2 851.0,334.1 851.6,333.9 852.2,332.1 852.7,335.3 853.3,330.9 853.9,333.7 854.5,328.5 855.0,329.4 855.6,329.7 856.2,325.8 856.8,328.5 857.4,329.1 857.9,325.9 858.5,328.7 859.1,326.9 859.7,320.2 860.2,330.7 860.8,330.9 861.4,332.9 862.0,333.4 862.5,330.4 863.1,331.6 863.7,326.5 864.3,326.9 864.8,329.5 865.4,329.2 866.0,325.7 866.6,327.5 867.1,329.9 867.7,330.1 868.3,331.6 868.9,338.0 869.4,332.3 870.0,337.3 870.6,336.0 871.2,342.7 871.7,344.1 872.3,346.9 872.9,347.5 873.5,344.9 874.0,347.2 874.6,350.7 875.2,355.9 875.8,354.3 876.3,354.9 876.9,350.3 877.5,343.6 878.1,340.5 878.6,336.4 879.2,334.5 879.8,331.0 880.4,328.9 880.9,328.9 881.5,328.6 882.1,319.9 882.7,320.7 883.2,317.4 883.8,317.6 884.4,316.3 885.0,314.8 885.5,316.9 886.1,316.1 886.7,313.1 887.3,318.6 887.8,317.2 888.4,313.5 889.0,310.3 889.6,313.9 890.1,318.5 890.7,311.3 891.3,315.9 891.9,314.6 892.4,312.5 893.0,317.4 893.6,315.1 894.2,311.9 894.7,310.8 895.3,312.6 895.9,315.2 896.5,317.6 897.0,318.5 897.6,315.6 898.2,318.2 898.8,321.7 899.3,325.1 899.9,329.2 900.5,324.6 901.1,328.0 901.6,323.2 902.2,315.6 902.8,309.9 903.4,316.2 903.9,312.1 904.5,313.1 905.1,311.7 905.7,310.7 906.2,309.1 906.8,311.6 907.4,317.0 908.0,318.4 908.5,319.3 909.1,322.4 909.7,326.7 910.3,325.2 910.8,326.5 911.4,324.6 912.0,317.6 912.6,315.2 913.1,314.5 913.7,314.2 914.3,317.8 914.9,313.5 915.4,314.5 916.0,318.4 916.6,318.6 917.2,321.7 917.7,320.8 918.3,318.8 918.9,313.5 919.5,318.1 920.0,314.7 920.6,310.8 921.2,306.3 921.8,310.1 922.3,305.7 922.9,310.6 923.5,311.8 924.1,307.0 924.6,304.0 925.2,301.6 925.8,304.7 926.4,303.6 927.0,302.9 927.5,302.9 928.1,301.7 928.7,301.9 929.3,302.5 929.8,304.2 930.4,308.5 931.0,310.0 931.6,310.4 932.1,310.4 932.7,316.3 933.3,310.4 933.9,308.5 934.4,312.6 935.0,310.8 935.6,313.4 936.2,314.8 936.7,308.1 937.3,306.9 937.9,307.5 938.5,303.0 939.0,307.9 939.6,305.0 940.2,306.5 940.8,311.2 941.3,309.3 941.9,310.6 942.5,312.9 943.1,310.4 943.6,306.4 944.2,306.4 944.8,303.9 945.4,309.1 945.9,308.0 946.5,306.1 947.1,303.5 947.7,304.5 948.2,306.2 948.8,303.3 949.4,308.9 950.0,301.7 950.5,303.4 951.1,310.2 951.7,307.8 952.3,307.3 952.8,307.3 953.4,308.6 954.0,310.3 954.6,310.6 955.1,306.4 955.7,305.2 956.3,304.5 956.9,301.4 957.4,303.2 958.0,308.0 958.6,307.4 959.2,306.0 959.7,302.3 960.3,302.4 960.9,299.4 961.5,299.8 962.0,298.0 962.6,295.7 963.2,296.0 963.8,300.5 964.3,303.2 964.9,301.4 965.5,300.8 966.1,302.5 966.6,304.7 967.2,302.8 967.8,303.1 968.4,301.7 968.9,306.2 969.5,309.4 970.1,309.5 970.7,308.2 971.2,307.0 971.8,306.3 972.4,305.1 973.0,305.2 973.5,299.8 974.1,302.5 974.7,307.8 975.3,310.1 975.8,312.7 976.4,310.5 977.0,312.4 977.6,309.9 978.1,313.2 978.7,313.9 979.3,315.9 979.9,317.3 980.4,319.6 981.0,321.0 981.6,318.3 982.2,312.7 982.7,309.1 983.3,306.5 983.9,300.7 984.5,297.5 985.0,304.6 985.6,307.1 986.2,308.3 986.8,305.0 987.3,303.7 987.9,305.2 988.5,308.5 989.1,307.6 989.6,306.8 990.2,306.7 990.8,309.9 991.4,306.6 991.9,301.8 992.5,307.6 993.1,303.4 993.7,304.9 994.3,314.6 994.8,309.2 995.4,306.4 996.0,307.5 996.6,309.8 997.1,308.8 997.7,312.3 998.3,323.1 998.9,325.9 999.4,328.4 1000.0,341.6 1000.6,346.0 1001.2,345.2 1001.7,333.4 1002.3,336.8 1002.9,325.6 1003.5,328.2 1004.0,328.4 1004.6,330.4 1005.2,333.8 1005.8,341.3 1006.3,339.2 1006.9,328.6 1007.5,327.0 1008.1,327.1 1008.6,327.4 1009.2,329.3 1009.8,337.1 1010.4,341.0 1010.9,339.9 1011.5,352.8 1012.1,352.4 1012.7,350.2 1013.2,346.9 1013.8,344.8 1014.4,343.3 1015.0,336.8 1015.5,328.8 1016.1,336.2 1016.7,330.2 1017.3,330.7 1017.8,330.0 1018.4,331.5 1019.0,329.4 1019.6,324.5 1020.1,320.3 1020.7,320.4 1021.3,317.0 1021.9,316.6 1022.4,313.4 1023.0,316.0 1023.6,313.4 1024.2,305.9 1024.7,306.0 1025.3,310.4 1025.9,312.7 1026.5,304.0 1027.0,302.7 1027.6,303.8 1028.2,302.9 1028.8,300.7 1029.3,311.4 1029.9,310.4 1030.5,312.0 1031.1,314.6 1031.6,316.8 1032.2,312.7 1032.8,308.7 1033.4,311.2 1033.9,315.3 1034.5,310.8 1035.1,309.0 1035.7,307.9 1036.2,310.9 1036.8,307.7 1037.4,308.9 1038.0,308.5 1038.5,309.7 1039.1,313.5 1039.7,312.1 1040.3,318.3 1040.8,316.4 1041.4,310.9 1042.0,313.3 1042.6,319.1 1043.1,323.6 1043.7,318.3 1044.3,318.7 1044.9,324.3 1045.4,317.5 1046.0,318.0 1046.6,316.6 1047.2,309.3 1047.7,315.3 1048.3,318.1 1048.9,316.9 1049.5,311.1 1050.0,310.4 1050.6,317.3 1051.2,314.5 1051.8,320.9 1052.3,320.7 1052.9,330.1 1053.5,333.4 1054.1,329.3 1054.6,331.4 1055.2,334.8 1055.8,341.2 1056.4,347.7 1056.9,342.0 1057.5,343.5 1058.1,347.6 1058.7,350.6 1059.2,353.9 1059.8,359.3 1060.4,356.6 1061.0,348.4 1061.6,343.7 1062.1,343.2 1062.7,345.0 1063.3,338.1 1063.9,345.4 1064.4,347.7 1065.0,349.5 1065.6,357.1 1066.2,361.1 1066.7,365.9 1067.3,363.1 1067.9,357.1 1068.5,358.0 1069.0,348.6 1069.6,342.9 1070.2,341.0 1070.8,343.5 1071.3,345.6 1071.9,336.7 1072.5,335.5 1073.1,338.1 1073.6,341.7 1074.2,332.8 1074.8,335.0 1075.4,334.4 1075.9,326.8 1076.5,325.2 1077.1,322.2 1077.7,323.0 1078.2,326.9 1078.8,326.7 1079.4,323.6 1080.0,322.0 1080.5,322.8 1081.1,321.4 1081.7,317.3 1082.3,317.0 1082.8,317.7 1083.4,316.4 1084.0,314.5 1084.6,310.0 1085.1,309.5 1085.7,310.2 1086.3,311.4 1086.9,315.4 1087.4,317.7 1088.0,312.0 1088.6,313.4 1089.2,317.1 1089.7,313.8 1090.3,311.0 1090.9,308.3 1091.5,309.1 1092.0,308.3 1092.6,308.0 1093.2,304.5 1093.8,307.4 1094.3,306.4 1094.9,307.2 1095.5,310.2 1096.1,309.1 1096.6,311.8 1097.2,305.4 1097.8,306.2 1098.4,309.0 1098.9,306.6 1099.5,312.4 1100.1,310.5 1100.7,316.9 1101.2,314.3 1101.8,316.5 1102.4,316.9 1103.0,315.5 1103.5,318.9 1104.1,318.3 1104.7,316.7 1105.3,315.0 1105.8,313.9 1106.4,315.6 1107.0,310.2 1107.6,309.6 1108.1,306.1 1108.7,308.0 1109.3,307.6 1109.9,306.4 1110.4,310.7 1111.0,311.3 1111.6,310.2 1112.2,311.8 1112.7,311.4 1113.3,308.1 1113.9,305.3 1114.5,304.1 1115.0,304.9 1115.6,307.5 1116.2,310.3 1116.8,311.5 1117.3,315.7 1117.9,310.6 1118.5,314.6 1119.1,312.0 1119.6,313.5 1120.2,315.4 1120.8,316.4 1121.4,317.3 1121.9,317.4 1122.5,315.0 1123.1,305.6 1123.7,305.4 1124.2,302.6 1124.8,296.8 1125.4,295.2 1126.0,294.2 1126.5,292.7 1127.1,296.0 1127.7,293.8 1128.3,291.0 1128.8,296.3 1129.4,290.7 1130.0,290.2 1130.6,288.3 1131.2,287.5 1131.7,290.9 1132.3,292.1 1132.9,294.4 1133.5,295.2 1134.0,293.6 1134.6,290.4 1135.2,290.7 1135.8,291.2 1136.3,288.2 1136.9,292.2 1137.5,290.8 1138.1,284.1 1138.6,290.9 1139.2,286.2 1139.8,285.4 1140.4,286.1 1140.9,288.6 1141.5,287.1 1142.1,286.8 1142.7,287.0 1143.2,286.7 1143.8,287.0 1144.4,284.6 1145.0,288.9 1145.5,289.0 1146.1,287.4 1146.7,286.5 1147.3,289.8 1147.8,292.2 1148.4,293.1 1149.0,291.7 1149.6,286.1 1150.1,288.2 1150.7,292.0 1151.3,293.8 1151.9,293.0 1152.4,291.5 1153.0,296.0 1153.6,299.1 1154.2,296.3 1154.7,298.8 1155.3,296.0 1155.9,293.8 1156.5,298.2 1157.0,293.0 1157.6,293.0 1158.2,296.7 1158.8,294.9 1159.3,293.3 1159.9,293.0 1160.5,294.1 1161.1,293.8 1161.6,295.2 1162.2,293.7 1162.8,294.0 1163.4,295.0 1163.9,295.8 1164.5,291.4 1165.1,293.8 1165.7,293.2 1166.2,295.3 1166.8,294.7 1167.4,295.3 1168.0,294.2 1168.5,296.4 1169.1,300.2 1169.7,297.6 1170.3,299.4 1170.8,300.2 1171.4,306.1 1172.0,308.0 1172.6,307.1 1173.1,306.2 1173.7,305.0 1174.3,302.2 1174.9,301.0 1175.4,299.4 1176.0,295.3 1176.6,294.7 1177.2,292.2 1177.7,291.8 1178.3,287.8 1178.9,290.2 1179.5,288.8 1180.0,290.9 1180.6,284.6 1181.2,281.3 1181.8,283.0 1182.3,281.4 1182.9,281.8 1183.5,286.2 1184.1,280.1 1184.6,283.1 1185.2,280.5 1185.8,276.7 1186.4,274.6 1186.9,269.4 1187.5,273.2 1188.1,270.7 1188.7,271.2 1189.2,270.8 1189.8,268.3 1190.4,267.4 1191.0,269.7 1191.5,265.6 1192.1,269.8 1192.7,273.3 1193.3,272.8 1193.8,271.1 1194.4,275.9 1195.0,274.1 1195.6,273.8 1196.1,270.0 1196.7,271.8 1197.3,269.3" stroke="#EDB120" stroke-width="2.5" stroke-linejoin="round" fill="none"/>
<path d="M39.4,556.0h0M40.0,553.4h0M40.6,566.6h0M41.1,562.8h0M41.7,563.9h0M42.3,570.4h0M42.9,574.2h0M43.4,572.3h0M44.0,570.6h0M44.6,569.9h0M45.2,571.4h0M45.7,573.5h0M46.3,571.8h0M46.9,570.1h0M47.5,568.2h0M48.0,566.5h0M48.6,565.2h0M49.2,564.4h0M49.8,568.3h0M50.3,566.4h0M50.9,567.5h0M51.5,574.2h0M52.1,570.7h0M52.6,569.6h0M53.2,569.6h0M53.8,574.6h0M54.4,574.1h0M54.9,575.3h0M55.5,582.4h0M56.1,580.8h0M56.7,580.9h0M57.2,583.0h0M57.8,580.3h0M58.4,586.6h0M59.0,587.5h0M59.5,595.2h0M60.1,593.5h0M60.7,594.7h0M61.3,593.3h0M61.8,596.2h0M62.4,601.4h0M63.0,603.6h0M63.6,598.2h0M64.1,599.1h0M64.7,596.5h0M65.3,598.0h0M65.9,597.6h0M66.4,597.0h0M67.0,596.3h0M67.6,593.3h0M68.2,588.1h0M68.7,589.8h0M69.3,586.0h0M69.9,583.8h0M70.5,579.6h0M71.0,583.1h0M71.6,580.2h0M72.2,579.3h0M72.8,580.8h0M73.3,580.1h0M73.9,576.0h0M74.5,578.2h0M75.1,577.4h0M75.6,578.2h0M76.2,579.1h0M76.8,578.5h0M77.4,578.2h0M77.9,576.3h0M78.5,578.0h0M79.1,576.0h0M79.7,573.5h0M80.2,579.5h0M80.8,576.2h0M81.4,576.4h0M82.0,574.0h0M82.5,573.1h0M83.1,574.6h0M83.7,573.5h0M84.3,574.0h0M84.8,573.8h0M85.4,571.0h0M86.0,568.4h0M86.6,573.6h0M87.1,572.4h0M87.7,571.5h0M88.3,564.6h0M88.9,568.8h0M89.4,566.7h0M90.0,565.6h0M90.6,571.7h0M91.2,569.5h0M91.7,571.1h0M92.3,570.5h0M92.9,569.3h0M93.5,569.8h0M94.0,568.2h0M94.6,571.0h0M95.2,568.1h0M95.8,562.8h0M96.3,564.6h0M96.9,563.5h0M97.5,558.4h0M98.1,557.3h0M98.6,556.7h0M99.2,561.2h0M99.8,559.4h0M100.4,560.3h0M100.9,559.8h0M101.5,560.0h0M102.1,561.0h0M102.7,561.1h0M103.2,560.6h0M103.8,563.0h0M104.4,561.2h0M105.0,563.1h0M105.5,562.1h0M106.1,559.8h0M106.7,561.1h0M107.3,563.0h0M107.9,565.9h0M108.4,565.4h0M109.0,568.5h0M109.6,567.4h0M110.2,566.9h0M110.7,568.8h0M111.3,567.3h0M111.9,567.3h0M112.5,563.9h0M113.0,568.3h0M113.6,570.8h0M114.2,566.6h0M114.8,563.5h0M115.3,565.6h0M115.9,566.4h0M116.5,563.2h0M117.1,563.8h0M117.6,562.7h0M118.2,561.3h0M118.8,558.5h0M119.4,558.7h0M119.9,555.0h0M120.5,554.7h0M121.1,557.3h0M121.7,558.8h0M122.2,558.0h0M122.8,557.7h0M123.4,556.8h0M124.0,557.3h0M124.5,556.2h0M125.1,552.1h0M125.7,553.1h0M126.3,554.2h0M126.8,551.7h0M127.4,549.6h0M128.0,549.5h0M128.6,551.8h0M129.1,551.8h0M129.7,546.7h0M130.3,546.4h0M130.9,550.3h0M131.4,544.4h0M132.0,544.5h0M132.6,544.2h0M133.2,541.4h0M133.7,543.9h0M134.3,541.7h0M134.9,541.2h0M135.5,543.4h0M136.0,544.4h0M136.6,541.2h0M137.2,540.0h0M137.8,540.6h0M138.3,541.0h0M138.9,540.7h0M139.5,537.9h0M140.1,538.9h0M140.6,536.2h0M141.2,538.5h0M141.8,539.3h0M142.4,538.6h0M142.9,542.5h0M143.5,540.7h0M144.1,542.9h0M144.7,539.0h0M145.2,542.4h0M145.8,539.7h0M146.4,539.9h0M147.0,539.0h0M147.5,539.3h0M148.1,536.6h0M148.7,537.2h0M149.3,537.2h0M149.8,534.2h0M150.4,534.4h0M151.0,533.6h0M151.6,534.7h0M152.1,533.1h0M152.7,533.5h0M153.3,534.2h0M153.9,533.8h0M154.4,537.9h0M155.0,535.5h0M155.6,535.5h0M156.2,538.3h0M156.7,539.4h0M157.3,537.1h0M157.9,537.5h0M158.5,537.4h0M159.0,537.7h0M159.6,540.3h0M160.2,543.4h0M160.8,541.5h0M161.3,539.6h0M161.9,536.0h0M162.5,538.3h0M163.1,534.6h0M163.6,535.2h0M164.2,535.1h0M164.8,536.2h0M165.4,536.6h0M165.9,535.0h0M166.5,534.2h0M167.1,535.9h0M167.7,530.9h0M168.2,531.6h0M168.8,531.9h0M169.4,534.5h0M170.0,532.3h0M170.5,533.2h0M171.1,530.9h0M171.7,530.7h0M172.3,533.1h0M172.8,533.6h0M173.4,533.5h0M174.0,529.6h0M174.6,531.8h0M175.1,531.4h0M175.7,532.8h0M176.3,530.4h0M176.9,530.8h0M177.5,531.2h0M178.0,530.2h0M178.6,531.0h0M179.2,531.0h0M179.8,530.1h0M180.3,531.6h0M180.9,533.3h0M181.5,532.0h0M182.1,529.2h0M182.6,528.7h0M183.2,528.4h0M183.8,530.0h0M184.4,532.9h0M184.9,531.8h0M185.5,530.5h0M186.1,529.2h0M186.7,531.3h0M187.2,529.6h0M187.8,531.6h0M188.4,530.8h0M189.0,531.8h0M189.5,529.6h0M190.1,531.2h0M190.7,531.1h0M191.3,533.6h0M191.8,535.7h0M192.4,535.6h0M193.0,534.1h0M193.6,535.3h0M194.1,533.8h0M194.7,537.4h0M195.3,534.8h0M195.9,541.1h0M196.4,538.5h0M197.0,537.3h0M197.6,536.5h0M198.2,538.6h0M198.7,539.5h0M199.3,540.6h0M199.9,538.7h0M200.5,537.0h0M201.0,533.6h0M201.6,532.0h0M202.2,532.8h0M202.8,531.3h0M203.3,532.3h0M203.9,532.0h0M204.5,530.7h0M205.1,531.0h0M205.6,531.9h0M206.2,528.9h0M206.8,529.0h0M207.4,532.0h0M207.9,530.4h0M208.5,530.3h0M209.1,529.1h0M209.7,530.5h0M210.2,526.7h0M210.8,527.8h0M211.4,525.7h0M212.0,526.4h0M212.5,528.9h0M213.1,529.9h0M213.7,523.2h0M214.3,525.4h0M214.8,524.1h0M215.4,527.9h0M216.0,524.8h0M216.6,527.7h0M217.1,527.4h0M217.7,524.2h0M218.3,528.4h0M218.9,524.8h0M219.4,527.7h0M220.0,525.0h0M220.6,522.0h0M221.2,520.1h0M221.7,521.8h0M222.3,522.8h0M222.9,525.3h0M223.5,524.1h0M224.0,526.4h0M224.6,526.2h0M225.2,521.4h0M225.8,522.8h0M226.3,523.4h0M226.9,523.9h0M227.5,523.9h0M228.1,526.6h0M228.6,525.3h0M229.2,525.5h0M229.8,525.5h0M230.4,528.6h0M230.9,529.3h0M231.5,532.0h0M232.1,534.7h0M232.7,533.8h0M233.2,534.3h0M233.8,537.8h0M234.4,536.9h0M235.0,540.3h0M235.5,539.7h0M236.1,539.9h0M236.7,542.6h0M237.3,540.8h0M237.8,545.8h0M238.4,539.5h0M239.0,542.1h0M239.6,545.2h0M240.1,547.0h0M240.7,546.8h0M241.3,545.6h0M241.9,540.1h0M242.4,538.0h0M243.0,537.4h0M243.6,541.1h0M244.2,540.8h0M244.8,540.4h0M245.3,534.3h0M245.9,537.5h0M246.5,531.2h0M247.1,530.8h0M247.6,532.1h0M248.2,529.7h0M248.8,528.6h0M249.4,528.9h0M249.9,535.2h0M250.5,535.7h0M251.1,537.3h0M251.7,535.5h0M252.2,535.2h0M252.8,537.0h0M253.4,541.7h0M254.0,542.5h0M254.5,544.2h0M255.1,544.6h0M255.7,545.2h0M256.3,540.4h0M256.8,543.2h0M257.4,540.1h0M258.0,539.6h0M258.6,537.0h0M259.1,532.8h0M259.7,534.2h0M260.3,532.1h0M260.9,534.4h0M261.4,534.9h0M262.0,531.6h0M262.6,528.9h0M263.2,527.0h0M263.7,532.2h0M264.3,533.9h0M264.9,531.9h0M265.5,532.0h0M266.0,529.6h0M266.6,533.9h0M267.2,532.8h0M267.8,533.4h0M268.3,529.6h0M268.9,530.3h0M269.5,532.2h0M270.1,532.7h0M270.6,534.1h0M271.2,535.7h0M271.8,538.7h0M272.4,537.2h0M272.9,535.5h0M273.5,538.7h0M274.1,537.5h0M274.7,537.2h0M275.2,538.2h0M275.8,539.3h0M276.4,538.3h0M277.0,538.6h0M277.5,542.1h0M278.1,537.9h0M278.7,537.0h0M279.3,537.8h0M279.8,534.5h0M280.4,534.3h0M281.0,535.9h0M281.6,534.2h0M282.1,530.8h0M282.7,534.3h0M283.3,529.6h0M283.9,530.7h0M284.4,528.9h0M285.0,530.2h0M285.6,533.5h0M286.2,531.0h0M286.7,531.5h0M287.3,527.3h0M287.9,529.7h0M288.5,528.9h0M289.0,527.5h0M289.6,527.6h0M290.2,523.8h0M290.8,525.0h0M291.3,523.7h0M291.9,524.7h0M292.5,524.9h0M293.1,523.3h0M293.6,521.6h0M294.2,520.7h0M294.8,519.2h0M295.4,518.5h0M295.9,517.4h0M296.5,516.6h0M297.1,516.3h0M297.7,516.3h0M298.2,515.2h0M298.8,515.8h0M299.4,516.3h0M300.0,517.3h0M300.5,516.4h0M301.1,515.8h0M301.7,512.4h0M302.3,513.1h0M302.8,513.9h0M303.4,513.1h0M304.0,510.3h0M304.6,512.3h0M305.1,510.2h0M305.7,510.6h0M306.3,512.9h0M306.9,512.2h0M307.4,512.1h0M308.0,516.0h0M308.6,514.5h0M309.2,513.4h0M309.7,514.1h0M310.3,516.1h0M310.9,516.6h0M311.5,515.8h0M312.1,513.6h0M312.6,515.7h0M313.2,514.1h0M313.8,512.0h0M314.4,511.2h0M314.9,510.9h0M315.5,513.7h0M316.1,511.6h0M316.7,509.6h0M317.2,510.4h0M317.8,512.9h0M318.4,510.0h0M319.0,511.2h0M319.5,510.5h0M320.1,508.9h0M320.7,509.9h0M321.3,510.7h0M321.8,510.3h0M322.4,508.9h0M323.0,507.0h0M323.6,507.7h0M324.1,505.6h0M324.7,509.1h0M325.3,505.5h0M325.9,504.9h0M326.4,506.6h0M327.0,505.1h0M327.6,506.0h0M328.2,507.7h0M328.7,506.5h0M329.3,507.9h0M329.9,506.8h0M330.5,508.1h0M331.0,507.2h0M331.6,506.0h0M332.2,504.7h0M332.8,503.0h0M333.3,504.0h0M333.9,507.2h0M334.5,504.3h0M335.1,503.3h0M335.6,503.4h0M336.2,502.2h0M336.8,503.5h0M337.4,505.4h0M337.9,506.5h0M338.5,507.5h0M339.1,506.5h0M339.7,506.8h0M340.2,504.9h0M340.8,501.2h0M341.4,503.4h0M342.0,503.4h0M342.5,501.9h0M343.1,500.7h0M343.7,499.9h0M344.3,501.1h0M344.8,498.7h0M345.4,494.6h0M346.0,494.2h0M346.6,496.0h0M347.1,501.3h0M347.7,501.4h0M348.3,502.2h0M348.9,500.4h0M349.4,502.4h0M350.0,503.1h0M350.6,502.5h0M351.2,505.9h0M351.7,503.4h0M352.3,501.3h0M352.9,499.4h0M353.5,500.4h0M354.0,497.3h0M354.6,501.6h0M355.2,499.4h0M355.8,500.5h0M356.3,500.5h0M356.9,507.0h0M357.5,510.1h0M358.1,507.2h0M358.6,501.7h0M359.2,503.5h0M359.8,501.5h0M360.4,503.4h0M360.9,501.2h0M361.5,502.5h0M362.1,501.0h0M362.7,499.9h0M363.2,496.2h0M363.8,498.2h0M364.4,496.8h0M365.0,499.2h0M365.5,498.0h0M366.1,499.3h0M366.7,499.8h0M367.3,498.6h0M367.8,497.2h0M368.4,497.7h0M369.0,497.8h0M369.6,497.4h0M370.1,498.3h0M370.7,497.9h0M371.3,497.6h0M371.9,497.5h0M372.4,493.8h0M373.0,490.5h0M373.6,490.7h0M374.2,492.9h0M374.7,492.0h0M375.3,494.8h0M375.9,490.1h0M376.5,491.3h0M377.0,489.4h0M377.6,487.0h0M378.2,486.5h0M378.8,489.3h0M379.3,488.3h0M379.9,491.7h0M380.5,491.6h0M381.1,489.0h0M381.7,488.7h0M382.2,493.2h0M382.8,491.9h0M383.4,491.9h0M384.0,493.9h0M384.5,495.4h0M385.1,494.0h0M385.7,492.6h0M386.3,496.2h0M386.8,493.4h0M387.4,489.8h0M388.0,490.7h0M388.6,494.3h0M389.1,496.7h0M389.7,495.8h0M390.3,498.5h0M390.9,500.4h0M391.4,500.7h0M392.0,499.9h0M392.6,499.1h0M393.2,500.4h0M393.7,497.5h0M394.3,500.3h0M394.9,499.1h0M395.5,500.3h0M396.0,500.6h0M396.6,499.2h0M397.2,498.9h0M397.8,498.8h0M398.3,499.0h0M398.9,497.7h0M399.5,495.5h0M400.1,493.6h0M400.6,495.4h0M401.2,492.2h0M401.8,492.1h0M402.4,490.3h0M402.9,493.1h0M403.5,492.1h0M404.1,493.0h0M404.7,491.8h0M405.2,491.5h0M405.8,491.4h0M406.4,495.8h0M407.0,496.0h0M407.5,491.6h0M408.1,490.8h0M408.7,492.0h0M409.3,500.1h0M409.8,495.6h0M410.4,496.7h0M411.0,499.7h0M411.6,500.1h0M412.1,502.5h0M412.7,509.2h0M413.3,512.8h0M413.9,511.9h0M414.4,521.8h0M415.0,522.5h0M415.6,526.6h0M416.2,526.5h0M416.7,521.2h0M417.3,522.1h0M417.9,516.8h0M418.5,516.6h0M419.0,513.4h0M419.6,514.0h0M420.2,517.0h0M420.8,514.1h0M421.3,518.4h0M421.9,515.2h0M422.5,513.9h0M423.1,512.5h0M423.6,508.9h0M424.2,513.0h0M424.8,515.5h0M425.4,514.1h0M425.9,508.3h0M426.5,510.0h0M427.1,507.4h0M427.7,507.0h0M428.2,517.6h0M428.8,511.5h0M429.4,517.3h0M430.0,516.0h0M430.5,518.2h0M431.1,519.2h0M431.7,524.6h0M432.3,522.1h0M432.8,520.0h0M433.4,514.6h0M434.0,517.4h0M434.6,513.7h0M435.1,524.9h0M435.7,519.7h0M436.3,521.7h0M436.9,522.3h0M437.4,519.2h0M438.0,514.9h0M438.6,505.9h0M439.2,507.4h0M439.7,501.7h0M440.3,501.5h0M440.9,501.3h0M441.5,506.5h0M442.0,502.8h0M442.6,503.0h0M443.2,500.8h0M443.8,494.9h0M444.3,504.1h0M444.9,490.5h0M445.5,492.9h0M446.1,496.1h0M446.6,497.3h0M447.2,491.0h0M447.8,493.5h0M448.4,498.6h0M449.0,490.9h0M449.5,496.5h0M450.1,485.9h0M450.7,486.8h0M451.3,484.0h0M451.8,490.1h0M452.4,484.9h0M453.0,486.0h0M453.6,483.5h0M454.1,489.7h0M454.7,492.5h0M455.3,491.1h0M455.9,498.2h0M456.4,501.0h0M457.0,501.5h0M457.6,497.7h0M458.2,498.8h0M458.7,492.5h0M459.3,489.5h0M459.9,484.4h0M460.5,487.3h0M461.0,487.5h0M461.6,488.5h0M462.2,486.8h0M462.8,489.8h0M463.3,488.5h0M463.9,498.0h0M464.5,493.5h0M465.1,490.3h0M465.6,490.7h0M466.2,496.4h0M466.8,495.6h0M467.4,493.6h0M467.9,491.8h0M468.5,490.2h0M469.1,495.1h0M469.7,486.0h0M470.2,482.5h0M470.8,488.8h0M471.4,486.4h0M472.0,486.4h0M472.5,489.9h0M473.1,491.3h0M473.7,488.4h0M474.3,489.9h0M474.8,483.1h0M475.4,485.1h0M476.0,484.5h0M476.6,484.9h0M477.1,481.2h0M477.7,480.4h0M478.3,483.5h0M478.9,482.9h0M479.4,478.6h0M480.0,479.2h0M480.6,481.6h0M481.2,475.7h0M481.7,479.7h0M482.3,475.1h0M482.9,472.9h0M483.5,473.1h0M484.0,474.0h0M484.6,473.1h0M485.2,478.0h0M485.8,477.0h0M486.3,470.9h0M486.9,473.1h0M487.5,477.8h0M488.1,480.4h0M488.6,481.8h0M489.2,480.2h0M489.8,478.5h0M490.4,481.1h0M490.9,479.8h0M491.5,475.0h0M492.1,476.0h0M492.7,475.9h0M493.2,473.9h0M493.8,474.1h0M494.4,475.5h0M495.0,471.0h0M495.5,476.5h0M496.1,476.3h0M496.7,473.8h0M497.3,476.2h0M497.8,477.0h0M498.4,472.1h0M499.0,467.6h0M499.6,473.8h0M500.1,465.5h0M500.7,471.2h0M501.3,467.9h0M501.9,471.8h0M502.4,470.7h0M503.0,469.0h0M503.6,468.3h0M504.2,472.0h0M504.7,470.6h0M505.3,473.3h0M505.9,470.8h0M506.5,470.4h0M507.0,472.2h0M507.6,470.9h0M508.2,467.5h0M508.8,469.1h0M509.3,466.5h0M509.9,468.0h0M510.5,470.0h0M511.1,470.8h0M511.6,470.9h0M512.2,470.1h0M512.8,469.2h0M513.4,469.4h0M513.9,469.1h0M514.5,467.6h0M515.1,469.3h0M515.7,471.1h0M516.3,468.5h0M516.8,467.9h0M517.4,467.9h0M518.0,467.1h0M518.6,469.6h0M519.1,470.9h0M519.7,468.7h0M520.3,467.8h0M520.9,464.4h0M521.4,463.2h0M522.0,464.3h0M522.6,465.4h0M523.2,466.6h0M523.7,468.9h0M524.3,473.8h0M524.9,472.1h0M525.5,472.0h0M526.0,476.9h0M526.6,478.4h0M527.2,475.8h0M527.8,477.8h0M528.3,476.2h0M528.9,477.0h0M529.5,478.2h0M530.1,471.0h0M530.6,474.8h0M531.2,477.4h0M531.8,479.5h0M532.4,479.8h0M532.9,483.3h0M533.5,482.8h0M534.1,478.5h0M534.7,474.7h0M535.2,476.5h0M535.8,476.0h0M536.4,473.6h0M537.0,474.6h0M537.5,473.1h0M538.1,474.2h0M538.7,473.1h0M539.3,474.3h0M539.8,476.3h0M540.4,478.7h0M541.0,477.3h0M541.6,476.1h0M542.1,479.5h0M542.7,477.3h0M543.3,478.6h0M543.9,474.7h0M544.4,469.7h0M545.0,474.0h0M545.6,471.2h0M546.2,470.4h0M546.7,473.0h0M547.3,470.4h0M547.9,474.2h0M548.5,474.6h0M549.0,472.8h0M549.6,473.4h0M550.2,471.0h0M550.8,472.5h0M551.3,469.7h0M551.9,471.2h0M552.5,470.6h0M553.1,468.9h0M553.6,466.4h0M554.2,467.5h0M554.8,470.7h0M555.4,468.3h0M555.9,466.7h0M556.5,466.6h0M557.1,464.6h0M557.7,465.9h0M558.2,463.4h0M558.8,462.0h0M559.4,463.2h0M560.0,464.2h0M560.5,461.1h0M561.1,459.6h0M561.7,461.8h0M562.3,462.8h0M562.8,463.3h0M563.4,461.7h0M564.0,461.8h0M564.6,460.2h0M565.1,460.5h0M565.7,460.8h0M566.3,457.2h0M566.9,458.3h0M567.4,459.3h0M568.0,460.2h0M568.6,461.0h0M569.2,456.7h0M569.7,455.2h0M570.3,455.8h0M570.9,456.2h0M571.5,455.8h0M572.0,456.9h0M572.6,457.5h0M573.2,457.3h0M573.8,454.6h0M574.3,454.3h0M574.9,456.6h0M575.5,456.6h0M576.1,451.7h0M576.6,452.6h0M577.2,453.2h0M577.8,453.0h0M578.4,450.2h0M578.9,451.6h0M579.5,450.5h0M580.1,451.8h0M580.7,453.7h0M581.2,453.3h0M581.8,453.6h0M582.4,453.3h0M583.0,453.3h0M583.5,455.7h0M584.1,453.4h0M584.7,452.6h0M585.3,456.8h0M585.9,454.1h0M586.4,457.9h0M587.0,458.0h0M587.6,459.0h0M588.2,456.5h0M588.7,459.3h0M589.3,456.7h0M589.9,458.1h0M590.5,457.9h0M591.0,456.9h0M591.6,458.0h0M592.2,461.4h0M592.8,459.9h0M593.3,458.4h0M593.9,457.0h0M594.5,462.7h0M595.1,460.2h0M595.6,459.7h0M596.2,461.7h0M596.8,464.0h0M597.4,463.8h0M597.9,465.5h0M598.5,465.8h0M599.1,468.7h0M599.7,464.6h0M600.2,464.4h0M600.8,463.4h0M601.4,462.8h0M602.0,463.0h0M602.5,459.9h0M603.1,459.6h0M603.7,457.3h0M604.3,459.1h0M604.8,458.4h0M605.4,456.9h0M606.0,457.3h0M606.6,455.1h0M607.1,452.9h0M607.7,454.9h0M608.3,456.4h0M608.9,452.1h0M609.4,452.6h0M610.0,453.0h0M610.6,452.9h0M611.2,454.1h0M611.7,453.5h0M612.3,455.1h0M612.9,455.1h0M613.5,456.0h0M614.0,456.7h0M614.6,457.3h0M615.2,459.6h0M615.8,458.5h0M616.3,462.1h0M616.9,458.9h0M617.5,459.4h0M618.1,456.3h0M618.6,454.7h0M619.2,453.8h0M619.8,453.8h0M620.4,450.7h0M620.9,450.1h0M621.5,452.0h0M622.1,451.5h0M622.7,448.4h0M623.2,450.4h0M623.8,448.3h0M624.4,446.0h0M625.0,448.6h0M625.5,446.1h0M626.1,443.1h0M626.7,442.2h0M627.3,442.5h0M627.8,443.3h0M628.4,442.7h0M629.0,441.1h0M629.6,440.2h0M630.1,444.3h0M630.7,445.0h0M631.3,440.9h0M631.9,441.9h0M632.4,438.9h0M633.0,442.5h0M633.6,439.8h0M634.2,442.2h0M634.7,439.9h0M635.3,437.4h0M635.9,437.0h0M636.5,437.6h0M637.0,437.2h0M637.6,438.1h0M638.2,439.7h0M638.8,440.1h0M639.3,439.2h0M639.9,437.5h0M640.5,436.6h0M641.1,437.5h0M641.6,433.1h0M642.2,434.7h0M642.8,431.4h0M643.4,434.7h0M643.9,431.0h0M644.5,431.2h0M645.1,430.9h0M645.7,428.4h0M646.2,429.7h0M646.8,431.4h0M647.4,429.7h0M648.0,429.1h0M648.5,428.5h0M649.1,428.3h0M649.7,432.1h0M650.3,431.3h0M650.8,428.2h0M651.4,427.0h0M652.0,424.5h0M652.6,424.6h0M653.2,425.7h0M653.7,424.4h0M654.3,425.4h0M654.9,422.3h0M655.5,423.7h0M656.0,422.3h0M656.6,422.4h0M657.2,418.9h0M657.8,421.3h0M658.3,420.0h0M658.9,425.0h0M659.5,422.0h0M660.1,421.2h0M660.6,419.4h0M661.2,418.6h0M661.8,419.2h0M662.4,418.3h0M662.9,417.9h0M663.5,418.3h0M664.1,418.9h0M664.7,415.2h0M665.2,414.6h0M665.8,415.7h0M666.4,416.0h0M667.0,416.8h0M667.5,412.3h0M668.1,413.2h0M668.7,414.0h0M669.3,414.2h0M669.8,410.7h0M670.4,410.4h0M671.0,413.9h0M671.6,411.8h0M672.1,413.5h0M672.7,411.2h0M673.3,412.2h0M673.9,410.5h0M674.4,412.9h0M675.0,415.2h0M675.6,415.1h0M676.2,418.9h0M676.7,418.3h0M677.3,421.7h0M677.9,425.6h0M678.5,422.0h0M679.0,422.0h0M679.6,422.2h0M680.2,423.9h0M680.8,421.8h0M681.3,421.8h0M681.9,420.7h0M682.5,421.1h0M683.1,422.4h0M683.6,424.0h0M684.2,425.9h0M684.8,427.2h0M685.4,428.0h0M685.9,429.2h0M686.5,429.9h0M687.1,428.3h0M687.7,428.2h0M688.2,425.1h0M688.8,424.1h0M689.4,424.9h0M690.0,425.2h0M690.5,421.6h0M691.1,419.2h0M691.7,418.0h0M692.3,412.9h0M692.8,410.2h0M693.4,410.8h0M694.0,409.4h0M694.6,406.9h0M695.1,406.3h0M695.7,406.1h0M696.3,407.6h0M696.9,407.7h0M697.4,404.7h0M698.0,407.0h0M698.6,408.1h0M699.2,408.7h0M699.7,406.0h0M700.3,407.7h0M700.9,407.2h0M701.5,408.8h0M702.0,408.8h0M702.6,407.9h0M703.2,408.3h0M703.8,403.9h0M704.3,408.2h0M704.9,408.2h0M705.5,406.9h0M706.1,412.6h0M706.6,412.2h0M707.2,412.2h0M707.8,414.3h0M708.4,413.4h0M708.9,415.9h0M709.5,415.6h0M710.1,418.5h0M710.7,417.5h0M711.2,416.0h0M711.8,414.6h0M712.4,414.5h0M713.0,414.6h0M713.5,414.2h0M714.1,413.4h0M714.7,412.1h0M715.3,409.6h0M715.8,408.3h0M716.4,409.4h0M717.0,408.2h0M717.6,407.5h0M718.1,406.8h0M718.7,406.1h0M719.3,403.0h0M719.9,400.5h0M720.4,400.5h0M721.0,401.1h0M721.6,404.5h0M722.2,405.6h0M722.8,407.3h0M723.3,408.4h0M723.9,408.6h0M724.5,407.7h0M725.1,407.4h0M725.6,411.4h0M726.2,409.9h0M726.8,413.6h0M727.4,416.6h0M727.9,416.3h0M728.5,413.0h0M729.1,411.3h0M729.7,407.1h0M730.2,408.4h0M730.8,407.1h0M731.4,404.8h0M732.0,405.1h0M732.5,398.1h0M733.1,400.2h0M733.7,399.9h0M734.3,395.0h0M734.8,395.2h0M735.4,395.4h0M736.0,396.9h0M736.6,394.4h0M737.1,395.1h0M737.7,394.4h0M738.3,395.6h0M738.9,399.8h0M739.4,401.0h0M740.0,394.6h0M740.6,392.6h0M741.2,393.3h0M741.7,392.8h0M742.3,389.5h0M742.9,393.3h0M743.5,389.2h0M744.0,386.6h0M744.6,389.1h0M745.2,387.4h0M745.8,387.4h0M746.3,385.4h0M746.9,386.8h0M747.5,387.1h0M748.1,391.1h0M748.6,387.9h0M749.2,389.2h0M749.8,387.3h0M750.4,392.7h0M750.9,392.6h0M751.5,392.0h0M752.1,388.2h0M752.7,388.5h0M753.2,392.5h0M753.8,390.9h0M754.4,392.5h0M755.0,389.6h0M755.5,390.2h0M756.1,388.7h0M756.7,388.3h0M757.3,389.0h0M757.8,385.4h0M758.4,383.8h0M759.0,383.8h0M759.6,383.0h0M760.1,381.9h0M760.7,380.1h0M761.3,381.6h0M761.9,381.8h0M762.4,383.4h0M763.0,380.6h0M763.6,381.9h0M764.2,377.2h0M764.7,379.6h0M765.3,378.9h0M765.9,382.3h0M766.5,381.8h0M767.0,382.3h0M767.6,381.3h0M768.2,381.3h0M768.8,383.3h0M769.3,378.6h0M769.9,380.5h0M770.5,379.5h0M771.1,379.5h0M771.6,379.4h0M772.2,383.4h0M772.8,384.8h0M773.4,390.0h0M773.9,392.5h0M774.5,396.3h0M775.1,398.7h0M775.7,395.8h0M776.2,387.6h0M776.8,384.5h0M777.4,383.4h0M778.0,382.7h0M778.5,379.5h0M779.1,381.0h0M779.7,379.2h0M780.3,379.9h0M780.8,377.0h0M781.4,374.8h0M782.0,378.9h0M782.6,377.3h0M783.1,377.4h0M783.7,376.3h0M784.3,372.7h0M784.9,373.6h0M785.4,374.7h0M786.0,374.3h0M786.6,371.1h0M787.2,372.3h0M787.7,371.4h0M788.3,370.6h0M788.9,368.8h0M789.5,369.1h0M790.1,369.5h0M790.6,371.6h0M791.2,372.4h0M791.8,370.4h0M792.4,370.8h0M792.9,375.3h0M793.5,375.3h0M794.1,375.2h0M794.7,375.2h0M795.2,374.5h0M795.8,371.8h0M796.4,368.9h0M797.0,368.0h0M797.5,367.0h0M798.1,370.5h0M798.7,368.4h0M799.3,366.9h0M799.8,367.8h0M800.4,368.3h0M801.0,368.2h0M801.6,367.9h0M802.1,365.3h0M802.7,367.5h0M803.3,368.9h0M803.9,365.6h0M804.4,366.5h0M805.0,365.2h0M805.6,366.7h0M806.2,365.0h0M806.7,364.4h0M807.3,363.8h0M807.9,368.1h0M808.5,362.5h0M809.0,363.2h0M809.6,363.6h0M810.2,365.9h0M810.8,365.3h0M811.3,362.9h0M811.9,365.2h0M812.5,363.4h0M813.1,363.0h0M813.6,364.0h0M814.2,363.3h0M814.8,361.2h0M815.4,362.2h0M815.9,363.0h0M816.5,365.2h0M817.1,363.1h0M817.7,361.7h0M818.2,364.3h0M818.8,361.3h0M819.4,360.0h0M820.0,362.8h0M820.5,359.9h0M821.1,357.8h0M821.7,355.2h0M822.3,355.8h0M822.8,353.1h0M823.4,355.7h0M824.0,352.8h0M824.6,353.6h0M825.1,352.0h0M825.7,353.3h0M826.3,357.8h0M826.9,356.2h0M827.4,358.6h0M828.0,358.0h0M828.6,357.2h0M829.2,358.3h0M829.7,358.0h0M830.3,351.9h0M830.9,352.6h0M831.5,348.9h0M832.0,351.3h0M832.6,347.3h0M833.2,347.5h0M833.8,347.6h0M834.3,346.5h0M834.9,348.3h0M835.5,347.1h0M836.1,344.8h0M836.6,348.0h0M837.2,348.7h0M837.8,347.9h0M838.4,347.3h0M838.9,348.2h0M839.5,344.8h0M840.1,343.2h0M840.7,348.7h0M841.2,348.7h0M841.8,349.8h0M842.4,348.9h0M843.0,349.8h0M843.5,354.6h0M844.1,352.2h0M844.7,351.9h0M845.3,355.0h0M845.8,356.7h0M846.4,354.3h0M847.0,357.6h0M847.6,356.4h0M848.1,360.1h0M848.7,357.8h0M849.3,357.9h0M849.9,357.0h0M850.4,355.4h0M851.0,354.7h0M851.6,352.0h0M852.2,349.1h0M852.7,350.8h0M853.3,353.0h0M853.9,347.1h0M854.5,346.4h0M855.0,347.0h0M855.6,347.3h0M856.2,344.5h0M856.8,346.2h0M857.4,347.4h0M857.9,344.1h0M858.5,353.6h0M859.1,349.5h0M859.7,357.8h0M860.2,359.1h0M860.8,357.7h0M861.4,358.2h0M862.0,352.1h0M862.5,355.6h0M863.1,360.6h0M863.7,363.2h0M864.3,362.6h0M864.8,362.9h0M865.4,363.4h0M866.0,367.2h0M866.6,367.2h0M867.1,365.4h0M867.7,366.1h0M868.3,368.9h0M868.9,366.5h0M869.4,371.2h0M870.0,378.3h0M870.6,381.8h0M871.2,381.4h0M871.7,386.1h0M872.3,385.7h0M872.9,385.0h0M873.5,391.8h0M874.0,392.9h0M874.6,396.0h0M875.2,401.2h0M875.8,394.3h0M876.3,390.0h0M876.9,388.5h0M877.5,386.7h0M878.1,381.3h0M878.6,382.6h0M879.2,379.8h0M879.8,376.5h0M880.4,372.6h0M880.9,376.7h0M881.5,374.1h0M882.1,374.4h0M882.7,375.0h0M883.2,372.2h0M883.8,372.9h0M884.4,368.5h0M885.0,365.5h0M885.5,371.6h0M886.1,369.6h0M886.7,371.2h0M887.3,377.2h0M887.8,377.8h0M888.4,374.4h0M889.0,377.4h0M889.6,379.4h0M890.1,377.0h0M890.7,378.2h0M891.3,375.2h0M891.9,377.0h0M892.4,371.4h0M893.0,371.8h0M893.6,372.6h0M894.2,370.6h0M894.7,368.7h0M895.3,370.0h0M895.9,372.4h0M896.5,375.1h0M897.0,378.6h0M897.6,379.3h0M898.2,379.3h0M898.8,381.3h0M899.3,389.1h0M899.9,388.6h0M900.5,388.3h0M901.1,382.0h0M901.6,379.4h0M902.2,376.1h0M902.8,375.7h0M903.4,377.1h0M903.9,372.5h0M904.5,372.1h0M905.1,374.5h0M905.7,375.1h0M906.2,375.5h0M906.8,375.0h0M907.4,377.0h0M908.0,378.0h0M908.5,376.4h0M909.1,378.7h0M909.7,380.3h0M910.3,379.6h0M910.8,381.5h0M911.4,385.6h0M912.0,382.9h0M912.6,379.1h0M913.1,381.2h0M913.7,379.1h0M914.3,376.3h0M914.9,376.1h0M915.4,378.9h0M916.0,380.0h0M916.6,378.0h0M917.2,382.3h0M917.7,381.0h0M918.3,383.4h0M918.9,380.5h0M919.5,377.6h0M920.0,375.4h0M920.6,373.0h0M921.2,371.3h0M921.8,371.6h0M922.3,369.8h0M922.9,370.8h0M923.5,368.0h0M924.1,365.9h0M924.6,367.8h0M925.2,364.9h0M925.8,363.6h0M926.4,359.1h0M927.0,361.7h0M927.5,363.0h0M928.1,359.0h0M928.7,361.6h0M929.3,363.0h0M929.8,365.2h0M930.4,366.9h0M931.0,367.9h0M931.6,374.2h0M932.1,375.4h0M932.7,375.3h0M933.3,375.9h0M933.9,375.8h0M934.4,376.9h0M935.0,375.0h0M935.6,374.6h0M936.2,373.1h0M936.7,371.8h0M937.3,376.9h0M937.9,376.7h0M938.5,372.0h0M939.0,369.8h0M939.6,371.4h0M940.2,372.3h0M940.8,369.4h0M941.3,370.6h0M941.9,370.5h0M942.5,370.7h0M943.1,373.4h0M943.6,375.7h0M944.2,378.0h0M944.8,378.0h0M945.4,370.7h0M945.9,372.0h0M946.5,371.2h0M947.1,373.7h0M947.7,369.8h0M948.2,366.1h0M948.8,371.7h0M949.4,368.6h0M950.0,368.3h0M950.5,370.2h0M951.1,370.0h0M951.7,366.7h0M952.3,366.9h0M952.8,370.6h0M953.4,371.3h0M954.0,365.7h0M954.6,363.0h0M955.1,362.9h0M955.7,367.1h0M956.3,366.6h0M956.9,365.3h0M957.4,364.5h0M958.0,361.0h0M958.6,363.8h0M959.2,363.8h0M959.7,361.5h0M960.3,368.2h0M960.9,369.1h0M961.5,364.7h0M962.0,363.9h0M962.6,365.2h0M963.2,361.7h0M963.8,361.9h0M964.3,365.6h0M964.9,364.9h0M965.5,365.9h0M966.1,365.8h0M966.6,365.0h0M967.2,367.1h0M967.8,368.2h0M968.4,367.6h0M968.9,370.4h0M969.5,367.2h0M970.1,362.7h0M970.7,363.3h0M971.2,366.6h0M971.8,367.0h0M972.4,366.4h0M973.0,364.8h0M973.5,364.8h0M974.1,363.3h0M974.7,366.8h0M975.3,366.2h0M975.8,366.1h0M976.4,369.2h0M977.0,372.1h0M977.6,372.4h0M978.1,372.5h0M978.7,371.1h0M979.3,368.0h0M979.9,371.0h0M980.4,369.5h0M981.0,365.2h0M981.6,364.5h0M982.2,362.1h0M982.7,361.8h0M983.3,362.3h0M983.9,358.9h0M984.5,359.1h0M985.0,358.7h0M985.6,361.0h0M986.2,363.8h0M986.8,359.5h0M987.3,356.7h0M987.9,360.5h0M988.5,359.8h0M989.1,362.4h0M989.6,358.9h0M990.2,358.6h0M990.8,355.6h0M991.4,356.8h0M991.9,357.6h0M992.5,358.9h0M993.1,360.5h0M993.7,365.3h0M994.3,362.0h0M994.8,359.1h0M995.4,363.7h0M996.0,365.8h0M996.6,356.8h0M997.1,362.6h0M997.7,364.5h0M998.3,368.0h0M998.9,355.1h0M999.4,357.2h0M1000.0,358.4h0M1000.6,369.6h0M1001.2,375.5h0M1001.7,389.6h0M1002.3,394.3h0M1002.9,386.0h0M1003.5,394.4h0M1004.0,392.4h0M1004.6,377.9h0M1005.2,380.6h0M1005.8,378.4h0M1006.3,380.3h0M1006.9,373.4h0M1007.5,375.0h0M1008.1,376.1h0M1008.6,372.0h0M1009.2,375.0h0M1009.8,374.4h0M1010.4,373.6h0M1010.9,374.5h0M1011.5,378.2h0M1012.1,378.7h0M1012.7,377.8h0M1013.2,377.3h0M1013.8,375.7h0M1014.4,382.9h0M1015.0,383.4h0M1015.5,376.0h0M1016.1,377.9h0M1016.7,372.3h0M1017.3,361.9h0M1017.8,363.9h0M1018.4,364.6h0M1019.0,367.0h0M1019.6,364.7h0M1020.1,359.7h0M1020.7,361.1h0M1021.3,358.9h0M1021.9,355.3h0M1022.4,356.7h0M1023.0,358.5h0M1023.6,356.0h0M1024.2,356.0h0M1024.7,353.1h0M1025.3,346.4h0M1025.9,346.9h0M1026.5,348.6h0M1027.0,341.9h0M1027.6,344.3h0M1028.2,347.2h0M1028.8,345.3h0M1029.3,347.9h0M1029.9,350.8h0M1030.5,355.9h0M1031.1,356.5h0M1031.6,355.6h0M1032.2,362.0h0M1032.8,357.7h0M1033.4,355.1h0M1033.9,350.6h0M1034.5,347.8h0M1035.1,342.9h0M1035.7,346.4h0M1036.2,352.3h0M1036.8,352.5h0M1037.4,353.4h0M1038.0,343.5h0M1038.5,346.2h0M1039.1,345.2h0M1039.7,347.9h0M1040.3,353.1h0M1040.8,352.4h0M1041.4,354.7h0M1042.0,358.8h0M1042.6,360.5h0M1043.1,361.0h0M1043.7,362.5h0M1044.3,363.7h0M1044.9,360.2h0M1045.4,358.9h0M1046.0,356.0h0M1046.6,353.7h0M1047.2,355.3h0M1047.7,363.7h0M1048.3,352.5h0M1048.9,354.8h0M1049.5,361.3h0M1050.0,361.7h0M1050.6,359.7h0M1051.2,364.0h0M1051.8,365.0h0M1052.3,368.3h0M1052.9,370.3h0M1053.5,365.9h0M1054.1,371.6h0M1054.6,361.4h0M1055.2,363.4h0M1055.8,364.8h0M1056.4,364.1h0M1056.9,366.1h0M1057.5,371.0h0M1058.1,371.5h0M1058.7,367.4h0M1059.2,369.0h0M1059.8,372.6h0M1060.4,374.4h0M1061.0,374.2h0M1061.6,377.0h0M1062.1,378.2h0M1062.7,376.4h0M1063.3,372.3h0M1063.9,374.0h0M1064.4,367.9h0M1065.0,375.3h0M1065.6,375.0h0M1066.2,375.8h0M1066.7,371.2h0M1067.3,379.7h0M1067.9,377.7h0M1068.5,373.9h0M1069.0,367.8h0M1069.6,367.6h0M1070.2,366.2h0M1070.8,366.6h0M1071.3,363.4h0M1071.9,368.3h0M1072.5,372.4h0M1073.1,365.6h0M1073.6,360.1h0M1074.2,366.8h0M1074.8,364.0h0M1075.4,362.8h0M1075.9,361.4h0M1076.5,359.2h0M1077.1,358.7h0M1077.7,357.3h0M1078.2,349.9h0M1078.8,355.1h0M1079.4,352.0h0M1080.0,353.2h0M1080.5,350.2h0M1081.1,349.5h0M1081.7,347.0h0M1082.3,352.6h0M1082.8,351.1h0M1083.4,349.4h0M1084.0,351.2h0M1084.6,350.6h0M1085.1,346.3h0M1085.7,341.2h0M1086.3,342.6h0M1086.9,344.9h0M1087.4,347.3h0M1088.0,346.1h0M1088.6,343.5h0M1089.2,342.4h0M1089.7,339.8h0M1090.3,337.1h0M1090.9,338.8h0M1091.5,337.5h0M1092.0,340.2h0M1092.6,337.6h0M1093.2,339.4h0M1093.8,337.6h0M1094.3,333.7h0M1094.9,336.8h0M1095.5,335.9h0M1096.1,333.3h0M1096.6,335.6h0M1097.2,339.4h0M1097.8,337.4h0M1098.4,339.3h0M1098.9,339.2h0M1099.5,338.6h0M1100.1,336.6h0M1100.7,337.5h0M1101.2,340.9h0M1101.8,339.8h0M1102.4,345.1h0M1103.0,345.8h0M1103.5,343.4h0M1104.1,343.7h0M1104.7,343.6h0M1105.3,343.0h0M1105.8,345.1h0M1106.4,345.2h0M1107.0,346.5h0M1107.6,349.5h0M1108.1,347.0h0M1108.7,347.3h0M1109.3,344.3h0M1109.9,342.6h0M1110.4,339.3h0M1111.0,339.5h0M1111.6,336.6h0M1112.2,335.5h0M1112.7,333.2h0M1113.3,332.8h0M1113.9,336.2h0M1114.5,339.2h0M1115.0,338.6h0M1115.6,339.4h0M1116.2,339.0h0M1116.8,336.6h0M1117.3,337.6h0M1117.9,337.5h0M1118.5,338.3h0M1119.1,339.8h0M1119.6,340.5h0M1120.2,346.0h0M1120.8,344.6h0M1121.4,344.7h0M1121.9,341.5h0M1122.5,342.2h0M1123.1,339.2h0M1123.7,334.7h0M1124.2,332.1h0M1124.8,333.3h0M1125.4,330.4h0M1126.0,328.4h0M1126.5,326.0h0M1127.1,324.8h0M1127.7,322.9h0M1128.3,319.7h0M1128.8,320.5h0M1129.4,319.6h0M1130.0,321.3h0M1130.6,319.7h0M1131.2,317.8h0M1131.7,320.7h0M1132.3,321.6h0M1132.9,320.8h0M1133.5,317.2h0M1134.0,318.8h0M1134.6,317.7h0M1135.2,323.2h0M1135.8,320.9h0M1136.3,318.4h0M1136.9,322.0h0M1137.5,321.5h0M1138.1,322.0h0M1138.6,321.7h0M1139.2,320.4h0M1139.8,321.0h0M1140.4,320.3h0M1140.9,319.2h0M1141.5,322.8h0M1142.1,325.6h0M1142.7,321.9h0M1143.2,323.8h0M1143.8,325.5h0M1144.4,328.0h0M1145.0,330.2h0M1145.5,325.1h0M1146.1,328.0h0M1146.7,327.9h0M1147.3,327.8h0M1147.8,328.2h0M1148.4,327.1h0M1149.0,323.8h0M1149.6,328.7h0M1150.1,330.0h0M1150.7,332.6h0M1151.3,335.0h0M1151.9,334.5h0M1152.4,340.0h0M1153.0,341.3h0M1153.6,337.6h0M1154.2,336.6h0M1154.7,330.9h0M1155.3,330.7h0M1155.9,329.7h0M1156.5,334.0h0M1157.0,334.8h0M1157.6,335.7h0M1158.2,332.9h0M1158.8,335.9h0M1159.3,339.8h0M1159.9,339.6h0M1160.5,341.3h0M1161.1,339.8h0M1161.6,343.8h0M1162.2,343.6h0M1162.8,343.4h0M1163.4,347.5h0M1163.9,348.1h0M1164.5,347.9h0M1165.1,345.0h0M1165.7,344.2h0M1166.2,343.1h0M1166.8,347.9h0M1167.4,344.3h0M1168.0,341.5h0M1168.5,342.6h0M1169.1,344.3h0M1169.7,345.2h0M1170.3,344.6h0M1170.8,349.5h0M1171.4,349.5h0M1172.0,348.9h0M1172.6,351.3h0M1173.1,346.0h0M1173.7,348.6h0M1174.3,344.2h0M1174.9,342.8h0M1175.4,343.2h0M1176.0,341.0h0M1176.6,340.8h0M1177.2,340.3h0M1177.7,343.4h0M1178.3,340.5h0M1178.9,341.5h0M1179.5,341.9h0M1180.0,340.9h0M1180.6,338.3h0M1181.2,337.2h0M1181.8,336.3h0M1182.3,333.3h0M1182.9,335.9h0M1183.5,338.3h0M1184.1,337.2h0M1184.6,334.0h0M1185.2,334.5h0M1185.8,331.7h0M1186.4,328.4h0M1186.9,331.9h0M1187.5,327.8h0M1188.1,327.3h0M1188.7,327.0h0M1189.2,328.6h0M1189.8,326.3h0M1190.4,328.6h0M1191.0,326.4h0M1191.5,330.6h0M1192.1,334.3h0M1192.7,331.8h0M1193.3,330.4h0M1193.8,329.9h0M1194.4,329.7h0M1195.0,327.3h0M1195.6,331.8h0M1196.1,333.9h0M1196.7,331.5h0M1197.3,325.4h0" stroke="#000" stroke-width="4.4" stroke-linecap="round" fill="none"/>
</g>
<!--AXES-->
<g font-size="10.3" text-anchor="middle"><text x="128.0" y="672.5">Aug09</text><text x="326.2" y="672.5">Dec10</text><text x="524.4" y="672.5">May12</text><text x="722.5" y="672.5">Sep13</text><text x="920.8" y="672.5">Feb15</text><text x="1119.0" y="672.5">Jun16</text></g>
<g font-size="10.3" text-anchor="end"><text x="35.2" y="62.7">350</text><text x="35.2" y="162.3">300</text><text x="35.2" y="261.8">250</text><text x="35.2" y="361.3">200</text><text x="35.2" y="460.7">150</text><text x="35.2" y="560.1">100</text><text x="35.2" y="659.5">50</text></g>
<text x="618.2" y="694.6" font-size="11.4" text-anchor="middle">Dates</text>
<text transform="translate(8.1,304) rotate(-90)" font-size="11.4" text-anchor="middle">Value</text>
<text x="615.6" y="8.3" font-size="11.4" font-weight="bold" text-anchor="middle" fill="#000" style="fill:#000">Monthly Rebalanced Portfolio vs Components</text>
<path d="M275,142.0h23.7" stroke-width="2.2" stroke="#0072BD"/>
<text x="301" y="146.0" font-size="9" fill="#000" style="fill:#000">xlb</text>
<path d="M275,155.0h23.7" stroke-width="2.2" stroke="#D95319"/>
<text x="301" y="159.0" font-size="9" fill="#000" style="fill:#000">xle</text>
<path d="M275,168.0h23.7" stroke-width="2.2" stroke="#EDB120"/>
<text x="301" y="172.0" font-size="9" fill="#000" style="fill:#000">xlf</text>
<path d="M275,181.0h23.7" stroke-width="2.2" stroke="#7E2F8E"/>
<text x="301" y="185.0" font-size="9" fill="#000" style="fill:#000">xli</text>
<path d="M275,193.7h23.7" stroke-width="2.2" stroke="#77AC30"/>
<text x="301" y="197.7" font-size="9" fill="#000" style="fill:#000">xlk</text>
<path d="M275,206.5h23.7" stroke-width="2.2" stroke="#4DBEEE"/>
<text x="301" y="210.5" font-size="9" fill="#000" style="fill:#000">xlp</text>
<path d="M275,219.4h23.7" stroke-width="2.2" stroke="#A2142F"/>
<text x="301" y="223.4" font-size="9" fill="#000" style="fill:#000">xlu</text>
<path d="M275,232.1h23.7" stroke-width="2.2" stroke="#0072BD"/>
<text x="301" y="236.1" font-size="9" fill="#000" style="fill:#000">xlv</text>
<path d="M275,245.0h23.7" stroke-width="2.2" stroke="#D95319"/>
<text x="301" y="249.0" font-size="9" fill="#000" style="fill:#000">xly</text>
<path d="M275,257.7h23.7" stroke-width="2.2" stroke="#EDB120"/>
<text x="301" y="261.7" font-size="9" fill="#000" style="fill:#000">spx</text>
<circle cx="286.6" cy="270.5" r="2.3" fill="#000"/>
<text x="301" y="274.5" font-size="9" style="fill:#000">portfolio</text>
</svg>
</body></html>
